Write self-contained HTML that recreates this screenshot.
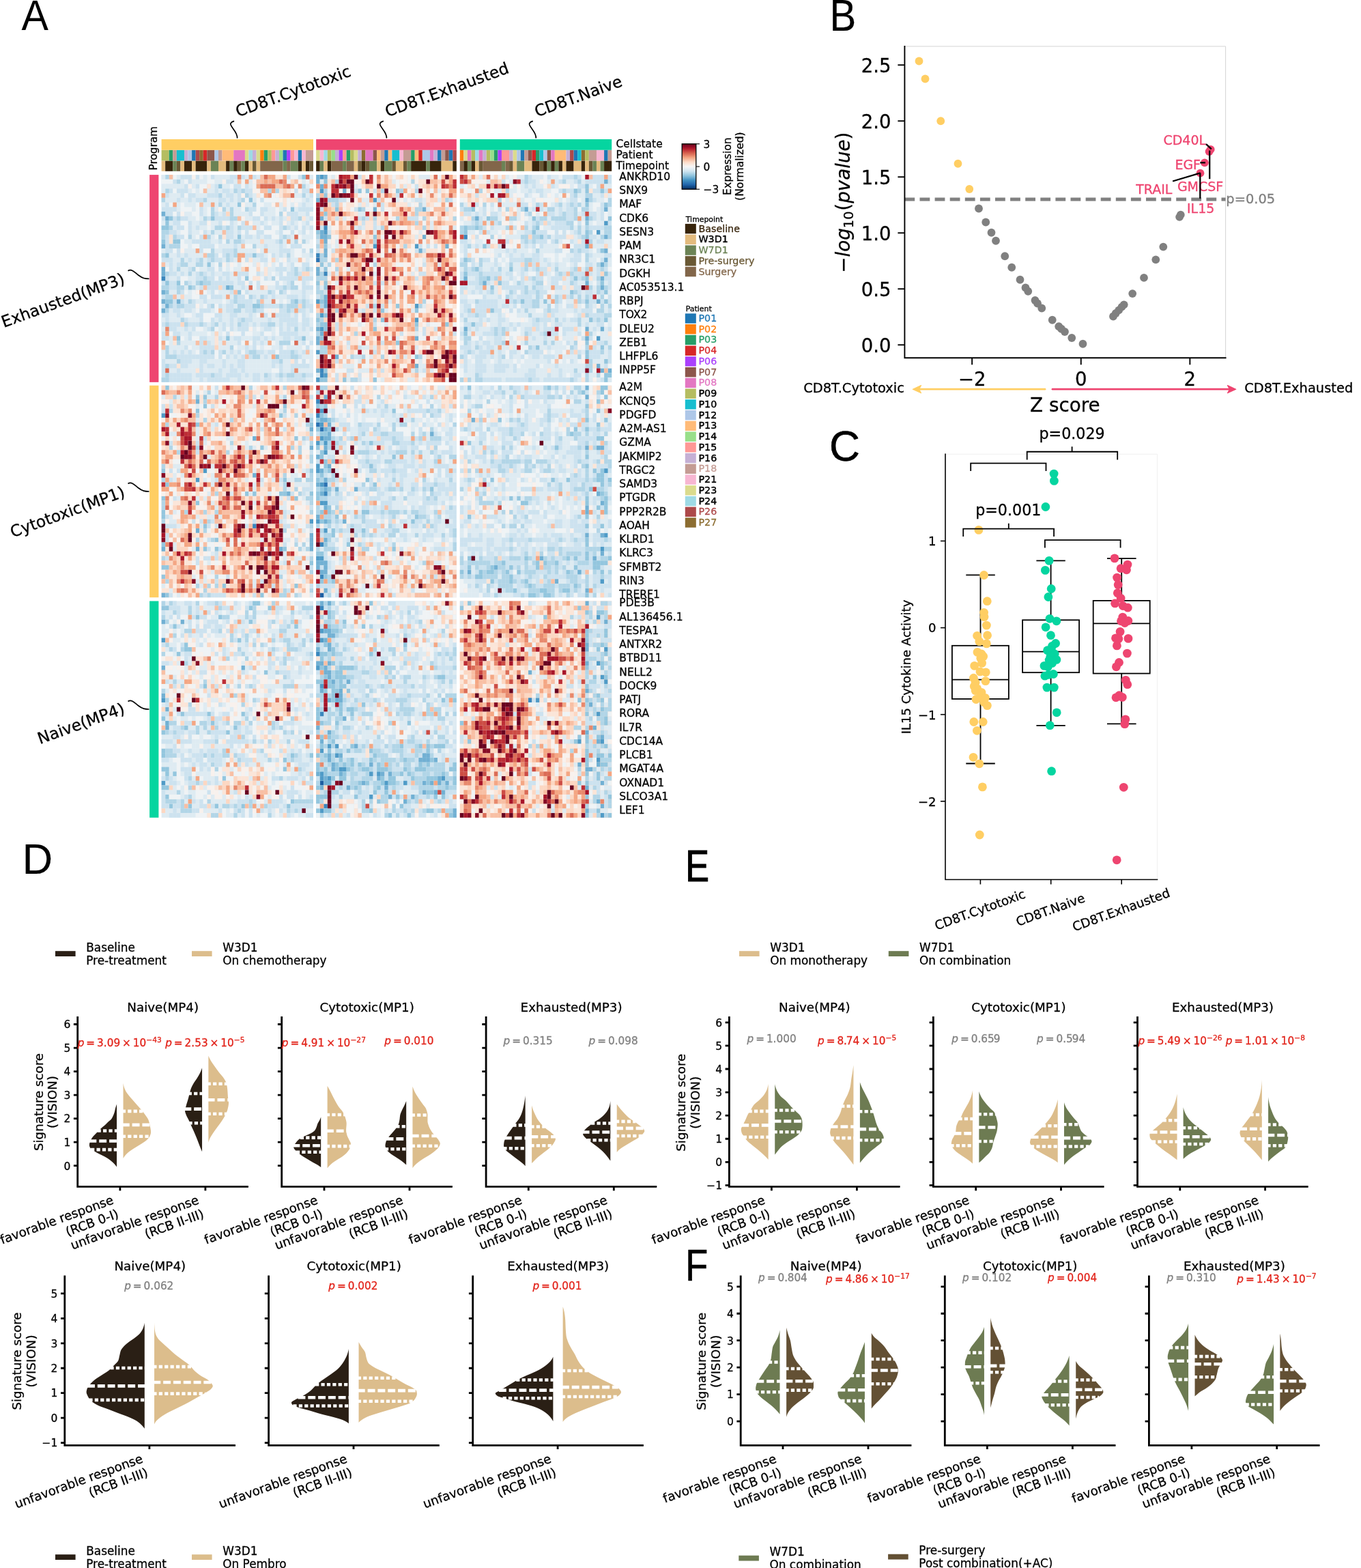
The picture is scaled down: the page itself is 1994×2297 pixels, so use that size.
<!DOCTYPE html>
<html lang="en">
<head>
<meta charset="utf-8">
<title>Figure</title>
<style>
html,body{margin:0;padding:0;background:#fff;}
body{width:1994px;height:2297px;overflow:hidden;}
svg{display:block;font-family:"DejaVu Sans","Liberation Sans",sans-serif;color:#000;}
text{fill:currentColor;stroke:currentColor;stroke-width:.3px;}
</style>
</head>
<body>
<svg xmlns="http://www.w3.org/2000/svg" width="1994" height="2297" viewBox="0 0 1994 2297">
<rect width="1994" height="2297" fill="#fff"/>
<g transform="translate(236.6 256.1) scale(5.56 6.75)">
<rect width="40" height="45" fill="#cce2ef"/>
<path fill="#3a87bd" d="M0 22h1v1h-1z"/>
<path fill="#71b0d3" d="M0 8h1v1h-1zM1 9h1v1h-1zM0 15h1v1h-1zM0 20h1v1h-1zM0 21h1v1h-1zM17 24h1v1h-1zM0 25h1v1h-1zM0 27h1v1h-1zM4 27h1v1h-1zM1 28h1v1h-1zM0 29h1v1h-1z"/>
<path fill="#93c6de" d="M37 0h1v1h-1zM15 2h1v1h-1zM23 5h1v1h-1zM20 6h1v1h-1zM34 7h1v1h-1zM2 9h1v1h-1zM13 9h1v1h-1zM1 10h1v1h-1zM0 11h2v1h-2zM20 13h1v1h-1zM0 14h1v1h-1zM3 14h2v1h-2zM1 17h1v1h-1zM24 17h1v1h-1zM12 19h1v1h-1zM22 22h1v1h-1zM1 23h1v1h-1zM4 23h1v1h-1zM10 23h1v1h-1zM7 24h1v1h-1zM18 24h1v1h-1zM1 25h1v1h-1zM20 25h1v1h-1zM1 27h2v1h-2zM35 27h1v1h-1zM24 28h2v1h-2zM4 35h1v1h-1zM17 35h1v1h-1zM37 35h1v1h-1zM30 39h1v1h-1z"/>
<path fill="#b1d5e7" d="M1 0h1v1h-1zM4 1h1v1h-1zM37 2h1v1h-1zM1 3h1v1h-1zM19 3h1v1h-1zM21 3h1v1h-1zM28 3h1v1h-1zM30 3h1v1h-1zM15 4h1v1h-1zM22 4h1v1h-1zM37 4h1v1h-1zM0 5h1v1h-1zM11 5h1v1h-1zM21 5h1v1h-1zM15 6h1v1h-1zM24 6h1v1h-1zM13 7h1v1h-1zM16 7h1v1h-1zM18 7h1v1h-1zM22 7h1v1h-1zM13 8h1v1h-1zM18 8h1v1h-1zM31 8h1v1h-1zM4 9h1v1h-1zM11 9h1v1h-1zM18 9h2v1h-2zM36 9h1v1h-1zM2 11h1v1h-1zM14 11h2v1h-2zM17 11h1v1h-1zM20 11h1v1h-1zM32 11h1v1h-1zM0 12h2v1h-2zM13 12h1v1h-1zM0 13h1v1h-1zM3 13h1v1h-1zM7 13h1v1h-1zM12 13h1v1h-1zM15 13h1v1h-1zM32 13h1v1h-1zM17 14h1v1h-1zM19 14h2v1h-2zM31 14h1v1h-1zM35 14h1v1h-1zM37 14h1v1h-1zM2 15h3v1h-3zM24 15h1v1h-1zM13 16h1v1h-1zM19 16h1v1h-1zM39 16h1v1h-1zM0 17h1v1h-1zM12 17h2v1h-2zM17 17h1v1h-1zM19 17h1v1h-1zM33 17h1v1h-1zM5 18h1v1h-1zM10 18h1v1h-1zM13 18h1v1h-1zM17 18h1v1h-1zM5 19h2v1h-2zM9 19h2v1h-2zM15 19h1v1h-1zM4 20h1v1h-1zM8 20h1v1h-1zM35 20h1v1h-1zM38 20h1v1h-1zM1 21h1v1h-1zM7 21h1v1h-1zM10 21h1v1h-1zM35 21h1v1h-1zM11 22h1v1h-1zM29 22h1v1h-1zM6 23h1v1h-1zM9 23h1v1h-1zM11 23h2v1h-2zM34 23h1v1h-1zM0 24h2v1h-2zM4 24h2v1h-2zM8 24h1v1h-1zM32 24h1v1h-1zM34 24h2v1h-2zM4 25h1v1h-1zM28 25h1v1h-1zM31 25h1v1h-1zM1 26h2v1h-2zM19 26h1v1h-1zM23 26h1v1h-1zM26 26h1v1h-1zM7 27h1v1h-1zM19 27h1v1h-1zM25 27h1v1h-1zM34 27h1v1h-1zM37 27h1v1h-1zM2 28h1v1h-1zM4 28h2v1h-2zM13 28h1v1h-1zM20 28h2v1h-2zM26 28h1v1h-1zM31 28h1v1h-1zM33 28h3v1h-3zM37 28h1v1h-1zM1 29h1v1h-1zM19 29h2v1h-2zM24 29h1v1h-1zM33 29h1v1h-1zM5 31h1v1h-1zM21 31h1v1h-1zM1 32h1v1h-1zM6 32h1v1h-1zM10 32h1v1h-1zM14 32h1v1h-1zM20 32h1v1h-1zM28 32h2v1h-2zM13 33h1v1h-1zM35 33h1v1h-1zM4 36h1v1h-1zM31 36h3v1h-3zM1 37h1v1h-1zM18 37h1v1h-1zM1 38h1v1h-1zM11 38h1v1h-1zM13 38h1v1h-1zM16 38h1v1h-1zM23 38h2v1h-2zM34 38h1v1h-1zM1 39h3v1h-3zM24 39h2v1h-2zM34 39h2v1h-2zM4 40h1v1h-1zM31 40h1v1h-1zM1 41h1v1h-1zM1 43h1v1h-1zM13 43h1v1h-1zM27 43h1v1h-1zM31 43h1v1h-1zM33 43h2v1h-2zM37 43h1v1h-1zM0 44h2v1h-2z"/>
<path fill="#deebf2" d="M0 0h1v1h-1zM4 0h1v1h-1zM11 0h1v1h-1zM14 0h4v1h-4zM22 0h1v1h-1zM25 0h1v1h-1zM39 0h1v1h-1zM5 1h1v1h-1zM8 1h4v1h-4zM14 1h2v1h-2zM19 1h1v1h-1zM23 1h1v1h-1zM37 1h1v1h-1zM0 2h6v1h-6zM8 2h1v1h-1zM13 2h1v1h-1zM16 2h2v1h-2zM23 2h1v1h-1zM38 2h1v1h-1zM0 3h1v1h-1zM7 3h1v1h-1zM9 3h1v1h-1zM12 3h2v1h-2zM15 3h1v1h-1zM18 3h1v1h-1zM2 4h3v1h-3zM9 4h3v1h-3zM16 4h1v1h-1zM19 4h1v1h-1zM24 4h1v1h-1zM35 4h2v1h-2zM38 4h1v1h-1zM1 5h3v1h-3zM5 5h2v1h-2zM8 5h1v1h-1zM12 5h3v1h-3zM17 5h1v1h-1zM19 5h1v1h-1zM24 5h1v1h-1zM37 5h1v1h-1zM39 5h1v1h-1zM0 6h1v1h-1zM4 6h1v1h-1zM6 6h3v1h-3zM11 6h2v1h-2zM14 6h1v1h-1zM16 6h1v1h-1zM18 6h2v1h-2zM22 6h2v1h-2zM27 6h2v1h-2zM31 6h1v1h-1zM34 6h1v1h-1zM36 6h1v1h-1zM38 6h2v1h-2zM4 7h1v1h-1zM8 7h1v1h-1zM11 7h1v1h-1zM14 7h1v1h-1zM17 7h1v1h-1zM19 7h2v1h-2zM28 7h2v1h-2zM31 7h1v1h-1zM35 7h1v1h-1zM6 8h2v1h-2zM11 8h1v1h-1zM15 8h1v1h-1zM19 8h4v1h-4zM27 8h3v1h-3zM36 8h2v1h-2zM7 9h2v1h-2zM10 9h1v1h-1zM22 9h2v1h-2zM28 9h1v1h-1zM30 9h1v1h-1zM32 9h1v1h-1zM38 9h1v1h-1zM0 10h1v1h-1zM2 10h1v1h-1zM8 10h2v1h-2zM13 10h2v1h-2zM19 10h1v1h-1zM24 10h2v1h-2zM27 10h1v1h-1zM29 10h2v1h-2zM33 10h1v1h-1zM35 10h1v1h-1zM37 10h1v1h-1zM3 11h1v1h-1zM8 11h1v1h-1zM10 11h2v1h-2zM13 11h1v1h-1zM19 11h1v1h-1zM25 11h1v1h-1zM34 11h1v1h-1zM38 11h1v1h-1zM4 12h1v1h-1zM8 12h2v1h-2zM12 12h1v1h-1zM14 12h2v1h-2zM19 12h1v1h-1zM30 12h1v1h-1zM36 12h1v1h-1zM39 12h1v1h-1zM8 13h1v1h-1zM13 13h1v1h-1zM19 13h1v1h-1zM21 13h1v1h-1zM24 13h1v1h-1zM26 13h1v1h-1zM34 13h1v1h-1zM37 13h3v1h-3zM6 14h2v1h-2zM13 14h2v1h-2zM18 14h1v1h-1zM22 14h4v1h-4zM27 14h3v1h-3zM32 14h1v1h-1zM34 14h1v1h-1zM38 14h1v1h-1zM7 15h1v1h-1zM15 15h4v1h-4zM20 15h1v1h-1zM25 15h2v1h-2zM28 15h3v1h-3zM32 15h1v1h-1zM0 16h1v1h-1zM6 16h3v1h-3zM14 16h2v1h-2zM20 16h5v1h-5zM26 16h1v1h-1zM28 16h3v1h-3zM34 16h1v1h-1zM2 17h2v1h-2zM5 17h1v1h-1zM7 17h4v1h-4zM27 17h1v1h-1zM30 17h1v1h-1zM32 17h1v1h-1zM34 17h1v1h-1zM37 17h2v1h-2zM3 18h2v1h-2zM6 18h1v1h-1zM8 18h1v1h-1zM11 18h1v1h-1zM16 18h1v1h-1zM19 18h1v1h-1zM24 18h2v1h-2zM30 18h1v1h-1zM34 18h2v1h-2zM38 18h1v1h-1zM1 19h1v1h-1zM3 19h1v1h-1zM7 19h2v1h-2zM11 19h1v1h-1zM13 19h1v1h-1zM17 19h1v1h-1zM20 19h1v1h-1zM24 19h1v1h-1zM27 19h1v1h-1zM29 19h1v1h-1zM33 19h1v1h-1zM3 20h1v1h-1zM5 20h2v1h-2zM10 20h2v1h-2zM17 20h1v1h-1zM19 20h2v1h-2zM28 20h2v1h-2zM33 20h1v1h-1zM36 20h1v1h-1zM4 21h1v1h-1zM6 21h1v1h-1zM8 21h1v1h-1zM12 21h1v1h-1zM14 21h2v1h-2zM18 21h1v1h-1zM26 21h1v1h-1zM28 21h1v1h-1zM30 21h1v1h-1zM39 21h1v1h-1zM2 22h2v1h-2zM7 22h2v1h-2zM16 22h1v1h-1zM18 22h2v1h-2zM28 22h1v1h-1zM8 23h1v1h-1zM19 23h1v1h-1zM32 23h1v1h-1zM38 23h1v1h-1zM6 24h1v1h-1zM9 24h1v1h-1zM19 24h2v1h-2zM22 24h1v1h-1zM28 24h2v1h-2zM2 25h2v1h-2zM7 25h1v1h-1zM12 25h1v1h-1zM15 25h3v1h-3zM23 25h5v1h-5zM34 25h3v1h-3zM38 25h2v1h-2zM4 26h1v1h-1zM6 26h2v1h-2zM16 26h1v1h-1zM18 26h1v1h-1zM25 26h1v1h-1zM28 26h1v1h-1zM30 26h3v1h-3zM36 26h1v1h-1zM38 26h1v1h-1zM6 27h1v1h-1zM9 27h2v1h-2zM12 27h4v1h-4zM17 27h1v1h-1zM24 27h1v1h-1zM27 27h2v1h-2zM31 27h1v1h-1zM33 27h1v1h-1zM39 27h1v1h-1zM10 28h1v1h-1zM16 28h1v1h-1zM19 28h1v1h-1zM2 29h1v1h-1zM5 29h1v1h-1zM8 29h1v1h-1zM13 29h1v1h-1zM16 29h1v1h-1zM21 29h1v1h-1zM38 29h1v1h-1zM2 30h2v1h-2zM5 30h1v1h-1zM8 30h1v1h-1zM16 30h2v1h-2zM20 30h3v1h-3zM24 30h1v1h-1zM34 30h1v1h-1zM38 30h1v1h-1zM0 31h1v1h-1zM2 31h3v1h-3zM7 31h3v1h-3zM14 31h1v1h-1zM16 31h2v1h-2zM19 31h1v1h-1zM24 31h4v1h-4zM29 31h2v1h-2zM39 31h1v1h-1zM12 32h1v1h-1zM15 32h1v1h-1zM17 32h1v1h-1zM19 32h1v1h-1zM23 32h1v1h-1zM25 32h1v1h-1zM30 32h1v1h-1zM32 32h1v1h-1zM36 32h1v1h-1zM39 32h1v1h-1zM0 33h1v1h-1zM4 33h2v1h-2zM7 33h1v1h-1zM11 33h1v1h-1zM15 33h1v1h-1zM19 33h1v1h-1zM24 33h1v1h-1zM26 33h1v1h-1zM29 33h1v1h-1zM32 33h1v1h-1zM34 33h1v1h-1zM36 33h1v1h-1zM38 33h1v1h-1zM5 34h2v1h-2zM8 34h4v1h-4zM13 34h1v1h-1zM15 34h1v1h-1zM24 34h2v1h-2zM29 34h1v1h-1zM36 34h3v1h-3zM2 35h1v1h-1zM6 35h1v1h-1zM12 35h2v1h-2zM16 35h1v1h-1zM18 35h1v1h-1zM21 35h3v1h-3zM26 35h1v1h-1zM28 35h1v1h-1zM30 35h2v1h-2zM34 35h1v1h-1zM38 35h2v1h-2zM2 36h1v1h-1zM5 36h4v1h-4zM13 36h1v1h-1zM15 36h1v1h-1zM17 36h3v1h-3zM25 36h1v1h-1zM27 36h1v1h-1zM30 36h1v1h-1zM36 36h1v1h-1zM2 37h4v1h-4zM8 37h2v1h-2zM15 37h3v1h-3zM20 37h2v1h-2zM23 37h1v1h-1zM26 37h1v1h-1zM29 37h2v1h-2zM33 37h4v1h-4zM0 38h1v1h-1zM2 38h1v1h-1zM4 38h1v1h-1zM6 38h1v1h-1zM8 38h1v1h-1zM17 38h1v1h-1zM19 38h1v1h-1zM27 38h1v1h-1zM36 38h1v1h-1zM39 38h1v1h-1zM0 39h1v1h-1zM18 39h1v1h-1zM20 39h1v1h-1zM26 39h1v1h-1zM28 39h1v1h-1zM37 39h3v1h-3zM1 40h3v1h-3zM8 40h2v1h-2zM12 40h4v1h-4zM17 40h3v1h-3zM22 40h7v1h-7zM32 40h2v1h-2zM39 40h1v1h-1zM7 41h3v1h-3zM11 41h1v1h-1zM14 41h2v1h-2zM17 41h1v1h-1zM19 41h1v1h-1zM22 41h7v1h-7zM30 41h1v1h-1zM32 41h2v1h-2zM39 41h1v1h-1zM2 42h2v1h-2zM5 42h4v1h-4zM11 42h4v1h-4zM16 42h2v1h-2zM20 42h1v1h-1zM22 42h7v1h-7zM32 42h2v1h-2zM36 42h4v1h-4zM8 43h1v1h-1zM16 43h1v1h-1zM21 43h1v1h-1zM23 43h1v1h-1zM26 43h1v1h-1zM29 43h1v1h-1zM8 44h2v1h-2zM11 44h1v1h-1zM18 44h2v1h-2zM21 44h3v1h-3zM26 44h1v1h-1zM29 44h2v1h-2zM32 44h1v1h-1zM38 44h2v1h-2z"/>
<path fill="#eff3f5" d="M3 0h1v1h-1zM10 0h1v1h-1zM12 0h1v1h-1zM34 0h2v1h-2zM0 1h3v1h-3zM6 1h1v1h-1zM12 1h2v1h-2zM21 1h1v1h-1zM33 1h1v1h-1zM38 1h1v1h-1zM10 2h2v1h-2zM18 2h1v1h-1zM21 2h1v1h-1zM24 2h1v1h-1zM35 2h1v1h-1zM39 2h1v1h-1zM3 3h1v1h-1zM8 3h1v1h-1zM10 3h1v1h-1zM6 4h1v1h-1zM26 4h1v1h-1zM29 4h1v1h-1zM22 5h1v1h-1zM25 5h1v1h-1zM27 5h4v1h-4zM33 5h1v1h-1zM35 5h2v1h-2zM2 6h1v1h-1zM5 6h1v1h-1zM9 6h1v1h-1zM25 6h2v1h-2zM33 6h1v1h-1zM5 7h3v1h-3zM9 7h1v1h-1zM12 7h1v1h-1zM21 7h1v1h-1zM25 7h1v1h-1zM30 7h1v1h-1zM33 7h1v1h-1zM3 8h1v1h-1zM8 8h2v1h-2zM12 8h1v1h-1zM24 8h2v1h-2zM30 8h1v1h-1zM39 8h1v1h-1zM9 9h1v1h-1zM26 9h1v1h-1zM5 10h2v1h-2zM17 10h1v1h-1zM20 10h1v1h-1zM28 10h1v1h-1zM36 10h1v1h-1zM39 10h1v1h-1zM6 11h1v1h-1zM12 11h1v1h-1zM26 11h1v1h-1zM29 11h2v1h-2zM36 11h1v1h-1zM5 12h2v1h-2zM10 12h1v1h-1zM21 12h1v1h-1zM23 12h2v1h-2zM27 12h3v1h-3zM32 12h2v1h-2zM35 12h1v1h-1zM38 12h1v1h-1zM6 13h1v1h-1zM9 13h1v1h-1zM14 13h1v1h-1zM29 13h2v1h-2zM36 13h1v1h-1zM5 14h1v1h-1zM16 14h1v1h-1zM39 14h1v1h-1zM5 15h2v1h-2zM8 15h2v1h-2zM14 15h1v1h-1zM22 15h2v1h-2zM33 15h1v1h-1zM37 15h3v1h-3zM3 16h1v1h-1zM11 16h2v1h-2zM35 16h2v1h-2zM38 16h1v1h-1zM15 17h1v1h-1zM28 17h1v1h-1zM35 17h2v1h-2zM28 18h1v1h-1zM31 18h1v1h-1zM39 18h1v1h-1zM14 19h1v1h-1zM19 19h1v1h-1zM21 19h1v1h-1zM23 19h1v1h-1zM26 19h1v1h-1zM30 19h1v1h-1zM32 19h1v1h-1zM35 19h2v1h-2zM39 19h1v1h-1zM1 20h1v1h-1zM9 20h1v1h-1zM14 20h1v1h-1zM16 20h1v1h-1zM18 20h1v1h-1zM23 20h2v1h-2zM26 20h1v1h-1zM23 21h2v1h-2zM29 21h1v1h-1zM32 21h1v1h-1zM5 22h2v1h-2zM14 22h1v1h-1zM21 22h1v1h-1zM23 22h1v1h-1zM26 22h1v1h-1zM30 22h1v1h-1zM5 23h1v1h-1zM24 23h1v1h-1zM26 23h4v1h-4zM31 23h1v1h-1zM35 23h2v1h-2zM39 23h1v1h-1zM24 24h1v1h-1zM36 24h1v1h-1zM6 25h1v1h-1zM8 25h1v1h-1zM11 25h1v1h-1zM14 25h1v1h-1zM21 25h1v1h-1zM30 25h1v1h-1zM33 25h1v1h-1zM8 26h2v1h-2zM12 26h1v1h-1zM22 26h1v1h-1zM39 26h1v1h-1zM16 27h1v1h-1zM30 27h1v1h-1zM32 27h1v1h-1zM11 28h1v1h-1zM14 28h1v1h-1zM9 29h1v1h-1zM14 29h1v1h-1zM27 29h1v1h-1zM29 29h1v1h-1zM6 30h2v1h-2zM11 30h3v1h-3zM25 30h1v1h-1zM28 30h1v1h-1zM36 30h1v1h-1zM39 30h1v1h-1zM11 31h2v1h-2zM36 31h1v1h-1zM9 33h2v1h-2zM14 33h1v1h-1zM17 33h1v1h-1zM25 33h1v1h-1zM30 33h1v1h-1zM2 34h1v1h-1zM12 34h1v1h-1zM16 34h1v1h-1zM19 34h2v1h-2zM22 34h2v1h-2zM27 34h2v1h-2zM30 34h1v1h-1zM39 34h1v1h-1zM5 35h1v1h-1zM8 35h2v1h-2zM1 36h1v1h-1zM21 36h1v1h-1zM23 36h1v1h-1zM29 36h1v1h-1zM34 36h1v1h-1zM38 36h1v1h-1zM7 37h1v1h-1zM19 37h1v1h-1zM25 37h1v1h-1zM27 37h2v1h-2zM32 37h1v1h-1zM37 37h1v1h-1zM39 37h1v1h-1zM9 38h1v1h-1zM14 38h1v1h-1zM21 38h1v1h-1zM30 38h1v1h-1zM14 39h1v1h-1zM16 39h1v1h-1zM36 40h1v1h-1zM38 40h1v1h-1zM29 42h2v1h-2z"/>
<path fill="#f8f1ed" d="M8 0h1v1h-1zM16 1h1v1h-1zM24 1h1v1h-1zM36 1h1v1h-1zM7 2h1v1h-1zM24 3h2v1h-2zM34 3h1v1h-1zM36 3h1v1h-1zM21 4h1v1h-1zM30 4h1v1h-1zM31 5h1v1h-1zM34 5h1v1h-1zM21 6h1v1h-1zM29 6h1v1h-1zM35 6h1v1h-1zM15 7h1v1h-1zM5 8h1v1h-1zM32 8h1v1h-1zM21 9h1v1h-1zM12 10h1v1h-1zM16 10h1v1h-1zM23 10h1v1h-1zM32 10h1v1h-1zM36 14h1v1h-1zM5 16h1v1h-1zM25 16h1v1h-1zM21 18h1v1h-1zM32 18h1v1h-1zM37 18h1v1h-1zM16 19h1v1h-1zM18 19h1v1h-1zM22 19h1v1h-1zM28 19h1v1h-1zM22 23h1v1h-1zM9 25h1v1h-1zM9 28h1v1h-1zM28 29h1v1h-1zM30 29h1v1h-1zM23 33h1v1h-1zM18 34h1v1h-1z"/>
<path fill="#fbe5d8" d="M30 0h2v1h-2zM12 2h1v1h-1zM31 3h1v1h-1zM33 3h1v1h-1zM25 4h1v1h-1zM31 4h1v1h-1zM32 5h1v1h-1zM32 6h1v1h-1zM33 9h1v1h-1zM37 9h1v1h-1zM2 13h1v1h-1zM16 13h1v1h-1zM2 14h1v1h-1zM23 18h1v1h-1zM25 19h1v1h-1zM27 20h1v1h-1zM27 21h1v1h-1zM24 22h2v1h-2zM27 24h1v1h-1zM14 35h1v1h-1zM3 36h1v1h-1zM14 36h1v1h-1zM34 40h1v1h-1zM4 41h1v1h-1zM9 42h1v1h-1z"/>
<path fill="#fcd7c2" d="M34 1h1v1h-1zM39 1h1v1h-1zM32 3h1v1h-1zM17 8h1v1h-1zM26 14h1v1h-1zM29 18h1v1h-1zM21 20h1v1h-1zM25 20h1v1h-1zM37 21h2v1h-2zM15 24h1v1h-1zM5 26h1v1h-1zM36 28h1v1h-1zM5 32h1v1h-1zM14 34h1v1h-1zM14 37h1v1h-1z"/>
<path fill="#f8bfa4" d="M2 0h1v1h-1zM26 0h1v1h-1zM20 1h1v1h-1zM25 1h2v1h-2zM28 1h1v1h-1zM35 1h1v1h-1zM30 2h2v1h-2zM11 3h1v1h-1zM26 3h2v1h-2zM32 4h2v1h-2zM10 6h1v1h-1zM30 6h1v1h-1zM20 9h1v1h-1zM22 10h1v1h-1zM24 11h1v1h-1zM16 12h1v1h-1zM21 15h1v1h-1zM11 17h1v1h-1zM36 18h1v1h-1zM0 19h1v1h-1zM36 22h1v1h-1zM11 24h1v1h-1zM26 24h1v1h-1zM19 25h1v1h-1zM3 26h1v1h-1zM26 27h1v1h-1zM15 29h1v1h-1zM3 35h1v1h-1zM9 36h1v1h-1zM11 36h1v1h-1zM16 36h1v1h-1zM0 37h1v1h-1zM38 38h1v1h-1zM22 39h1v1h-1z"/>
<path fill="#f4a683" d="M23 0h1v1h-1zM28 0h2v1h-2zM32 0h1v1h-1zM22 1h1v1h-1zM27 1h1v1h-1zM29 1h2v1h-2zM25 2h1v1h-1zM34 2h1v1h-1zM29 3h1v1h-1zM39 3h1v1h-1zM0 4h1v1h-1zM27 4h1v1h-1zM3 6h1v1h-1zM13 6h1v1h-1zM11 13h1v1h-1zM33 14h1v1h-1zM9 16h1v1h-1zM27 16h1v1h-1zM20 17h2v1h-2zM20 18h1v1h-1zM22 20h1v1h-1zM19 21h1v1h-1zM10 25h1v1h-1zM17 26h1v1h-1zM35 29h1v1h-1zM1 34h1v1h-1zM0 36h1v1h-1zM22 36h1v1h-1zM28 36h1v1h-1zM29 39h1v1h-1z"/>
<path fill="#e8896c" d="M20 0h1v1h-1zM32 1h1v1h-1zM32 2h1v1h-1zM36 2h1v1h-1zM28 4h1v1h-1zM29 27h1v1h-1zM26 30h1v1h-1zM29 30h1v1h-1zM1 33h1v1h-1zM35 42h1v1h-1z"/>
<path fill="#db6b55" d="M27 0h1v1h-1zM38 0h1v1h-1zM31 1h1v1h-1zM26 2h4v1h-4zM33 2h1v1h-1zM34 4h1v1h-1zM35 13h1v1h-1zM23 24h1v1h-1zM35 36h1v1h-1zM1 42h1v1h-1z"/>
</g>
<path d="M242.16 256.1v303.75M247.72 256.1v303.75M253.28 256.1v303.75M258.84 256.1v303.75M264.4 256.1v303.75M269.96 256.1v303.75M275.52 256.1v303.75M281.08 256.1v303.75M286.64 256.1v303.75M292.2 256.1v303.75M297.76 256.1v303.75M303.32 256.1v303.75M308.88 256.1v303.75M314.44 256.1v303.75M320 256.1v303.75M325.56 256.1v303.75M331.12 256.1v303.75M336.68 256.1v303.75M342.24 256.1v303.75M347.8 256.1v303.75M353.36 256.1v303.75M358.92 256.1v303.75M364.48 256.1v303.75M370.04 256.1v303.75M375.6 256.1v303.75M381.16 256.1v303.75M386.72 256.1v303.75M392.28 256.1v303.75M397.84 256.1v303.75M403.4 256.1v303.75M408.96 256.1v303.75M414.52 256.1v303.75M420.08 256.1v303.75M425.64 256.1v303.75M431.2 256.1v303.75M436.76 256.1v303.75M442.32 256.1v303.75M447.88 256.1v303.75M453.44 256.1v303.75M236.6 262.85h222.4M236.6 269.6h222.4M236.6 276.35h222.4M236.6 283.1h222.4M236.6 289.85h222.4M236.6 296.6h222.4M236.6 303.35h222.4M236.6 310.1h222.4M236.6 316.85h222.4M236.6 323.6h222.4M236.6 330.35h222.4M236.6 337.1h222.4M236.6 343.85h222.4M236.6 350.6h222.4M236.6 357.35h222.4M236.6 364.1h222.4M236.6 370.85h222.4M236.6 377.6h222.4M236.6 384.35h222.4M236.6 391.1h222.4M236.6 397.85h222.4M236.6 404.6h222.4M236.6 411.35h222.4M236.6 418.1h222.4M236.6 424.85h222.4M236.6 431.6h222.4M236.6 438.35h222.4M236.6 445.1h222.4M236.6 451.85h222.4M236.6 458.6h222.4M236.6 465.35h222.4M236.6 472.1h222.4M236.6 478.85h222.4M236.6 485.6h222.4M236.6 492.35h222.4M236.6 499.1h222.4M236.6 505.85h222.4M236.6 512.6h222.4M236.6 519.35h222.4M236.6 526.1h222.4M236.6 532.85h222.4M236.6 539.6h222.4M236.6 546.35h222.4M236.6 553.1h222.4" stroke="#fff" stroke-opacity=".16" stroke-width=".6" fill="none"/>
<g transform="translate(463.15 256.1) scale(5.56 6.75)">
<rect width="37" height="45" fill="#fcd7c2"/>
<path fill="#2b73b3" d="M0 18h1v1h-1z"/>
<path fill="#3a87bd" d="M2 11h1v1h-1zM0 17h1v1h-1zM2 21h1v1h-1zM1 42h1v1h-1zM1 43h1v1h-1z"/>
<path fill="#4f9bc7" d="M1 0h1v1h-1zM1 3h1v1h-1zM15 5h1v1h-1zM2 12h1v1h-1zM15 15h1v1h-1zM26 15h1v1h-1zM0 27h1v1h-1zM26 28h1v1h-1zM1 30h1v1h-1zM26 31h1v1h-1zM1 33h1v1h-1zM0 38h1v1h-1zM2 43h1v1h-1zM0 44h1v1h-1z"/>
<path fill="#71b0d3" d="M0 0h1v1h-1zM2 0h1v1h-1zM0 1h1v1h-1zM1 2h1v1h-1zM7 3h1v1h-1zM0 5h1v1h-1zM15 7h1v1h-1zM28 7h1v1h-1zM1 9h1v1h-1zM1 12h1v1h-1zM1 13h2v1h-2zM28 13h1v1h-1zM2 14h1v1h-1zM34 15h1v1h-1zM2 16h1v1h-1zM27 16h1v1h-1zM2 17h1v1h-1zM0 20h1v1h-1zM0 21h1v1h-1zM2 26h1v1h-1zM2 27h1v1h-1zM2 28h1v1h-1zM0 33h1v1h-1zM1 34h1v1h-1zM0 35h1v1h-1zM26 35h1v1h-1zM0 36h1v1h-1zM5 39h1v1h-1zM26 41h1v1h-1zM0 42h1v1h-1z"/>
<path fill="#93c6de" d="M2 1h1v1h-1zM11 3h1v1h-1zM13 3h1v1h-1zM21 3h1v1h-1zM2 4h1v1h-1zM5 7h1v1h-1zM11 7h1v1h-1zM2 8h1v1h-1zM0 12h1v1h-1zM3 13h1v1h-1zM15 13h1v1h-1zM2 15h1v1h-1zM1 19h1v1h-1zM2 20h1v1h-1zM0 23h1v1h-1zM2 23h1v1h-1zM2 24h1v1h-1zM1 27h1v1h-1zM21 28h1v1h-1zM17 29h1v1h-1zM26 29h1v1h-1zM2 30h1v1h-1zM0 31h1v1h-1zM17 31h1v1h-1zM1 32h2v1h-2zM26 32h1v1h-1zM34 32h1v1h-1zM2 33h1v1h-1zM15 33h1v1h-1zM1 35h1v1h-1zM21 36h1v1h-1zM26 39h1v1h-1zM2 42h1v1h-1zM1 44h2v1h-2zM7 44h1v1h-1zM15 44h1v1h-1z"/>
<path fill="#b1d5e7" d="M5 1h1v1h-1zM25 1h1v1h-1zM2 3h1v1h-1zM17 3h1v1h-1zM22 3h1v1h-1zM26 3h1v1h-1zM0 4h1v1h-1zM3 5h3v1h-3zM34 5h1v1h-1zM5 6h1v1h-1zM27 6h1v1h-1zM12 7h1v1h-1zM26 7h2v1h-2zM26 8h1v1h-1zM12 9h1v1h-1zM15 9h1v1h-1zM21 9h1v1h-1zM28 9h1v1h-1zM36 9h1v1h-1zM26 10h1v1h-1zM17 11h1v1h-1zM28 11h1v1h-1zM0 13h1v1h-1zM15 14h1v1h-1zM0 15h1v1h-1zM23 15h1v1h-1zM1 17h1v1h-1zM1 18h2v1h-2zM5 18h1v1h-1zM3 19h1v1h-1zM15 19h1v1h-1zM5 20h1v1h-1zM1 21h1v1h-1zM0 22h3v1h-3zM0 24h1v1h-1zM0 25h2v1h-2zM1 26h1v1h-1zM28 27h1v1h-1zM1 28h1v1h-1zM15 28h1v1h-1zM27 28h1v1h-1zM5 29h1v1h-1zM0 30h1v1h-1zM1 31h1v1h-1zM15 31h1v1h-1zM0 32h1v1h-1zM26 33h1v1h-1zM0 34h1v1h-1zM10 34h1v1h-1zM1 37h2v1h-2zM1 38h2v1h-2zM9 39h1v1h-1zM12 39h1v1h-1zM17 39h1v1h-1zM27 39h1v1h-1zM26 42h1v1h-1zM9 44h2v1h-2z"/>
<path fill="#cce2ef" d="M11 0h1v1h-1zM26 2h1v1h-1zM10 3h1v1h-1zM15 3h1v1h-1zM21 4h1v1h-1zM6 5h2v1h-2zM16 5h1v1h-1zM26 5h2v1h-2zM35 5h1v1h-1zM4 6h1v1h-1zM17 6h1v1h-1zM1 7h1v1h-1zM10 7h1v1h-1zM17 7h1v1h-1zM34 7h1v1h-1zM2 9h1v1h-1zM5 9h1v1h-1zM11 9h1v1h-1zM13 9h1v1h-1zM24 9h3v1h-3zM12 10h1v1h-1zM15 10h1v1h-1zM1 11h1v1h-1zM11 11h1v1h-1zM15 11h1v1h-1zM3 12h1v1h-1zM0 14h1v1h-1zM27 15h1v1h-1zM29 15h1v1h-1zM31 15h1v1h-1zM0 16h1v1h-1zM4 16h1v1h-1zM26 16h1v1h-1zM28 16h1v1h-1zM28 19h1v1h-1zM27 21h2v1h-2zM26 22h1v1h-1zM15 23h1v1h-1zM17 23h1v1h-1zM2 25h1v1h-1zM0 26h1v1h-1zM13 28h1v1h-1zM17 28h1v1h-1zM2 29h1v1h-1zM12 29h1v1h-1zM15 29h1v1h-1zM5 32h1v1h-1zM15 32h1v1h-1zM5 33h1v1h-1zM28 33h1v1h-1zM31 33h1v1h-1zM22 34h1v1h-1zM28 34h1v1h-1zM36 34h1v1h-1zM8 36h1v1h-1zM17 36h1v1h-1zM11 37h1v1h-1zM15 38h1v1h-1zM10 39h2v1h-2zM21 39h1v1h-1zM5 40h1v1h-1zM8 42h2v1h-2zM15 42h1v1h-1zM17 42h1v1h-1zM28 42h1v1h-1zM5 43h1v1h-1zM11 43h1v1h-1zM5 44h1v1h-1zM11 44h1v1h-1z"/>
<path fill="#deebf2" d="M4 0h1v1h-1zM27 0h3v1h-3zM1 1h1v1h-1zM20 1h1v1h-1zM10 2h1v1h-1zM23 2h1v1h-1zM32 3h1v1h-1zM12 5h2v1h-2zM21 5h1v1h-1zM23 5h1v1h-1zM25 5h1v1h-1zM28 5h1v1h-1zM32 5h1v1h-1zM11 6h1v1h-1zM13 6h1v1h-1zM15 6h1v1h-1zM24 6h1v1h-1zM28 6h1v1h-1zM29 7h1v1h-1zM11 8h2v1h-2zM7 9h1v1h-1zM30 10h1v1h-1zM3 11h1v1h-1zM10 11h1v1h-1zM12 11h1v1h-1zM16 11h1v1h-1zM30 11h1v1h-1zM36 11h1v1h-1zM15 12h1v1h-1zM27 12h1v1h-1zM26 13h1v1h-1zM5 14h1v1h-1zM3 15h1v1h-1zM5 15h1v1h-1zM12 15h1v1h-1zM15 18h1v1h-1zM28 18h1v1h-1zM2 19h1v1h-1zM32 19h1v1h-1zM1 20h1v1h-1zM8 20h1v1h-1zM26 20h1v1h-1zM3 21h1v1h-1zM5 21h1v1h-1zM15 21h1v1h-1zM25 21h1v1h-1zM5 23h1v1h-1zM21 23h1v1h-1zM33 23h1v1h-1zM1 24h1v1h-1zM15 27h1v1h-1zM19 27h1v1h-1zM28 28h1v1h-1zM11 29h1v1h-1zM18 29h1v1h-1zM25 29h1v1h-1zM7 32h1v1h-1zM11 32h1v1h-1zM18 32h1v1h-1zM29 32h1v1h-1zM26 34h1v1h-1zM21 35h1v1h-1zM32 35h1v1h-1zM5 36h1v1h-1zM0 37h1v1h-1zM8 37h1v1h-1zM12 37h2v1h-2zM15 37h1v1h-1zM26 37h1v1h-1zM0 39h1v1h-1zM14 39h1v1h-1zM23 39h1v1h-1zM11 40h1v1h-1zM27 40h1v1h-1zM7 41h3v1h-3zM27 41h2v1h-2zM11 42h3v1h-3zM25 42h1v1h-1zM27 42h1v1h-1zM30 42h1v1h-1zM0 43h1v1h-1zM8 43h1v1h-1zM8 44h1v1h-1zM17 44h1v1h-1zM24 44h2v1h-2z"/>
<path fill="#eff3f5" d="M3 0h1v1h-1zM20 0h1v1h-1zM24 0h1v1h-1zM32 0h1v1h-1zM21 1h1v1h-1zM24 1h1v1h-1zM11 2h1v1h-1zM21 2h1v1h-1zM25 2h1v1h-1zM3 3h1v1h-1zM12 3h1v1h-1zM30 3h1v1h-1zM11 4h1v1h-1zM13 4h1v1h-1zM15 4h1v1h-1zM26 4h1v1h-1zM28 4h1v1h-1zM32 4h1v1h-1zM8 5h1v1h-1zM24 5h1v1h-1zM36 5h1v1h-1zM7 6h1v1h-1zM25 6h1v1h-1zM31 6h1v1h-1zM9 7h1v1h-1zM13 7h2v1h-2zM20 9h1v1h-1zM27 9h1v1h-1zM30 9h1v1h-1zM34 9h1v1h-1zM3 10h1v1h-1zM28 10h1v1h-1zM19 11h1v1h-1zM21 11h1v1h-1zM33 11h2v1h-2zM5 13h1v1h-1zM17 13h1v1h-1zM3 14h1v1h-1zM28 14h1v1h-1zM4 15h1v1h-1zM21 15h1v1h-1zM28 15h1v1h-1zM30 15h1v1h-1zM3 16h1v1h-1zM19 16h1v1h-1zM24 16h1v1h-1zM34 16h1v1h-1zM3 17h1v1h-1zM17 17h1v1h-1zM3 18h1v1h-1zM26 18h1v1h-1zM4 19h1v1h-1zM14 19h1v1h-1zM21 19h2v1h-2zM26 19h1v1h-1zM3 20h1v1h-1zM15 20h1v1h-1zM23 21h1v1h-1zM15 22h1v1h-1zM27 23h1v1h-1zM17 24h1v1h-1zM5 25h1v1h-1zM21 25h1v1h-1zM24 25h1v1h-1zM26 26h1v1h-1zM30 27h1v1h-1zM19 28h1v1h-1zM24 28h1v1h-1zM27 29h2v1h-2zM12 32h1v1h-1zM17 32h1v1h-1zM30 32h2v1h-2zM36 32h1v1h-1zM7 34h1v1h-1zM27 34h1v1h-1zM34 34h1v1h-1zM6 35h1v1h-1zM12 35h1v1h-1zM17 35h1v1h-1zM27 35h2v1h-2zM31 35h1v1h-1zM11 36h1v1h-1zM21 37h1v1h-1zM12 38h1v1h-1zM17 38h1v1h-1zM26 38h1v1h-1zM3 39h1v1h-1zM6 39h1v1h-1zM8 39h1v1h-1zM13 39h1v1h-1zM19 39h1v1h-1zM25 39h1v1h-1zM28 39h1v1h-1zM7 40h1v1h-1zM10 40h1v1h-1zM13 40h1v1h-1zM10 41h1v1h-1zM12 41h2v1h-2zM5 42h3v1h-3zM15 43h1v1h-1zM27 43h2v1h-2zM12 44h2v1h-2zM16 44h1v1h-1zM34 44h1v1h-1z"/>
<path fill="#f8f1ed" d="M5 0h1v1h-1zM13 0h1v1h-1zM15 0h1v1h-1zM23 0h1v1h-1zM26 0h1v1h-1zM10 1h2v1h-2zM15 1h1v1h-1zM22 1h2v1h-2zM26 1h1v1h-1zM15 2h1v1h-1zM6 3h1v1h-1zM8 3h1v1h-1zM20 3h1v1h-1zM24 3h1v1h-1zM28 3h1v1h-1zM34 3h1v1h-1zM12 4h1v1h-1zM23 4h1v1h-1zM10 5h1v1h-1zM18 5h2v1h-2zM22 5h1v1h-1zM10 6h1v1h-1zM14 6h1v1h-1zM26 6h1v1h-1zM32 6h1v1h-1zM34 6h1v1h-1zM36 6h1v1h-1zM7 7h1v1h-1zM16 7h1v1h-1zM18 7h2v1h-2zM30 7h1v1h-1zM19 8h1v1h-1zM36 8h1v1h-1zM8 9h1v1h-1zM19 9h1v1h-1zM31 9h1v1h-1zM5 10h1v1h-1zM4 11h2v1h-2zM20 11h1v1h-1zM22 11h2v1h-2zM25 11h1v1h-1zM12 12h1v1h-1zM25 12h2v1h-2zM28 12h1v1h-1zM4 13h1v1h-1zM19 13h1v1h-1zM4 14h1v1h-1zM11 14h1v1h-1zM26 14h1v1h-1zM30 14h1v1h-1zM7 15h1v1h-1zM25 15h1v1h-1zM32 15h1v1h-1zM35 15h1v1h-1zM15 16h1v1h-1zM17 16h1v1h-1zM25 16h1v1h-1zM32 16h1v1h-1zM25 17h1v1h-1zM27 18h1v1h-1zM23 19h2v1h-2zM27 19h1v1h-1zM4 20h1v1h-1zM7 20h1v1h-1zM17 20h1v1h-1zM23 20h1v1h-1zM25 20h1v1h-1zM28 20h1v1h-1zM9 21h1v1h-1zM13 21h1v1h-1zM17 21h1v1h-1zM21 21h1v1h-1zM26 21h1v1h-1zM31 21h1v1h-1zM3 22h1v1h-1zM4 23h1v1h-1zM22 23h1v1h-1zM26 23h1v1h-1zM21 24h1v1h-1zM34 24h1v1h-1zM19 25h1v1h-1zM23 25h1v1h-1zM15 26h1v1h-1zM21 26h1v1h-1zM23 26h1v1h-1zM21 27h1v1h-1zM23 27h1v1h-1zM26 27h1v1h-1zM29 27h1v1h-1zM34 27h1v1h-1zM23 28h1v1h-1zM34 28h2v1h-2zM19 29h1v1h-1zM21 29h1v1h-1zM36 29h1v1h-1zM15 30h1v1h-1zM26 30h1v1h-1zM11 31h1v1h-1zM24 31h1v1h-1zM27 31h1v1h-1zM9 32h2v1h-2zM16 32h1v1h-1zM19 32h1v1h-1zM28 32h1v1h-1zM32 32h1v1h-1zM11 33h1v1h-1zM27 33h1v1h-1zM5 34h1v1h-1zM8 34h1v1h-1zM13 34h1v1h-1zM23 34h1v1h-1zM32 34h1v1h-1zM11 35h1v1h-1zM15 35h1v1h-1zM19 35h1v1h-1zM22 35h1v1h-1zM30 35h1v1h-1zM7 36h1v1h-1zM13 36h1v1h-1zM19 37h1v1h-1zM27 37h1v1h-1zM29 37h1v1h-1zM34 37h1v1h-1zM10 38h1v1h-1zM13 38h1v1h-1zM31 39h1v1h-1zM19 40h1v1h-1zM26 40h1v1h-1zM28 40h1v1h-1zM5 41h1v1h-1zM15 41h1v1h-1zM18 41h1v1h-1zM22 41h2v1h-2zM10 42h1v1h-1zM31 42h1v1h-1zM35 42h1v1h-1zM4 43h1v1h-1zM9 43h1v1h-1zM12 43h2v1h-2zM19 43h1v1h-1zM21 44h1v1h-1zM27 44h1v1h-1z"/>
<path fill="#fbe5d8" d="M17 0h1v1h-1zM19 0h1v1h-1zM21 0h1v1h-1zM30 0h1v1h-1zM36 0h1v1h-1zM3 1h1v1h-1zM17 1h1v1h-1zM27 1h2v1h-2zM3 2h1v1h-1zM12 2h1v1h-1zM24 2h1v1h-1zM27 2h1v1h-1zM32 2h1v1h-1zM14 3h1v1h-1zM19 3h1v1h-1zM25 3h1v1h-1zM33 3h1v1h-1zM3 4h1v1h-1zM17 4h1v1h-1zM29 4h1v1h-1zM31 4h1v1h-1zM29 5h1v1h-1zM8 6h2v1h-2zM12 6h1v1h-1zM18 6h1v1h-1zM21 6h3v1h-3zM30 6h1v1h-1zM8 7h1v1h-1zM20 7h1v1h-1zM25 7h1v1h-1zM35 7h1v1h-1zM10 8h1v1h-1zM17 8h1v1h-1zM24 8h1v1h-1zM31 8h1v1h-1zM35 8h1v1h-1zM9 9h1v1h-1zM16 9h2v1h-2zM33 9h1v1h-1zM35 9h1v1h-1zM7 10h1v1h-1zM11 10h1v1h-1zM13 10h2v1h-2zM16 10h1v1h-1zM8 11h1v1h-1zM13 11h2v1h-2zM32 11h1v1h-1zM4 12h1v1h-1zM17 12h1v1h-1zM11 13h2v1h-2zM14 13h1v1h-1zM25 13h1v1h-1zM27 13h1v1h-1zM29 13h2v1h-2zM34 13h1v1h-1zM7 14h1v1h-1zM10 14h1v1h-1zM17 14h1v1h-1zM14 15h1v1h-1zM1 16h1v1h-1zM21 16h1v1h-1zM29 16h3v1h-3zM36 16h1v1h-1zM5 17h1v1h-1zM28 17h1v1h-1zM34 17h1v1h-1zM7 18h1v1h-1zM21 18h1v1h-1zM25 18h1v1h-1zM36 18h1v1h-1zM0 19h1v1h-1zM12 19h1v1h-1zM20 19h1v1h-1zM30 20h1v1h-1zM34 20h1v1h-1zM7 21h1v1h-1zM20 21h1v1h-1zM24 21h1v1h-1zM17 22h1v1h-1zM22 22h1v1h-1zM27 22h1v1h-1zM35 22h1v1h-1zM1 23h1v1h-1zM19 23h1v1h-1zM30 23h1v1h-1zM15 24h1v1h-1zM20 24h1v1h-1zM27 24h1v1h-1zM36 24h1v1h-1zM15 25h1v1h-1zM17 25h1v1h-1zM17 26h1v1h-1zM5 27h1v1h-1zM13 27h1v1h-1zM11 28h2v1h-2zM25 28h1v1h-1zM29 28h2v1h-2zM36 28h1v1h-1zM29 29h1v1h-1zM5 30h1v1h-1zM24 30h1v1h-1zM5 31h1v1h-1zM7 31h1v1h-1zM16 31h1v1h-1zM23 31h1v1h-1zM34 31h1v1h-1zM8 32h1v1h-1zM13 32h1v1h-1zM27 32h1v1h-1zM7 33h1v1h-1zM12 33h2v1h-2zM16 33h2v1h-2zM23 33h1v1h-1zM29 33h2v1h-2zM34 33h1v1h-1zM17 34h3v1h-3zM21 34h1v1h-1zM24 34h2v1h-2zM29 34h1v1h-1zM3 35h1v1h-1zM5 35h1v1h-1zM7 35h1v1h-1zM9 35h2v1h-2zM23 35h1v1h-1zM36 35h1v1h-1zM9 36h2v1h-2zM15 36h1v1h-1zM26 36h1v1h-1zM34 36h1v1h-1zM5 37h1v1h-1zM7 37h1v1h-1zM17 37h1v1h-1zM23 37h1v1h-1zM28 37h1v1h-1zM5 38h1v1h-1zM7 38h2v1h-2zM31 38h1v1h-1zM16 39h1v1h-1zM18 39h1v1h-1zM20 39h1v1h-1zM32 39h1v1h-1zM9 40h1v1h-1zM15 40h1v1h-1zM24 40h1v1h-1zM33 40h1v1h-1zM6 41h1v1h-1zM14 41h1v1h-1zM17 41h1v1h-1zM3 42h1v1h-1zM18 42h1v1h-1zM6 43h1v1h-1zM10 43h1v1h-1zM17 43h2v1h-2zM23 43h2v1h-2zM3 44h1v1h-1zM6 44h1v1h-1zM20 44h1v1h-1zM23 44h1v1h-1zM30 44h1v1h-1z"/>
<path fill="#f8bfa4" d="M18 0h1v1h-1zM33 0h1v1h-1zM4 1h1v1h-1zM12 1h1v1h-1zM18 1h1v1h-1zM30 1h2v1h-2zM13 2h2v1h-2zM29 2h1v1h-1zM16 3h1v1h-1zM31 3h1v1h-1zM1 4h1v1h-1zM33 4h1v1h-1zM36 4h1v1h-1zM11 5h1v1h-1zM17 5h1v1h-1zM19 6h1v1h-1zM3 7h1v1h-1zM6 7h1v1h-1zM23 7h1v1h-1zM31 7h3v1h-3zM3 8h1v1h-1zM5 8h1v1h-1zM8 8h1v1h-1zM20 8h2v1h-2zM25 8h1v1h-1zM29 8h1v1h-1zM3 9h1v1h-1zM18 9h1v1h-1zM22 9h1v1h-1zM32 9h1v1h-1zM1 10h1v1h-1zM17 10h1v1h-1zM21 10h1v1h-1zM25 10h1v1h-1zM27 10h1v1h-1zM29 10h1v1h-1zM33 10h1v1h-1zM6 11h1v1h-1zM11 12h1v1h-1zM13 12h1v1h-1zM21 12h1v1h-1zM6 13h1v1h-1zM16 13h1v1h-1zM33 13h1v1h-1zM35 13h1v1h-1zM23 14h2v1h-2zM29 14h1v1h-1zM32 14h1v1h-1zM35 14h1v1h-1zM1 15h1v1h-1zM33 15h1v1h-1zM5 16h1v1h-1zM8 16h1v1h-1zM33 16h1v1h-1zM15 17h1v1h-1zM26 17h1v1h-1zM36 17h1v1h-1zM4 18h1v1h-1zM10 18h2v1h-2zM17 18h1v1h-1zM29 18h1v1h-1zM9 19h1v1h-1zM19 19h1v1h-1zM36 19h1v1h-1zM6 20h1v1h-1zM9 20h2v1h-2zM13 20h1v1h-1zM19 20h1v1h-1zM27 20h1v1h-1zM4 21h1v1h-1zM36 21h1v1h-1zM5 22h1v1h-1zM19 22h1v1h-1zM25 22h1v1h-1zM31 22h2v1h-2zM7 23h1v1h-1zM10 23h1v1h-1zM12 23h1v1h-1zM23 23h2v1h-2zM31 23h1v1h-1zM34 23h1v1h-1zM6 24h1v1h-1zM12 24h1v1h-1zM18 24h1v1h-1zM25 24h1v1h-1zM35 24h1v1h-1zM4 25h1v1h-1zM18 25h1v1h-1zM31 25h1v1h-1zM33 25h1v1h-1zM12 26h1v1h-1zM20 26h1v1h-1zM27 26h1v1h-1zM30 26h1v1h-1zM32 26h1v1h-1zM14 27h1v1h-1zM20 27h1v1h-1zM22 27h1v1h-1zM27 27h1v1h-1zM33 27h1v1h-1zM35 27h1v1h-1zM9 28h1v1h-1zM22 28h1v1h-1zM32 28h2v1h-2zM4 29h1v1h-1zM32 29h1v1h-1zM35 29h1v1h-1zM17 30h1v1h-1zM19 30h1v1h-1zM25 30h1v1h-1zM29 30h1v1h-1zM14 31h1v1h-1zM21 31h1v1h-1zM28 31h1v1h-1zM30 31h1v1h-1zM32 31h1v1h-1zM6 32h1v1h-1zM21 32h3v1h-3zM25 32h1v1h-1zM35 32h1v1h-1zM4 33h1v1h-1zM6 33h1v1h-1zM19 33h2v1h-2zM24 33h1v1h-1zM6 34h1v1h-1zM14 34h1v1h-1zM30 34h1v1h-1zM8 35h1v1h-1zM13 35h1v1h-1zM33 35h1v1h-1zM35 35h1v1h-1zM14 36h1v1h-1zM20 36h1v1h-1zM24 36h2v1h-2zM28 36h2v1h-2zM32 36h1v1h-1zM6 37h1v1h-1zM9 37h1v1h-1zM16 37h1v1h-1zM32 37h1v1h-1zM4 38h1v1h-1zM16 38h1v1h-1zM24 38h1v1h-1zM30 39h1v1h-1zM0 40h1v1h-1zM4 40h1v1h-1zM6 40h1v1h-1zM8 40h1v1h-1zM14 40h1v1h-1zM16 40h1v1h-1zM21 40h2v1h-2zM30 40h1v1h-1zM0 41h1v1h-1zM14 42h1v1h-1zM21 42h1v1h-1zM29 42h1v1h-1zM36 42h1v1h-1zM7 43h1v1h-1zM26 43h1v1h-1zM29 44h1v1h-1z"/>
<path fill="#f4a683" d="M9 0h1v1h-1zM35 0h1v1h-1zM16 1h1v1h-1zM35 1h1v1h-1zM17 2h2v1h-2zM31 2h1v1h-1zM23 3h1v1h-1zM35 3h2v1h-2zM19 4h1v1h-1zM25 4h1v1h-1zM14 5h1v1h-1zM20 6h1v1h-1zM33 6h1v1h-1zM2 7h1v1h-1zM24 7h1v1h-1zM1 8h1v1h-1zM7 8h1v1h-1zM16 8h1v1h-1zM22 8h1v1h-1zM23 9h1v1h-1zM4 10h1v1h-1zM6 10h1v1h-1zM10 10h1v1h-1zM23 10h2v1h-2zM31 10h1v1h-1zM18 11h1v1h-1zM6 12h3v1h-3zM24 12h1v1h-1zM32 12h2v1h-2zM7 13h1v1h-1zM9 13h1v1h-1zM32 13h1v1h-1zM1 14h1v1h-1zM9 14h1v1h-1zM14 14h1v1h-1zM8 15h1v1h-1zM20 15h1v1h-1zM6 16h2v1h-2zM9 16h1v1h-1zM12 16h1v1h-1zM6 18h1v1h-1zM18 18h1v1h-1zM22 18h1v1h-1zM30 18h1v1h-1zM33 18h2v1h-2zM11 19h1v1h-1zM17 19h2v1h-2zM33 19h1v1h-1zM11 20h1v1h-1zM21 20h2v1h-2zM24 20h1v1h-1zM6 21h1v1h-1zM11 21h1v1h-1zM32 21h1v1h-1zM11 22h1v1h-1zM13 22h1v1h-1zM21 22h1v1h-1zM24 22h1v1h-1zM28 22h1v1h-1zM8 23h1v1h-1zM11 23h1v1h-1zM13 23h2v1h-2zM28 23h1v1h-1zM11 24h1v1h-1zM24 24h1v1h-1zM29 24h1v1h-1zM31 24h2v1h-2zM10 25h1v1h-1zM12 25h1v1h-1zM14 25h1v1h-1zM20 25h1v1h-1zM22 25h1v1h-1zM27 25h1v1h-1zM29 25h1v1h-1zM32 25h1v1h-1zM13 26h1v1h-1zM19 26h1v1h-1zM22 26h1v1h-1zM24 26h1v1h-1zM9 27h2v1h-2zM12 27h1v1h-1zM16 27h1v1h-1zM24 27h2v1h-2zM32 27h1v1h-1zM36 27h1v1h-1zM0 28h1v1h-1zM7 28h1v1h-1zM18 28h1v1h-1zM8 29h2v1h-2zM24 29h1v1h-1zM34 29h1v1h-1zM11 30h1v1h-1zM18 30h1v1h-1zM27 30h1v1h-1zM6 31h1v1h-1zM9 31h1v1h-1zM20 31h1v1h-1zM25 31h1v1h-1zM31 31h1v1h-1zM33 31h1v1h-1zM36 31h1v1h-1zM14 32h1v1h-1zM24 32h1v1h-1zM8 33h1v1h-1zM14 33h1v1h-1zM25 33h1v1h-1zM33 33h1v1h-1zM15 34h2v1h-2zM35 34h1v1h-1zM24 35h1v1h-1zM4 36h1v1h-1zM18 36h2v1h-2zM10 37h1v1h-1zM30 37h1v1h-1zM35 37h2v1h-2zM3 38h1v1h-1zM22 39h1v1h-1zM12 40h1v1h-1zM20 40h1v1h-1zM32 40h1v1h-1zM11 41h1v1h-1zM16 41h1v1h-1zM21 41h1v1h-1zM24 41h1v1h-1zM24 42h1v1h-1zM21 43h2v1h-2zM29 43h2v1h-2zM34 43h1v1h-1z"/>
<path fill="#e8896c" d="M16 0h1v1h-1zM0 2h1v1h-1zM2 2h1v1h-1zM35 2h1v1h-1zM16 4h1v1h-1zM30 4h1v1h-1zM16 6h1v1h-1zM4 8h1v1h-1zM30 8h1v1h-1zM8 10h1v1h-1zM20 10h1v1h-1zM22 10h1v1h-1zM32 10h1v1h-1zM35 11h1v1h-1zM14 12h1v1h-1zM22 13h1v1h-1zM19 14h3v1h-3zM27 14h1v1h-1zM34 14h1v1h-1zM14 16h1v1h-1zM18 16h1v1h-1zM22 16h1v1h-1zM35 16h1v1h-1zM6 17h1v1h-1zM8 17h1v1h-1zM11 17h1v1h-1zM20 17h1v1h-1zM22 17h1v1h-1zM24 17h1v1h-1zM31 17h1v1h-1zM9 18h1v1h-1zM20 18h1v1h-1zM24 18h1v1h-1zM10 19h1v1h-1zM31 19h1v1h-1zM14 20h1v1h-1zM18 20h1v1h-1zM31 20h1v1h-1zM33 20h1v1h-1zM8 21h1v1h-1zM12 21h1v1h-1zM18 21h1v1h-1zM33 21h1v1h-1zM14 22h1v1h-1zM29 22h1v1h-1zM18 23h1v1h-1zM20 23h1v1h-1zM29 23h1v1h-1zM28 24h1v1h-1zM33 24h1v1h-1zM25 26h1v1h-1zM31 26h1v1h-1zM33 26h1v1h-1zM7 27h1v1h-1zM18 27h1v1h-1zM1 29h1v1h-1zM16 29h1v1h-1zM22 29h1v1h-1zM9 30h1v1h-1zM13 30h1v1h-1zM33 30h1v1h-1zM33 32h1v1h-1zM21 33h2v1h-2zM32 33h1v1h-1zM20 34h1v1h-1zM33 34h1v1h-1zM18 35h1v1h-1zM25 35h1v1h-1zM1 36h1v1h-1zM16 36h1v1h-1zM23 36h1v1h-1zM35 36h2v1h-2zM3 37h1v1h-1zM31 37h1v1h-1zM33 37h1v1h-1zM6 38h1v1h-1zM22 38h2v1h-2zM18 40h1v1h-1zM29 40h1v1h-1zM35 40h1v1h-1zM4 41h1v1h-1zM25 41h1v1h-1zM20 42h1v1h-1zM32 42h1v1h-1zM31 44h2v1h-2z"/>
<path fill="#db6b55" d="M31 0h1v1h-1zM18 4h1v1h-1zM35 4h1v1h-1zM35 6h1v1h-1zM22 7h1v1h-1zM33 8h1v1h-1zM9 12h1v1h-1zM16 12h1v1h-1zM23 12h1v1h-1zM12 14h1v1h-1zM33 14h1v1h-1zM36 14h1v1h-1zM18 15h1v1h-1zM13 16h1v1h-1zM12 17h1v1h-1zM19 17h1v1h-1zM23 17h1v1h-1zM29 17h2v1h-2zM35 17h1v1h-1zM35 20h2v1h-2zM10 21h1v1h-1zM22 21h1v1h-1zM4 22h1v1h-1zM7 22h1v1h-1zM9 22h1v1h-1zM30 22h1v1h-1zM34 22h1v1h-1zM8 24h1v1h-1zM6 25h1v1h-1zM11 25h1v1h-1zM13 25h1v1h-1zM5 26h1v1h-1zM8 27h1v1h-1zM31 27h1v1h-1zM5 28h2v1h-2zM7 30h1v1h-1zM13 31h1v1h-1zM29 31h1v1h-1zM22 36h1v1h-1zM31 36h1v1h-1zM4 37h1v1h-1zM22 37h1v1h-1zM25 37h1v1h-1zM14 38h1v1h-1zM33 38h1v1h-1zM35 39h1v1h-1zM29 41h1v1h-1zM32 41h2v1h-2z"/>
<path fill="#cc4c44" d="M7 1h1v1h-1zM33 1h1v1h-1zM8 2h1v1h-1zM34 2h1v1h-1zM9 11h1v1h-1zM35 12h1v1h-1zM18 14h1v1h-1zM18 17h1v1h-1zM12 18h1v1h-1zM34 19h1v1h-1zM16 23h1v1h-1zM14 24h1v1h-1zM35 25h1v1h-1zM29 26h1v1h-1zM36 26h1v1h-1zM14 28h1v1h-1zM18 31h1v1h-1zM35 31h1v1h-1zM2 34h1v1h-1zM4 34h1v1h-1zM16 35h1v1h-1zM20 35h1v1h-1zM29 35h1v1h-1zM12 36h1v1h-1zM2 39h1v1h-1zM25 40h1v1h-1zM30 41h1v1h-1zM36 41h1v1h-1zM23 42h1v1h-1zM33 42h1v1h-1zM20 43h1v1h-1zM33 44h1v1h-1z"/>
<path fill="#bd2d35" d="M7 0h2v1h-2zM14 0h1v1h-1zM14 1h1v1h-1zM36 1h1v1h-1zM4 2h1v1h-1zM33 2h1v1h-1zM36 2h1v1h-1zM4 3h2v1h-2zM5 4h1v1h-1zM9 4h1v1h-1zM14 4h1v1h-1zM22 4h1v1h-1zM13 8h1v1h-1zM18 8h1v1h-1zM10 9h1v1h-1zM20 12h1v1h-1zM31 12h1v1h-1zM31 13h1v1h-1zM16 14h1v1h-1zM9 15h1v1h-1zM33 17h1v1h-1zM16 18h1v1h-1zM20 20h1v1h-1zM32 20h1v1h-1zM16 22h1v1h-1zM20 22h1v1h-1zM4 24h1v1h-1zM16 24h1v1h-1zM8 25h1v1h-1zM25 25h1v1h-1zM6 26h1v1h-1zM8 26h2v1h-2zM4 27h1v1h-1zM4 28h1v1h-1zM10 28h1v1h-1zM31 28h1v1h-1zM6 29h1v1h-1zM20 30h1v1h-1zM18 33h1v1h-1zM20 38h1v1h-1zM28 38h1v1h-1zM36 38h1v1h-1zM4 39h1v1h-1zM2 40h1v1h-1zM2 41h1v1h-1zM34 41h1v1h-1z"/>
<path fill="#a81529" d="M6 0h1v1h-1zM6 2h1v1h-1zM2 5h1v1h-1zM0 6h1v1h-1zM23 8h1v1h-1zM0 10h1v1h-1zM10 12h1v1h-1zM36 12h1v1h-1zM36 13h1v1h-1zM6 14h1v1h-1zM16 15h1v1h-1zM14 17h1v1h-1zM13 19h1v1h-1zM35 21h1v1h-1zM8 22h1v1h-1zM10 22h1v1h-1zM36 22h1v1h-1zM6 23h1v1h-1zM3 25h1v1h-1zM3 26h1v1h-1zM3 27h1v1h-1zM33 29h1v1h-1zM22 30h1v1h-1zM32 30h1v1h-1zM3 32h1v1h-1zM12 34h1v1h-1zM2 36h2v1h-2zM11 38h1v1h-1zM25 38h1v1h-1zM35 38h1v1h-1zM20 41h1v1h-1zM34 42h1v1h-1zM31 43h1v1h-1z"/>
<path fill="#870a24" d="M6 1h1v1h-1zM5 2h1v1h-1zM7 2h1v1h-1zM7 4h2v1h-2zM1 5h1v1h-1zM1 6h1v1h-1zM0 7h1v1h-1zM0 8h1v1h-1zM0 9h1v1h-1zM0 11h1v1h-1zM22 12h1v1h-1zM30 12h1v1h-1zM18 13h1v1h-1zM8 14h1v1h-1zM16 16h1v1h-1zM32 17h1v1h-1zM16 20h1v1h-1zM16 21h1v1h-1zM14 26h1v1h-1zM16 26h1v1h-1zM6 27h1v1h-1zM8 28h1v1h-1zM16 28h1v1h-1zM3 29h1v1h-1zM7 29h1v1h-1zM10 29h1v1h-1zM3 30h1v1h-1zM16 30h1v1h-1zM35 30h1v1h-1zM3 31h1v1h-1zM12 31h1v1h-1zM19 38h1v1h-1zM3 40h1v1h-1zM34 40h1v1h-1zM36 40h1v1h-1zM1 41h1v1h-1zM33 43h1v1h-1z"/>
<path fill="#67001f" d="M10 0h1v1h-1zM34 0h1v1h-1zM8 1h2v1h-2zM13 1h1v1h-1zM29 1h1v1h-1zM9 2h1v1h-1zM16 2h1v1h-1zM9 3h1v1h-1zM18 3h1v1h-1zM27 3h1v1h-1zM4 4h1v1h-1zM6 4h1v1h-1zM9 5h1v1h-1zM20 5h1v1h-1zM2 6h1v1h-1zM6 8h1v1h-1zM15 8h1v1h-1zM2 10h1v1h-1zM9 10h1v1h-1zM19 10h1v1h-1zM18 12h2v1h-2zM29 12h1v1h-1zM20 13h1v1h-1zM20 16h1v1h-1zM9 17h2v1h-2zM13 18h2v1h-2zM32 18h1v1h-1zM8 19h1v1h-1zM12 20h1v1h-1zM14 21h1v1h-1zM34 21h1v1h-1zM6 22h1v1h-1zM12 22h1v1h-1zM18 22h1v1h-1zM33 22h1v1h-1zM35 23h2v1h-2zM3 24h1v1h-1zM10 24h1v1h-1zM23 24h1v1h-1zM16 25h1v1h-1zM4 26h1v1h-1zM7 26h1v1h-1zM18 26h1v1h-1zM35 26h1v1h-1zM3 28h1v1h-1zM31 29h1v1h-1zM4 30h1v1h-1zM6 30h1v1h-1zM12 30h1v1h-1zM14 30h1v1h-1zM21 30h1v1h-1zM4 31h1v1h-1zM22 31h1v1h-1zM3 33h1v1h-1zM36 33h1v1h-1zM3 34h1v1h-1zM2 35h1v1h-1zM29 38h2v1h-2zM34 38h1v1h-1zM1 39h1v1h-1zM33 39h2v1h-2zM36 39h1v1h-1zM1 40h1v1h-1zM31 40h1v1h-1zM3 41h1v1h-1zM31 41h1v1h-1zM35 41h1v1h-1zM32 43h1v1h-1zM35 43h2v1h-2zM35 44h2v1h-2z"/>
</g>
<path d="M468.71 256.1v303.75M474.27 256.1v303.75M479.83 256.1v303.75M485.39 256.1v303.75M490.95 256.1v303.75M496.51 256.1v303.75M502.07 256.1v303.75M507.63 256.1v303.75M513.19 256.1v303.75M518.75 256.1v303.75M524.31 256.1v303.75M529.87 256.1v303.75M535.43 256.1v303.75M540.99 256.1v303.75M546.55 256.1v303.75M552.11 256.1v303.75M557.67 256.1v303.75M563.23 256.1v303.75M568.79 256.1v303.75M574.35 256.1v303.75M579.91 256.1v303.75M585.47 256.1v303.75M591.03 256.1v303.75M596.59 256.1v303.75M602.15 256.1v303.75M607.71 256.1v303.75M613.27 256.1v303.75M618.83 256.1v303.75M624.39 256.1v303.75M629.95 256.1v303.75M635.51 256.1v303.75M641.07 256.1v303.75M646.63 256.1v303.75M652.19 256.1v303.75M657.75 256.1v303.75M663.31 256.1v303.75M463.15 262.85h205.72M463.15 269.6h205.72M463.15 276.35h205.72M463.15 283.1h205.72M463.15 289.85h205.72M463.15 296.6h205.72M463.15 303.35h205.72M463.15 310.1h205.72M463.15 316.85h205.72M463.15 323.6h205.72M463.15 330.35h205.72M463.15 337.1h205.72M463.15 343.85h205.72M463.15 350.6h205.72M463.15 357.35h205.72M463.15 364.1h205.72M463.15 370.85h205.72M463.15 377.6h205.72M463.15 384.35h205.72M463.15 391.1h205.72M463.15 397.85h205.72M463.15 404.6h205.72M463.15 411.35h205.72M463.15 418.1h205.72M463.15 424.85h205.72M463.15 431.6h205.72M463.15 438.35h205.72M463.15 445.1h205.72M463.15 451.85h205.72M463.15 458.6h205.72M463.15 465.35h205.72M463.15 472.1h205.72M463.15 478.85h205.72M463.15 485.6h205.72M463.15 492.35h205.72M463.15 499.1h205.72M463.15 505.85h205.72M463.15 512.6h205.72M463.15 519.35h205.72M463.15 526.1h205.72M463.15 532.85h205.72M463.15 539.6h205.72M463.15 546.35h205.72M463.15 553.1h205.72" stroke="#fff" stroke-opacity=".16" stroke-width=".6" fill="none"/>
<g transform="translate(673.8 256.1) scale(5.56 6.75)">
<rect width="40" height="45" fill="#cce2ef"/>
<path fill="#3a87bd" d="M1 13h1v1h-1z"/>
<path fill="#4f9bc7" d="M38 10h1v1h-1zM36 12h1v1h-1zM36 35h1v1h-1z"/>
<path fill="#71b0d3" d="M38 1h1v1h-1zM33 5h1v1h-1zM17 7h1v1h-1zM38 7h1v1h-1zM4 9h1v1h-1zM33 9h1v1h-1zM38 13h1v1h-1zM33 15h1v1h-1zM38 16h1v1h-1zM38 18h1v1h-1zM37 19h1v1h-1zM1 22h1v1h-1zM37 22h1v1h-1zM6 23h1v1h-1zM33 23h1v1h-1zM37 24h1v1h-1zM36 27h1v1h-1zM1 33h1v1h-1zM33 33h1v1h-1zM37 33h1v1h-1zM33 35h1v1h-1zM36 41h1v1h-1zM37 42h1v1h-1zM39 42h1v1h-1z"/>
<path fill="#93c6de" d="M33 2h1v1h-1zM30 3h1v1h-1zM33 3h1v1h-1zM37 3h1v1h-1zM33 6h1v1h-1zM38 6h1v1h-1zM3 7h1v1h-1zM7 9h1v1h-1zM19 9h1v1h-1zM39 9h1v1h-1zM33 10h1v1h-1zM1 11h1v1h-1zM4 11h1v1h-1zM20 11h1v1h-1zM1 12h1v1h-1zM19 12h1v1h-1zM33 12h1v1h-1zM21 13h1v1h-1zM33 13h1v1h-1zM6 15h1v1h-1zM37 16h1v1h-1zM1 18h1v1h-1zM4 20h1v1h-1zM13 20h1v1h-1zM1 21h1v1h-1zM38 21h1v1h-1zM7 22h1v1h-1zM30 22h1v1h-1zM33 22h1v1h-1zM10 23h1v1h-1zM37 23h1v1h-1zM8 24h1v1h-1zM29 25h1v1h-1zM38 25h1v1h-1zM16 27h1v1h-1zM22 27h1v1h-1zM33 27h1v1h-1zM38 27h1v1h-1zM8 29h1v1h-1zM34 31h1v1h-1zM38 31h1v1h-1zM3 32h1v1h-1zM1 34h1v1h-1zM33 36h1v1h-1zM20 37h1v1h-1zM37 37h1v1h-1zM33 38h1v1h-1zM33 39h1v1h-1zM38 40h1v1h-1zM38 43h2v1h-2zM38 44h1v1h-1z"/>
<path fill="#b1d5e7" d="M17 0h1v1h-1zM30 0h1v1h-1zM17 1h1v1h-1zM27 1h1v1h-1zM31 1h1v1h-1zM5 3h1v1h-1zM12 3h1v1h-1zM27 3h1v1h-1zM31 3h1v1h-1zM30 4h1v1h-1zM33 4h2v1h-2zM10 5h1v1h-1zM34 5h1v1h-1zM39 5h1v1h-1zM0 6h1v1h-1zM6 6h1v1h-1zM20 6h1v1h-1zM26 6h1v1h-1zM29 6h1v1h-1zM31 6h1v1h-1zM39 6h1v1h-1zM1 7h2v1h-2zM12 7h1v1h-1zM16 7h1v1h-1zM23 7h2v1h-2zM30 7h1v1h-1zM32 7h2v1h-2zM18 8h1v1h-1zM27 8h1v1h-1zM30 8h1v1h-1zM3 9h1v1h-1zM8 9h2v1h-2zM13 9h2v1h-2zM21 9h2v1h-2zM24 9h4v1h-4zM30 9h1v1h-1zM34 9h1v1h-1zM4 10h1v1h-1zM10 10h1v1h-1zM20 10h1v1h-1zM28 10h2v1h-2zM0 11h1v1h-1zM2 11h2v1h-2zM5 11h1v1h-1zM12 11h1v1h-1zM17 11h1v1h-1zM19 11h1v1h-1zM29 11h1v1h-1zM31 11h1v1h-1zM33 11h1v1h-1zM38 11h2v1h-2zM0 12h1v1h-1zM31 12h1v1h-1zM34 12h1v1h-1zM38 12h2v1h-2zM8 13h1v1h-1zM16 13h2v1h-2zM19 13h2v1h-2zM23 13h1v1h-1zM32 13h1v1h-1zM37 13h1v1h-1zM39 13h1v1h-1zM17 14h1v1h-1zM19 14h1v1h-1zM25 14h1v1h-1zM34 14h1v1h-1zM2 15h1v1h-1zM20 16h1v1h-1zM29 16h1v1h-1zM31 16h1v1h-1zM33 17h1v1h-1zM2 18h1v1h-1zM5 18h1v1h-1zM17 18h2v1h-2zM33 18h1v1h-1zM0 19h2v1h-2zM5 19h1v1h-1zM13 19h1v1h-1zM17 19h1v1h-1zM36 19h1v1h-1zM38 19h1v1h-1zM1 20h1v1h-1zM3 20h1v1h-1zM10 20h1v1h-1zM17 20h1v1h-1zM20 20h1v1h-1zM25 20h1v1h-1zM30 20h1v1h-1zM33 20h1v1h-1zM37 20h1v1h-1zM5 21h1v1h-1zM26 21h1v1h-1zM29 21h1v1h-1zM5 22h2v1h-2zM9 22h1v1h-1zM19 22h1v1h-1zM32 22h1v1h-1zM36 22h1v1h-1zM5 23h1v1h-1zM15 23h1v1h-1zM20 23h2v1h-2zM29 23h1v1h-1zM17 24h1v1h-1zM19 24h1v1h-1zM34 24h1v1h-1zM36 24h1v1h-1zM38 24h1v1h-1zM8 25h1v1h-1zM13 25h1v1h-1zM17 25h1v1h-1zM20 25h1v1h-1zM30 25h1v1h-1zM36 25h1v1h-1zM12 26h1v1h-1zM20 26h1v1h-1zM25 26h1v1h-1zM29 26h1v1h-1zM31 26h1v1h-1zM33 26h1v1h-1zM37 26h1v1h-1zM4 27h1v1h-1zM14 27h1v1h-1zM19 27h2v1h-2zM25 27h1v1h-1zM31 27h1v1h-1zM19 28h2v1h-2zM23 28h1v1h-1zM33 28h1v1h-1zM37 28h1v1h-1zM39 28h1v1h-1zM2 29h1v1h-1zM17 29h1v1h-1zM23 29h1v1h-1zM36 29h2v1h-2zM4 30h1v1h-1zM18 30h1v1h-1zM33 30h1v1h-1zM38 30h2v1h-2zM1 31h1v1h-1zM20 31h1v1h-1zM25 31h1v1h-1zM31 31h1v1h-1zM36 31h1v1h-1zM31 32h1v1h-1zM9 33h1v1h-1zM11 33h1v1h-1zM9 34h1v1h-1zM11 34h1v1h-1zM17 34h1v1h-1zM22 34h1v1h-1zM34 34h1v1h-1zM1 35h2v1h-2zM1 36h1v1h-1zM11 36h1v1h-1zM17 36h1v1h-1zM22 36h1v1h-1zM24 36h1v1h-1zM30 36h1v1h-1zM38 36h1v1h-1zM4 37h1v1h-1zM18 37h1v1h-1zM29 37h1v1h-1zM33 37h1v1h-1zM39 37h1v1h-1zM2 38h1v1h-1zM17 38h1v1h-1zM37 38h1v1h-1zM0 39h1v1h-1zM11 39h1v1h-1zM31 39h1v1h-1zM34 40h1v1h-1zM33 41h2v1h-2zM30 42h1v1h-1zM34 42h1v1h-1zM4 43h1v1h-1zM33 43h1v1h-1zM36 43h1v1h-1zM0 44h1v1h-1zM2 44h1v1h-1zM4 44h2v1h-2zM18 44h1v1h-1zM29 44h1v1h-1zM33 44h1v1h-1z"/>
<path fill="#deebf2" d="M5 0h1v1h-1zM12 0h1v1h-1zM15 0h2v1h-2zM19 0h3v1h-3zM24 0h2v1h-2zM7 1h1v1h-1zM13 1h1v1h-1zM20 1h1v1h-1zM23 1h1v1h-1zM25 1h1v1h-1zM28 1h2v1h-2zM32 1h1v1h-1zM0 2h1v1h-1zM14 2h1v1h-1zM16 2h1v1h-1zM18 2h1v1h-1zM20 2h2v1h-2zM25 2h1v1h-1zM29 2h1v1h-1zM34 2h1v1h-1zM38 2h2v1h-2zM9 3h2v1h-2zM13 3h2v1h-2zM16 3h2v1h-2zM19 3h1v1h-1zM22 3h2v1h-2zM32 3h1v1h-1zM13 4h1v1h-1zM18 4h1v1h-1zM22 4h1v1h-1zM25 4h1v1h-1zM31 4h2v1h-2zM35 4h2v1h-2zM39 4h1v1h-1zM12 5h1v1h-1zM16 5h1v1h-1zM19 5h1v1h-1zM26 5h1v1h-1zM28 5h1v1h-1zM32 5h1v1h-1zM36 5h2v1h-2zM1 6h1v1h-1zM11 6h4v1h-4zM19 6h1v1h-1zM24 6h1v1h-1zM27 6h1v1h-1zM32 6h1v1h-1zM34 6h1v1h-1zM5 7h1v1h-1zM8 7h1v1h-1zM15 7h1v1h-1zM18 7h1v1h-1zM22 7h1v1h-1zM25 7h1v1h-1zM27 7h1v1h-1zM34 7h1v1h-1zM36 7h1v1h-1zM39 7h1v1h-1zM3 8h1v1h-1zM5 8h1v1h-1zM10 8h1v1h-1zM15 8h1v1h-1zM20 8h1v1h-1zM25 8h1v1h-1zM31 8h1v1h-1zM36 8h1v1h-1zM39 8h1v1h-1zM0 9h1v1h-1zM6 9h1v1h-1zM10 9h1v1h-1zM15 9h1v1h-1zM18 9h1v1h-1zM23 9h1v1h-1zM32 9h1v1h-1zM36 9h1v1h-1zM1 10h2v1h-2zM7 10h1v1h-1zM13 10h1v1h-1zM18 10h1v1h-1zM24 10h1v1h-1zM34 10h1v1h-1zM36 10h2v1h-2zM9 11h3v1h-3zM18 11h1v1h-1zM22 11h2v1h-2zM30 11h1v1h-1zM32 11h1v1h-1zM2 12h2v1h-2zM8 12h2v1h-2zM15 12h2v1h-2zM29 12h1v1h-1zM32 12h1v1h-1zM37 12h1v1h-1zM10 13h1v1h-1zM12 13h4v1h-4zM24 13h1v1h-1zM30 13h1v1h-1zM36 13h1v1h-1zM2 14h1v1h-1zM4 14h2v1h-2zM26 14h1v1h-1zM30 14h1v1h-1zM35 14h1v1h-1zM38 14h2v1h-2zM0 15h1v1h-1zM3 15h1v1h-1zM5 15h1v1h-1zM16 15h1v1h-1zM18 15h1v1h-1zM22 15h4v1h-4zM35 15h3v1h-3zM39 15h1v1h-1zM0 16h1v1h-1zM9 16h3v1h-3zM13 16h1v1h-1zM15 16h3v1h-3zM19 16h1v1h-1zM21 16h4v1h-4zM34 16h1v1h-1zM9 17h1v1h-1zM12 17h1v1h-1zM14 17h2v1h-2zM17 17h2v1h-2zM21 17h1v1h-1zM25 17h1v1h-1zM28 17h2v1h-2zM35 17h3v1h-3zM11 18h1v1h-1zM21 18h1v1h-1zM23 18h1v1h-1zM25 18h1v1h-1zM27 18h2v1h-2zM34 18h2v1h-2zM39 18h1v1h-1zM4 19h1v1h-1zM6 19h3v1h-3zM10 19h1v1h-1zM12 19h1v1h-1zM14 19h2v1h-2zM21 19h2v1h-2zM24 19h1v1h-1zM26 19h2v1h-2zM29 19h1v1h-1zM35 19h1v1h-1zM39 19h1v1h-1zM0 20h1v1h-1zM6 20h2v1h-2zM9 20h1v1h-1zM11 20h2v1h-2zM14 20h2v1h-2zM18 20h1v1h-1zM24 20h1v1h-1zM26 20h3v1h-3zM32 20h1v1h-1zM35 20h1v1h-1zM11 21h1v1h-1zM15 21h1v1h-1zM17 21h1v1h-1zM23 21h1v1h-1zM35 21h1v1h-1zM2 22h2v1h-2zM11 22h2v1h-2zM14 22h1v1h-1zM23 22h1v1h-1zM28 22h1v1h-1zM35 22h1v1h-1zM8 23h1v1h-1zM14 23h1v1h-1zM17 23h2v1h-2zM23 23h1v1h-1zM27 23h2v1h-2zM31 23h2v1h-2zM34 23h1v1h-1zM38 23h1v1h-1zM2 24h2v1h-2zM7 24h1v1h-1zM9 24h1v1h-1zM18 24h1v1h-1zM22 24h2v1h-2zM28 24h1v1h-1zM35 24h1v1h-1zM2 25h1v1h-1zM4 25h1v1h-1zM6 25h1v1h-1zM9 25h1v1h-1zM12 25h1v1h-1zM25 25h4v1h-4zM32 25h1v1h-1zM35 25h1v1h-1zM39 25h1v1h-1zM0 26h2v1h-2zM7 26h3v1h-3zM14 26h1v1h-1zM19 26h1v1h-1zM24 26h1v1h-1zM30 26h1v1h-1zM32 26h1v1h-1zM36 26h1v1h-1zM2 27h2v1h-2zM10 27h2v1h-2zM21 27h1v1h-1zM23 27h1v1h-1zM28 27h2v1h-2zM0 28h1v1h-1zM10 28h1v1h-1zM13 28h1v1h-1zM21 28h2v1h-2zM26 28h1v1h-1zM31 28h1v1h-1zM35 28h1v1h-1zM38 28h1v1h-1zM0 29h1v1h-1zM16 29h1v1h-1zM18 29h2v1h-2zM26 29h4v1h-4zM31 29h1v1h-1zM38 29h1v1h-1zM1 30h1v1h-1zM8 30h2v1h-2zM11 30h1v1h-1zM15 30h3v1h-3zM19 30h3v1h-3zM25 30h3v1h-3zM30 30h1v1h-1zM0 31h1v1h-1zM2 31h3v1h-3zM6 31h1v1h-1zM8 31h2v1h-2zM12 31h1v1h-1zM18 31h1v1h-1zM24 31h1v1h-1zM26 31h1v1h-1zM28 31h1v1h-1zM32 31h2v1h-2zM39 31h1v1h-1zM8 32h2v1h-2zM11 32h2v1h-2zM14 32h1v1h-1zM16 32h3v1h-3zM21 32h1v1h-1zM24 32h1v1h-1zM27 32h4v1h-4zM32 32h1v1h-1zM34 32h2v1h-2zM39 32h1v1h-1zM0 33h1v1h-1zM3 33h1v1h-1zM5 33h3v1h-3zM13 33h1v1h-1zM16 33h1v1h-1zM21 33h1v1h-1zM31 33h1v1h-1zM34 33h1v1h-1zM36 33h1v1h-1zM38 33h1v1h-1zM2 34h1v1h-1zM4 34h2v1h-2zM16 34h1v1h-1zM19 34h2v1h-2zM28 34h3v1h-3zM35 34h1v1h-1zM37 34h2v1h-2zM0 35h1v1h-1zM7 35h2v1h-2zM11 35h1v1h-1zM13 35h1v1h-1zM18 35h1v1h-1zM20 35h2v1h-2zM23 35h2v1h-2zM27 35h3v1h-3zM37 35h3v1h-3zM3 36h1v1h-1zM5 36h1v1h-1zM8 36h1v1h-1zM13 36h2v1h-2zM16 36h1v1h-1zM18 36h4v1h-4zM23 36h1v1h-1zM25 36h2v1h-2zM29 36h1v1h-1zM39 36h1v1h-1zM3 37h1v1h-1zM6 37h1v1h-1zM9 37h1v1h-1zM11 37h2v1h-2zM14 37h1v1h-1zM21 37h2v1h-2zM24 37h4v1h-4zM36 37h1v1h-1zM38 37h1v1h-1zM0 38h1v1h-1zM4 38h1v1h-1zM9 38h1v1h-1zM11 38h1v1h-1zM15 38h1v1h-1zM23 38h1v1h-1zM25 38h2v1h-2zM32 38h1v1h-1zM38 38h1v1h-1zM3 39h1v1h-1zM7 39h1v1h-1zM9 39h1v1h-1zM14 39h2v1h-2zM18 39h1v1h-1zM21 39h1v1h-1zM25 39h1v1h-1zM27 39h4v1h-4zM37 39h2v1h-2zM2 40h1v1h-1zM6 40h2v1h-2zM9 40h1v1h-1zM11 40h3v1h-3zM15 40h1v1h-1zM17 40h6v1h-6zM27 40h1v1h-1zM30 40h1v1h-1zM35 40h3v1h-3zM0 41h1v1h-1zM2 41h2v1h-2zM7 41h2v1h-2zM13 41h1v1h-1zM16 41h4v1h-4zM22 41h3v1h-3zM26 41h7v1h-7zM37 41h1v1h-1zM2 42h2v1h-2zM7 42h2v1h-2zM12 42h2v1h-2zM15 42h3v1h-3zM20 42h3v1h-3zM24 42h2v1h-2zM27 42h3v1h-3zM31 42h2v1h-2zM1 43h3v1h-3zM6 43h11v1h-11zM20 43h3v1h-3zM24 43h2v1h-2zM27 43h1v1h-1zM29 43h1v1h-1zM34 43h2v1h-2zM3 44h1v1h-1zM11 44h1v1h-1zM21 44h1v1h-1zM31 44h1v1h-1zM34 44h1v1h-1zM36 44h1v1h-1zM39 44h1v1h-1z"/>
<path fill="#eff3f5" d="M10 0h1v1h-1zM13 0h1v1h-1zM22 0h1v1h-1zM26 0h1v1h-1zM32 0h1v1h-1zM12 1h1v1h-1zM22 1h1v1h-1zM1 2h1v1h-1zM4 2h1v1h-1zM30 2h1v1h-1zM35 2h1v1h-1zM2 3h1v1h-1zM15 3h1v1h-1zM24 3h2v1h-2zM7 4h1v1h-1zM9 4h1v1h-1zM15 4h2v1h-2zM19 4h2v1h-2zM24 4h1v1h-1zM26 4h1v1h-1zM0 5h1v1h-1zM14 5h1v1h-1zM17 5h2v1h-2zM22 5h3v1h-3zM27 5h1v1h-1zM31 5h1v1h-1zM38 5h1v1h-1zM7 6h1v1h-1zM9 6h1v1h-1zM23 6h1v1h-1zM35 6h2v1h-2zM4 7h1v1h-1zM7 7h1v1h-1zM9 7h1v1h-1zM31 7h1v1h-1zM35 7h1v1h-1zM21 8h1v1h-1zM38 8h1v1h-1zM11 9h1v1h-1zM17 9h1v1h-1zM38 9h1v1h-1zM0 10h1v1h-1zM14 10h1v1h-1zM16 10h1v1h-1zM30 10h1v1h-1zM32 10h1v1h-1zM35 10h1v1h-1zM21 11h1v1h-1zM4 12h1v1h-1zM10 12h1v1h-1zM12 12h1v1h-1zM14 12h1v1h-1zM23 12h2v1h-2zM26 12h1v1h-1zM28 12h1v1h-1zM35 12h1v1h-1zM2 13h1v1h-1zM6 13h2v1h-2zM6 14h1v1h-1zM8 14h2v1h-2zM14 14h1v1h-1zM23 14h1v1h-1zM27 14h2v1h-2zM12 15h1v1h-1zM14 15h1v1h-1zM20 15h1v1h-1zM29 15h1v1h-1zM2 16h2v1h-2zM5 16h1v1h-1zM8 16h1v1h-1zM18 16h1v1h-1zM27 16h2v1h-2zM35 16h1v1h-1zM39 16h1v1h-1zM0 17h1v1h-1zM3 17h5v1h-5zM11 17h1v1h-1zM22 17h3v1h-3zM26 17h2v1h-2zM32 17h1v1h-1zM8 18h1v1h-1zM10 18h1v1h-1zM12 18h1v1h-1zM24 18h1v1h-1zM26 18h1v1h-1zM32 18h1v1h-1zM36 18h1v1h-1zM2 19h1v1h-1zM11 19h1v1h-1zM28 19h1v1h-1zM31 19h2v1h-2zM39 20h1v1h-1zM14 21h1v1h-1zM18 21h2v1h-2zM24 21h1v1h-1zM15 22h1v1h-1zM22 22h1v1h-1zM13 23h1v1h-1zM26 23h1v1h-1zM35 23h1v1h-1zM11 25h1v1h-1zM15 25h1v1h-1zM23 25h1v1h-1zM2 26h4v1h-4zM11 26h1v1h-1zM22 26h1v1h-1zM38 26h1v1h-1zM27 27h1v1h-1zM3 28h1v1h-1zM15 28h1v1h-1zM24 28h1v1h-1zM27 28h1v1h-1zM32 28h1v1h-1zM12 29h1v1h-1zM14 29h1v1h-1zM20 29h2v1h-2zM35 29h1v1h-1zM7 30h1v1h-1zM13 30h2v1h-2zM28 30h2v1h-2zM13 31h3v1h-3zM17 31h1v1h-1zM0 32h1v1h-1zM7 32h1v1h-1zM38 32h1v1h-1zM15 33h1v1h-1zM26 33h1v1h-1zM32 33h1v1h-1zM13 34h3v1h-3zM26 34h1v1h-1zM32 34h1v1h-1zM36 34h1v1h-1zM3 35h2v1h-2zM6 35h1v1h-1zM14 35h1v1h-1zM31 35h1v1h-1zM35 35h1v1h-1zM0 36h1v1h-1zM27 36h1v1h-1zM16 37h2v1h-2zM28 37h1v1h-1zM32 37h1v1h-1zM12 38h1v1h-1zM16 38h1v1h-1zM24 38h1v1h-1zM27 38h1v1h-1zM2 39h1v1h-1zM12 39h1v1h-1zM17 39h1v1h-1zM32 39h1v1h-1zM3 40h1v1h-1zM8 40h1v1h-1zM14 40h1v1h-1zM16 40h1v1h-1zM24 40h1v1h-1zM26 40h1v1h-1zM28 40h1v1h-1zM31 40h1v1h-1zM15 41h1v1h-1zM21 41h1v1h-1zM39 41h1v1h-1zM0 42h1v1h-1zM35 42h1v1h-1zM0 43h1v1h-1zM28 43h1v1h-1zM32 43h1v1h-1zM37 43h1v1h-1z"/>
<path fill="#f8f1ed" d="M8 0h1v1h-1zM14 0h1v1h-1zM3 1h4v1h-4zM21 1h1v1h-1zM13 2h1v1h-1zM15 2h1v1h-1zM22 2h1v1h-1zM26 2h3v1h-3zM1 3h1v1h-1zM3 3h1v1h-1zM6 3h1v1h-1zM8 3h1v1h-1zM14 4h1v1h-1zM23 4h1v1h-1zM28 4h1v1h-1zM1 5h1v1h-1zM5 5h1v1h-1zM11 5h1v1h-1zM20 5h2v1h-2zM5 6h1v1h-1zM18 6h1v1h-1zM11 7h1v1h-1zM14 7h1v1h-1zM7 8h1v1h-1zM12 8h1v1h-1zM16 8h1v1h-1zM19 8h1v1h-1zM1 9h1v1h-1zM16 9h1v1h-1zM11 10h2v1h-2zM15 10h1v1h-1zM7 11h1v1h-1zM15 11h1v1h-1zM5 13h1v1h-1zM9 13h1v1h-1zM11 13h1v1h-1zM3 14h1v1h-1zM15 14h1v1h-1zM13 15h1v1h-1zM26 15h1v1h-1zM7 16h1v1h-1zM8 17h1v1h-1zM4 18h1v1h-1zM22 23h1v1h-1zM24 25h1v1h-1zM36 28h1v1h-1zM11 29h1v1h-1zM12 30h1v1h-1zM16 31h1v1h-1zM23 32h1v1h-1zM12 35h1v1h-1zM26 35h1v1h-1zM15 36h1v1h-1zM31 36h2v1h-2zM34 36h1v1h-1zM31 37h1v1h-1zM22 38h1v1h-1zM32 40h1v1h-1zM35 44h1v1h-1z"/>
<path fill="#fbe5d8" d="M2 0h1v1h-1zM4 0h1v1h-1zM2 2h1v1h-1zM34 3h1v1h-1zM0 4h2v1h-2zM3 4h1v1h-1zM5 4h2v1h-2zM38 4h1v1h-1zM3 5h1v1h-1zM6 5h1v1h-1zM13 5h1v1h-1zM25 5h1v1h-1zM2 6h1v1h-1zM11 8h1v1h-1zM13 8h1v1h-1zM2 9h1v1h-1zM11 12h1v1h-1zM3 13h1v1h-1zM28 13h2v1h-2zM13 14h1v1h-1zM31 14h1v1h-1zM9 15h1v1h-1zM6 16h1v1h-1zM23 20h1v1h-1zM34 22h1v1h-1zM10 24h1v1h-1zM27 24h1v1h-1zM29 24h1v1h-1zM1 25h1v1h-1zM10 25h1v1h-1zM6 32h1v1h-1zM39 34h1v1h-1zM15 35h2v1h-2zM30 35h1v1h-1zM13 37h1v1h-1zM0 40h1v1h-1zM35 41h1v1h-1zM23 42h1v1h-1zM32 44h1v1h-1z"/>
<path fill="#fcd7c2" d="M6 0h1v1h-1zM9 0h1v1h-1zM11 0h1v1h-1zM10 1h1v1h-1zM3 2h1v1h-1zM5 2h2v1h-2zM23 2h1v1h-1zM7 3h1v1h-1zM11 3h1v1h-1zM2 5h1v1h-1zM4 5h1v1h-1zM7 5h3v1h-3zM15 5h1v1h-1zM13 7h1v1h-1zM0 8h1v1h-1zM22 10h1v1h-1zM13 12h1v1h-1zM18 13h1v1h-1zM8 15h1v1h-1zM38 15h1v1h-1zM2 17h1v1h-1zM16 19h1v1h-1zM37 21h1v1h-1zM17 22h1v1h-1zM27 22h1v1h-1zM9 23h1v1h-1zM30 28h1v1h-1zM23 30h1v1h-1zM32 30h1v1h-1zM19 33h1v1h-1zM30 33h1v1h-1zM35 36h1v1h-1zM30 38h1v1h-1zM1 44h1v1h-1z"/>
<path fill="#f8bfa4" d="M34 0h1v1h-1zM8 1h2v1h-2zM8 2h1v1h-1zM0 3h1v1h-1zM2 4h1v1h-1zM14 8h1v1h-1zM16 11h1v1h-1zM4 16h1v1h-1zM18 19h1v1h-1zM20 19h1v1h-1zM31 20h1v1h-1zM21 21h1v1h-1zM28 21h1v1h-1zM10 22h1v1h-1zM27 26h1v1h-1zM30 27h1v1h-1zM3 29h1v1h-1zM7 29h1v1h-1zM3 34h1v1h-1zM12 34h1v1h-1zM17 35h1v1h-1zM25 35h1v1h-1zM28 38h1v1h-1zM25 40h1v1h-1zM38 42h1v1h-1z"/>
<path fill="#f4a683" d="M3 0h1v1h-1zM38 0h1v1h-1zM24 1h1v1h-1zM37 2h1v1h-1zM39 3h1v1h-1zM12 4h1v1h-1zM27 4h1v1h-1zM22 6h1v1h-1zM22 8h1v1h-1zM12 9h1v1h-1zM31 9h1v1h-1zM6 10h1v1h-1zM8 10h1v1h-1zM13 11h1v1h-1zM6 12h1v1h-1zM15 15h1v1h-1zM27 15h1v1h-1zM34 15h1v1h-1zM34 20h1v1h-1zM6 24h1v1h-1zM24 24h1v1h-1zM23 26h1v1h-1zM24 27h1v1h-1zM33 34h1v1h-1zM10 37h1v1h-1zM34 37h1v1h-1zM8 38h1v1h-1zM26 39h1v1h-1z"/>
<path fill="#e8896c" d="M2 1h1v1h-1zM4 3h1v1h-1z"/>
<path fill="#db6b55" d="M1 0h1v1h-1zM7 0h1v1h-1zM10 2h1v1h-1zM10 6h1v1h-1zM15 6h1v1h-1zM12 36h1v1h-1z"/>
<path fill="#cc4c44" d="M0 1h1v1h-1zM33 8h1v1h-1zM0 13h1v1h-1zM28 15h1v1h-1zM33 21h1v1h-1zM33 24h1v1h-1zM33 40h1v1h-1z"/>
<path fill="#bd2d35" d="M0 0h1v1h-1zM1 1h1v1h-1zM15 1h1v1h-1zM12 2h1v1h-1zM20 7h1v1h-1zM7 14h1v1h-1zM10 14h2v1h-2zM35 26h1v1h-1zM12 27h1v1h-1zM25 33h1v1h-1zM15 37h1v1h-1z"/>
<path fill="#a81529" d="M33 0h1v1h-1zM7 2h1v1h-1zM9 2h1v1h-1zM8 4h1v1h-1zM10 4h2v1h-2zM3 6h1v1h-1zM33 14h1v1h-1zM0 23h2v1h-2zM36 42h1v1h-1z"/>
<path fill="#870a24" d="M14 1h1v1h-1zM33 42h1v1h-1z"/>
<path fill="#67001f" d="M11 2h1v1h-1zM11 15h1v1h-1zM32 24h1v1h-1zM23 34h1v1h-1z"/>
</g>
<path d="M679.36 256.1v303.75M684.92 256.1v303.75M690.48 256.1v303.75M696.04 256.1v303.75M701.6 256.1v303.75M707.16 256.1v303.75M712.72 256.1v303.75M718.28 256.1v303.75M723.84 256.1v303.75M729.4 256.1v303.75M734.96 256.1v303.75M740.52 256.1v303.75M746.08 256.1v303.75M751.64 256.1v303.75M757.2 256.1v303.75M762.76 256.1v303.75M768.32 256.1v303.75M773.88 256.1v303.75M779.44 256.1v303.75M785 256.1v303.75M790.56 256.1v303.75M796.12 256.1v303.75M801.68 256.1v303.75M807.24 256.1v303.75M812.8 256.1v303.75M818.36 256.1v303.75M823.92 256.1v303.75M829.48 256.1v303.75M835.04 256.1v303.75M840.6 256.1v303.75M846.16 256.1v303.75M851.72 256.1v303.75M857.28 256.1v303.75M862.84 256.1v303.75M868.4 256.1v303.75M873.96 256.1v303.75M879.52 256.1v303.75M885.08 256.1v303.75M890.64 256.1v303.75M673.8 262.85h222.4M673.8 269.6h222.4M673.8 276.35h222.4M673.8 283.1h222.4M673.8 289.85h222.4M673.8 296.6h222.4M673.8 303.35h222.4M673.8 310.1h222.4M673.8 316.85h222.4M673.8 323.6h222.4M673.8 330.35h222.4M673.8 337.1h222.4M673.8 343.85h222.4M673.8 350.6h222.4M673.8 357.35h222.4M673.8 364.1h222.4M673.8 370.85h222.4M673.8 377.6h222.4M673.8 384.35h222.4M673.8 391.1h222.4M673.8 397.85h222.4M673.8 404.6h222.4M673.8 411.35h222.4M673.8 418.1h222.4M673.8 424.85h222.4M673.8 431.6h222.4M673.8 438.35h222.4M673.8 445.1h222.4M673.8 451.85h222.4M673.8 458.6h222.4M673.8 465.35h222.4M673.8 472.1h222.4M673.8 478.85h222.4M673.8 485.6h222.4M673.8 492.35h222.4M673.8 499.1h222.4M673.8 505.85h222.4M673.8 512.6h222.4M673.8 519.35h222.4M673.8 526.1h222.4M673.8 532.85h222.4M673.8 539.6h222.4M673.8 546.35h222.4M673.8 553.1h222.4" stroke="#fff" stroke-opacity=".16" stroke-width=".6" fill="none"/>
<g transform="translate(236.6 564.7) scale(5.56 6.75)">
<rect width="40" height="46" fill="#fbe5d8"/>
<path fill="#3a87bd" d="M24 30h1v1h-1z"/>
<path fill="#4f9bc7" d="M0 6h1v1h-1zM11 18h1v1h-1zM9 20h1v1h-1zM39 29h1v1h-1z"/>
<path fill="#71b0d3" d="M9 3h1v1h-1zM39 9h1v1h-1zM24 11h1v1h-1zM39 13h1v1h-1zM24 19h1v1h-1zM33 23h1v1h-1zM9 31h1v1h-1zM39 32h1v1h-1zM39 33h1v1h-1zM39 34h1v1h-1zM0 35h1v1h-1zM9 35h1v1h-1zM31 35h1v1h-1zM39 35h1v1h-1zM0 45h1v1h-1z"/>
<path fill="#93c6de" d="M1 0h1v1h-1zM9 2h1v1h-1zM11 2h1v1h-1zM11 4h1v1h-1zM32 4h1v1h-1zM9 5h1v1h-1zM31 6h1v1h-1zM9 8h1v1h-1zM39 8h1v1h-1zM35 11h1v1h-1zM26 13h1v1h-1zM0 18h1v1h-1zM39 18h1v1h-1zM32 20h1v1h-1zM1 21h1v1h-1zM22 23h1v1h-1zM24 23h1v1h-1zM31 23h2v1h-2zM39 23h1v1h-1zM0 24h1v1h-1zM35 24h1v1h-1zM9 25h1v1h-1zM0 27h1v1h-1zM0 28h1v1h-1zM11 30h1v1h-1zM14 33h1v1h-1zM0 34h1v1h-1zM11 35h1v1h-1zM14 35h1v1h-1zM32 35h1v1h-1zM39 38h1v1h-1zM0 39h2v1h-2zM0 41h1v1h-1zM16 43h1v1h-1zM35 43h1v1h-1zM1 45h1v1h-1zM26 45h1v1h-1z"/>
<path fill="#b1d5e7" d="M23 0h1v1h-1zM32 0h1v1h-1zM12 1h1v1h-1zM3 2h1v1h-1zM14 2h1v1h-1zM32 2h1v1h-1zM11 3h1v1h-1zM2 5h1v1h-1zM32 5h1v1h-1zM9 6h1v1h-1zM35 6h1v1h-1zM11 7h1v1h-1zM18 7h1v1h-1zM39 7h1v1h-1zM1 8h1v1h-1zM38 8h1v1h-1zM39 10h1v1h-1zM37 11h1v1h-1zM18 12h1v1h-1zM39 12h1v1h-1zM2 13h1v1h-1zM9 13h1v1h-1zM23 13h1v1h-1zM34 13h1v1h-1zM36 13h1v1h-1zM4 14h1v1h-1zM17 14h1v1h-1zM36 14h1v1h-1zM39 15h1v1h-1zM39 16h1v1h-1zM0 17h1v1h-1zM32 19h1v1h-1zM39 19h1v1h-1zM0 20h1v1h-1zM35 20h2v1h-2zM38 20h2v1h-2zM32 21h1v1h-1zM32 22h1v1h-1zM35 22h1v1h-1zM14 23h1v1h-1zM36 23h1v1h-1zM38 24h2v1h-2zM0 25h1v1h-1zM39 25h1v1h-1zM0 26h1v1h-1zM6 27h1v1h-1zM11 27h1v1h-1zM14 27h1v1h-1zM39 27h1v1h-1zM0 29h1v1h-1zM12 29h1v1h-1zM39 30h1v1h-1zM11 31h1v1h-1zM32 31h1v1h-1zM9 33h1v1h-1zM13 33h1v1h-1zM35 34h1v1h-1zM37 34h1v1h-1zM36 35h1v1h-1zM38 35h1v1h-1zM0 37h1v1h-1zM39 37h1v1h-1zM39 40h1v1h-1zM14 41h1v1h-1zM31 41h1v1h-1zM1 42h1v1h-1zM9 43h1v1h-1zM12 43h1v1h-1zM14 43h1v1h-1zM11 44h1v1h-1zM32 44h1v1h-1zM39 44h1v1h-1zM10 45h1v1h-1zM12 45h1v1h-1zM31 45h2v1h-2zM35 45h1v1h-1z"/>
<path fill="#cce2ef" d="M14 0h1v1h-1zM22 2h1v1h-1zM24 2h1v1h-1zM26 2h1v1h-1zM39 2h1v1h-1zM0 4h1v1h-1zM2 4h1v1h-1zM13 4h1v1h-1zM0 5h1v1h-1zM32 6h1v1h-1zM39 6h1v1h-1zM14 8h1v1h-1zM26 9h1v1h-1zM32 9h1v1h-1zM11 11h1v1h-1zM38 11h1v1h-1zM2 12h1v1h-1zM9 12h1v1h-1zM9 14h1v1h-1zM39 14h1v1h-1zM35 17h1v1h-1zM2 18h1v1h-1zM4 18h1v1h-1zM38 18h1v1h-1zM2 20h1v1h-1zM14 20h1v1h-1zM26 20h1v1h-1zM31 20h1v1h-1zM39 21h1v1h-1zM37 22h3v1h-3zM34 23h1v1h-1zM37 23h1v1h-1zM3 24h1v1h-1zM33 24h1v1h-1zM39 26h1v1h-1zM32 27h1v1h-1zM1 28h1v1h-1zM32 28h1v1h-1zM8 29h1v1h-1zM10 29h1v1h-1zM13 29h1v1h-1zM24 29h1v1h-1zM31 29h1v1h-1zM1 30h3v1h-3zM12 30h1v1h-1zM14 30h1v1h-1zM22 30h1v1h-1zM32 30h2v1h-2zM38 30h1v1h-1zM39 31h1v1h-1zM1 32h1v1h-1zM1 33h1v1h-1zM12 33h1v1h-1zM35 33h1v1h-1zM32 34h1v1h-1zM12 35h1v1h-1zM15 35h1v1h-1zM14 36h1v1h-1zM1 37h1v1h-1zM9 37h1v1h-1zM11 37h2v1h-2zM14 37h1v1h-1zM9 38h1v1h-1zM32 38h1v1h-1zM39 39h1v1h-1zM35 40h1v1h-1zM17 41h1v1h-1zM14 42h1v1h-1zM26 42h1v1h-1zM29 43h1v1h-1zM39 43h1v1h-1zM33 44h1v1h-1zM2 45h1v1h-1zM11 45h1v1h-1zM13 45h4v1h-4zM24 45h1v1h-1zM36 45h1v1h-1z"/>
<path fill="#deebf2" d="M9 1h1v1h-1zM11 1h1v1h-1zM14 1h1v1h-1zM0 2h1v1h-1zM4 2h1v1h-1zM6 2h1v1h-1zM12 2h2v1h-2zM31 2h1v1h-1zM2 3h1v1h-1zM9 4h1v1h-1zM24 4h1v1h-1zM31 5h1v1h-1zM37 5h1v1h-1zM38 6h1v1h-1zM9 7h1v1h-1zM26 7h1v1h-1zM13 8h1v1h-1zM35 8h1v1h-1zM9 9h1v1h-1zM13 9h1v1h-1zM38 9h1v1h-1zM2 10h2v1h-2zM9 10h1v1h-1zM9 11h1v1h-1zM17 11h2v1h-2zM11 12h1v1h-1zM22 12h1v1h-1zM37 12h1v1h-1zM18 13h1v1h-1zM22 13h1v1h-1zM24 13h1v1h-1zM27 13h1v1h-1zM12 15h1v1h-1zM22 15h1v1h-1zM3 17h2v1h-2zM13 17h1v1h-1zM39 17h1v1h-1zM24 18h1v1h-1zM37 18h1v1h-1zM3 19h1v1h-1zM5 19h1v1h-1zM13 19h1v1h-1zM34 19h2v1h-2zM38 19h1v1h-1zM3 20h1v1h-1zM11 20h1v1h-1zM13 20h1v1h-1zM22 20h1v1h-1zM29 20h1v1h-1zM33 20h2v1h-2zM13 21h1v1h-1zM24 21h1v1h-1zM26 21h1v1h-1zM31 21h1v1h-1zM35 21h4v1h-4zM24 22h1v1h-1zM33 22h1v1h-1zM12 23h1v1h-1zM18 23h1v1h-1zM23 23h1v1h-1zM28 23h1v1h-1zM38 23h1v1h-1zM4 24h1v1h-1zM9 24h1v1h-1zM11 24h1v1h-1zM31 24h1v1h-1zM37 24h1v1h-1zM13 25h1v1h-1zM24 25h1v1h-1zM32 25h1v1h-1zM38 25h1v1h-1zM14 26h1v1h-1zM31 26h2v1h-2zM3 27h1v1h-1zM33 27h1v1h-1zM2 28h1v1h-1zM9 28h1v1h-1zM12 28h2v1h-2zM15 28h1v1h-1zM2 29h2v1h-2zM32 29h1v1h-1zM4 30h1v1h-1zM10 30h1v1h-1zM35 30h1v1h-1zM35 31h1v1h-1zM37 31h1v1h-1zM26 33h1v1h-1zM32 33h2v1h-2zM38 33h1v1h-1zM3 34h1v1h-1zM3 35h1v1h-1zM8 35h1v1h-1zM37 35h1v1h-1zM13 36h1v1h-1zM32 36h1v1h-1zM39 36h1v1h-1zM32 37h1v1h-1zM35 37h2v1h-2zM38 37h1v1h-1zM12 38h1v1h-1zM31 38h1v1h-1zM35 38h1v1h-1zM13 40h1v1h-1zM31 40h2v1h-2zM8 41h1v1h-1zM11 41h1v1h-1zM36 41h1v1h-1zM9 42h1v1h-1zM11 42h1v1h-1zM24 42h1v1h-1zM32 42h1v1h-1zM37 42h1v1h-1zM0 43h1v1h-1zM10 43h1v1h-1zM24 43h1v1h-1zM32 43h1v1h-1zM2 44h1v1h-1zM4 45h1v1h-1zM39 45h1v1h-1z"/>
<path fill="#eff3f5" d="M8 0h2v1h-2zM13 0h1v1h-1zM24 0h1v1h-1zM13 1h1v1h-1zM26 1h1v1h-1zM29 1h1v1h-1zM35 1h1v1h-1zM8 2h1v1h-1zM16 2h1v1h-1zM37 3h1v1h-1zM10 4h1v1h-1zM12 4h1v1h-1zM15 4h2v1h-2zM34 4h2v1h-2zM10 5h1v1h-1zM23 5h2v1h-2zM36 5h1v1h-1zM2 6h2v1h-2zM13 6h1v1h-1zM22 6h2v1h-2zM33 6h1v1h-1zM22 7h1v1h-1zM25 7h1v1h-1zM31 7h1v1h-1zM35 7h1v1h-1zM26 8h1v1h-1zM32 8h1v1h-1zM37 8h1v1h-1zM31 9h1v1h-1zM35 9h1v1h-1zM24 10h1v1h-1zM26 10h1v1h-1zM35 10h1v1h-1zM0 11h1v1h-1zM2 11h1v1h-1zM4 11h1v1h-1zM13 11h1v1h-1zM15 11h1v1h-1zM23 11h1v1h-1zM26 11h1v1h-1zM31 11h1v1h-1zM36 11h1v1h-1zM17 12h1v1h-1zM21 12h1v1h-1zM23 12h1v1h-1zM25 12h1v1h-1zM32 12h1v1h-1zM35 12h1v1h-1zM38 12h1v1h-1zM3 13h1v1h-1zM13 13h1v1h-1zM19 13h1v1h-1zM31 13h1v1h-1zM37 13h2v1h-2zM18 14h1v1h-1zM26 14h1v1h-1zM32 14h1v1h-1zM35 14h1v1h-1zM35 15h1v1h-1zM3 16h2v1h-2zM11 16h1v1h-1zM38 16h1v1h-1zM37 17h1v1h-1zM3 18h1v1h-1zM9 18h1v1h-1zM12 18h2v1h-2zM26 18h1v1h-1zM35 18h1v1h-1zM11 19h1v1h-1zM26 19h1v1h-1zM28 19h1v1h-1zM36 19h1v1h-1zM5 20h1v1h-1zM12 20h1v1h-1zM37 20h1v1h-1zM5 21h1v1h-1zM9 21h1v1h-1zM2 22h1v1h-1zM11 22h1v1h-1zM3 23h1v1h-1zM5 23h1v1h-1zM21 23h1v1h-1zM30 23h1v1h-1zM26 24h1v1h-1zM36 24h1v1h-1zM2 25h1v1h-1zM37 25h1v1h-1zM35 26h1v1h-1zM4 27h1v1h-1zM35 27h1v1h-1zM38 27h1v1h-1zM22 28h1v1h-1zM24 28h1v1h-1zM16 29h1v1h-1zM22 29h1v1h-1zM27 29h1v1h-1zM33 29h1v1h-1zM35 29h1v1h-1zM37 29h1v1h-1zM36 30h2v1h-2zM12 31h1v1h-1zM34 31h1v1h-1zM38 31h1v1h-1zM14 32h1v1h-1zM32 32h2v1h-2zM35 32h1v1h-1zM11 33h1v1h-1zM18 33h1v1h-1zM20 33h1v1h-1zM10 34h1v1h-1zM12 34h2v1h-2zM15 34h2v1h-2zM18 34h1v1h-1zM33 34h1v1h-1zM36 34h1v1h-1zM38 34h1v1h-1zM13 35h1v1h-1zM27 35h1v1h-1zM9 36h1v1h-1zM12 36h1v1h-1zM37 36h1v1h-1zM28 37h1v1h-1zM8 38h1v1h-1zM11 38h1v1h-1zM14 38h1v1h-1zM34 38h1v1h-1zM37 38h1v1h-1zM9 39h1v1h-1zM37 39h1v1h-1zM26 40h1v1h-1zM38 40h1v1h-1zM9 41h1v1h-1zM12 41h2v1h-2zM15 41h2v1h-2zM32 41h1v1h-1zM35 41h1v1h-1zM33 43h1v1h-1zM3 45h1v1h-1zM22 45h1v1h-1z"/>
<path fill="#f8f1ed" d="M3 0h1v1h-1zM11 0h1v1h-1zM15 0h1v1h-1zM8 1h1v1h-1zM10 1h1v1h-1zM28 1h1v1h-1zM32 1h1v1h-1zM39 1h1v1h-1zM17 2h1v1h-1zM19 2h1v1h-1zM25 2h1v1h-1zM33 2h1v1h-1zM0 3h2v1h-2zM17 3h1v1h-1zM19 3h1v1h-1zM22 3h1v1h-1zM24 3h1v1h-1zM28 3h1v1h-1zM7 4h2v1h-2zM27 4h1v1h-1zM31 4h1v1h-1zM36 4h1v1h-1zM8 5h1v1h-1zM11 5h1v1h-1zM14 5h1v1h-1zM22 5h1v1h-1zM30 5h1v1h-1zM33 5h1v1h-1zM4 6h1v1h-1zM11 6h1v1h-1zM17 6h1v1h-1zM24 6h1v1h-1zM36 6h1v1h-1zM0 7h1v1h-1zM23 7h1v1h-1zM30 7h1v1h-1zM15 8h1v1h-1zM22 8h1v1h-1zM24 8h1v1h-1zM28 8h1v1h-1zM2 9h1v1h-1zM15 9h1v1h-1zM17 9h1v1h-1zM29 9h1v1h-1zM36 9h2v1h-2zM14 11h1v1h-1zM16 11h1v1h-1zM30 11h1v1h-1zM12 12h1v1h-1zM24 12h1v1h-1zM11 13h1v1h-1zM17 13h1v1h-1zM25 13h1v1h-1zM28 13h1v1h-1zM32 13h1v1h-1zM27 14h2v1h-2zM34 14h1v1h-1zM37 14h2v1h-2zM37 15h1v1h-1zM22 16h1v1h-1zM34 16h2v1h-2zM37 16h1v1h-1zM25 17h1v1h-1zM32 17h1v1h-1zM1 18h1v1h-1zM22 18h1v1h-1zM4 19h1v1h-1zM18 19h1v1h-1zM33 19h1v1h-1zM23 20h2v1h-2zM27 20h1v1h-1zM3 22h1v1h-1zM12 22h1v1h-1zM15 22h1v1h-1zM29 22h1v1h-1zM36 22h1v1h-1zM0 23h1v1h-1zM8 23h1v1h-1zM10 23h2v1h-2zM29 23h1v1h-1zM35 23h1v1h-1zM2 24h1v1h-1zM13 24h2v1h-2zM10 25h1v1h-1zM33 25h2v1h-2zM2 26h1v1h-1zM9 26h3v1h-3zM24 26h1v1h-1zM33 26h1v1h-1zM36 26h2v1h-2zM1 27h1v1h-1zM8 27h1v1h-1zM34 27h1v1h-1zM36 27h2v1h-2zM3 28h2v1h-2zM35 28h1v1h-1zM37 28h1v1h-1zM1 29h1v1h-1zM7 29h1v1h-1zM9 29h1v1h-1zM21 29h1v1h-1zM34 29h1v1h-1zM36 29h1v1h-1zM6 30h1v1h-1zM13 30h1v1h-1zM18 30h1v1h-1zM2 31h1v1h-1zM8 31h1v1h-1zM17 31h2v1h-2zM26 31h1v1h-1zM33 31h1v1h-1zM3 32h1v1h-1zM13 32h1v1h-1zM38 32h1v1h-1zM2 33h1v1h-1zM4 33h1v1h-1zM8 33h1v1h-1zM34 33h1v1h-1zM37 33h1v1h-1zM14 34h1v1h-1zM34 34h1v1h-1zM7 35h1v1h-1zM25 35h1v1h-1zM33 35h1v1h-1zM35 35h1v1h-1zM2 36h1v1h-1zM11 36h1v1h-1zM36 36h1v1h-1zM38 36h1v1h-1zM10 37h1v1h-1zM17 37h1v1h-1zM31 37h1v1h-1zM13 38h1v1h-1zM15 38h1v1h-1zM17 38h1v1h-1zM38 38h1v1h-1zM18 39h1v1h-1zM0 40h1v1h-1zM8 40h1v1h-1zM11 40h1v1h-1zM24 40h1v1h-1zM18 41h1v1h-1zM24 41h2v1h-2zM34 41h1v1h-1zM35 42h2v1h-2zM1 43h1v1h-1zM3 43h1v1h-1zM5 43h1v1h-1zM8 43h1v1h-1zM13 43h1v1h-1zM38 43h1v1h-1zM10 44h1v1h-1zM28 44h1v1h-1zM35 44h1v1h-1zM38 44h1v1h-1zM6 45h1v1h-1zM20 45h1v1h-1zM27 45h1v1h-1zM34 45h1v1h-1zM37 45h2v1h-2z"/>
<path fill="#fcd7c2" d="M0 0h1v1h-1zM4 0h1v1h-1zM6 0h1v1h-1zM10 0h1v1h-1zM22 0h1v1h-1zM35 0h1v1h-1zM30 1h1v1h-1zM33 1h1v1h-1zM1 2h2v1h-2zM5 2h1v1h-1zM27 2h1v1h-1zM3 3h1v1h-1zM13 3h1v1h-1zM18 3h1v1h-1zM33 3h1v1h-1zM1 4h1v1h-1zM6 4h1v1h-1zM17 4h1v1h-1zM21 4h1v1h-1zM26 4h1v1h-1zM15 5h2v1h-2zM18 5h2v1h-2zM21 5h1v1h-1zM39 5h1v1h-1zM15 6h1v1h-1zM19 6h1v1h-1zM28 6h1v1h-1zM30 6h1v1h-1zM4 7h1v1h-1zM16 7h1v1h-1zM24 7h1v1h-1zM32 7h1v1h-1zM2 8h2v1h-2zM19 8h1v1h-1zM3 9h1v1h-1zM12 9h1v1h-1zM14 9h1v1h-1zM21 9h1v1h-1zM33 9h1v1h-1zM19 10h1v1h-1zM21 10h1v1h-1zM23 10h1v1h-1zM34 10h1v1h-1zM38 10h1v1h-1zM1 11h1v1h-1zM12 11h1v1h-1zM27 11h1v1h-1zM33 11h1v1h-1zM3 12h1v1h-1zM19 12h1v1h-1zM27 12h1v1h-1zM31 12h1v1h-1zM36 12h1v1h-1zM1 13h1v1h-1zM14 13h2v1h-2zM2 14h1v1h-1zM14 14h1v1h-1zM22 14h1v1h-1zM0 15h1v1h-1zM13 15h1v1h-1zM24 15h1v1h-1zM33 15h1v1h-1zM9 16h1v1h-1zM17 16h1v1h-1zM24 16h1v1h-1zM30 16h1v1h-1zM32 16h1v1h-1zM2 17h1v1h-1zM9 17h1v1h-1zM29 17h1v1h-1zM31 17h1v1h-1zM36 17h1v1h-1zM31 18h1v1h-1zM9 19h1v1h-1zM8 20h1v1h-1zM28 20h1v1h-1zM10 21h1v1h-1zM18 21h1v1h-1zM22 21h1v1h-1zM27 21h1v1h-1zM29 21h2v1h-2zM14 22h1v1h-1zM30 22h1v1h-1zM6 23h1v1h-1zM9 23h1v1h-1zM7 24h1v1h-1zM10 24h1v1h-1zM14 25h1v1h-1zM20 25h1v1h-1zM31 25h1v1h-1zM3 26h1v1h-1zM5 26h2v1h-2zM18 26h1v1h-1zM26 26h1v1h-1zM9 27h1v1h-1zM12 27h1v1h-1zM24 27h1v1h-1zM19 28h1v1h-1zM31 28h1v1h-1zM36 28h1v1h-1zM38 28h1v1h-1zM4 29h1v1h-1zM17 29h2v1h-2zM25 29h1v1h-1zM38 29h1v1h-1zM28 30h2v1h-2zM34 30h1v1h-1zM3 31h1v1h-1zM5 31h1v1h-1zM22 31h1v1h-1zM4 32h1v1h-1zM8 32h1v1h-1zM15 32h1v1h-1zM22 32h1v1h-1zM34 32h1v1h-1zM21 33h1v1h-1zM23 33h3v1h-3zM28 33h1v1h-1zM4 34h1v1h-1zM22 34h1v1h-1zM4 35h3v1h-3zM24 35h1v1h-1zM17 36h1v1h-1zM22 36h1v1h-1zM4 37h1v1h-1zM15 37h1v1h-1zM19 37h1v1h-1zM22 37h1v1h-1zM24 37h1v1h-1zM34 37h1v1h-1zM1 38h2v1h-2zM4 38h1v1h-1zM10 38h1v1h-1zM18 38h3v1h-3zM23 38h1v1h-1zM3 39h1v1h-1zM10 39h1v1h-1zM15 39h1v1h-1zM17 39h1v1h-1zM24 39h1v1h-1zM31 39h1v1h-1zM34 39h3v1h-3zM2 40h1v1h-1zM20 40h1v1h-1zM33 40h1v1h-1zM23 41h1v1h-1zM26 41h2v1h-2zM10 42h1v1h-1zM15 42h2v1h-2zM33 42h1v1h-1zM38 42h1v1h-1zM4 43h1v1h-1zM7 43h1v1h-1zM15 43h1v1h-1zM18 43h2v1h-2zM22 43h1v1h-1zM34 43h1v1h-1zM3 44h1v1h-1zM7 44h1v1h-1zM13 44h2v1h-2zM31 44h1v1h-1zM18 45h2v1h-2z"/>
<path fill="#f8bfa4" d="M5 0h1v1h-1zM12 0h1v1h-1zM19 0h2v1h-2zM26 0h2v1h-2zM33 0h2v1h-2zM39 0h1v1h-1zM2 1h2v1h-2zM5 1h1v1h-1zM15 1h2v1h-2zM18 1h1v1h-1zM21 1h1v1h-1zM23 1h1v1h-1zM36 1h1v1h-1zM7 2h1v1h-1zM23 2h1v1h-1zM35 2h2v1h-2zM5 3h1v1h-1zM8 3h1v1h-1zM12 3h1v1h-1zM14 3h1v1h-1zM4 4h2v1h-2zM25 4h1v1h-1zM6 5h1v1h-1zM13 5h1v1h-1zM25 5h2v1h-2zM34 5h1v1h-1zM18 6h1v1h-1zM21 6h1v1h-1zM29 6h1v1h-1zM7 7h2v1h-2zM13 7h1v1h-1zM19 7h1v1h-1zM21 7h1v1h-1zM27 7h1v1h-1zM12 8h1v1h-1zM18 8h1v1h-1zM23 8h1v1h-1zM29 8h1v1h-1zM8 9h1v1h-1zM16 9h1v1h-1zM25 9h1v1h-1zM27 9h1v1h-1zM14 10h2v1h-2zM18 10h1v1h-1zM22 10h1v1h-1zM25 10h1v1h-1zM27 10h1v1h-1zM31 10h1v1h-1zM33 10h1v1h-1zM20 11h2v1h-2zM28 11h1v1h-1zM39 11h1v1h-1zM4 12h1v1h-1zM8 12h1v1h-1zM13 12h2v1h-2zM28 12h1v1h-1zM34 12h1v1h-1zM6 13h1v1h-1zM16 13h1v1h-1zM21 13h1v1h-1zM1 14h1v1h-1zM11 14h1v1h-1zM16 14h1v1h-1zM19 14h1v1h-1zM21 14h1v1h-1zM31 14h1v1h-1zM14 15h1v1h-1zM18 15h1v1h-1zM25 15h1v1h-1zM32 15h1v1h-1zM6 16h1v1h-1zM13 16h1v1h-1zM33 16h1v1h-1zM18 17h1v1h-1zM22 17h1v1h-1zM26 17h2v1h-2zM34 17h1v1h-1zM10 18h1v1h-1zM17 18h1v1h-1zM21 18h1v1h-1zM25 18h1v1h-1zM28 18h2v1h-2zM32 18h1v1h-1zM22 19h1v1h-1zM29 19h1v1h-1zM4 20h1v1h-1zM17 20h2v1h-2zM20 20h1v1h-1zM21 21h1v1h-1zM28 21h1v1h-1zM4 22h1v1h-1zM9 22h1v1h-1zM20 22h1v1h-1zM13 23h1v1h-1zM15 23h1v1h-1zM20 23h1v1h-1zM12 24h1v1h-1zM15 24h1v1h-1zM21 24h1v1h-1zM23 24h1v1h-1zM25 24h1v1h-1zM5 25h2v1h-2zM8 25h1v1h-1zM22 25h1v1h-1zM4 26h1v1h-1zM12 26h1v1h-1zM15 26h1v1h-1zM22 26h1v1h-1zM2 27h1v1h-1zM10 27h1v1h-1zM16 27h5v1h-5zM22 27h1v1h-1zM25 27h1v1h-1zM27 27h1v1h-1zM7 28h1v1h-1zM20 28h1v1h-1zM23 28h1v1h-1zM6 29h1v1h-1zM14 29h2v1h-2zM23 30h1v1h-1zM31 30h1v1h-1zM1 31h1v1h-1zM6 31h1v1h-1zM36 31h1v1h-1zM2 32h1v1h-1zM5 32h1v1h-1zM17 32h1v1h-1zM24 32h2v1h-2zM3 33h1v1h-1zM16 33h1v1h-1zM11 34h1v1h-1zM21 35h2v1h-2zM1 36h1v1h-1zM8 36h1v1h-1zM21 36h1v1h-1zM3 37h1v1h-1zM13 37h1v1h-1zM16 37h1v1h-1zM18 37h1v1h-1zM20 37h1v1h-1zM23 37h1v1h-1zM29 37h1v1h-1zM0 38h1v1h-1zM26 38h1v1h-1zM28 38h1v1h-1zM30 38h1v1h-1zM2 39h1v1h-1zM4 39h1v1h-1zM6 39h1v1h-1zM12 39h1v1h-1zM19 39h1v1h-1zM33 39h1v1h-1zM1 40h1v1h-1zM4 40h1v1h-1zM14 40h2v1h-2zM21 40h1v1h-1zM23 40h1v1h-1zM30 40h1v1h-1zM36 40h2v1h-2zM1 41h1v1h-1zM4 41h1v1h-1zM6 41h2v1h-2zM21 41h2v1h-2zM29 41h1v1h-1zM38 41h2v1h-2zM0 42h1v1h-1zM2 42h1v1h-1zM13 42h1v1h-1zM2 43h1v1h-1zM6 43h1v1h-1zM11 43h1v1h-1zM36 43h1v1h-1zM24 44h1v1h-1zM37 44h1v1h-1zM7 45h1v1h-1zM21 45h1v1h-1zM25 45h1v1h-1zM29 45h2v1h-2zM33 45h1v1h-1z"/>
<path fill="#f4a683" d="M16 0h1v1h-1zM18 0h1v1h-1zM29 0h1v1h-1zM1 1h1v1h-1zM7 1h1v1h-1zM17 1h1v1h-1zM20 2h2v1h-2zM30 2h1v1h-1zM34 2h1v1h-1zM7 3h1v1h-1zM21 3h1v1h-1zM27 3h1v1h-1zM30 3h1v1h-1zM34 3h1v1h-1zM38 4h1v1h-1zM27 5h1v1h-1zM29 5h1v1h-1zM8 6h1v1h-1zM14 6h1v1h-1zM16 6h1v1h-1zM25 6h1v1h-1zM37 6h1v1h-1zM1 7h1v1h-1zM3 7h1v1h-1zM5 7h1v1h-1zM15 7h1v1h-1zM28 7h1v1h-1zM0 8h1v1h-1zM10 8h1v1h-1zM16 8h1v1h-1zM20 8h1v1h-1zM25 8h1v1h-1zM31 8h1v1h-1zM33 8h1v1h-1zM6 9h1v1h-1zM11 9h1v1h-1zM19 9h1v1h-1zM34 9h1v1h-1zM0 10h1v1h-1zM11 10h1v1h-1zM16 10h1v1h-1zM28 10h2v1h-2zM0 12h1v1h-1zM15 12h1v1h-1zM33 13h1v1h-1zM3 14h1v1h-1zM8 14h1v1h-1zM12 14h1v1h-1zM25 14h1v1h-1zM33 14h1v1h-1zM1 15h2v1h-2zM36 15h1v1h-1zM0 16h1v1h-1zM8 16h1v1h-1zM14 16h1v1h-1zM20 16h1v1h-1zM29 16h1v1h-1zM23 17h1v1h-1zM30 17h1v1h-1zM33 17h1v1h-1zM5 18h2v1h-2zM18 18h1v1h-1zM23 18h1v1h-1zM27 18h1v1h-1zM8 19h1v1h-1zM27 19h1v1h-1zM1 20h1v1h-1zM2 21h2v1h-2zM8 21h1v1h-1zM12 21h1v1h-1zM16 21h1v1h-1zM0 22h2v1h-2zM5 22h1v1h-1zM13 22h1v1h-1zM16 22h2v1h-2zM21 22h1v1h-1zM25 22h1v1h-1zM28 22h1v1h-1zM2 23h1v1h-1zM18 24h1v1h-1zM27 24h1v1h-1zM29 24h1v1h-1zM34 24h1v1h-1zM1 25h1v1h-1zM19 25h1v1h-1zM8 26h1v1h-1zM13 26h1v1h-1zM25 26h1v1h-1zM34 26h1v1h-1zM5 27h1v1h-1zM15 27h1v1h-1zM26 27h1v1h-1zM30 27h1v1h-1zM5 28h2v1h-2zM8 28h1v1h-1zM16 28h2v1h-2zM5 29h1v1h-1zM11 29h1v1h-1zM7 30h1v1h-1zM9 30h1v1h-1zM16 30h1v1h-1zM7 31h1v1h-1zM14 31h1v1h-1zM21 31h1v1h-1zM24 31h1v1h-1zM30 31h1v1h-1zM6 32h1v1h-1zM10 32h1v1h-1zM18 32h1v1h-1zM21 32h1v1h-1zM6 33h1v1h-1zM6 34h2v1h-2zM9 34h1v1h-1zM23 34h2v1h-2zM27 34h1v1h-1zM19 35h1v1h-1zM3 36h1v1h-1zM5 36h1v1h-1zM19 36h1v1h-1zM7 37h1v1h-1zM25 37h1v1h-1zM37 37h1v1h-1zM3 38h1v1h-1zM16 38h1v1h-1zM25 38h1v1h-1zM36 38h1v1h-1zM7 39h2v1h-2zM20 39h1v1h-1zM28 39h1v1h-1zM3 40h1v1h-1zM19 40h1v1h-1zM28 40h1v1h-1zM34 40h1v1h-1zM5 41h1v1h-1zM10 41h1v1h-1zM19 41h1v1h-1zM7 42h1v1h-1zM23 42h1v1h-1zM25 42h1v1h-1zM29 42h1v1h-1zM39 42h1v1h-1zM27 43h1v1h-1zM8 44h1v1h-1zM16 44h1v1h-1zM19 44h1v1h-1zM22 44h1v1h-1zM34 44h1v1h-1zM9 45h1v1h-1z"/>
<path fill="#e8896c" d="M7 0h1v1h-1zM4 1h1v1h-1zM19 1h1v1h-1zM38 1h1v1h-1zM20 3h1v1h-1zM23 3h1v1h-1zM31 3h1v1h-1zM38 3h1v1h-1zM19 4h2v1h-2zM5 5h1v1h-1zM7 5h1v1h-1zM28 5h1v1h-1zM6 7h1v1h-1zM27 8h1v1h-1zM30 8h1v1h-1zM18 9h1v1h-1zM22 9h1v1h-1zM28 9h1v1h-1zM4 10h1v1h-1zM8 10h1v1h-1zM12 10h1v1h-1zM29 12h1v1h-1zM5 13h1v1h-1zM0 14h1v1h-1zM10 14h1v1h-1zM15 14h1v1h-1zM20 14h1v1h-1zM23 14h1v1h-1zM10 15h1v1h-1zM15 15h1v1h-1zM34 15h1v1h-1zM28 17h1v1h-1zM16 18h1v1h-1zM20 18h1v1h-1zM30 18h1v1h-1zM6 19h1v1h-1zM14 19h2v1h-2zM15 20h2v1h-2zM4 21h1v1h-1zM19 21h1v1h-1zM19 23h1v1h-1zM1 24h1v1h-1zM5 24h1v1h-1zM12 25h1v1h-1zM16 25h1v1h-1zM27 25h1v1h-1zM29 25h1v1h-1zM23 27h1v1h-1zM14 28h1v1h-1zM19 29h1v1h-1zM16 32h1v1h-1zM29 33h1v1h-1zM1 34h1v1h-1zM17 34h1v1h-1zM25 34h1v1h-1zM29 34h1v1h-1zM20 35h1v1h-1zM2 37h1v1h-1zM26 37h1v1h-1zM5 39h1v1h-1zM13 39h1v1h-1zM16 40h2v1h-2zM4 42h1v1h-1zM6 42h1v1h-1zM18 42h1v1h-1zM20 43h1v1h-1zM23 43h1v1h-1zM28 43h1v1h-1zM30 43h1v1h-1zM4 44h1v1h-1zM6 44h1v1h-1zM27 44h1v1h-1z"/>
<path fill="#db6b55" d="M36 0h1v1h-1zM0 1h1v1h-1zM20 1h1v1h-1zM37 1h1v1h-1zM38 2h1v1h-1zM20 5h1v1h-1zM20 6h1v1h-1zM29 7h1v1h-1zM30 9h1v1h-1zM30 10h1v1h-1zM25 11h1v1h-1zM10 12h1v1h-1zM29 14h2v1h-2zM8 15h1v1h-1zM19 15h1v1h-1zM21 15h1v1h-1zM23 15h1v1h-1zM27 15h1v1h-1zM1 16h1v1h-1zM7 16h1v1h-1zM10 16h1v1h-1zM12 16h1v1h-1zM16 16h1v1h-1zM18 16h1v1h-1zM21 16h1v1h-1zM6 17h1v1h-1zM8 17h1v1h-1zM17 17h1v1h-1zM20 19h2v1h-2zM30 20h1v1h-1zM14 21h1v1h-1zM25 21h1v1h-1zM10 22h1v1h-1zM23 22h1v1h-1zM6 24h1v1h-1zM16 24h1v1h-1zM17 25h1v1h-1zM1 26h1v1h-1zM17 26h1v1h-1zM19 26h2v1h-2zM31 27h1v1h-1zM27 28h1v1h-1zM29 31h1v1h-1zM5 33h1v1h-1zM19 33h1v1h-1zM19 34h1v1h-1zM28 35h1v1h-1zM18 36h1v1h-1zM20 36h1v1h-1zM26 36h1v1h-1zM33 36h1v1h-1zM5 38h1v1h-1zM22 38h1v1h-1zM29 38h1v1h-1zM33 38h1v1h-1zM20 42h1v1h-1zM28 42h1v1h-1zM30 42h1v1h-1zM25 43h1v1h-1zM5 44h1v1h-1zM18 44h1v1h-1zM23 44h1v1h-1z"/>
<path fill="#cc4c44" d="M27 1h1v1h-1zM37 2h1v1h-1zM27 6h1v1h-1zM8 8h1v1h-1zM23 9h1v1h-1zM5 11h1v1h-1zM5 12h1v1h-1zM8 13h1v1h-1zM29 13h1v1h-1zM13 14h1v1h-1zM16 15h1v1h-1zM31 15h1v1h-1zM15 16h1v1h-1zM19 16h1v1h-1zM25 16h1v1h-1zM8 18h1v1h-1zM19 19h1v1h-1zM30 19h1v1h-1zM37 19h1v1h-1zM6 21h1v1h-1zM6 22h2v1h-2zM19 22h1v1h-1zM19 24h2v1h-2zM15 25h1v1h-1zM7 26h1v1h-1zM27 26h2v1h-2zM26 28h1v1h-1zM30 28h1v1h-1zM19 30h1v1h-1zM23 31h1v1h-1zM20 32h1v1h-1zM30 32h1v1h-1zM17 33h1v1h-1zM7 36h1v1h-1zM27 38h1v1h-1zM21 39h1v1h-1zM5 40h2v1h-2zM10 40h1v1h-1zM29 40h1v1h-1zM21 42h1v1h-1zM17 44h1v1h-1zM20 44h1v1h-1zM30 44h1v1h-1z"/>
<path fill="#bd2d35" d="M17 0h1v1h-1zM30 0h1v1h-1zM25 3h1v1h-1zM1 5h1v1h-1zM7 8h1v1h-1zM1 9h1v1h-1zM7 9h1v1h-1zM6 10h2v1h-2zM10 11h1v1h-1zM7 14h1v1h-1zM5 16h1v1h-1zM27 16h1v1h-1zM14 17h2v1h-2zM19 17h1v1h-1zM21 17h1v1h-1zM17 19h1v1h-1zM25 19h1v1h-1zM0 21h1v1h-1zM11 21h1v1h-1zM8 22h1v1h-1zM8 24h1v1h-1zM17 24h1v1h-1zM25 25h1v1h-1zM16 26h1v1h-1zM7 27h1v1h-1zM28 28h2v1h-2zM30 30h1v1h-1zM19 31h1v1h-1zM25 31h1v1h-1zM19 32h1v1h-1zM23 32h1v1h-1zM27 32h1v1h-1zM21 34h1v1h-1zM28 34h1v1h-1zM30 34h1v1h-1zM30 35h1v1h-1zM6 36h1v1h-1zM27 36h1v1h-1zM30 36h1v1h-1zM34 36h1v1h-1zM27 39h1v1h-1zM30 41h1v1h-1zM5 42h1v1h-1z"/>
<path fill="#a81529" d="M16 3h1v1h-1zM37 4h1v1h-1zM4 8h1v1h-1zM0 9h1v1h-1zM5 9h1v1h-1zM1 10h1v1h-1zM5 10h1v1h-1zM6 11h2v1h-2zM6 12h1v1h-1zM30 12h1v1h-1zM5 14h1v1h-1zM20 15h1v1h-1zM30 15h1v1h-1zM23 16h1v1h-1zM7 17h1v1h-1zM11 17h1v1h-1zM7 19h1v1h-1zM25 20h1v1h-1zM7 21h1v1h-1zM17 21h1v1h-1zM23 21h1v1h-1zM23 25h1v1h-1zM29 27h1v1h-1zM21 28h1v1h-1zM25 28h1v1h-1zM29 29h2v1h-2zM27 30h1v1h-1zM27 31h1v1h-1zM0 32h1v1h-1zM26 32h1v1h-1zM30 33h2v1h-2zM2 34h1v1h-1zM26 34h1v1h-1zM4 36h1v1h-1zM16 36h1v1h-1zM29 36h1v1h-1zM5 37h1v1h-1zM30 37h1v1h-1zM16 39h1v1h-1zM29 39h2v1h-2z"/>
<path fill="#870a24" d="M38 0h1v1h-1zM1 6h1v1h-1zM7 6h1v1h-1zM26 6h1v1h-1zM1 12h1v1h-1zM10 13h1v1h-1zM20 13h1v1h-1zM30 13h1v1h-1zM6 15h2v1h-2zM29 15h1v1h-1zM10 17h1v1h-1zM12 17h1v1h-1zM15 18h1v1h-1zM0 19h1v1h-1zM28 24h1v1h-1zM7 25h1v1h-1zM29 26h1v1h-1zM21 27h1v1h-1zM20 30h1v1h-1zM25 30h1v1h-1zM28 31h1v1h-1zM29 32h1v1h-1zM31 32h1v1h-1zM0 33h1v1h-1zM27 33h1v1h-1zM26 35h1v1h-1zM23 36h1v1h-1zM25 36h1v1h-1zM28 41h1v1h-1zM8 42h1v1h-1zM26 43h1v1h-1z"/>
<path fill="#67001f" d="M21 0h1v1h-1zM37 0h1v1h-1zM34 1h1v1h-1zM32 3h1v1h-1zM28 4h3v1h-3zM38 7h1v1h-1zM17 8h1v1h-1zM17 10h1v1h-1zM7 12h1v1h-1zM7 13h1v1h-1zM6 14h1v1h-1zM24 14h1v1h-1zM5 15h1v1h-1zM11 15h1v1h-1zM28 15h1v1h-1zM26 16h1v1h-1zM16 17h1v1h-1zM20 17h1v1h-1zM19 18h1v1h-1zM34 18h1v1h-1zM15 21h1v1h-1zM33 21h1v1h-1zM17 23h1v1h-1zM30 24h1v1h-1zM21 25h1v1h-1zM30 25h1v1h-1zM23 26h1v1h-1zM30 26h1v1h-1zM28 27h1v1h-1zM34 28h1v1h-1zM28 29h1v1h-1zM0 30h1v1h-1zM15 30h1v1h-1zM21 30h1v1h-1zM26 30h1v1h-1zM0 31h1v1h-1zM20 31h1v1h-1zM31 31h1v1h-1zM7 32h1v1h-1zM7 33h1v1h-1zM2 35h1v1h-1zM24 36h1v1h-1zM28 36h1v1h-1zM31 36h1v1h-1zM27 37h1v1h-1zM23 39h1v1h-1zM25 39h2v1h-2zM38 39h1v1h-1zM7 40h1v1h-1zM25 40h1v1h-1zM27 40h1v1h-1zM17 42h1v1h-1zM27 42h1v1h-1zM21 43h1v1h-1zM21 44h1v1h-1zM25 44h1v1h-1zM29 44h1v1h-1z"/>
</g>
<path d="M242.16 564.7v310.5M247.72 564.7v310.5M253.28 564.7v310.5M258.84 564.7v310.5M264.4 564.7v310.5M269.96 564.7v310.5M275.52 564.7v310.5M281.08 564.7v310.5M286.64 564.7v310.5M292.2 564.7v310.5M297.76 564.7v310.5M303.32 564.7v310.5M308.88 564.7v310.5M314.44 564.7v310.5M320 564.7v310.5M325.56 564.7v310.5M331.12 564.7v310.5M336.68 564.7v310.5M342.24 564.7v310.5M347.8 564.7v310.5M353.36 564.7v310.5M358.92 564.7v310.5M364.48 564.7v310.5M370.04 564.7v310.5M375.6 564.7v310.5M381.16 564.7v310.5M386.72 564.7v310.5M392.28 564.7v310.5M397.84 564.7v310.5M403.4 564.7v310.5M408.96 564.7v310.5M414.52 564.7v310.5M420.08 564.7v310.5M425.64 564.7v310.5M431.2 564.7v310.5M436.76 564.7v310.5M442.32 564.7v310.5M447.88 564.7v310.5M453.44 564.7v310.5M236.6 571.45h222.4M236.6 578.2h222.4M236.6 584.95h222.4M236.6 591.7h222.4M236.6 598.45h222.4M236.6 605.2h222.4M236.6 611.95h222.4M236.6 618.7h222.4M236.6 625.45h222.4M236.6 632.2h222.4M236.6 638.95h222.4M236.6 645.7h222.4M236.6 652.45h222.4M236.6 659.2h222.4M236.6 665.95h222.4M236.6 672.7h222.4M236.6 679.45h222.4M236.6 686.2h222.4M236.6 692.95h222.4M236.6 699.7h222.4M236.6 706.45h222.4M236.6 713.2h222.4M236.6 719.95h222.4M236.6 726.7h222.4M236.6 733.45h222.4M236.6 740.2h222.4M236.6 746.95h222.4M236.6 753.7h222.4M236.6 760.45h222.4M236.6 767.2h222.4M236.6 773.95h222.4M236.6 780.7h222.4M236.6 787.45h222.4M236.6 794.2h222.4M236.6 800.95h222.4M236.6 807.7h222.4M236.6 814.45h222.4M236.6 821.2h222.4M236.6 827.95h222.4M236.6 834.7h222.4M236.6 841.45h222.4M236.6 848.2h222.4M236.6 854.95h222.4M236.6 861.7h222.4M236.6 868.45h222.4" stroke="#fff" stroke-opacity=".16" stroke-width=".6" fill="none"/>
<g transform="translate(463.15 564.7) scale(5.56 6.75)">
<rect width="37" height="46" fill="#cce2ef"/>
<path fill="#1d5fa2" d="M1 45h1v1h-1z"/>
<path fill="#2b73b3" d="M0 8h1v1h-1zM1 9h1v1h-1zM2 21h1v1h-1z"/>
<path fill="#3a87bd" d="M0 3h1v1h-1zM0 6h1v1h-1zM2 23h1v1h-1zM1 34h1v1h-1zM1 41h1v1h-1z"/>
<path fill="#4f9bc7" d="M1 5h1v1h-1zM1 8h1v1h-1zM1 11h1v1h-1zM0 12h1v1h-1zM2 12h1v1h-1zM2 14h1v1h-1zM0 17h1v1h-1zM0 18h1v1h-1zM1 21h1v1h-1zM1 25h2v1h-2zM0 29h1v1h-1zM2 31h1v1h-1zM0 37h2v1h-2z"/>
<path fill="#71b0d3" d="M2 2h1v1h-1zM1 7h2v1h-2zM3 8h1v1h-1zM2 9h1v1h-1zM3 10h1v1h-1zM30 10h1v1h-1zM2 11h2v1h-2zM2 13h1v1h-1zM0 15h1v1h-1zM3 17h1v1h-1zM1 18h1v1h-1zM2 20h1v1h-1zM0 21h1v1h-1zM2 22h1v1h-1zM5 22h1v1h-1zM10 22h1v1h-1zM1 23h1v1h-1zM2 26h1v1h-1zM0 28h1v1h-1zM2 29h1v1h-1zM7 29h1v1h-1zM2 33h1v1h-1zM0 38h3v1h-3zM0 39h1v1h-1zM2 39h1v1h-1zM1 40h2v1h-2zM2 44h1v1h-1z"/>
<path fill="#93c6de" d="M0 4h1v1h-1zM2 4h1v1h-1zM20 5h1v1h-1zM1 6h1v1h-1zM0 7h1v1h-1zM3 7h1v1h-1zM0 9h1v1h-1zM3 9h1v1h-1zM1 10h2v1h-2zM14 12h1v1h-1zM0 13h1v1h-1zM1 14h1v1h-1zM1 15h1v1h-1zM20 15h1v1h-1zM2 16h1v1h-1zM4 16h1v1h-1zM2 17h1v1h-1zM14 17h1v1h-1zM3 18h1v1h-1zM1 19h1v1h-1zM0 20h1v1h-1zM13 20h1v1h-1zM15 21h1v1h-1zM1 22h1v1h-1zM3 22h1v1h-1zM30 22h1v1h-1zM0 23h1v1h-1zM0 24h1v1h-1zM3 26h1v1h-1zM1 27h1v1h-1zM3 27h1v1h-1zM12 27h2v1h-2zM5 28h1v1h-1zM26 28h1v1h-1zM1 29h1v1h-1zM3 29h1v1h-1zM25 29h1v1h-1zM4 31h1v1h-1zM12 31h1v1h-1zM4 32h1v1h-1zM2 34h1v1h-1zM8 34h1v1h-1zM20 35h1v1h-1zM0 36h2v1h-2zM2 41h1v1h-1zM1 42h1v1h-1zM4 42h1v1h-1z"/>
<path fill="#b1d5e7" d="M1 0h2v1h-2zM0 1h1v1h-1zM16 2h1v1h-1zM30 2h1v1h-1zM1 4h1v1h-1zM7 4h1v1h-1zM18 4h1v1h-1zM30 4h1v1h-1zM29 5h1v1h-1zM32 5h1v1h-1zM2 6h1v1h-1zM30 6h1v1h-1zM4 7h1v1h-1zM25 7h1v1h-1zM11 8h1v1h-1zM16 8h1v1h-1zM20 8h1v1h-1zM22 8h2v1h-2zM36 8h1v1h-1zM5 9h1v1h-1zM15 9h1v1h-1zM20 9h1v1h-1zM30 9h1v1h-1zM12 10h1v1h-1zM17 10h2v1h-2zM25 10h1v1h-1zM28 10h1v1h-1zM4 11h1v1h-1zM6 11h1v1h-1zM9 11h1v1h-1zM20 11h1v1h-1zM27 11h1v1h-1zM30 11h3v1h-3zM1 12h1v1h-1zM3 12h1v1h-1zM5 12h1v1h-1zM12 12h1v1h-1zM20 12h2v1h-2zM25 12h1v1h-1zM3 13h1v1h-1zM31 13h1v1h-1zM11 14h3v1h-3zM21 14h3v1h-3zM25 14h1v1h-1zM27 14h1v1h-1zM30 14h1v1h-1zM32 15h1v1h-1zM35 15h2v1h-2zM13 16h1v1h-1zM18 16h2v1h-2zM31 16h1v1h-1zM2 18h1v1h-1zM14 18h2v1h-2zM20 18h1v1h-1zM0 19h1v1h-1zM4 19h1v1h-1zM1 20h1v1h-1zM3 20h2v1h-2zM7 20h1v1h-1zM20 20h1v1h-1zM28 20h1v1h-1zM35 20h1v1h-1zM12 21h1v1h-1zM31 21h1v1h-1zM0 22h1v1h-1zM14 22h2v1h-2zM19 22h2v1h-2zM22 22h1v1h-1zM25 22h1v1h-1zM28 22h1v1h-1zM3 23h1v1h-1zM5 23h1v1h-1zM30 23h1v1h-1zM1 24h2v1h-2zM20 24h1v1h-1zM23 24h1v1h-1zM29 24h1v1h-1zM31 24h1v1h-1zM0 26h1v1h-1zM5 26h1v1h-1zM35 26h1v1h-1zM0 27h1v1h-1zM4 27h1v1h-1zM6 27h1v1h-1zM17 27h1v1h-1zM19 27h3v1h-3zM23 27h1v1h-1zM25 27h2v1h-2zM31 27h1v1h-1zM2 28h2v1h-2zM10 28h1v1h-1zM12 28h1v1h-1zM20 28h1v1h-1zM27 28h2v1h-2zM32 28h1v1h-1zM5 29h1v1h-1zM12 29h1v1h-1zM29 29h1v1h-1zM0 30h1v1h-1zM3 30h1v1h-1zM9 30h1v1h-1zM19 30h1v1h-1zM28 30h1v1h-1zM30 30h1v1h-1zM1 31h1v1h-1zM6 31h1v1h-1zM20 31h2v1h-2zM36 31h1v1h-1zM2 32h2v1h-2zM10 32h1v1h-1zM12 32h1v1h-1zM14 32h1v1h-1zM19 32h2v1h-2zM26 32h1v1h-1zM33 32h1v1h-1zM36 32h1v1h-1zM3 33h1v1h-1zM11 34h1v1h-1zM20 34h1v1h-1zM36 34h1v1h-1zM0 35h1v1h-1zM2 35h3v1h-3zM12 35h2v1h-2zM36 35h1v1h-1zM28 38h1v1h-1zM3 41h1v1h-1zM3 42h1v1h-1zM0 43h1v1h-1zM3 45h1v1h-1z"/>
<path fill="#deebf2" d="M24 0h1v1h-1zM28 0h1v1h-1zM32 0h2v1h-2zM20 1h1v1h-1zM23 1h1v1h-1zM31 1h1v1h-1zM18 2h1v1h-1zM24 2h2v1h-2zM29 2h1v1h-1zM13 3h1v1h-1zM16 3h1v1h-1zM26 3h1v1h-1zM31 3h2v1h-2zM17 4h1v1h-1zM19 4h2v1h-2zM23 4h1v1h-1zM32 4h1v1h-1zM3 5h1v1h-1zM8 5h1v1h-1zM10 5h2v1h-2zM14 5h1v1h-1zM16 5h1v1h-1zM19 5h1v1h-1zM23 5h1v1h-1zM33 5h1v1h-1zM6 6h1v1h-1zM10 6h1v1h-1zM12 6h5v1h-5zM18 6h2v1h-2zM21 6h1v1h-1zM24 6h1v1h-1zM34 6h1v1h-1zM36 6h1v1h-1zM6 7h2v1h-2zM10 7h1v1h-1zM12 7h1v1h-1zM16 7h1v1h-1zM18 7h3v1h-3zM23 7h2v1h-2zM26 7h2v1h-2zM29 7h1v1h-1zM31 7h1v1h-1zM34 7h1v1h-1zM4 8h1v1h-1zM10 8h1v1h-1zM15 8h1v1h-1zM19 8h1v1h-1zM21 8h1v1h-1zM25 8h2v1h-2zM29 8h2v1h-2zM34 8h1v1h-1zM6 9h1v1h-1zM9 9h2v1h-2zM17 9h2v1h-2zM25 9h1v1h-1zM31 9h1v1h-1zM33 9h2v1h-2zM36 9h1v1h-1zM4 10h1v1h-1zM9 10h2v1h-2zM13 10h1v1h-1zM29 10h1v1h-1zM32 10h1v1h-1zM36 10h1v1h-1zM12 11h4v1h-4zM23 11h2v1h-2zM29 11h1v1h-1zM33 11h2v1h-2zM11 12h1v1h-1zM18 12h2v1h-2zM26 12h1v1h-1zM28 12h1v1h-1zM35 12h2v1h-2zM7 13h1v1h-1zM11 13h2v1h-2zM14 13h1v1h-1zM18 13h1v1h-1zM21 13h1v1h-1zM24 13h1v1h-1zM36 13h1v1h-1zM0 14h1v1h-1zM3 14h2v1h-2zM16 14h1v1h-1zM18 14h1v1h-1zM24 14h1v1h-1zM26 14h1v1h-1zM28 14h2v1h-2zM32 14h1v1h-1zM36 14h1v1h-1zM2 15h1v1h-1zM12 15h1v1h-1zM14 15h1v1h-1zM17 15h3v1h-3zM21 15h1v1h-1zM23 15h2v1h-2zM28 15h2v1h-2zM33 15h1v1h-1zM17 16h1v1h-1zM24 16h1v1h-1zM26 16h1v1h-1zM29 16h2v1h-2zM33 16h1v1h-1zM35 16h1v1h-1zM11 17h1v1h-1zM16 17h1v1h-1zM18 17h1v1h-1zM21 17h2v1h-2zM26 17h1v1h-1zM29 17h2v1h-2zM35 17h2v1h-2zM5 18h1v1h-1zM13 18h1v1h-1zM16 18h1v1h-1zM25 18h1v1h-1zM28 18h2v1h-2zM3 19h1v1h-1zM7 19h1v1h-1zM13 19h2v1h-2zM16 19h1v1h-1zM19 19h1v1h-1zM21 19h1v1h-1zM24 19h3v1h-3zM31 19h1v1h-1zM36 19h1v1h-1zM17 20h3v1h-3zM21 20h1v1h-1zM23 20h3v1h-3zM29 20h1v1h-1zM32 20h3v1h-3zM36 20h1v1h-1zM5 21h1v1h-1zM10 21h2v1h-2zM17 21h2v1h-2zM20 21h1v1h-1zM23 21h2v1h-2zM34 21h1v1h-1zM6 22h2v1h-2zM17 22h1v1h-1zM23 22h2v1h-2zM27 22h1v1h-1zM31 22h1v1h-1zM4 23h1v1h-1zM9 23h1v1h-1zM12 23h1v1h-1zM18 23h2v1h-2zM22 23h1v1h-1zM26 23h1v1h-1zM33 23h1v1h-1zM7 24h1v1h-1zM11 24h1v1h-1zM13 24h1v1h-1zM17 24h2v1h-2zM21 24h2v1h-2zM24 24h4v1h-4zM32 24h3v1h-3zM36 24h1v1h-1zM20 25h3v1h-3zM24 25h3v1h-3zM32 25h1v1h-1zM35 25h1v1h-1zM1 26h1v1h-1zM14 26h1v1h-1zM16 26h1v1h-1zM20 26h4v1h-4zM26 26h1v1h-1zM29 26h1v1h-1zM31 26h1v1h-1zM34 26h1v1h-1zM7 27h1v1h-1zM9 27h1v1h-1zM11 27h1v1h-1zM24 27h1v1h-1zM29 27h2v1h-2zM33 27h1v1h-1zM9 28h1v1h-1zM13 28h1v1h-1zM15 28h2v1h-2zM18 28h1v1h-1zM21 28h1v1h-1zM25 28h1v1h-1zM34 28h1v1h-1zM9 29h3v1h-3zM17 29h1v1h-1zM24 29h1v1h-1zM28 29h1v1h-1zM30 29h1v1h-1zM33 29h1v1h-1zM35 29h1v1h-1zM4 30h1v1h-1zM6 30h1v1h-1zM12 30h1v1h-1zM21 30h2v1h-2zM24 30h1v1h-1zM27 30h1v1h-1zM32 30h2v1h-2zM3 31h1v1h-1zM16 31h2v1h-2zM22 31h2v1h-2zM25 31h3v1h-3zM30 31h1v1h-1zM32 31h2v1h-2zM7 32h2v1h-2zM11 32h1v1h-1zM16 32h1v1h-1zM18 32h1v1h-1zM24 32h2v1h-2zM27 32h1v1h-1zM31 32h2v1h-2zM34 32h1v1h-1zM4 33h1v1h-1zM7 33h1v1h-1zM12 33h1v1h-1zM14 33h1v1h-1zM19 33h1v1h-1zM21 33h2v1h-2zM24 33h1v1h-1zM27 33h1v1h-1zM29 33h2v1h-2zM34 33h1v1h-1zM7 34h1v1h-1zM10 34h1v1h-1zM15 34h1v1h-1zM17 34h1v1h-1zM19 34h1v1h-1zM27 34h1v1h-1zM31 34h2v1h-2zM35 34h1v1h-1zM1 35h1v1h-1zM7 35h1v1h-1zM26 35h1v1h-1zM30 35h1v1h-1zM34 35h2v1h-2zM10 36h1v1h-1zM20 36h1v1h-1zM26 36h1v1h-1zM3 37h1v1h-1zM22 37h1v1h-1zM4 38h1v1h-1zM6 38h1v1h-1zM20 38h2v1h-2zM24 38h1v1h-1zM27 38h1v1h-1zM31 38h2v1h-2zM4 39h1v1h-1zM12 39h1v1h-1zM15 39h1v1h-1zM17 39h1v1h-1zM26 39h1v1h-1zM34 39h1v1h-1zM3 40h1v1h-1zM29 41h1v1h-1zM18 42h1v1h-1zM12 43h1v1h-1zM14 43h1v1h-1zM24 43h1v1h-1zM5 44h1v1h-1zM11 44h2v1h-2zM19 44h1v1h-1zM32 44h1v1h-1z"/>
<path fill="#eff3f5" d="M16 0h1v1h-1zM21 0h1v1h-1zM25 0h2v1h-2zM9 1h1v1h-1zM12 1h1v1h-1zM19 1h1v1h-1zM27 1h1v1h-1zM29 1h1v1h-1zM4 2h1v1h-1zM15 2h1v1h-1zM20 2h1v1h-1zM26 2h1v1h-1zM32 2h1v1h-1zM15 3h1v1h-1zM20 3h2v1h-2zM23 3h2v1h-2zM27 3h2v1h-2zM30 3h1v1h-1zM5 4h2v1h-2zM11 4h1v1h-1zM13 4h3v1h-3zM25 4h2v1h-2zM29 4h1v1h-1zM31 4h1v1h-1zM5 5h2v1h-2zM21 5h2v1h-2zM36 5h1v1h-1zM5 6h1v1h-1zM7 6h1v1h-1zM9 6h1v1h-1zM11 6h1v1h-1zM26 6h1v1h-1zM29 6h1v1h-1zM9 7h1v1h-1zM11 7h1v1h-1zM13 7h3v1h-3zM28 7h1v1h-1zM30 7h1v1h-1zM32 7h2v1h-2zM36 7h1v1h-1zM9 8h1v1h-1zM17 8h2v1h-2zM31 8h1v1h-1zM35 8h1v1h-1zM14 9h1v1h-1zM19 9h1v1h-1zM21 9h4v1h-4zM26 9h1v1h-1zM28 9h1v1h-1zM32 9h1v1h-1zM5 10h2v1h-2zM8 10h1v1h-1zM23 10h2v1h-2zM26 10h1v1h-1zM33 10h1v1h-1zM8 12h1v1h-1zM33 12h1v1h-1zM8 13h1v1h-1zM20 13h1v1h-1zM27 13h2v1h-2zM32 13h3v1h-3zM6 14h1v1h-1zM8 14h1v1h-1zM9 15h1v1h-1zM11 15h1v1h-1zM15 15h1v1h-1zM30 15h1v1h-1zM34 15h1v1h-1zM9 16h2v1h-2zM34 16h1v1h-1zM1 17h1v1h-1zM7 17h1v1h-1zM17 17h1v1h-1zM7 18h1v1h-1zM12 18h1v1h-1zM24 18h1v1h-1zM31 18h1v1h-1zM33 18h1v1h-1zM8 19h1v1h-1zM11 19h1v1h-1zM29 19h2v1h-2zM33 19h1v1h-1zM8 20h2v1h-2zM27 20h1v1h-1zM30 20h1v1h-1zM6 21h1v1h-1zM8 21h1v1h-1zM13 21h1v1h-1zM10 23h1v1h-1zM15 23h1v1h-1zM20 23h2v1h-2zM23 23h1v1h-1zM27 23h1v1h-1zM29 23h1v1h-1zM8 24h2v1h-2zM12 24h1v1h-1zM8 25h1v1h-1zM11 25h1v1h-1zM16 25h1v1h-1zM27 25h1v1h-1zM34 25h1v1h-1zM36 25h1v1h-1zM4 26h1v1h-1zM7 26h1v1h-1zM9 26h1v1h-1zM11 26h1v1h-1zM24 26h1v1h-1zM30 26h1v1h-1zM32 26h1v1h-1zM6 28h1v1h-1zM8 28h1v1h-1zM14 28h1v1h-1zM23 28h1v1h-1zM30 28h1v1h-1zM33 28h1v1h-1zM16 29h1v1h-1zM21 29h1v1h-1zM18 30h1v1h-1zM24 31h1v1h-1zM28 31h1v1h-1zM34 31h1v1h-1zM5 32h1v1h-1zM21 32h1v1h-1zM13 33h1v1h-1zM15 33h3v1h-3zM20 33h1v1h-1zM25 33h2v1h-2zM31 33h2v1h-2zM35 33h1v1h-1zM5 34h1v1h-1zM18 34h1v1h-1zM22 34h3v1h-3zM28 34h3v1h-3zM6 35h1v1h-1zM14 35h2v1h-2zM23 35h1v1h-1zM27 35h1v1h-1zM29 35h1v1h-1zM14 36h2v1h-2zM18 36h1v1h-1zM31 36h1v1h-1zM36 36h1v1h-1zM4 37h1v1h-1zM16 37h1v1h-1zM20 37h1v1h-1zM24 37h1v1h-1zM26 37h1v1h-1zM34 37h1v1h-1zM5 38h1v1h-1zM11 38h1v1h-1zM14 38h1v1h-1zM25 38h2v1h-2zM34 38h1v1h-1zM14 39h1v1h-1zM27 39h1v1h-1zM18 40h1v1h-1zM8 41h1v1h-1zM13 41h1v1h-1zM20 41h1v1h-1zM24 41h1v1h-1zM34 41h1v1h-1zM19 42h1v1h-1zM25 42h1v1h-1zM13 44h3v1h-3zM20 44h1v1h-1zM26 44h2v1h-2zM4 45h1v1h-1zM12 45h1v1h-1zM33 45h1v1h-1z"/>
<path fill="#f8f1ed" d="M6 0h1v1h-1zM8 0h1v1h-1zM10 0h1v1h-1zM12 0h1v1h-1zM18 0h1v1h-1zM20 0h1v1h-1zM29 0h1v1h-1zM31 0h1v1h-1zM15 1h2v1h-2zM18 1h1v1h-1zM22 1h1v1h-1zM24 1h1v1h-1zM35 1h1v1h-1zM10 2h1v1h-1zM17 2h1v1h-1zM21 2h2v1h-2zM6 3h1v1h-1zM19 3h1v1h-1zM22 3h1v1h-1zM3 4h1v1h-1zM8 4h2v1h-2zM21 4h1v1h-1zM28 4h1v1h-1zM7 5h1v1h-1zM9 5h1v1h-1zM35 5h1v1h-1zM3 6h1v1h-1zM27 6h1v1h-1zM33 6h1v1h-1zM8 7h1v1h-1zM17 7h1v1h-1zM24 8h1v1h-1zM27 8h1v1h-1zM29 9h1v1h-1zM10 13h1v1h-1zM15 13h1v1h-1zM4 17h1v1h-1zM6 17h1v1h-1zM9 17h2v1h-2zM6 18h1v1h-1zM8 18h2v1h-2zM6 19h1v1h-1zM12 19h1v1h-1zM17 19h1v1h-1zM10 20h3v1h-3zM15 20h1v1h-1zM9 21h1v1h-1zM27 21h1v1h-1zM8 22h1v1h-1zM7 23h1v1h-1zM11 23h1v1h-1zM14 23h1v1h-1zM7 25h1v1h-1zM9 25h1v1h-1zM23 25h1v1h-1zM8 26h1v1h-1zM10 26h1v1h-1zM22 28h1v1h-1zM8 29h1v1h-1zM18 29h1v1h-1zM1 30h1v1h-1zM7 30h1v1h-1zM14 31h1v1h-1zM6 33h1v1h-1zM10 33h1v1h-1zM6 34h1v1h-1zM21 34h1v1h-1zM25 34h1v1h-1zM34 34h1v1h-1zM8 35h1v1h-1zM10 35h1v1h-1zM17 35h1v1h-1zM3 36h1v1h-1zM13 36h1v1h-1zM19 36h1v1h-1zM21 36h1v1h-1zM27 36h3v1h-3zM34 36h1v1h-1zM5 37h1v1h-1zM10 37h1v1h-1zM17 37h1v1h-1zM19 37h1v1h-1zM23 37h1v1h-1zM28 37h1v1h-1zM8 38h1v1h-1zM16 38h1v1h-1zM23 38h1v1h-1zM33 38h1v1h-1zM9 39h2v1h-2zM22 39h1v1h-1zM25 39h1v1h-1zM28 39h1v1h-1zM35 39h2v1h-2zM11 40h1v1h-1zM15 40h1v1h-1zM22 40h1v1h-1zM24 40h1v1h-1zM26 40h2v1h-2zM6 41h2v1h-2zM9 41h1v1h-1zM16 41h1v1h-1zM18 41h1v1h-1zM27 41h1v1h-1zM35 41h1v1h-1zM14 42h1v1h-1zM28 42h1v1h-1zM35 42h1v1h-1zM11 43h1v1h-1zM19 43h1v1h-1zM21 43h1v1h-1zM16 44h1v1h-1zM21 44h1v1h-1zM28 44h1v1h-1zM34 44h1v1h-1zM15 45h1v1h-1zM30 45h1v1h-1zM36 45h1v1h-1z"/>
<path fill="#fbe5d8" d="M7 0h1v1h-1zM11 0h1v1h-1zM14 0h1v1h-1zM19 0h1v1h-1zM23 0h1v1h-1zM27 0h1v1h-1zM34 0h1v1h-1zM2 1h1v1h-1zM5 1h1v1h-1zM8 1h1v1h-1zM11 1h1v1h-1zM13 1h2v1h-2zM28 1h1v1h-1zM30 1h1v1h-1zM33 1h1v1h-1zM9 2h1v1h-1zM14 2h1v1h-1zM34 2h1v1h-1zM5 3h1v1h-1zM9 3h1v1h-1zM12 3h1v1h-1zM18 3h1v1h-1zM25 3h1v1h-1zM33 3h2v1h-2zM36 3h1v1h-1zM4 4h1v1h-1zM34 4h1v1h-1zM34 5h1v1h-1zM25 6h1v1h-1zM5 8h1v1h-1zM33 8h1v1h-1zM7 11h1v1h-1zM36 11h1v1h-1zM9 12h1v1h-1zM1 13h1v1h-1zM30 13h1v1h-1zM5 15h2v1h-2zM8 15h1v1h-1zM27 16h1v1h-1zM5 17h1v1h-1zM8 17h1v1h-1zM27 18h1v1h-1zM9 19h1v1h-1zM15 19h1v1h-1zM7 21h1v1h-1zM16 21h1v1h-1zM9 22h1v1h-1zM35 23h1v1h-1zM10 24h1v1h-1zM6 25h1v1h-1zM33 26h1v1h-1zM11 33h1v1h-1zM9 34h1v1h-1zM26 34h1v1h-1zM21 35h1v1h-1zM24 35h2v1h-2zM6 36h1v1h-1zM8 36h1v1h-1zM13 37h1v1h-1zM18 37h1v1h-1zM21 37h1v1h-1zM27 37h1v1h-1zM30 37h2v1h-2zM33 37h1v1h-1zM9 38h1v1h-1zM12 38h2v1h-2zM15 38h1v1h-1zM35 38h1v1h-1zM5 39h2v1h-2zM8 39h1v1h-1zM13 39h1v1h-1zM18 39h3v1h-3zM30 39h1v1h-1zM7 40h1v1h-1zM10 40h1v1h-1zM28 40h2v1h-2zM34 40h1v1h-1zM0 41h1v1h-1zM5 41h1v1h-1zM11 41h1v1h-1zM14 41h1v1h-1zM21 41h1v1h-1zM11 42h1v1h-1zM13 42h1v1h-1zM20 42h2v1h-2zM24 42h1v1h-1zM29 42h1v1h-1zM5 43h1v1h-1zM10 43h1v1h-1zM17 43h2v1h-2zM20 43h1v1h-1zM26 43h1v1h-1zM31 43h1v1h-1zM33 43h1v1h-1zM1 44h1v1h-1zM4 44h1v1h-1zM23 44h2v1h-2zM33 44h1v1h-1zM7 45h1v1h-1zM14 45h1v1h-1zM18 45h1v1h-1zM21 45h3v1h-3zM25 45h1v1h-1z"/>
<path fill="#fcd7c2" d="M3 0h2v1h-2zM13 0h1v1h-1zM17 0h1v1h-1zM35 0h2v1h-2zM6 1h1v1h-1zM17 1h1v1h-1zM21 1h1v1h-1zM25 1h1v1h-1zM32 1h1v1h-1zM1 2h1v1h-1zM7 2h1v1h-1zM12 2h2v1h-2zM19 2h1v1h-1zM27 2h1v1h-1zM31 2h1v1h-1zM35 2h1v1h-1zM7 3h2v1h-2zM35 3h1v1h-1zM33 4h1v1h-1zM23 6h1v1h-1zM14 10h1v1h-1zM16 11h1v1h-1zM17 13h1v1h-1zM7 15h1v1h-1zM26 15h1v1h-1zM7 16h2v1h-2zM27 19h1v1h-1zM6 20h1v1h-1zM26 20h1v1h-1zM12 25h1v1h-1zM6 26h1v1h-1zM5 27h1v1h-1zM20 29h1v1h-1zM29 30h1v1h-1zM6 32h1v1h-1zM9 32h1v1h-1zM18 33h1v1h-1zM13 34h1v1h-1zM33 34h1v1h-1zM11 35h1v1h-1zM19 35h1v1h-1zM16 36h1v1h-1zM25 36h1v1h-1zM30 36h1v1h-1zM33 36h1v1h-1zM11 37h2v1h-2zM14 37h1v1h-1zM29 37h1v1h-1zM32 37h1v1h-1zM35 37h2v1h-2zM10 38h1v1h-1zM22 38h1v1h-1zM7 39h1v1h-1zM21 39h1v1h-1zM9 40h1v1h-1zM13 40h2v1h-2zM19 40h1v1h-1zM25 40h1v1h-1zM36 40h1v1h-1zM32 41h1v1h-1zM6 42h2v1h-2zM9 42h1v1h-1zM12 42h1v1h-1zM15 42h1v1h-1zM22 42h1v1h-1zM36 42h1v1h-1zM7 43h1v1h-1zM23 43h1v1h-1zM34 43h1v1h-1zM8 44h1v1h-1zM17 44h2v1h-2zM29 44h3v1h-3zM35 44h2v1h-2zM11 45h1v1h-1zM16 45h1v1h-1zM24 45h1v1h-1zM35 45h1v1h-1z"/>
<path fill="#f8bfa4" d="M22 0h1v1h-1zM30 0h1v1h-1zM10 1h1v1h-1zM26 1h1v1h-1zM5 2h1v1h-1zM33 2h1v1h-1zM22 4h1v1h-1zM24 4h1v1h-1zM36 4h1v1h-1zM2 8h1v1h-1zM7 9h1v1h-1zM28 11h1v1h-1zM6 13h1v1h-1zM3 16h1v1h-1zM4 21h1v1h-1zM21 21h1v1h-1zM14 25h1v1h-1zM18 26h1v1h-1zM32 27h1v1h-1zM17 30h1v1h-1zM15 31h1v1h-1zM1 33h1v1h-1zM14 34h1v1h-1zM28 35h1v1h-1zM5 36h1v1h-1zM11 36h1v1h-1zM23 36h1v1h-1zM32 36h1v1h-1zM7 37h1v1h-1zM7 38h1v1h-1zM19 38h1v1h-1zM30 38h1v1h-1zM36 38h1v1h-1zM16 39h1v1h-1zM23 39h2v1h-2zM29 39h1v1h-1zM12 40h1v1h-1zM17 40h1v1h-1zM30 40h2v1h-2zM10 41h1v1h-1zM12 41h1v1h-1zM22 41h1v1h-1zM26 41h1v1h-1zM28 41h1v1h-1zM26 42h1v1h-1zM30 42h1v1h-1zM34 42h1v1h-1zM9 43h1v1h-1zM15 43h1v1h-1zM29 43h2v1h-2zM35 43h1v1h-1zM7 44h1v1h-1zM22 44h1v1h-1zM10 45h1v1h-1zM13 45h1v1h-1zM26 45h4v1h-4zM31 45h1v1h-1z"/>
<path fill="#f4a683" d="M7 1h1v1h-1zM34 1h1v1h-1zM36 1h1v1h-1zM36 2h1v1h-1zM4 3h1v1h-1zM14 3h1v1h-1zM12 5h1v1h-1zM0 11h1v1h-1zM10 11h1v1h-1zM25 11h1v1h-1zM22 15h1v1h-1zM27 15h1v1h-1zM6 16h1v1h-1zM32 16h1v1h-1zM36 16h1v1h-1zM30 18h1v1h-1zM35 18h1v1h-1zM10 19h1v1h-1zM28 19h1v1h-1zM0 25h1v1h-1zM15 25h1v1h-1zM10 27h1v1h-1zM1 28h1v1h-1zM7 28h1v1h-1zM7 36h1v1h-1zM12 36h1v1h-1zM35 36h1v1h-1zM25 37h1v1h-1zM29 38h1v1h-1zM33 39h1v1h-1zM20 40h2v1h-2zM35 40h1v1h-1zM15 41h1v1h-1zM30 41h1v1h-1zM2 42h1v1h-1zM5 42h1v1h-1zM23 42h1v1h-1zM31 42h2v1h-2zM22 43h1v1h-1zM25 43h1v1h-1zM32 43h1v1h-1zM36 43h1v1h-1zM9 45h1v1h-1zM19 45h1v1h-1zM32 45h1v1h-1z"/>
<path fill="#e8896c" d="M8 2h1v1h-1zM2 27h1v1h-1zM24 36h1v1h-1zM17 38h1v1h-1zM11 39h1v1h-1zM23 40h1v1h-1zM25 41h1v1h-1zM33 41h1v1h-1zM36 41h1v1h-1zM8 42h1v1h-1zM10 42h1v1h-1zM17 42h1v1h-1zM6 43h1v1h-1zM8 43h1v1h-1zM28 43h1v1h-1zM10 44h1v1h-1zM34 45h1v1h-1z"/>
<path fill="#db6b55" d="M18 38h1v1h-1zM8 40h1v1h-1zM23 41h1v1h-1zM16 42h1v1h-1zM27 42h1v1h-1zM8 45h1v1h-1z"/>
<path fill="#cc4c44" d="M32 40h1v1h-1zM0 44h1v1h-1zM6 44h1v1h-1z"/>
<path fill="#bd2d35" d="M0 0h1v1h-1zM0 2h1v1h-1zM2 3h2v1h-2zM16 13h1v1h-1zM1 16h1v1h-1zM5 16h1v1h-1zM23 30h1v1h-1zM0 32h1v1h-1zM0 33h1v1h-1zM9 36h1v1h-1zM17 36h1v1h-1zM16 43h1v1h-1zM0 45h1v1h-1zM17 45h1v1h-1z"/>
<path fill="#a81529" d="M1 1h1v1h-1zM3 1h1v1h-1zM3 2h1v1h-1zM0 5h1v1h-1zM4 12h1v1h-1zM0 31h1v1h-1zM9 37h1v1h-1zM0 42h1v1h-1zM6 45h1v1h-1z"/>
<path fill="#870a24" d="M4 1h1v1h-1zM22 7h1v1h-1zM4 13h1v1h-1zM9 14h1v1h-1zM22 36h1v1h-1zM31 39h2v1h-2zM0 40h1v1h-1zM9 44h1v1h-1z"/>
<path fill="#67001f" d="M5 0h1v1h-1zM6 2h1v1h-1zM1 3h1v1h-1zM2 5h1v1h-1zM4 9h1v1h-1zM9 13h1v1h-1zM5 14h1v1h-1zM4 18h1v1h-1zM10 18h1v1h-1zM5 19h1v1h-1zM34 29h1v1h-1zM9 31h1v1h-1zM9 33h1v1h-1zM0 34h1v1h-1zM9 35h1v1h-1zM4 36h1v1h-1zM5 40h2v1h-2zM33 40h1v1h-1zM4 41h1v1h-1zM17 41h1v1h-1zM33 42h1v1h-1zM13 43h1v1h-1zM27 43h1v1h-1z"/>
</g>
<path d="M468.71 564.7v310.5M474.27 564.7v310.5M479.83 564.7v310.5M485.39 564.7v310.5M490.95 564.7v310.5M496.51 564.7v310.5M502.07 564.7v310.5M507.63 564.7v310.5M513.19 564.7v310.5M518.75 564.7v310.5M524.31 564.7v310.5M529.87 564.7v310.5M535.43 564.7v310.5M540.99 564.7v310.5M546.55 564.7v310.5M552.11 564.7v310.5M557.67 564.7v310.5M563.23 564.7v310.5M568.79 564.7v310.5M574.35 564.7v310.5M579.91 564.7v310.5M585.47 564.7v310.5M591.03 564.7v310.5M596.59 564.7v310.5M602.15 564.7v310.5M607.71 564.7v310.5M613.27 564.7v310.5M618.83 564.7v310.5M624.39 564.7v310.5M629.95 564.7v310.5M635.51 564.7v310.5M641.07 564.7v310.5M646.63 564.7v310.5M652.19 564.7v310.5M657.75 564.7v310.5M663.31 564.7v310.5M463.15 571.45h205.72M463.15 578.2h205.72M463.15 584.95h205.72M463.15 591.7h205.72M463.15 598.45h205.72M463.15 605.2h205.72M463.15 611.95h205.72M463.15 618.7h205.72M463.15 625.45h205.72M463.15 632.2h205.72M463.15 638.95h205.72M463.15 645.7h205.72M463.15 652.45h205.72M463.15 659.2h205.72M463.15 665.95h205.72M463.15 672.7h205.72M463.15 679.45h205.72M463.15 686.2h205.72M463.15 692.95h205.72M463.15 699.7h205.72M463.15 706.45h205.72M463.15 713.2h205.72M463.15 719.95h205.72M463.15 726.7h205.72M463.15 733.45h205.72M463.15 740.2h205.72M463.15 746.95h205.72M463.15 753.7h205.72M463.15 760.45h205.72M463.15 767.2h205.72M463.15 773.95h205.72M463.15 780.7h205.72M463.15 787.45h205.72M463.15 794.2h205.72M463.15 800.95h205.72M463.15 807.7h205.72M463.15 814.45h205.72M463.15 821.2h205.72M463.15 827.95h205.72M463.15 834.7h205.72M463.15 841.45h205.72M463.15 848.2h205.72M463.15 854.95h205.72M463.15 861.7h205.72M463.15 868.45h205.72" stroke="#fff" stroke-opacity=".16" stroke-width=".6" fill="none"/>
<g transform="translate(673.8 564.7) scale(5.56 6.75)">
<rect width="40" height="46" fill="#cce2ef"/>
<path fill="#4f9bc7" d="M38 18h1v1h-1zM38 32h1v1h-1zM37 35h1v1h-1zM37 42h1v1h-1z"/>
<path fill="#71b0d3" d="M33 0h1v1h-1zM33 2h1v1h-1zM3 7h1v1h-1zM33 13h1v1h-1zM36 13h2v1h-2zM36 23h1v1h-1zM37 25h1v1h-1zM33 26h1v1h-1zM33 27h1v1h-1zM33 32h1v1h-1zM37 32h1v1h-1zM37 36h1v1h-1zM21 37h1v1h-1zM35 37h1v1h-1zM9 39h1v1h-1zM2 40h1v1h-1zM31 40h1v1h-1zM25 42h1v1h-1zM33 44h1v1h-1z"/>
<path fill="#93c6de" d="M2 0h1v1h-1zM23 0h1v1h-1zM37 0h2v1h-2zM32 1h1v1h-1zM37 1h1v1h-1zM38 2h1v1h-1zM36 3h1v1h-1zM33 4h1v1h-1zM36 5h1v1h-1zM10 7h1v1h-1zM33 7h1v1h-1zM38 7h1v1h-1zM36 8h1v1h-1zM30 9h1v1h-1zM33 9h1v1h-1zM29 10h1v1h-1zM36 11h2v1h-2zM2 12h1v1h-1zM25 13h1v1h-1zM33 15h1v1h-1zM33 17h1v1h-1zM35 18h1v1h-1zM37 18h1v1h-1zM36 19h2v1h-2zM8 20h1v1h-1zM24 20h1v1h-1zM28 20h1v1h-1zM36 20h2v1h-2zM39 20h1v1h-1zM37 21h1v1h-1zM34 22h1v1h-1zM37 23h1v1h-1zM13 24h1v1h-1zM15 24h1v1h-1zM33 24h1v1h-1zM38 24h1v1h-1zM16 25h2v1h-2zM33 25h1v1h-1zM38 25h1v1h-1zM36 26h1v1h-1zM38 26h1v1h-1zM38 27h1v1h-1zM2 28h1v1h-1zM33 28h1v1h-1zM33 30h1v1h-1zM37 30h1v1h-1zM33 33h1v1h-1zM33 34h1v1h-1zM33 36h1v1h-1zM2 37h1v1h-1zM17 37h1v1h-1zM28 37h1v1h-1zM30 37h1v1h-1zM33 37h1v1h-1zM39 37h1v1h-1zM11 38h1v1h-1zM20 38h1v1h-1zM22 38h1v1h-1zM25 38h1v1h-1zM35 38h4v1h-4zM2 39h1v1h-1zM8 39h1v1h-1zM13 39h1v1h-1zM20 39h1v1h-1zM30 39h1v1h-1zM35 39h2v1h-2zM0 40h1v1h-1zM5 40h1v1h-1zM7 40h2v1h-2zM12 40h1v1h-1zM15 40h1v1h-1zM28 40h1v1h-1zM37 40h1v1h-1zM4 41h2v1h-2zM13 41h1v1h-1zM8 42h1v1h-1zM13 42h1v1h-1zM17 42h1v1h-1zM18 43h1v1h-1zM30 43h1v1h-1zM14 44h1v1h-1zM21 44h2v1h-2zM27 44h2v1h-2zM18 45h2v1h-2zM22 45h2v1h-2zM33 45h1v1h-1z"/>
<path fill="#b1d5e7" d="M10 0h1v1h-1zM13 0h1v1h-1zM22 0h1v1h-1zM25 0h1v1h-1zM30 0h2v1h-2zM11 1h1v1h-1zM14 1h1v1h-1zM29 1h1v1h-1zM31 1h1v1h-1zM36 1h1v1h-1zM1 2h2v1h-2zM13 2h1v1h-1zM16 2h1v1h-1zM23 2h2v1h-2zM26 2h1v1h-1zM7 3h1v1h-1zM30 3h2v1h-2zM4 4h2v1h-2zM2 5h1v1h-1zM23 5h1v1h-1zM33 5h1v1h-1zM23 6h1v1h-1zM33 6h1v1h-1zM5 7h1v1h-1zM13 7h1v1h-1zM15 7h1v1h-1zM23 7h1v1h-1zM16 8h1v1h-1zM1 9h1v1h-1zM7 9h1v1h-1zM13 9h1v1h-1zM28 9h1v1h-1zM36 9h1v1h-1zM13 10h1v1h-1zM16 10h1v1h-1zM21 10h1v1h-1zM28 10h1v1h-1zM30 10h2v1h-2zM33 10h1v1h-1zM38 10h1v1h-1zM14 11h1v1h-1zM26 11h1v1h-1zM30 11h1v1h-1zM5 12h1v1h-1zM33 12h1v1h-1zM38 12h1v1h-1zM11 13h1v1h-1zM13 13h1v1h-1zM31 13h1v1h-1zM35 13h1v1h-1zM6 14h1v1h-1zM8 14h1v1h-1zM33 14h1v1h-1zM12 15h1v1h-1zM38 15h1v1h-1zM2 16h1v1h-1zM8 16h1v1h-1zM11 16h5v1h-5zM17 16h2v1h-2zM20 16h3v1h-3zM31 16h1v1h-1zM36 16h1v1h-1zM38 16h2v1h-2zM10 17h1v1h-1zM13 17h1v1h-1zM17 17h1v1h-1zM19 17h1v1h-1zM23 17h1v1h-1zM32 17h1v1h-1zM39 17h1v1h-1zM2 18h1v1h-1zM4 18h1v1h-1zM10 18h2v1h-2zM17 18h2v1h-2zM22 18h2v1h-2zM33 18h1v1h-1zM30 19h1v1h-1zM33 19h1v1h-1zM2 20h1v1h-1zM6 20h1v1h-1zM33 20h1v1h-1zM35 20h1v1h-1zM23 21h1v1h-1zM26 21h1v1h-1zM32 21h1v1h-1zM39 21h1v1h-1zM0 22h1v1h-1zM4 22h1v1h-1zM26 22h1v1h-1zM30 22h3v1h-3zM36 22h2v1h-2zM6 23h1v1h-1zM33 23h1v1h-1zM38 23h1v1h-1zM5 24h1v1h-1zM17 24h2v1h-2zM37 24h1v1h-1zM5 25h4v1h-4zM10 25h1v1h-1zM11 27h1v1h-1zM13 27h1v1h-1zM14 28h1v1h-1zM17 28h1v1h-1zM31 28h1v1h-1zM36 28h1v1h-1zM11 30h1v1h-1zM13 30h2v1h-2zM16 30h1v1h-1zM36 31h1v1h-1zM13 33h1v1h-1zM18 33h1v1h-1zM26 33h1v1h-1zM30 33h1v1h-1zM38 33h1v1h-1zM13 35h1v1h-1zM23 35h2v1h-2zM26 35h1v1h-1zM33 35h4v1h-4zM38 35h2v1h-2zM17 36h1v1h-1zM21 36h1v1h-1zM26 36h1v1h-1zM28 36h4v1h-4zM35 36h1v1h-1zM0 37h1v1h-1zM5 37h1v1h-1zM9 37h1v1h-1zM13 37h3v1h-3zM18 37h1v1h-1zM22 37h1v1h-1zM24 37h1v1h-1zM27 37h1v1h-1zM37 37h2v1h-2zM0 38h1v1h-1zM2 38h6v1h-6zM9 38h2v1h-2zM17 38h1v1h-1zM19 38h1v1h-1zM23 38h2v1h-2zM31 38h3v1h-3zM4 39h1v1h-1zM7 39h1v1h-1zM10 39h2v1h-2zM15 39h1v1h-1zM17 39h1v1h-1zM22 39h2v1h-2zM25 39h1v1h-1zM27 39h1v1h-1zM6 40h1v1h-1zM9 40h1v1h-1zM11 40h1v1h-1zM17 40h3v1h-3zM23 40h1v1h-1zM25 40h1v1h-1zM29 40h1v1h-1zM35 40h1v1h-1zM39 40h1v1h-1zM0 41h1v1h-1zM2 41h1v1h-1zM6 41h4v1h-4zM11 41h2v1h-2zM18 41h1v1h-1zM22 41h1v1h-1zM28 41h3v1h-3zM33 41h1v1h-1zM37 41h1v1h-1zM10 42h3v1h-3zM14 42h1v1h-1zM16 42h1v1h-1zM23 42h1v1h-1zM29 42h2v1h-2zM33 42h1v1h-1zM4 43h1v1h-1zM7 43h1v1h-1zM10 43h4v1h-4zM17 43h1v1h-1zM19 43h1v1h-1zM22 43h3v1h-3zM26 43h3v1h-3zM31 43h1v1h-1zM33 43h1v1h-1zM35 43h1v1h-1zM7 44h1v1h-1zM12 44h2v1h-2zM18 44h3v1h-3zM23 44h2v1h-2zM26 44h1v1h-1zM30 44h1v1h-1zM9 45h1v1h-1zM16 45h1v1h-1zM20 45h1v1h-1zM24 45h1v1h-1zM28 45h1v1h-1zM35 45h1v1h-1z"/>
<path fill="#deebf2" d="M1 0h1v1h-1zM4 0h1v1h-1zM6 0h2v1h-2zM11 0h2v1h-2zM16 0h1v1h-1zM19 0h3v1h-3zM26 0h1v1h-1zM29 0h1v1h-1zM32 0h1v1h-1zM0 1h2v1h-2zM4 1h2v1h-2zM8 1h1v1h-1zM12 1h2v1h-2zM16 1h1v1h-1zM18 1h1v1h-1zM21 1h1v1h-1zM30 1h1v1h-1zM0 2h1v1h-1zM3 2h2v1h-2zM6 2h1v1h-1zM9 2h2v1h-2zM14 2h1v1h-1zM29 2h1v1h-1zM31 2h1v1h-1zM0 3h1v1h-1zM2 3h1v1h-1zM4 3h2v1h-2zM10 3h1v1h-1zM12 3h1v1h-1zM14 3h1v1h-1zM19 3h2v1h-2zM23 3h2v1h-2zM32 3h1v1h-1zM2 4h1v1h-1zM11 4h2v1h-2zM18 4h5v1h-5zM29 4h4v1h-4zM4 5h1v1h-1zM7 5h2v1h-2zM11 5h2v1h-2zM16 5h4v1h-4zM21 5h2v1h-2zM24 5h5v1h-5zM30 5h2v1h-2zM37 5h1v1h-1zM0 6h2v1h-2zM8 6h1v1h-1zM13 6h1v1h-1zM15 6h1v1h-1zM18 6h2v1h-2zM26 6h1v1h-1zM32 6h1v1h-1zM37 6h1v1h-1zM39 6h1v1h-1zM12 7h1v1h-1zM16 7h1v1h-1zM18 7h1v1h-1zM20 7h1v1h-1zM24 7h1v1h-1zM27 7h1v1h-1zM34 7h1v1h-1zM37 7h1v1h-1zM39 7h1v1h-1zM3 8h2v1h-2zM7 8h1v1h-1zM10 8h1v1h-1zM13 8h2v1h-2zM18 8h3v1h-3zM22 8h1v1h-1zM27 8h1v1h-1zM34 8h2v1h-2zM38 8h1v1h-1zM3 9h1v1h-1zM8 9h2v1h-2zM18 9h3v1h-3zM25 9h1v1h-1zM31 9h1v1h-1zM2 10h1v1h-1zM10 10h1v1h-1zM18 10h1v1h-1zM24 10h1v1h-1zM26 10h1v1h-1zM32 10h1v1h-1zM34 10h1v1h-1zM37 10h1v1h-1zM0 11h2v1h-2zM4 11h1v1h-1zM8 11h1v1h-1zM10 11h1v1h-1zM12 11h2v1h-2zM19 11h2v1h-2zM27 11h3v1h-3zM3 12h2v1h-2zM6 12h1v1h-1zM8 12h2v1h-2zM15 12h1v1h-1zM19 12h1v1h-1zM22 12h2v1h-2zM27 12h2v1h-2zM34 12h1v1h-1zM36 12h1v1h-1zM39 12h1v1h-1zM0 13h1v1h-1zM4 13h2v1h-2zM9 13h2v1h-2zM12 13h1v1h-1zM14 13h1v1h-1zM17 13h2v1h-2zM20 13h1v1h-1zM23 13h1v1h-1zM27 13h2v1h-2zM39 13h1v1h-1zM4 14h1v1h-1zM7 14h1v1h-1zM19 14h1v1h-1zM21 14h1v1h-1zM23 14h2v1h-2zM26 14h2v1h-2zM32 14h1v1h-1zM34 14h2v1h-2zM2 15h2v1h-2zM10 15h1v1h-1zM14 15h1v1h-1zM16 15h1v1h-1zM19 15h2v1h-2zM22 15h2v1h-2zM26 15h1v1h-1zM28 15h2v1h-2zM32 15h1v1h-1zM34 15h3v1h-3zM0 16h1v1h-1zM3 16h1v1h-1zM5 16h1v1h-1zM7 16h1v1h-1zM24 16h1v1h-1zM26 16h4v1h-4zM34 16h1v1h-1zM5 17h3v1h-3zM15 17h1v1h-1zM20 17h1v1h-1zM22 17h1v1h-1zM25 17h1v1h-1zM27 17h1v1h-1zM29 17h1v1h-1zM34 17h1v1h-1zM6 18h1v1h-1zM8 18h2v1h-2zM15 18h1v1h-1zM19 18h1v1h-1zM25 18h1v1h-1zM28 18h2v1h-2zM32 18h1v1h-1zM34 18h1v1h-1zM2 19h1v1h-1zM4 19h1v1h-1zM6 19h1v1h-1zM8 19h1v1h-1zM12 19h4v1h-4zM20 19h1v1h-1zM24 19h2v1h-2zM27 19h1v1h-1zM32 19h1v1h-1zM34 19h1v1h-1zM39 19h1v1h-1zM0 20h1v1h-1zM13 20h2v1h-2zM17 20h1v1h-1zM19 20h1v1h-1zM23 20h1v1h-1zM26 20h2v1h-2zM0 21h2v1h-2zM8 21h1v1h-1zM10 21h1v1h-1zM13 21h2v1h-2zM22 21h1v1h-1zM24 21h1v1h-1zM27 21h2v1h-2zM31 21h1v1h-1zM35 21h2v1h-2zM1 22h1v1h-1zM5 22h1v1h-1zM8 22h1v1h-1zM10 22h1v1h-1zM12 22h3v1h-3zM22 22h1v1h-1zM27 22h2v1h-2zM39 22h1v1h-1zM1 23h1v1h-1zM8 23h1v1h-1zM11 23h1v1h-1zM15 23h1v1h-1zM20 23h4v1h-4zM25 23h1v1h-1zM27 23h1v1h-1zM31 23h1v1h-1zM34 23h1v1h-1zM39 23h1v1h-1zM7 24h2v1h-2zM10 24h1v1h-1zM12 24h1v1h-1zM14 24h1v1h-1zM16 24h1v1h-1zM21 24h2v1h-2zM25 24h1v1h-1zM27 24h1v1h-1zM29 24h1v1h-1zM32 24h1v1h-1zM34 24h1v1h-1zM2 25h1v1h-1zM4 25h1v1h-1zM9 25h1v1h-1zM14 25h1v1h-1zM19 25h1v1h-1zM21 25h1v1h-1zM25 25h1v1h-1zM27 25h3v1h-3zM31 25h1v1h-1zM34 25h1v1h-1zM36 25h1v1h-1zM39 25h1v1h-1zM1 26h1v1h-1zM4 26h1v1h-1zM8 26h1v1h-1zM14 26h1v1h-1zM17 26h1v1h-1zM19 26h1v1h-1zM21 26h1v1h-1zM23 26h1v1h-1zM25 26h1v1h-1zM27 26h1v1h-1zM29 26h1v1h-1zM31 26h1v1h-1zM35 26h1v1h-1zM1 27h1v1h-1zM10 27h1v1h-1zM14 27h1v1h-1zM17 27h1v1h-1zM23 27h3v1h-3zM29 27h3v1h-3zM36 27h1v1h-1zM39 27h1v1h-1zM1 28h1v1h-1zM3 28h1v1h-1zM10 28h2v1h-2zM15 28h1v1h-1zM19 28h3v1h-3zM25 28h3v1h-3zM29 28h1v1h-1zM32 28h1v1h-1zM35 28h1v1h-1zM38 28h1v1h-1zM0 29h1v1h-1zM5 29h1v1h-1zM9 29h1v1h-1zM11 29h1v1h-1zM13 29h1v1h-1zM16 29h1v1h-1zM19 29h3v1h-3zM23 29h2v1h-2zM27 29h2v1h-2zM31 29h1v1h-1zM37 29h2v1h-2zM1 30h1v1h-1zM3 30h1v1h-1zM5 30h1v1h-1zM12 30h1v1h-1zM17 30h2v1h-2zM20 30h3v1h-3zM27 30h2v1h-2zM38 30h1v1h-1zM0 31h1v1h-1zM2 31h4v1h-4zM7 31h1v1h-1zM9 31h1v1h-1zM13 31h2v1h-2zM16 31h1v1h-1zM21 31h4v1h-4zM28 31h1v1h-1zM38 31h1v1h-1zM0 32h1v1h-1zM3 32h2v1h-2zM6 32h5v1h-5zM12 32h1v1h-1zM15 32h1v1h-1zM17 32h2v1h-2zM20 32h2v1h-2zM23 32h1v1h-1zM27 32h2v1h-2zM30 32h2v1h-2zM34 32h1v1h-1zM6 33h1v1h-1zM9 33h2v1h-2zM24 33h1v1h-1zM28 33h1v1h-1zM34 33h1v1h-1zM2 34h1v1h-1zM4 34h3v1h-3zM9 34h2v1h-2zM12 34h1v1h-1zM16 34h1v1h-1zM18 34h1v1h-1zM20 34h2v1h-2zM26 34h1v1h-1zM28 34h2v1h-2zM32 34h1v1h-1zM36 34h1v1h-1zM38 34h2v1h-2zM0 35h2v1h-2zM6 35h1v1h-1zM8 35h1v1h-1zM15 35h1v1h-1zM18 35h1v1h-1zM20 35h1v1h-1zM22 35h1v1h-1zM2 36h1v1h-1zM4 36h1v1h-1zM9 36h1v1h-1zM11 36h1v1h-1zM14 36h2v1h-2zM18 36h1v1h-1zM36 36h1v1h-1zM38 36h1v1h-1zM4 37h1v1h-1zM18 38h1v1h-1zM27 38h1v1h-1zM29 38h1v1h-1zM3 39h1v1h-1zM16 39h1v1h-1zM28 39h2v1h-2zM38 39h2v1h-2zM3 40h1v1h-1zM26 40h1v1h-1zM38 40h1v1h-1zM10 41h1v1h-1zM16 41h1v1h-1zM21 41h1v1h-1zM34 41h1v1h-1zM1 42h3v1h-3zM19 42h1v1h-1zM26 42h2v1h-2zM34 42h1v1h-1zM38 42h1v1h-1zM3 43h1v1h-1zM9 43h1v1h-1zM14 43h1v1h-1zM32 43h1v1h-1zM34 43h1v1h-1zM2 44h3v1h-3zM6 44h1v1h-1zM9 44h1v1h-1zM16 44h2v1h-2zM25 44h1v1h-1zM32 44h1v1h-1zM36 44h1v1h-1zM38 44h2v1h-2zM0 45h5v1h-5zM8 45h1v1h-1zM11 45h3v1h-3zM25 45h1v1h-1zM27 45h1v1h-1zM34 45h1v1h-1zM38 45h1v1h-1z"/>
<path fill="#eff3f5" d="M3 0h1v1h-1zM9 0h1v1h-1zM34 0h1v1h-1zM3 1h1v1h-1zM19 1h1v1h-1zM24 1h1v1h-1zM26 1h1v1h-1zM28 1h1v1h-1zM34 1h1v1h-1zM7 2h1v1h-1zM12 2h1v1h-1zM27 2h1v1h-1zM32 2h1v1h-1zM37 2h1v1h-1zM3 3h1v1h-1zM6 3h1v1h-1zM8 3h2v1h-2zM11 3h1v1h-1zM16 3h1v1h-1zM21 3h1v1h-1zM25 3h3v1h-3zM29 3h1v1h-1zM6 4h1v1h-1zM9 4h2v1h-2zM14 4h3v1h-3zM24 4h3v1h-3zM28 4h1v1h-1zM38 4h1v1h-1zM3 5h1v1h-1zM6 5h1v1h-1zM14 5h1v1h-1zM20 5h1v1h-1zM35 5h1v1h-1zM3 6h2v1h-2zM10 6h1v1h-1zM12 6h1v1h-1zM14 6h1v1h-1zM16 6h1v1h-1zM20 6h2v1h-2zM28 6h1v1h-1zM34 6h1v1h-1zM36 6h1v1h-1zM0 7h1v1h-1zM7 7h1v1h-1zM11 7h1v1h-1zM25 7h1v1h-1zM29 7h2v1h-2zM6 8h1v1h-1zM11 8h1v1h-1zM24 8h2v1h-2zM6 9h1v1h-1zM21 9h1v1h-1zM24 9h1v1h-1zM26 9h1v1h-1zM29 9h1v1h-1zM0 10h2v1h-2zM4 10h1v1h-1zM7 10h1v1h-1zM9 10h1v1h-1zM17 10h1v1h-1zM20 10h1v1h-1zM27 10h1v1h-1zM39 10h1v1h-1zM2 11h2v1h-2zM7 11h1v1h-1zM16 11h1v1h-1zM24 11h1v1h-1zM38 11h2v1h-2zM7 12h1v1h-1zM10 12h1v1h-1zM14 12h1v1h-1zM20 12h1v1h-1zM24 12h1v1h-1zM29 12h2v1h-2zM1 13h2v1h-2zM15 13h2v1h-2zM21 13h1v1h-1zM2 14h1v1h-1zM10 14h1v1h-1zM14 14h1v1h-1zM18 14h1v1h-1zM22 14h1v1h-1zM7 15h1v1h-1zM13 15h1v1h-1zM21 15h1v1h-1zM25 15h1v1h-1zM39 15h1v1h-1zM4 16h1v1h-1zM19 16h1v1h-1zM2 17h1v1h-1zM16 17h1v1h-1zM31 17h1v1h-1zM20 18h1v1h-1zM3 19h1v1h-1zM9 19h2v1h-2zM17 19h3v1h-3zM21 19h1v1h-1zM23 19h1v1h-1zM26 19h1v1h-1zM28 19h1v1h-1zM4 20h1v1h-1zM7 20h1v1h-1zM9 20h1v1h-1zM15 20h1v1h-1zM20 20h1v1h-1zM9 21h1v1h-1zM12 21h1v1h-1zM16 21h3v1h-3zM20 21h2v1h-2zM15 22h1v1h-1zM0 23h1v1h-1zM3 23h1v1h-1zM9 23h1v1h-1zM13 23h2v1h-2zM17 23h2v1h-2zM24 23h1v1h-1zM35 23h1v1h-1zM2 24h1v1h-1zM26 24h1v1h-1zM1 25h1v1h-1zM12 25h2v1h-2zM15 25h1v1h-1zM22 25h1v1h-1zM24 25h1v1h-1zM26 25h1v1h-1zM5 26h1v1h-1zM11 26h2v1h-2zM18 26h1v1h-1zM20 26h1v1h-1zM22 26h1v1h-1zM26 26h1v1h-1zM28 26h1v1h-1zM30 26h1v1h-1zM39 26h1v1h-1zM4 27h1v1h-1zM6 27h3v1h-3zM21 27h1v1h-1zM28 27h1v1h-1zM12 28h1v1h-1zM18 28h1v1h-1zM23 28h2v1h-2zM28 28h1v1h-1zM34 28h1v1h-1zM39 28h1v1h-1zM3 29h2v1h-2zM7 29h2v1h-2zM12 29h1v1h-1zM22 29h1v1h-1zM9 30h2v1h-2zM15 30h1v1h-1zM19 30h1v1h-1zM34 30h1v1h-1zM1 31h1v1h-1zM6 31h1v1h-1zM11 31h2v1h-2zM18 31h1v1h-1zM20 31h1v1h-1zM25 31h3v1h-3zM34 31h2v1h-2zM37 31h1v1h-1zM39 31h1v1h-1zM1 32h1v1h-1zM11 32h1v1h-1zM19 32h1v1h-1zM39 32h1v1h-1zM3 34h1v1h-1zM14 34h1v1h-1zM19 34h1v1h-1zM22 34h1v1h-1zM27 34h1v1h-1zM34 34h1v1h-1zM1 36h1v1h-1zM6 36h1v1h-1zM12 36h1v1h-1zM22 36h1v1h-1zM1 37h1v1h-1zM14 40h1v1h-1zM34 40h1v1h-1zM32 41h1v1h-1zM0 42h1v1h-1zM0 43h2v1h-2zM6 43h1v1h-1zM0 44h1v1h-1zM8 44h1v1h-1zM5 45h1v1h-1zM30 45h1v1h-1zM36 45h1v1h-1z"/>
<path fill="#f8f1ed" d="M38 1h1v1h-1zM34 2h2v1h-2zM39 2h1v1h-1zM1 3h1v1h-1zM15 3h1v1h-1zM18 3h1v1h-1zM35 3h1v1h-1zM38 3h1v1h-1zM1 4h1v1h-1zM7 4h2v1h-2zM27 4h1v1h-1zM35 4h1v1h-1zM37 4h1v1h-1zM39 4h1v1h-1zM0 5h2v1h-2zM5 5h1v1h-1zM9 5h1v1h-1zM34 5h1v1h-1zM6 6h1v1h-1zM11 6h1v1h-1zM19 7h1v1h-1zM36 7h1v1h-1zM1 8h1v1h-1zM12 8h1v1h-1zM27 9h1v1h-1zM17 11h2v1h-2zM18 12h1v1h-1zM0 14h1v1h-1zM15 14h1v1h-1zM17 14h1v1h-1zM0 17h1v1h-1zM24 17h1v1h-1zM28 17h1v1h-1zM3 18h1v1h-1zM0 19h1v1h-1zM16 19h1v1h-1zM22 19h1v1h-1zM18 20h1v1h-1zM3 21h2v1h-2zM15 21h1v1h-1zM19 21h1v1h-1zM3 22h1v1h-1zM2 23h1v1h-1zM7 23h1v1h-1zM12 23h1v1h-1zM16 23h1v1h-1zM1 24h1v1h-1zM3 24h1v1h-1zM6 24h1v1h-1zM0 25h1v1h-1zM3 25h1v1h-1zM11 25h1v1h-1zM3 26h1v1h-1zM13 26h1v1h-1zM32 26h1v1h-1zM34 26h1v1h-1zM12 27h1v1h-1zM27 27h1v1h-1zM5 28h1v1h-1zM13 28h1v1h-1zM6 29h1v1h-1zM34 29h1v1h-1zM8 31h1v1h-1zM10 31h1v1h-1zM19 31h1v1h-1zM29 31h1v1h-1zM1 44h1v1h-1z"/>
<path fill="#fbe5d8" d="M28 0h1v1h-1zM35 0h1v1h-1zM39 0h1v1h-1zM35 1h1v1h-1zM34 3h1v1h-1zM39 3h1v1h-1zM9 6h1v1h-1zM38 6h1v1h-1zM1 7h1v1h-1zM8 7h2v1h-2zM26 8h1v1h-1zM28 8h1v1h-1zM37 8h1v1h-1zM9 11h1v1h-1zM5 14h1v1h-1zM20 14h1v1h-1zM0 15h1v1h-1zM9 15h1v1h-1zM1 16h1v1h-1zM37 16h1v1h-1zM1 17h1v1h-1zM3 17h2v1h-2zM35 17h1v1h-1zM13 18h1v1h-1zM30 18h1v1h-1zM1 19h1v1h-1zM5 20h1v1h-1zM11 20h1v1h-1zM7 22h1v1h-1zM10 23h1v1h-1zM24 24h1v1h-1zM32 25h1v1h-1zM7 26h1v1h-1zM9 26h1v1h-1zM0 28h1v1h-1zM4 28h1v1h-1zM37 28h1v1h-1zM35 29h1v1h-1zM2 30h1v1h-1zM6 30h1v1h-1zM25 36h1v1h-1zM39 38h1v1h-1zM7 42h1v1h-1z"/>
<path fill="#fcd7c2" d="M36 0h1v1h-1zM15 2h1v1h-1zM34 4h1v1h-1zM36 4h1v1h-1zM27 6h1v1h-1zM2 7h1v1h-1zM4 7h1v1h-1zM0 8h1v1h-1zM1 12h1v1h-1zM34 13h1v1h-1zM1 18h1v1h-1zM10 20h1v1h-1zM2 22h1v1h-1zM19 23h1v1h-1zM28 23h1v1h-1zM30 24h1v1h-1zM16 26h1v1h-1zM2 27h2v1h-2zM20 36h1v1h-1zM10 37h1v1h-1zM21 38h1v1h-1zM21 42h1v1h-1zM37 45h1v1h-1z"/>
<path fill="#f8bfa4" d="M17 0h1v1h-1zM20 1h1v1h-1zM39 1h1v1h-1zM37 3h1v1h-1zM10 5h1v1h-1zM38 5h1v1h-1zM6 7h1v1h-1zM32 7h1v1h-1zM31 8h1v1h-1zM17 12h1v1h-1zM37 12h1v1h-1zM6 13h1v1h-1zM37 14h1v1h-1zM7 18h1v1h-1zM19 22h1v1h-1zM4 23h1v1h-1zM23 24h1v1h-1zM6 26h1v1h-1zM9 27h1v1h-1zM6 28h1v1h-1zM24 30h1v1h-1zM21 39h1v1h-1zM33 40h1v1h-1zM24 42h1v1h-1z"/>
<path fill="#f4a683" d="M28 3h1v1h-1zM15 5h1v1h-1zM2 6h1v1h-1zM3 10h1v1h-1zM16 12h1v1h-1zM5 18h1v1h-1zM5 21h1v1h-1zM26 23h1v1h-1zM32 27h1v1h-1zM34 27h1v1h-1zM37 27h1v1h-1zM20 37h1v1h-1zM34 44h1v1h-1z"/>
<path fill="#cc4c44" d="M35 22h1v1h-1zM10 26h1v1h-1z"/>
<path fill="#bd2d35" d="M0 12h1v1h-1z"/>
<path fill="#a81529" d="M6 21h1v1h-1z"/>
<path fill="#870a24" d="M39 5h1v1h-1z"/>
<path fill="#67001f" d="M21 12h1v1h-1zM3 37h1v1h-1zM10 44h1v1h-1z"/>
</g>
<path d="M679.36 564.7v310.5M684.92 564.7v310.5M690.48 564.7v310.5M696.04 564.7v310.5M701.6 564.7v310.5M707.16 564.7v310.5M712.72 564.7v310.5M718.28 564.7v310.5M723.84 564.7v310.5M729.4 564.7v310.5M734.96 564.7v310.5M740.52 564.7v310.5M746.08 564.7v310.5M751.64 564.7v310.5M757.2 564.7v310.5M762.76 564.7v310.5M768.32 564.7v310.5M773.88 564.7v310.5M779.44 564.7v310.5M785 564.7v310.5M790.56 564.7v310.5M796.12 564.7v310.5M801.68 564.7v310.5M807.24 564.7v310.5M812.8 564.7v310.5M818.36 564.7v310.5M823.92 564.7v310.5M829.48 564.7v310.5M835.04 564.7v310.5M840.6 564.7v310.5M846.16 564.7v310.5M851.72 564.7v310.5M857.28 564.7v310.5M862.84 564.7v310.5M868.4 564.7v310.5M873.96 564.7v310.5M879.52 564.7v310.5M885.08 564.7v310.5M890.64 564.7v310.5M673.8 571.45h222.4M673.8 578.2h222.4M673.8 584.95h222.4M673.8 591.7h222.4M673.8 598.45h222.4M673.8 605.2h222.4M673.8 611.95h222.4M673.8 618.7h222.4M673.8 625.45h222.4M673.8 632.2h222.4M673.8 638.95h222.4M673.8 645.7h222.4M673.8 652.45h222.4M673.8 659.2h222.4M673.8 665.95h222.4M673.8 672.7h222.4M673.8 679.45h222.4M673.8 686.2h222.4M673.8 692.95h222.4M673.8 699.7h222.4M673.8 706.45h222.4M673.8 713.2h222.4M673.8 719.95h222.4M673.8 726.7h222.4M673.8 733.45h222.4M673.8 740.2h222.4M673.8 746.95h222.4M673.8 753.7h222.4M673.8 760.45h222.4M673.8 767.2h222.4M673.8 773.95h222.4M673.8 780.7h222.4M673.8 787.45h222.4M673.8 794.2h222.4M673.8 800.95h222.4M673.8 807.7h222.4M673.8 814.45h222.4M673.8 821.2h222.4M673.8 827.95h222.4M673.8 834.7h222.4M673.8 841.45h222.4M673.8 848.2h222.4M673.8 854.95h222.4M673.8 861.7h222.4M673.8 868.45h222.4" stroke="#fff" stroke-opacity=".16" stroke-width=".6" fill="none"/>
<g transform="translate(236.6 880.5) scale(5.56 6.75)">
<rect width="40" height="47" fill="#deebf2"/>
<path fill="#4f9bc7" d="M0 8h1v1h-1zM0 21h1v1h-1zM0 39h1v1h-1z"/>
<path fill="#71b0d3" d="M0 4h1v1h-1zM5 4h1v1h-1zM0 14h1v1h-1zM21 14h1v1h-1zM0 20h1v1h-1zM1 23h1v1h-1zM1 26h1v1h-1zM1 27h1v1h-1z"/>
<path fill="#93c6de" d="M24 0h2v1h-2zM0 1h2v1h-2zM23 1h1v1h-1zM28 1h1v1h-1zM9 3h1v1h-1zM15 3h1v1h-1zM23 4h1v1h-1zM3 5h1v1h-1zM35 5h1v1h-1zM20 8h1v1h-1zM6 9h1v1h-1zM6 10h2v1h-2zM4 11h1v1h-1zM27 15h1v1h-1zM11 18h1v1h-1zM5 24h1v1h-1zM12 24h1v1h-1zM21 24h1v1h-1zM0 25h1v1h-1zM13 26h1v1h-1zM6 27h1v1h-1zM19 27h1v1h-1zM0 28h1v1h-1zM17 28h1v1h-1zM0 32h1v1h-1zM0 33h1v1h-1zM34 33h1v1h-1zM39 33h1v1h-1zM32 34h1v1h-1zM0 36h2v1h-2zM32 36h1v1h-1zM1 37h1v1h-1zM3 37h1v1h-1zM16 38h1v1h-1zM0 40h2v1h-2zM1 42h1v1h-1zM34 43h1v1h-1zM2 44h1v1h-1zM7 44h1v1h-1zM14 44h1v1h-1zM21 44h1v1h-1zM33 44h1v1h-1z"/>
<path fill="#b1d5e7" d="M0 0h1v1h-1zM2 0h1v1h-1zM9 0h1v1h-1zM14 0h1v1h-1zM29 0h1v1h-1zM7 1h1v1h-1zM15 1h1v1h-1zM24 1h1v1h-1zM37 1h3v1h-3zM3 2h1v1h-1zM7 2h1v1h-1zM22 2h1v1h-1zM24 2h1v1h-1zM34 2h1v1h-1zM0 3h1v1h-1zM16 3h2v1h-2zM22 3h1v1h-1zM24 3h1v1h-1zM39 3h1v1h-1zM1 4h1v1h-1zM29 4h1v1h-1zM34 4h1v1h-1zM33 5h1v1h-1zM6 6h2v1h-2zM15 6h1v1h-1zM31 6h2v1h-2zM3 7h1v1h-1zM18 7h1v1h-1zM22 7h1v1h-1zM18 8h1v1h-1zM22 8h1v1h-1zM29 8h1v1h-1zM32 8h2v1h-2zM37 8h1v1h-1zM39 8h1v1h-1zM1 9h1v1h-1zM24 9h1v1h-1zM26 9h1v1h-1zM33 9h1v1h-1zM37 9h1v1h-1zM2 10h1v1h-1zM5 10h1v1h-1zM20 10h1v1h-1zM29 10h1v1h-1zM33 10h3v1h-3zM0 11h1v1h-1zM21 11h1v1h-1zM39 11h1v1h-1zM17 12h1v1h-1zM22 12h1v1h-1zM32 12h1v1h-1zM6 13h1v1h-1zM32 13h1v1h-1zM30 15h1v1h-1zM32 16h1v1h-1zM3 17h1v1h-1zM11 17h1v1h-1zM5 18h1v1h-1zM17 18h1v1h-1zM20 18h1v1h-1zM23 18h1v1h-1zM32 18h3v1h-3zM0 19h1v1h-1zM19 20h1v1h-1zM1 21h1v1h-1zM24 21h1v1h-1zM7 22h1v1h-1zM21 22h1v1h-1zM22 25h1v1h-1zM34 25h1v1h-1zM2 26h2v1h-2zM10 26h2v1h-2zM17 26h1v1h-1zM19 26h2v1h-2zM23 26h1v1h-1zM29 26h1v1h-1zM5 27h1v1h-1zM9 27h1v1h-1zM11 27h1v1h-1zM14 27h1v1h-1zM29 27h1v1h-1zM31 27h1v1h-1zM1 28h1v1h-1zM3 28h1v1h-1zM9 28h1v1h-1zM12 28h1v1h-1zM32 28h1v1h-1zM34 28h1v1h-1zM21 29h1v1h-1zM14 30h1v1h-1zM24 30h1v1h-1zM28 30h1v1h-1zM33 30h1v1h-1zM1 32h2v1h-2zM16 32h1v1h-1zM26 32h1v1h-1zM1 33h3v1h-3zM11 33h1v1h-1zM13 33h1v1h-1zM16 33h2v1h-2zM19 33h1v1h-1zM35 33h1v1h-1zM20 34h1v1h-1zM28 34h1v1h-1zM34 34h1v1h-1zM13 35h1v1h-1zM14 36h1v1h-1zM36 36h1v1h-1zM1 38h1v1h-1zM7 38h1v1h-1zM31 38h1v1h-1zM39 38h1v1h-1zM9 39h1v1h-1zM7 40h1v1h-1zM4 41h1v1h-1zM7 42h1v1h-1zM1 43h3v1h-3zM5 43h1v1h-1zM12 43h1v1h-1zM23 43h1v1h-1zM35 43h5v1h-5zM5 44h1v1h-1zM16 44h2v1h-2zM19 44h1v1h-1zM23 44h1v1h-1zM27 44h1v1h-1zM5 45h3v1h-3zM20 45h1v1h-1zM33 45h1v1h-1zM35 45h1v1h-1zM13 46h2v1h-2zM19 46h1v1h-1zM28 46h1v1h-1z"/>
<path fill="#cce2ef" d="M3 0h1v1h-1zM6 0h2v1h-2zM12 0h2v1h-2zM15 0h1v1h-1zM19 0h1v1h-1zM23 0h1v1h-1zM2 1h3v1h-3zM9 1h1v1h-1zM16 1h2v1h-2zM22 1h1v1h-1zM30 1h2v1h-2zM0 2h1v1h-1zM4 2h1v1h-1zM9 2h1v1h-1zM12 2h1v1h-1zM14 2h1v1h-1zM18 2h1v1h-1zM27 2h1v1h-1zM30 2h1v1h-1zM36 2h1v1h-1zM38 2h1v1h-1zM2 3h1v1h-1zM4 3h1v1h-1zM8 3h1v1h-1zM10 3h2v1h-2zM23 3h1v1h-1zM34 3h1v1h-1zM7 4h1v1h-1zM12 4h3v1h-3zM17 4h1v1h-1zM19 4h1v1h-1zM21 4h1v1h-1zM24 4h1v1h-1zM28 4h1v1h-1zM32 4h1v1h-1zM36 4h1v1h-1zM2 5h1v1h-1zM4 5h1v1h-1zM7 5h1v1h-1zM9 5h1v1h-1zM11 5h2v1h-2zM14 5h2v1h-2zM28 5h1v1h-1zM31 5h2v1h-2zM9 6h3v1h-3zM13 6h2v1h-2zM17 6h1v1h-1zM19 6h1v1h-1zM21 6h1v1h-1zM23 6h2v1h-2zM5 7h1v1h-1zM7 7h1v1h-1zM10 7h1v1h-1zM21 7h1v1h-1zM25 7h1v1h-1zM29 7h1v1h-1zM32 7h1v1h-1zM38 7h2v1h-2zM19 8h1v1h-1zM24 8h1v1h-1zM31 8h1v1h-1zM0 9h1v1h-1zM5 9h1v1h-1zM10 9h1v1h-1zM22 9h1v1h-1zM27 9h1v1h-1zM34 9h1v1h-1zM36 9h1v1h-1zM3 10h1v1h-1zM16 10h1v1h-1zM28 10h1v1h-1zM30 10h1v1h-1zM36 10h1v1h-1zM6 11h2v1h-2zM14 11h1v1h-1zM16 11h1v1h-1zM19 11h2v1h-2zM29 11h1v1h-1zM32 11h1v1h-1zM38 11h1v1h-1zM6 12h1v1h-1zM28 12h1v1h-1zM30 12h1v1h-1zM33 12h2v1h-2zM39 12h1v1h-1zM0 13h2v1h-2zM28 13h2v1h-2zM31 13h1v1h-1zM23 14h1v1h-1zM28 14h1v1h-1zM36 14h1v1h-1zM10 15h2v1h-2zM21 15h1v1h-1zM31 15h3v1h-3zM36 15h1v1h-1zM24 16h1v1h-1zM33 16h1v1h-1zM1 17h1v1h-1zM34 17h1v1h-1zM3 18h1v1h-1zM10 18h1v1h-1zM14 18h1v1h-1zM22 18h1v1h-1zM24 18h1v1h-1zM38 18h2v1h-2zM28 19h1v1h-1zM32 19h1v1h-1zM12 20h1v1h-1zM39 20h1v1h-1zM25 21h1v1h-1zM1 22h1v1h-1zM15 22h1v1h-1zM39 22h1v1h-1zM7 23h2v1h-2zM23 23h1v1h-1zM35 23h1v1h-1zM0 24h2v1h-2zM4 24h1v1h-1zM6 24h6v1h-6zM13 24h1v1h-1zM16 24h2v1h-2zM22 24h1v1h-1zM27 24h1v1h-1zM38 24h1v1h-1zM12 25h1v1h-1zM14 25h2v1h-2zM24 25h1v1h-1zM6 26h2v1h-2zM12 26h1v1h-1zM14 26h1v1h-1zM16 26h1v1h-1zM30 26h1v1h-1zM32 26h3v1h-3zM3 27h2v1h-2zM20 27h1v1h-1zM22 27h1v1h-1zM30 27h1v1h-1zM2 28h1v1h-1zM4 28h2v1h-2zM7 28h2v1h-2zM13 28h4v1h-4zM19 28h2v1h-2zM22 28h2v1h-2zM28 28h1v1h-1zM33 28h1v1h-1zM36 28h1v1h-1zM39 28h1v1h-1zM3 29h2v1h-2zM7 29h1v1h-1zM14 29h1v1h-1zM18 29h2v1h-2zM24 29h1v1h-1zM0 30h3v1h-3zM5 30h3v1h-3zM11 30h3v1h-3zM17 30h6v1h-6zM26 30h1v1h-1zM36 30h3v1h-3zM3 31h1v1h-1zM18 31h1v1h-1zM28 31h1v1h-1zM3 32h2v1h-2zM7 32h1v1h-1zM10 32h1v1h-1zM12 32h3v1h-3zM25 32h1v1h-1zM31 32h1v1h-1zM34 32h1v1h-1zM36 32h1v1h-1zM5 33h1v1h-1zM8 33h3v1h-3zM12 33h1v1h-1zM14 33h2v1h-2zM20 33h2v1h-2zM27 33h1v1h-1zM33 33h1v1h-1zM36 33h1v1h-1zM38 33h1v1h-1zM0 34h2v1h-2zM5 34h3v1h-3zM9 34h2v1h-2zM12 34h4v1h-4zM21 34h3v1h-3zM30 34h1v1h-1zM33 34h1v1h-1zM35 34h2v1h-2zM39 34h1v1h-1zM8 35h1v1h-1zM10 35h2v1h-2zM14 35h2v1h-2zM20 35h1v1h-1zM22 35h1v1h-1zM36 35h3v1h-3zM5 36h3v1h-3zM10 36h1v1h-1zM12 36h1v1h-1zM37 36h1v1h-1zM6 37h2v1h-2zM36 37h1v1h-1zM38 37h1v1h-1zM0 38h1v1h-1zM2 38h1v1h-1zM6 38h1v1h-1zM14 38h1v1h-1zM29 38h2v1h-2zM33 38h3v1h-3zM37 38h1v1h-1zM2 39h2v1h-2zM7 39h2v1h-2zM10 39h1v1h-1zM12 39h1v1h-1zM14 39h1v1h-1zM38 39h2v1h-2zM34 40h1v1h-1zM0 41h1v1h-1zM12 41h1v1h-1zM19 41h1v1h-1zM33 41h3v1h-3zM0 42h1v1h-1zM6 42h1v1h-1zM22 42h1v1h-1zM31 42h1v1h-1zM33 42h2v1h-2zM36 42h1v1h-1zM39 42h1v1h-1zM0 43h1v1h-1zM4 43h1v1h-1zM8 43h1v1h-1zM10 43h1v1h-1zM20 43h3v1h-3zM24 43h1v1h-1zM29 43h3v1h-3zM0 44h2v1h-2zM3 44h2v1h-2zM10 44h2v1h-2zM13 44h1v1h-1zM18 44h1v1h-1zM20 44h1v1h-1zM28 44h3v1h-3zM32 44h1v1h-1zM34 44h6v1h-6zM3 45h1v1h-1zM8 45h2v1h-2zM15 45h1v1h-1zM19 45h1v1h-1zM21 45h1v1h-1zM23 45h1v1h-1zM26 45h1v1h-1zM28 45h1v1h-1zM31 45h1v1h-1zM34 45h1v1h-1zM36 45h1v1h-1zM2 46h3v1h-3zM21 46h1v1h-1zM23 46h1v1h-1zM33 46h1v1h-1zM38 46h2v1h-2z"/>
<path fill="#eff3f5" d="M10 0h1v1h-1zM17 0h1v1h-1zM21 0h1v1h-1zM31 0h2v1h-2zM34 0h1v1h-1zM38 0h1v1h-1zM26 1h2v1h-2zM35 1h1v1h-1zM16 2h1v1h-1zM23 2h1v1h-1zM32 2h2v1h-2zM3 3h1v1h-1zM5 3h2v1h-2zM12 3h1v1h-1zM18 3h2v1h-2zM25 3h3v1h-3zM31 3h1v1h-1zM35 3h2v1h-2zM2 4h1v1h-1zM8 4h1v1h-1zM15 4h1v1h-1zM37 4h2v1h-2zM1 5h1v1h-1zM6 5h1v1h-1zM8 5h1v1h-1zM26 5h1v1h-1zM30 5h1v1h-1zM37 5h2v1h-2zM4 6h1v1h-1zM12 6h1v1h-1zM39 6h1v1h-1zM1 7h1v1h-1zM4 7h1v1h-1zM13 7h1v1h-1zM24 7h1v1h-1zM26 7h1v1h-1zM28 7h1v1h-1zM37 7h1v1h-1zM5 8h1v1h-1zM7 8h1v1h-1zM10 8h1v1h-1zM13 8h3v1h-3zM17 8h1v1h-1zM23 8h1v1h-1zM4 9h1v1h-1zM11 9h1v1h-1zM14 9h1v1h-1zM17 9h1v1h-1zM28 9h1v1h-1zM30 9h2v1h-2zM38 9h1v1h-1zM4 10h1v1h-1zM9 10h4v1h-4zM18 10h1v1h-1zM23 10h1v1h-1zM25 10h1v1h-1zM27 10h1v1h-1zM1 11h2v1h-2zM9 11h1v1h-1zM11 11h2v1h-2zM15 11h1v1h-1zM27 11h1v1h-1zM30 11h2v1h-2zM34 11h1v1h-1zM3 12h1v1h-1zM5 12h1v1h-1zM13 12h2v1h-2zM18 12h1v1h-1zM21 12h1v1h-1zM23 12h1v1h-1zM25 12h1v1h-1zM36 12h1v1h-1zM14 13h3v1h-3zM18 13h2v1h-2zM30 13h1v1h-1zM33 13h1v1h-1zM3 14h1v1h-1zM9 14h1v1h-1zM20 14h1v1h-1zM25 14h3v1h-3zM35 14h1v1h-1zM38 14h1v1h-1zM1 15h4v1h-4zM14 15h1v1h-1zM17 15h1v1h-1zM23 15h2v1h-2zM26 15h1v1h-1zM6 16h1v1h-1zM9 16h1v1h-1zM15 16h2v1h-2zM19 16h1v1h-1zM21 16h1v1h-1zM30 16h1v1h-1zM37 16h1v1h-1zM39 16h1v1h-1zM10 17h1v1h-1zM19 17h1v1h-1zM22 17h2v1h-2zM28 17h1v1h-1zM35 17h5v1h-5zM0 18h2v1h-2zM8 18h1v1h-1zM16 18h1v1h-1zM4 19h1v1h-1zM10 19h1v1h-1zM15 19h1v1h-1zM20 19h1v1h-1zM22 19h1v1h-1zM25 19h1v1h-1zM30 19h2v1h-2zM34 19h1v1h-1zM38 19h2v1h-2zM3 20h1v1h-1zM7 20h1v1h-1zM10 20h2v1h-2zM23 20h4v1h-4zM29 20h1v1h-1zM35 20h4v1h-4zM2 21h1v1h-1zM6 21h1v1h-1zM18 21h2v1h-2zM23 21h1v1h-1zM28 21h2v1h-2zM37 21h1v1h-1zM39 21h1v1h-1zM3 22h1v1h-1zM10 22h1v1h-1zM13 22h1v1h-1zM17 22h1v1h-1zM20 22h1v1h-1zM35 22h1v1h-1zM38 22h1v1h-1zM10 23h1v1h-1zM12 23h1v1h-1zM14 23h2v1h-2zM17 23h1v1h-1zM20 23h1v1h-1zM24 23h1v1h-1zM28 23h1v1h-1zM3 24h1v1h-1zM14 24h1v1h-1zM18 24h1v1h-1zM20 24h1v1h-1zM4 25h1v1h-1zM7 25h1v1h-1zM9 25h2v1h-2zM19 25h2v1h-2zM23 25h1v1h-1zM28 25h1v1h-1zM33 25h1v1h-1zM37 25h1v1h-1zM4 26h1v1h-1zM9 26h1v1h-1zM24 26h1v1h-1zM27 26h1v1h-1zM31 26h1v1h-1zM37 26h3v1h-3zM17 27h1v1h-1zM24 27h1v1h-1zM33 27h1v1h-1zM35 27h1v1h-1zM24 28h1v1h-1zM30 28h2v1h-2zM37 28h1v1h-1zM8 29h2v1h-2zM11 29h2v1h-2zM17 29h1v1h-1zM23 29h1v1h-1zM25 29h1v1h-1zM31 29h1v1h-1zM39 29h1v1h-1zM15 30h1v1h-1zM39 30h1v1h-1zM0 31h1v1h-1zM6 31h2v1h-2zM19 31h1v1h-1zM21 31h1v1h-1zM26 31h1v1h-1zM30 31h1v1h-1zM36 31h1v1h-1zM20 32h1v1h-1zM22 32h1v1h-1zM29 32h2v1h-2zM37 32h1v1h-1zM6 33h1v1h-1zM30 33h1v1h-1zM3 34h2v1h-2zM11 34h1v1h-1zM17 34h1v1h-1zM4 35h1v1h-1zM6 35h1v1h-1zM27 35h3v1h-3zM31 35h1v1h-1zM34 35h1v1h-1zM4 36h1v1h-1zM9 36h1v1h-1zM15 36h1v1h-1zM19 36h1v1h-1zM27 36h1v1h-1zM31 36h1v1h-1zM4 37h1v1h-1zM14 37h1v1h-1zM19 37h2v1h-2zM22 37h1v1h-1zM28 37h1v1h-1zM30 37h4v1h-4zM4 38h2v1h-2zM10 38h1v1h-1zM17 38h2v1h-2zM28 38h1v1h-1zM38 38h1v1h-1zM5 39h1v1h-1zM28 39h1v1h-1zM30 39h1v1h-1zM32 39h2v1h-2zM35 39h1v1h-1zM4 40h1v1h-1zM29 40h2v1h-2zM33 40h1v1h-1zM35 40h3v1h-3zM6 41h1v1h-1zM9 41h3v1h-3zM15 41h1v1h-1zM37 41h1v1h-1zM2 42h3v1h-3zM9 42h2v1h-2zM19 42h1v1h-1zM21 42h1v1h-1zM32 42h1v1h-1zM35 42h1v1h-1zM37 42h1v1h-1zM11 43h1v1h-1zM25 43h1v1h-1zM33 43h1v1h-1zM16 45h1v1h-1zM18 45h1v1h-1zM22 45h1v1h-1zM9 46h3v1h-3zM16 46h1v1h-1zM22 46h1v1h-1zM24 46h1v1h-1zM26 46h2v1h-2zM30 46h1v1h-1zM35 46h1v1h-1z"/>
<path fill="#f8f1ed" d="M18 0h1v1h-1zM27 0h1v1h-1zM21 1h1v1h-1zM25 1h1v1h-1zM13 2h1v1h-1zM20 2h2v1h-2zM28 3h2v1h-2zM4 4h1v1h-1zM10 4h1v1h-1zM18 4h1v1h-1zM25 4h3v1h-3zM39 4h1v1h-1zM10 5h1v1h-1zM17 5h1v1h-1zM23 5h1v1h-1zM27 5h1v1h-1zM29 5h1v1h-1zM39 5h1v1h-1zM2 6h1v1h-1zM16 6h1v1h-1zM27 6h1v1h-1zM11 7h1v1h-1zM17 7h1v1h-1zM20 7h1v1h-1zM2 8h1v1h-1zM12 8h1v1h-1zM26 8h2v1h-2zM7 9h2v1h-2zM19 9h1v1h-1zM25 9h1v1h-1zM14 10h1v1h-1zM19 10h1v1h-1zM8 11h1v1h-1zM10 11h1v1h-1zM24 11h1v1h-1zM0 12h1v1h-1zM20 12h1v1h-1zM27 12h1v1h-1zM17 13h1v1h-1zM20 13h1v1h-1zM24 13h1v1h-1zM26 13h1v1h-1zM1 14h2v1h-2zM4 14h2v1h-2zM14 14h1v1h-1zM19 14h1v1h-1zM7 15h1v1h-1zM12 15h1v1h-1zM19 15h1v1h-1zM4 16h1v1h-1zM8 16h1v1h-1zM11 16h2v1h-2zM25 16h3v1h-3zM31 16h1v1h-1zM15 17h1v1h-1zM26 17h2v1h-2zM29 17h1v1h-1zM7 18h1v1h-1zM18 18h1v1h-1zM21 18h1v1h-1zM25 18h1v1h-1zM2 19h1v1h-1zM5 19h1v1h-1zM16 19h1v1h-1zM19 19h1v1h-1zM21 19h1v1h-1zM23 19h1v1h-1zM26 19h1v1h-1zM33 19h1v1h-1zM36 19h1v1h-1zM2 20h1v1h-1zM6 20h1v1h-1zM15 20h1v1h-1zM30 20h2v1h-2zM33 20h2v1h-2zM7 21h1v1h-1zM11 21h1v1h-1zM16 21h1v1h-1zM4 22h1v1h-1zM8 22h1v1h-1zM14 22h1v1h-1zM18 22h2v1h-2zM23 22h1v1h-1zM25 22h1v1h-1zM5 23h2v1h-2zM16 23h1v1h-1zM19 23h1v1h-1zM21 23h1v1h-1zM25 23h1v1h-1zM38 23h1v1h-1zM24 24h1v1h-1zM26 24h1v1h-1zM31 24h1v1h-1zM34 24h1v1h-1zM36 24h1v1h-1zM18 25h1v1h-1zM26 25h1v1h-1zM32 25h1v1h-1zM18 26h1v1h-1zM25 28h1v1h-1zM27 28h1v1h-1zM35 28h1v1h-1zM6 29h1v1h-1zM28 29h1v1h-1zM37 29h1v1h-1zM27 30h1v1h-1zM34 30h1v1h-1zM4 31h1v1h-1zM10 31h1v1h-1zM24 31h2v1h-2zM32 31h1v1h-1zM27 32h2v1h-2zM23 33h2v1h-2zM29 33h1v1h-1zM31 34h1v1h-1zM18 35h1v1h-1zM13 36h1v1h-1zM21 36h2v1h-2zM24 36h1v1h-1zM28 36h2v1h-2zM8 37h1v1h-1zM13 37h1v1h-1zM15 37h1v1h-1zM21 37h1v1h-1zM26 37h1v1h-1zM15 38h1v1h-1zM18 39h1v1h-1zM22 39h1v1h-1zM31 39h1v1h-1zM6 40h1v1h-1zM9 40h1v1h-1zM12 40h2v1h-2zM24 40h1v1h-1zM26 40h1v1h-1zM38 40h1v1h-1zM13 41h2v1h-2zM21 41h1v1h-1zM24 41h1v1h-1zM29 41h1v1h-1zM12 42h1v1h-1zM14 42h2v1h-2zM17 42h1v1h-1zM27 42h1v1h-1zM29 42h2v1h-2zM26 43h1v1h-1zM10 45h1v1h-1zM24 45h1v1h-1zM30 45h1v1h-1z"/>
<path fill="#fbe5d8" d="M28 0h1v1h-1zM31 4h1v1h-1zM24 5h2v1h-2zM22 6h1v1h-1zM26 6h1v1h-1zM6 7h1v1h-1zM6 8h1v1h-1zM8 8h1v1h-1zM16 8h1v1h-1zM25 8h1v1h-1zM13 9h1v1h-1zM18 9h1v1h-1zM23 9h1v1h-1zM0 10h1v1h-1zM15 10h1v1h-1zM32 10h1v1h-1zM13 11h1v1h-1zM1 12h2v1h-2zM4 12h1v1h-1zM9 12h2v1h-2zM15 12h1v1h-1zM29 12h1v1h-1zM3 13h1v1h-1zM10 13h1v1h-1zM12 13h1v1h-1zM22 13h1v1h-1zM27 13h1v1h-1zM12 14h1v1h-1zM17 14h1v1h-1zM30 14h1v1h-1zM33 14h1v1h-1zM5 15h1v1h-1zM9 15h1v1h-1zM13 15h1v1h-1zM16 15h1v1h-1zM0 16h2v1h-2zM14 16h1v1h-1zM18 16h1v1h-1zM23 16h1v1h-1zM8 17h2v1h-2zM12 17h1v1h-1zM14 17h1v1h-1zM17 17h1v1h-1zM21 17h1v1h-1zM4 18h1v1h-1zM6 18h1v1h-1zM9 18h1v1h-1zM12 18h1v1h-1zM26 18h1v1h-1zM3 19h1v1h-1zM6 19h3v1h-3zM18 19h1v1h-1zM27 19h1v1h-1zM35 19h1v1h-1zM1 20h1v1h-1zM9 20h1v1h-1zM13 20h2v1h-2zM3 21h1v1h-1zM5 21h1v1h-1zM10 21h1v1h-1zM12 21h1v1h-1zM15 21h1v1h-1zM17 21h1v1h-1zM20 21h1v1h-1zM26 21h1v1h-1zM31 21h1v1h-1zM33 21h1v1h-1zM35 21h1v1h-1zM5 22h2v1h-2zM9 22h1v1h-1zM12 22h1v1h-1zM22 22h1v1h-1zM2 23h1v1h-1zM9 23h1v1h-1zM26 23h1v1h-1zM19 24h1v1h-1zM29 25h1v1h-1zM36 25h1v1h-1zM25 27h3v1h-3zM26 29h1v1h-1zM29 29h2v1h-2zM16 30h1v1h-1zM30 30h1v1h-1zM23 31h1v1h-1zM27 31h1v1h-1zM29 31h1v1h-1zM31 31h1v1h-1zM34 31h1v1h-1zM18 33h1v1h-1zM28 33h1v1h-1zM31 33h1v1h-1zM21 35h1v1h-1zM30 35h1v1h-1zM16 36h2v1h-2zM25 36h1v1h-1zM17 37h1v1h-1zM23 37h2v1h-2zM20 38h3v1h-3zM27 38h1v1h-1zM23 39h1v1h-1zM27 39h1v1h-1zM10 40h1v1h-1zM14 40h1v1h-1zM18 40h1v1h-1zM23 40h1v1h-1zM31 40h1v1h-1zM16 41h1v1h-1zM23 41h1v1h-1zM28 41h1v1h-1zM18 42h1v1h-1zM12 46h1v1h-1z"/>
<path fill="#fcd7c2" d="M16 0h1v1h-1zM33 0h1v1h-1zM10 1h1v1h-1zM33 1h1v1h-1zM29 2h1v1h-1zM19 5h1v1h-1zM38 6h1v1h-1zM12 9h1v1h-1zM16 9h1v1h-1zM18 11h1v1h-1zM26 11h1v1h-1zM8 13h1v1h-1zM23 13h1v1h-1zM25 13h1v1h-1zM37 13h1v1h-1zM8 14h1v1h-1zM15 14h2v1h-2zM18 14h1v1h-1zM20 15h1v1h-1zM5 16h1v1h-1zM7 16h1v1h-1zM22 16h1v1h-1zM18 17h1v1h-1zM15 18h1v1h-1zM11 19h1v1h-1zM13 19h1v1h-1zM17 19h1v1h-1zM5 20h1v1h-1zM20 20h1v1h-1zM26 22h1v1h-1zM29 22h3v1h-3zM37 22h1v1h-1zM0 23h1v1h-1zM27 23h1v1h-1zM29 23h3v1h-3zM29 24h2v1h-2zM32 24h1v1h-1zM2 25h1v1h-1zM16 25h1v1h-1zM25 25h1v1h-1zM5 26h1v1h-1zM21 26h1v1h-1zM27 29h1v1h-1zM13 31h1v1h-1zM21 32h1v1h-1zM24 32h1v1h-1zM32 32h1v1h-1zM18 34h1v1h-1zM24 34h1v1h-1zM20 36h1v1h-1zM23 36h1v1h-1zM33 36h1v1h-1zM25 37h1v1h-1zM19 38h1v1h-1zM11 39h1v1h-1zM16 39h2v1h-2zM19 39h1v1h-1zM21 39h1v1h-1zM24 39h1v1h-1zM26 39h1v1h-1zM34 39h1v1h-1zM2 40h1v1h-1zM16 40h1v1h-1zM25 40h1v1h-1zM20 41h1v1h-1zM31 41h1v1h-1zM24 42h1v1h-1zM17 43h1v1h-1zM12 44h1v1h-1zM0 45h1v1h-1zM15 46h1v1h-1zM32 46h1v1h-1z"/>
<path fill="#f8bfa4" d="M30 0h1v1h-1zM14 1h1v1h-1zM18 1h1v1h-1zM18 5h1v1h-1zM8 6h1v1h-1zM18 6h1v1h-1zM2 7h1v1h-1zM31 7h1v1h-1zM1 8h1v1h-1zM28 8h1v1h-1zM8 10h1v1h-1zM25 11h1v1h-1zM33 11h1v1h-1zM11 12h1v1h-1zM16 12h1v1h-1zM38 13h1v1h-1zM7 14h1v1h-1zM13 14h1v1h-1zM24 14h1v1h-1zM0 15h1v1h-1zM20 16h1v1h-1zM30 17h1v1h-1zM2 18h1v1h-1zM13 18h1v1h-1zM35 18h1v1h-1zM24 19h1v1h-1zM8 20h1v1h-1zM21 21h1v1h-1zM27 21h1v1h-1zM2 22h1v1h-1zM32 22h1v1h-1zM32 23h1v1h-1zM28 24h1v1h-1zM13 25h1v1h-1zM17 25h1v1h-1zM27 25h1v1h-1zM35 25h1v1h-1zM0 27h1v1h-1zM13 27h1v1h-1zM20 29h1v1h-1zM4 30h1v1h-1zM22 31h1v1h-1zM25 35h1v1h-1zM26 36h1v1h-1zM18 37h1v1h-1zM39 37h1v1h-1zM24 38h1v1h-1zM37 39h1v1h-1zM8 40h1v1h-1zM15 40h1v1h-1zM20 40h2v1h-2zM27 40h1v1h-1zM25 41h3v1h-3zM28 43h1v1h-1zM6 44h1v1h-1zM22 44h1v1h-1zM26 44h1v1h-1z"/>
<path fill="#f4a683" d="M29 1h1v1h-1zM34 1h1v1h-1zM11 2h1v1h-1zM7 3h1v1h-1zM20 4h1v1h-1zM35 4h1v1h-1zM25 6h1v1h-1zM35 7h1v1h-1zM15 9h1v1h-1zM28 11h1v1h-1zM2 16h1v1h-1zM0 17h1v1h-1zM6 17h2v1h-2zM14 19h1v1h-1zM18 20h1v1h-1zM21 20h1v1h-1zM32 21h1v1h-1zM28 22h1v1h-1zM2 24h1v1h-1zM33 24h1v1h-1zM31 25h1v1h-1zM8 26h1v1h-1zM28 26h1v1h-1zM38 31h1v1h-1zM17 32h1v1h-1zM17 35h1v1h-1zM19 35h1v1h-1zM33 35h1v1h-1zM8 36h1v1h-1zM35 36h1v1h-1zM9 38h1v1h-1zM25 38h1v1h-1zM20 39h1v1h-1zM17 40h1v1h-1zM39 40h1v1h-1zM17 41h1v1h-1zM26 42h1v1h-1zM7 43h1v1h-1zM24 44h1v1h-1zM25 45h1v1h-1z"/>
<path fill="#e8896c" d="M12 12h1v1h-1zM19 40h1v1h-1z"/>
<path fill="#db6b55" d="M30 21h1v1h-1z"/>
<path fill="#cc4c44" d="M27 22h1v1h-1z"/>
<path fill="#bd2d35" d="M16 17h1v1h-1zM4 21h1v1h-1zM9 21h1v1h-1zM22 40h1v1h-1z"/>
<path fill="#a81529" d="M33 22h1v1h-1z"/>
<path fill="#870a24" d="M5 13h1v1h-1zM9 13h1v1h-1zM25 42h1v1h-1z"/>
<path fill="#67001f" d="M8 12h1v1h-1zM4 20h1v1h-1zM8 21h1v1h-1zM4 23h1v1h-1zM33 23h1v1h-1zM25 24h1v1h-1zM30 25h1v1h-1zM38 29h1v1h-1zM22 41h1v1h-1zM30 41h1v1h-1zM37 45h1v1h-1z"/>
</g>
<path d="M242.16 880.5v317.25M247.72 880.5v317.25M253.28 880.5v317.25M258.84 880.5v317.25M264.4 880.5v317.25M269.96 880.5v317.25M275.52 880.5v317.25M281.08 880.5v317.25M286.64 880.5v317.25M292.2 880.5v317.25M297.76 880.5v317.25M303.32 880.5v317.25M308.88 880.5v317.25M314.44 880.5v317.25M320 880.5v317.25M325.56 880.5v317.25M331.12 880.5v317.25M336.68 880.5v317.25M342.24 880.5v317.25M347.8 880.5v317.25M353.36 880.5v317.25M358.92 880.5v317.25M364.48 880.5v317.25M370.04 880.5v317.25M375.6 880.5v317.25M381.16 880.5v317.25M386.72 880.5v317.25M392.28 880.5v317.25M397.84 880.5v317.25M403.4 880.5v317.25M408.96 880.5v317.25M414.52 880.5v317.25M420.08 880.5v317.25M425.64 880.5v317.25M431.2 880.5v317.25M436.76 880.5v317.25M442.32 880.5v317.25M447.88 880.5v317.25M453.44 880.5v317.25M236.6 887.25h222.4M236.6 894h222.4M236.6 900.75h222.4M236.6 907.5h222.4M236.6 914.25h222.4M236.6 921h222.4M236.6 927.75h222.4M236.6 934.5h222.4M236.6 941.25h222.4M236.6 948h222.4M236.6 954.75h222.4M236.6 961.5h222.4M236.6 968.25h222.4M236.6 975h222.4M236.6 981.75h222.4M236.6 988.5h222.4M236.6 995.25h222.4M236.6 1002h222.4M236.6 1008.75h222.4M236.6 1015.5h222.4M236.6 1022.25h222.4M236.6 1029h222.4M236.6 1035.75h222.4M236.6 1042.5h222.4M236.6 1049.25h222.4M236.6 1056h222.4M236.6 1062.75h222.4M236.6 1069.5h222.4M236.6 1076.25h222.4M236.6 1083h222.4M236.6 1089.75h222.4M236.6 1096.5h222.4M236.6 1103.25h222.4M236.6 1110h222.4M236.6 1116.75h222.4M236.6 1123.5h222.4M236.6 1130.25h222.4M236.6 1137h222.4M236.6 1143.75h222.4M236.6 1150.5h222.4M236.6 1157.25h222.4M236.6 1164h222.4M236.6 1170.75h222.4M236.6 1177.5h222.4M236.6 1184.25h222.4M236.6 1191h222.4" stroke="#fff" stroke-opacity=".16" stroke-width=".6" fill="none"/>
<g transform="translate(463.15 880.5) scale(5.56 6.75)">
<rect width="37" height="47" fill="#cce2ef"/>
<path fill="#1d5fa2" d="M1 39h1v1h-1z"/>
<path fill="#3a87bd" d="M1 1h1v1h-1zM0 11h1v1h-1zM1 24h1v1h-1zM2 44h1v1h-1z"/>
<path fill="#4f9bc7" d="M1 6h1v1h-1zM1 8h1v1h-1zM0 14h1v1h-1zM1 18h1v1h-1zM3 31h1v1h-1zM5 31h1v1h-1zM1 32h1v1h-1zM5 33h1v1h-1zM6 36h2v1h-2zM1 37h1v1h-1zM14 37h1v1h-1zM16 37h1v1h-1zM1 38h1v1h-1zM3 38h1v1h-1zM33 38h1v1h-1zM18 39h1v1h-1zM23 39h1v1h-1zM14 42h1v1h-1zM1 45h1v1h-1z"/>
<path fill="#71b0d3" d="M1 0h1v1h-1zM3 0h1v1h-1zM2 6h2v1h-2zM3 7h2v1h-2zM2 8h1v1h-1zM3 9h1v1h-1zM0 10h1v1h-1zM3 10h1v1h-1zM0 13h2v1h-2zM3 13h1v1h-1zM2 14h1v1h-1zM2 15h2v1h-2zM3 16h1v1h-1zM4 17h1v1h-1zM8 17h1v1h-1zM1 19h1v1h-1zM6 19h1v1h-1zM6 20h1v1h-1zM3 21h1v1h-1zM5 21h2v1h-2zM7 25h1v1h-1zM0 27h1v1h-1zM3 28h1v1h-1zM1 30h1v1h-1zM10 31h1v1h-1zM3 33h1v1h-1zM6 33h1v1h-1zM28 33h2v1h-2zM3 34h1v1h-1zM27 34h3v1h-3zM31 34h1v1h-1zM4 35h1v1h-1zM14 35h1v1h-1zM4 36h1v1h-1zM0 37h1v1h-1zM6 37h1v1h-1zM17 37h1v1h-1zM19 37h1v1h-1zM2 38h1v1h-1zM16 38h1v1h-1zM32 38h1v1h-1zM2 39h2v1h-2zM12 39h1v1h-1zM28 39h1v1h-1zM30 39h1v1h-1zM32 39h1v1h-1zM34 39h1v1h-1zM1 40h1v1h-1zM8 40h1v1h-1zM18 40h1v1h-1zM28 41h1v1h-1zM31 41h1v1h-1zM33 41h1v1h-1zM19 42h1v1h-1zM25 42h1v1h-1zM23 43h1v1h-1zM36 45h1v1h-1zM36 46h1v1h-1z"/>
<path fill="#93c6de" d="M14 0h1v1h-1zM3 2h1v1h-1zM3 3h1v1h-1zM7 4h1v1h-1zM3 5h1v1h-1zM12 5h1v1h-1zM4 6h2v1h-2zM2 9h1v1h-1zM23 9h1v1h-1zM4 10h1v1h-1zM1 11h2v1h-2zM4 11h1v1h-1zM14 11h1v1h-1zM1 12h1v1h-1zM4 13h1v1h-1zM1 14h1v1h-1zM6 14h4v1h-4zM5 15h2v1h-2zM2 16h1v1h-1zM5 16h3v1h-3zM32 16h2v1h-2zM0 17h2v1h-2zM3 17h1v1h-1zM6 17h1v1h-1zM3 18h2v1h-2zM6 18h2v1h-2zM2 19h1v1h-1zM4 19h2v1h-2zM8 19h1v1h-1zM4 20h1v1h-1zM4 21h1v1h-1zM33 21h1v1h-1zM36 21h1v1h-1zM6 22h1v1h-1zM12 22h1v1h-1zM0 23h1v1h-1zM6 23h1v1h-1zM8 23h2v1h-2zM0 24h1v1h-1zM6 24h1v1h-1zM9 24h1v1h-1zM0 25h1v1h-1zM1 26h1v1h-1zM5 26h1v1h-1zM24 26h1v1h-1zM1 29h1v1h-1zM3 29h1v1h-1zM4 30h1v1h-1zM1 31h1v1h-1zM9 31h1v1h-1zM22 31h1v1h-1zM27 31h1v1h-1zM29 31h1v1h-1zM31 31h3v1h-3zM3 32h1v1h-1zM8 32h1v1h-1zM14 32h1v1h-1zM29 32h1v1h-1zM0 33h1v1h-1zM2 33h1v1h-1zM15 33h1v1h-1zM6 34h1v1h-1zM9 34h1v1h-1zM14 34h1v1h-1zM23 34h1v1h-1zM30 34h1v1h-1zM0 35h1v1h-1zM5 35h1v1h-1zM7 35h1v1h-1zM9 35h1v1h-1zM11 35h1v1h-1zM16 35h1v1h-1zM27 35h1v1h-1zM29 35h1v1h-1zM36 35h1v1h-1zM0 36h1v1h-1zM2 36h1v1h-1zM5 36h1v1h-1zM8 36h1v1h-1zM12 36h2v1h-2zM16 36h3v1h-3zM23 36h1v1h-1zM26 36h3v1h-3zM35 36h2v1h-2zM2 37h1v1h-1zM7 37h1v1h-1zM22 37h1v1h-1zM24 37h1v1h-1zM33 37h1v1h-1zM4 38h1v1h-1zM6 38h2v1h-2zM17 38h1v1h-1zM19 38h2v1h-2zM25 38h1v1h-1zM29 38h3v1h-3zM36 38h1v1h-1zM11 39h1v1h-1zM13 39h1v1h-1zM17 39h1v1h-1zM19 39h2v1h-2zM29 39h1v1h-1zM36 39h1v1h-1zM0 40h1v1h-1zM10 40h1v1h-1zM16 40h1v1h-1zM34 40h1v1h-1zM15 41h1v1h-1zM18 41h1v1h-1zM29 41h2v1h-2zM0 42h3v1h-3zM10 42h1v1h-1zM21 42h1v1h-1zM31 42h1v1h-1zM33 42h1v1h-1zM0 43h1v1h-1zM16 43h1v1h-1zM22 44h1v1h-1zM0 45h1v1h-1zM2 45h2v1h-2zM14 45h1v1h-1zM29 45h2v1h-2zM19 46h1v1h-1zM24 46h1v1h-1zM35 46h1v1h-1z"/>
<path fill="#b1d5e7" d="M0 0h1v1h-1zM2 0h1v1h-1zM4 0h1v1h-1zM7 0h1v1h-1zM3 1h1v1h-1zM4 2h1v1h-1zM24 2h1v1h-1zM1 3h1v1h-1zM4 3h1v1h-1zM16 3h1v1h-1zM2 4h2v1h-2zM27 4h1v1h-1zM4 5h2v1h-2zM7 5h1v1h-1zM14 5h1v1h-1zM6 6h1v1h-1zM33 6h1v1h-1zM5 7h1v1h-1zM23 7h1v1h-1zM15 8h1v1h-1zM0 9h1v1h-1zM5 9h1v1h-1zM7 10h1v1h-1zM15 10h1v1h-1zM19 10h2v1h-2zM23 10h1v1h-1zM36 10h1v1h-1zM3 11h1v1h-1zM5 11h2v1h-2zM20 11h1v1h-1zM32 11h1v1h-1zM34 11h1v1h-1zM36 11h1v1h-1zM3 12h1v1h-1zM9 12h1v1h-1zM35 12h1v1h-1zM6 13h1v1h-1zM23 13h1v1h-1zM30 13h1v1h-1zM3 14h1v1h-1zM5 14h1v1h-1zM10 14h1v1h-1zM18 14h3v1h-3zM31 14h1v1h-1zM36 14h1v1h-1zM4 15h1v1h-1zM12 15h2v1h-2zM19 15h1v1h-1zM1 16h1v1h-1zM4 16h1v1h-1zM8 16h2v1h-2zM18 16h1v1h-1zM20 16h1v1h-1zM23 16h2v1h-2zM28 16h1v1h-1zM31 16h1v1h-1zM5 17h1v1h-1zM23 17h1v1h-1zM33 17h1v1h-1zM35 17h1v1h-1zM5 18h1v1h-1zM13 18h1v1h-1zM17 18h1v1h-1zM25 18h1v1h-1zM14 19h1v1h-1zM0 20h2v1h-2zM3 20h1v1h-1zM13 20h1v1h-1zM24 20h1v1h-1zM29 20h1v1h-1zM32 20h1v1h-1zM34 20h3v1h-3zM1 21h1v1h-1zM7 21h1v1h-1zM10 21h1v1h-1zM15 21h1v1h-1zM21 21h3v1h-3zM28 21h1v1h-1zM22 22h1v1h-1zM29 22h1v1h-1zM1 23h1v1h-1zM3 23h1v1h-1zM5 23h1v1h-1zM10 23h1v1h-1zM22 23h4v1h-4zM29 23h1v1h-1zM31 23h2v1h-2zM3 24h2v1h-2zM12 24h3v1h-3zM21 24h1v1h-1zM23 24h2v1h-2zM29 24h2v1h-2zM32 24h1v1h-1zM34 24h1v1h-1zM36 24h1v1h-1zM3 25h1v1h-1zM5 25h2v1h-2zM9 25h1v1h-1zM32 25h2v1h-2zM2 26h2v1h-2zM19 26h1v1h-1zM5 27h1v1h-1zM7 27h2v1h-2zM13 27h1v1h-1zM0 28h1v1h-1zM4 28h1v1h-1zM31 28h1v1h-1zM4 29h2v1h-2zM16 29h1v1h-1zM25 29h1v1h-1zM32 29h2v1h-2zM3 30h1v1h-1zM24 30h2v1h-2zM29 30h1v1h-1zM34 30h1v1h-1zM2 31h1v1h-1zM4 31h1v1h-1zM12 31h1v1h-1zM18 31h1v1h-1zM20 31h2v1h-2zM26 31h1v1h-1zM30 31h1v1h-1zM5 32h2v1h-2zM10 32h2v1h-2zM15 32h2v1h-2zM20 32h3v1h-3zM26 32h2v1h-2zM32 32h1v1h-1zM1 33h1v1h-1zM4 33h1v1h-1zM16 33h3v1h-3zM22 33h1v1h-1zM26 33h1v1h-1zM30 33h1v1h-1zM1 34h2v1h-2zM4 34h1v1h-1zM8 34h1v1h-1zM15 34h1v1h-1zM17 34h4v1h-4zM22 34h1v1h-1zM24 34h2v1h-2zM3 35h1v1h-1zM6 35h1v1h-1zM8 35h1v1h-1zM12 35h1v1h-1zM17 35h1v1h-1zM19 35h1v1h-1zM21 35h1v1h-1zM23 35h2v1h-2zM28 35h1v1h-1zM31 35h3v1h-3zM1 36h1v1h-1zM9 36h1v1h-1zM11 36h1v1h-1zM14 36h1v1h-1zM19 36h1v1h-1zM24 36h1v1h-1zM29 36h5v1h-5zM3 37h3v1h-3zM9 37h2v1h-2zM13 37h1v1h-1zM20 37h2v1h-2zM25 37h1v1h-1zM28 37h2v1h-2zM31 37h2v1h-2zM34 37h1v1h-1zM36 37h1v1h-1zM9 38h1v1h-1zM12 38h3v1h-3zM26 38h3v1h-3zM34 38h2v1h-2zM0 39h1v1h-1zM9 39h2v1h-2zM15 39h2v1h-2zM21 39h1v1h-1zM26 39h2v1h-2zM33 39h1v1h-1zM6 40h1v1h-1zM9 40h1v1h-1zM11 40h1v1h-1zM15 40h1v1h-1zM20 40h1v1h-1zM27 40h4v1h-4zM32 40h2v1h-2zM35 40h2v1h-2zM2 41h1v1h-1zM4 41h2v1h-2zM11 41h1v1h-1zM27 41h1v1h-1zM6 42h1v1h-1zM17 42h2v1h-2zM26 42h1v1h-1zM29 42h1v1h-1zM1 43h1v1h-1zM12 43h1v1h-1zM14 43h1v1h-1zM17 43h2v1h-2zM24 43h1v1h-1zM26 43h1v1h-1zM32 43h1v1h-1zM12 44h1v1h-1zM20 44h1v1h-1zM12 45h2v1h-2zM20 45h1v1h-1zM23 45h1v1h-1zM25 45h1v1h-1zM28 45h1v1h-1zM32 45h1v1h-1zM34 45h2v1h-2zM1 46h1v1h-1zM18 46h1v1h-1zM21 46h1v1h-1z"/>
<path fill="#deebf2" d="M8 0h1v1h-1zM16 0h1v1h-1zM21 0h5v1h-5zM30 0h1v1h-1zM4 1h1v1h-1zM15 1h1v1h-1zM22 1h2v1h-2zM28 1h1v1h-1zM30 1h1v1h-1zM13 2h1v1h-1zM18 2h1v1h-1zM21 2h1v1h-1zM23 2h1v1h-1zM27 2h1v1h-1zM2 3h1v1h-1zM6 3h2v1h-2zM14 3h1v1h-1zM20 3h1v1h-1zM26 3h1v1h-1zM31 3h1v1h-1zM17 4h1v1h-1zM19 4h1v1h-1zM21 4h2v1h-2zM25 4h1v1h-1zM8 5h1v1h-1zM11 5h1v1h-1zM15 5h2v1h-2zM18 5h1v1h-1zM25 5h1v1h-1zM28 5h1v1h-1zM30 5h1v1h-1zM8 6h2v1h-2zM15 6h1v1h-1zM22 6h1v1h-1zM24 6h1v1h-1zM26 6h1v1h-1zM29 6h1v1h-1zM32 6h1v1h-1zM14 7h2v1h-2zM18 7h3v1h-3zM25 7h1v1h-1zM30 7h1v1h-1zM34 7h1v1h-1zM5 8h3v1h-3zM13 8h2v1h-2zM17 8h2v1h-2zM21 8h1v1h-1zM24 8h1v1h-1zM35 8h1v1h-1zM6 9h1v1h-1zM8 9h2v1h-2zM11 9h2v1h-2zM16 9h4v1h-4zM21 9h1v1h-1zM25 9h1v1h-1zM30 9h1v1h-1zM33 9h1v1h-1zM35 9h1v1h-1zM2 10h1v1h-1zM6 10h1v1h-1zM9 10h1v1h-1zM12 10h1v1h-1zM18 10h1v1h-1zM27 10h1v1h-1zM31 10h1v1h-1zM35 10h1v1h-1zM7 11h4v1h-4zM13 11h1v1h-1zM17 11h3v1h-3zM23 11h1v1h-1zM25 11h1v1h-1zM27 11h2v1h-2zM8 12h1v1h-1zM10 12h1v1h-1zM16 12h1v1h-1zM20 12h2v1h-2zM27 12h1v1h-1zM29 12h1v1h-1zM32 12h1v1h-1zM34 12h1v1h-1zM7 13h3v1h-3zM11 13h4v1h-4zM16 13h1v1h-1zM18 13h2v1h-2zM22 13h1v1h-1zM26 13h1v1h-1zM28 13h2v1h-2zM32 13h1v1h-1zM34 13h2v1h-2zM11 14h1v1h-1zM13 14h1v1h-1zM15 14h2v1h-2zM23 14h1v1h-1zM26 14h1v1h-1zM28 14h1v1h-1zM24 15h3v1h-3zM28 15h2v1h-2zM31 15h2v1h-2zM34 15h1v1h-1zM36 15h1v1h-1zM0 16h1v1h-1zM12 16h2v1h-2zM16 16h2v1h-2zM25 16h3v1h-3zM30 16h1v1h-1zM10 17h1v1h-1zM13 17h4v1h-4zM18 17h1v1h-1zM20 17h3v1h-3zM24 17h3v1h-3zM29 17h1v1h-1zM31 17h1v1h-1zM34 17h1v1h-1zM36 17h1v1h-1zM8 18h1v1h-1zM15 18h1v1h-1zM20 18h1v1h-1zM26 18h1v1h-1zM29 18h2v1h-2zM33 18h2v1h-2zM3 19h1v1h-1zM9 19h2v1h-2zM17 19h1v1h-1zM19 19h1v1h-1zM22 19h1v1h-1zM24 19h3v1h-3zM30 19h1v1h-1zM32 19h1v1h-1zM35 19h1v1h-1zM10 20h2v1h-2zM14 20h1v1h-1zM17 20h1v1h-1zM21 20h1v1h-1zM30 20h1v1h-1zM9 21h1v1h-1zM25 21h2v1h-2zM29 21h2v1h-2zM32 21h1v1h-1zM3 22h1v1h-1zM8 22h1v1h-1zM13 22h1v1h-1zM15 22h1v1h-1zM20 22h1v1h-1zM27 22h1v1h-1zM32 22h1v1h-1zM4 23h1v1h-1zM14 23h2v1h-2zM17 23h1v1h-1zM20 23h1v1h-1zM26 23h2v1h-2zM34 23h2v1h-2zM7 24h1v1h-1zM10 24h1v1h-1zM26 24h1v1h-1zM4 25h1v1h-1zM10 25h1v1h-1zM12 25h1v1h-1zM19 25h3v1h-3zM23 25h1v1h-1zM26 25h2v1h-2zM29 25h1v1h-1zM31 25h1v1h-1zM34 25h3v1h-3zM7 26h4v1h-4zM22 26h2v1h-2zM30 26h3v1h-3zM36 26h1v1h-1zM1 27h1v1h-1zM4 27h1v1h-1zM6 27h1v1h-1zM11 27h2v1h-2zM18 27h1v1h-1zM20 27h1v1h-1zM22 27h2v1h-2zM25 27h1v1h-1zM27 27h3v1h-3zM33 27h1v1h-1zM36 27h1v1h-1zM6 28h1v1h-1zM9 28h2v1h-2zM12 28h3v1h-3zM16 28h1v1h-1zM20 28h1v1h-1zM25 28h1v1h-1zM30 28h1v1h-1zM32 28h2v1h-2zM12 29h4v1h-4zM18 29h1v1h-1zM26 29h4v1h-4zM34 29h3v1h-3zM0 30h1v1h-1zM2 30h1v1h-1zM5 30h2v1h-2zM8 30h1v1h-1zM11 30h2v1h-2zM20 30h1v1h-1zM28 30h1v1h-1zM30 30h2v1h-2zM8 31h1v1h-1zM17 31h1v1h-1zM36 31h1v1h-1zM2 32h1v1h-1zM4 32h1v1h-1zM18 32h1v1h-1zM24 32h1v1h-1zM33 32h1v1h-1zM35 32h1v1h-1zM7 33h6v1h-6zM19 33h1v1h-1zM21 33h1v1h-1zM31 33h2v1h-2zM34 33h3v1h-3zM11 34h1v1h-1zM32 34h1v1h-1zM22 35h1v1h-1zM25 35h1v1h-1zM34 35h1v1h-1zM34 36h1v1h-1zM5 38h1v1h-1zM8 38h1v1h-1zM15 38h1v1h-1zM21 38h2v1h-2zM12 40h1v1h-1zM14 40h1v1h-1zM23 40h2v1h-2zM6 41h1v1h-1zM14 41h1v1h-1zM23 41h4v1h-4zM5 42h1v1h-1zM7 42h3v1h-3zM15 42h1v1h-1zM32 42h1v1h-1zM35 42h1v1h-1zM4 43h2v1h-2zM11 43h1v1h-1zM28 43h1v1h-1zM36 43h1v1h-1zM11 44h1v1h-1zM25 44h2v1h-2zM29 44h1v1h-1zM6 45h1v1h-1zM16 45h1v1h-1zM19 45h1v1h-1zM2 46h1v1h-1zM7 46h1v1h-1zM12 46h2v1h-2zM16 46h1v1h-1zM20 46h1v1h-1zM22 46h1v1h-1zM30 46h1v1h-1z"/>
<path fill="#eff3f5" d="M5 0h1v1h-1zM18 0h1v1h-1zM29 0h1v1h-1zM31 0h1v1h-1zM7 1h2v1h-2zM19 1h1v1h-1zM27 1h1v1h-1zM33 1h2v1h-2zM36 1h1v1h-1zM6 2h1v1h-1zM8 2h1v1h-1zM15 2h1v1h-1zM17 2h1v1h-1zM25 2h1v1h-1zM28 2h2v1h-2zM34 2h2v1h-2zM5 3h1v1h-1zM9 3h2v1h-2zM15 3h1v1h-1zM21 3h1v1h-1zM23 3h1v1h-1zM27 3h4v1h-4zM32 3h1v1h-1zM36 3h1v1h-1zM8 4h2v1h-2zM11 4h1v1h-1zM13 4h3v1h-3zM20 4h1v1h-1zM23 4h1v1h-1zM31 4h2v1h-2zM13 5h1v1h-1zM19 5h1v1h-1zM32 5h1v1h-1zM7 6h1v1h-1zM10 6h1v1h-1zM13 6h1v1h-1zM16 6h1v1h-1zM19 6h3v1h-3zM27 6h1v1h-1zM30 6h2v1h-2zM11 7h1v1h-1zM16 7h1v1h-1zM29 7h1v1h-1zM12 8h1v1h-1zM16 8h1v1h-1zM20 8h1v1h-1zM27 8h1v1h-1zM33 8h1v1h-1zM14 9h1v1h-1zM22 9h1v1h-1zM24 9h1v1h-1zM27 9h1v1h-1zM29 9h1v1h-1zM13 10h1v1h-1zM16 10h1v1h-1zM24 10h1v1h-1zM28 10h1v1h-1zM30 10h1v1h-1zM32 10h1v1h-1zM11 11h2v1h-2zM21 11h1v1h-1zM30 11h1v1h-1zM13 12h1v1h-1zM19 12h1v1h-1zM30 12h1v1h-1zM20 13h2v1h-2zM27 13h1v1h-1zM21 14h1v1h-1zM24 14h1v1h-1zM20 15h1v1h-1zM22 15h2v1h-2zM27 15h1v1h-1zM30 15h1v1h-1zM21 16h1v1h-1zM17 17h1v1h-1zM27 17h1v1h-1zM30 17h1v1h-1zM31 18h1v1h-1zM36 18h1v1h-1zM13 19h1v1h-1zM16 19h1v1h-1zM21 19h1v1h-1zM27 19h1v1h-1zM29 19h1v1h-1zM34 19h1v1h-1zM36 19h1v1h-1zM16 20h1v1h-1zM18 20h1v1h-1zM31 20h1v1h-1zM33 20h1v1h-1zM17 21h1v1h-1zM27 21h1v1h-1zM18 22h1v1h-1zM21 22h1v1h-1zM26 22h1v1h-1zM28 22h1v1h-1zM28 23h1v1h-1zM33 23h1v1h-1zM15 24h1v1h-1zM20 24h1v1h-1zM33 24h1v1h-1zM35 24h1v1h-1zM8 25h1v1h-1zM13 25h1v1h-1zM17 25h2v1h-2zM25 25h1v1h-1zM4 26h1v1h-1zM11 26h1v1h-1zM14 26h1v1h-1zM18 26h1v1h-1zM21 26h1v1h-1zM25 26h1v1h-1zM27 26h3v1h-3zM34 26h1v1h-1zM10 27h1v1h-1zM15 27h1v1h-1zM19 27h1v1h-1zM24 27h1v1h-1zM26 27h1v1h-1zM30 27h1v1h-1zM35 27h1v1h-1zM19 28h1v1h-1zM21 28h1v1h-1zM23 28h2v1h-2zM35 28h1v1h-1zM11 29h1v1h-1zM17 29h1v1h-1zM21 29h3v1h-3zM31 29h1v1h-1zM7 30h1v1h-1zM14 30h1v1h-1zM18 30h1v1h-1zM35 30h1v1h-1zM6 31h1v1h-1zM31 32h1v1h-1zM34 32h1v1h-1zM20 33h1v1h-1zM35 37h1v1h-1zM9 41h1v1h-1zM22 41h1v1h-1zM10 43h1v1h-1zM13 43h1v1h-1zM20 43h1v1h-1zM22 43h1v1h-1zM29 43h1v1h-1zM0 44h1v1h-1zM8 44h2v1h-2zM16 44h1v1h-1zM21 44h1v1h-1zM33 44h1v1h-1zM8 45h2v1h-2zM11 45h1v1h-1zM17 45h1v1h-1zM0 46h1v1h-1zM14 46h1v1h-1zM17 46h1v1h-1zM29 46h1v1h-1zM32 46h1v1h-1z"/>
<path fill="#f8f1ed" d="M12 0h1v1h-1zM17 0h1v1h-1zM26 0h2v1h-2zM32 0h1v1h-1zM6 1h1v1h-1zM9 1h1v1h-1zM14 1h1v1h-1zM16 1h1v1h-1zM9 2h1v1h-1zM14 2h1v1h-1zM16 2h1v1h-1zM20 2h1v1h-1zM30 2h1v1h-1zM36 2h1v1h-1zM8 3h1v1h-1zM12 3h1v1h-1zM16 4h1v1h-1zM28 4h1v1h-1zM34 4h1v1h-1zM20 5h2v1h-2zM26 5h1v1h-1zM31 5h1v1h-1zM33 5h1v1h-1zM36 5h1v1h-1zM11 6h2v1h-2zM34 6h1v1h-1zM22 7h1v1h-1zM26 7h2v1h-2zM10 8h2v1h-2zM30 8h1v1h-1zM32 8h1v1h-1zM34 8h1v1h-1zM36 8h1v1h-1zM13 9h1v1h-1zM20 9h1v1h-1zM28 9h1v1h-1zM34 9h1v1h-1zM10 10h1v1h-1zM22 10h1v1h-1zM25 10h2v1h-2zM29 10h1v1h-1zM28 12h1v1h-1zM29 14h1v1h-1zM15 20h1v1h-1zM25 22h1v1h-1zM31 22h1v1h-1zM13 23h1v1h-1zM16 23h1v1h-1zM16 24h2v1h-2zM15 25h1v1h-1zM13 26h1v1h-1zM17 26h1v1h-1zM17 27h1v1h-1zM21 27h1v1h-1zM18 28h1v1h-1zM27 28h1v1h-1zM7 43h1v1h-1zM15 43h1v1h-1zM19 43h1v1h-1zM10 44h1v1h-1zM15 44h1v1h-1zM17 44h1v1h-1zM19 44h1v1h-1zM28 44h1v1h-1zM30 44h3v1h-3zM34 44h1v1h-1zM9 46h1v1h-1zM26 46h1v1h-1z"/>
<path fill="#fbe5d8" d="M9 0h1v1h-1zM15 0h1v1h-1zM28 0h1v1h-1zM36 0h1v1h-1zM32 1h1v1h-1zM31 2h1v1h-1zM34 3h2v1h-2zM1 4h1v1h-1zM29 4h1v1h-1zM36 4h1v1h-1zM10 5h1v1h-1zM29 5h1v1h-1zM35 5h1v1h-1zM35 6h1v1h-1zM19 8h1v1h-1zM22 8h1v1h-1zM31 8h1v1h-1zM11 10h1v1h-1zM21 10h1v1h-1zM29 11h1v1h-1zM0 12h1v1h-1zM22 12h1v1h-1zM4 14h1v1h-1zM16 15h1v1h-1zM7 19h1v1h-1zM17 22h1v1h-1zM16 25h1v1h-1zM15 26h1v1h-1zM26 26h1v1h-1zM2 27h2v1h-2zM16 27h1v1h-1zM9 29h1v1h-1zM13 32h1v1h-1zM13 33h1v1h-1zM2 43h1v1h-1zM6 43h1v1h-1zM8 43h2v1h-2zM27 44h1v1h-1zM5 45h1v1h-1zM7 45h1v1h-1zM10 45h1v1h-1zM26 45h1v1h-1zM10 46h1v1h-1zM33 46h1v1h-1z"/>
<path fill="#fcd7c2" d="M10 0h1v1h-1zM13 0h1v1h-1zM33 0h1v1h-1zM11 1h2v1h-2zM21 1h1v1h-1zM35 1h1v1h-1zM1 2h1v1h-1zM33 3h1v1h-1zM12 4h1v1h-1zM33 4h1v1h-1zM14 6h1v1h-1zM36 6h1v1h-1zM12 7h1v1h-1zM32 7h1v1h-1zM36 7h1v1h-1zM25 8h2v1h-2zM24 11h1v1h-1zM4 12h1v1h-1zM11 12h1v1h-1zM24 13h1v1h-1zM17 14h1v1h-1zM7 15h1v1h-1zM18 15h1v1h-1zM8 20h1v1h-1zM0 21h1v1h-1zM11 22h1v1h-1zM35 22h1v1h-1zM11 25h1v1h-1zM32 27h1v1h-1zM1 28h1v1h-1zM15 28h1v1h-1zM7 29h1v1h-1zM9 30h1v1h-1zM0 34h1v1h-1zM2 40h1v1h-1zM0 41h1v1h-1zM16 42h1v1h-1zM30 43h1v1h-1zM34 43h1v1h-1zM7 44h1v1h-1zM15 45h1v1h-1zM4 46h1v1h-1zM6 46h1v1h-1z"/>
<path fill="#f8bfa4" d="M29 1h1v1h-1zM12 2h1v1h-1zM32 2h1v1h-1zM11 3h1v1h-1zM18 3h1v1h-1zM5 4h1v1h-1zM35 4h1v1h-1zM22 5h1v1h-1zM24 5h1v1h-1zM17 7h1v1h-1zM28 8h1v1h-1zM15 9h1v1h-1zM26 9h1v1h-1zM2 13h1v1h-1zM20 19h1v1h-1zM0 22h1v1h-1zM16 22h1v1h-1zM18 23h1v1h-1zM30 23h1v1h-1zM19 24h1v1h-1zM16 26h1v1h-1zM28 31h1v1h-1zM0 32h1v1h-1zM25 32h1v1h-1zM25 39h1v1h-1zM27 43h1v1h-1zM18 44h1v1h-1zM11 46h1v1h-1z"/>
<path fill="#f4a683" d="M35 0h1v1h-1zM31 1h1v1h-1zM10 4h1v1h-1zM30 4h1v1h-1zM28 6h1v1h-1zM35 7h1v1h-1zM3 8h1v1h-1zM9 8h1v1h-1zM31 9h1v1h-1zM14 10h1v1h-1zM27 14h1v1h-1zM30 14h1v1h-1zM1 15h1v1h-1zM19 17h1v1h-1zM35 21h1v1h-1zM28 24h1v1h-1zM31 24h1v1h-1zM20 26h1v1h-1zM22 28h1v1h-1zM2 29h1v1h-1zM22 30h1v1h-1zM14 31h1v1h-1zM34 34h1v1h-1zM18 35h1v1h-1zM31 39h1v1h-1zM20 41h1v1h-1zM23 42h1v1h-1zM36 42h1v1h-1zM1 44h1v1h-1zM6 44h1v1h-1zM33 45h1v1h-1zM34 46h1v1h-1z"/>
<path fill="#e8896c" d="M11 0h1v1h-1zM0 26h1v1h-1zM0 29h1v1h-1zM1 35h1v1h-1z"/>
<path fill="#cc4c44" d="M2 5h1v1h-1zM29 28h1v1h-1zM32 41h1v1h-1zM13 44h1v1h-1z"/>
<path fill="#bd2d35" d="M2 17h1v1h-1z"/>
<path fill="#a81529" d="M2 2h1v1h-1zM0 3h1v1h-1zM0 7h1v1h-1zM2 18h1v1h-1zM2 20h1v1h-1zM2 21h1v1h-1zM2 22h1v1h-1zM5 22h1v1h-1zM4 40h1v1h-1z"/>
<path fill="#870a24" d="M34 0h1v1h-1zM11 2h1v1h-1zM0 4h1v1h-1zM17 6h1v1h-1zM0 8h1v1h-1zM17 13h1v1h-1zM2 23h1v1h-1zM5 39h1v1h-1zM3 40h1v1h-1z"/>
<path fill="#67001f" d="M0 1h1v1h-1zM10 1h1v1h-1zM13 1h1v1h-1zM0 2h1v1h-1zM10 2h1v1h-1zM0 5h1v1h-1zM0 6h1v1h-1zM23 8h1v1h-1zM16 11h1v1h-1zM5 20h1v1h-1zM6 39h1v1h-1zM3 41h1v1h-1zM3 42h1v1h-1zM3 43h1v1h-1zM3 44h1v1h-1z"/>
</g>
<path d="M468.71 880.5v317.25M474.27 880.5v317.25M479.83 880.5v317.25M485.39 880.5v317.25M490.95 880.5v317.25M496.51 880.5v317.25M502.07 880.5v317.25M507.63 880.5v317.25M513.19 880.5v317.25M518.75 880.5v317.25M524.31 880.5v317.25M529.87 880.5v317.25M535.43 880.5v317.25M540.99 880.5v317.25M546.55 880.5v317.25M552.11 880.5v317.25M557.67 880.5v317.25M563.23 880.5v317.25M568.79 880.5v317.25M574.35 880.5v317.25M579.91 880.5v317.25M585.47 880.5v317.25M591.03 880.5v317.25M596.59 880.5v317.25M602.15 880.5v317.25M607.71 880.5v317.25M613.27 880.5v317.25M618.83 880.5v317.25M624.39 880.5v317.25M629.95 880.5v317.25M635.51 880.5v317.25M641.07 880.5v317.25M646.63 880.5v317.25M652.19 880.5v317.25M657.75 880.5v317.25M663.31 880.5v317.25M463.15 887.25h205.72M463.15 894h205.72M463.15 900.75h205.72M463.15 907.5h205.72M463.15 914.25h205.72M463.15 921h205.72M463.15 927.75h205.72M463.15 934.5h205.72M463.15 941.25h205.72M463.15 948h205.72M463.15 954.75h205.72M463.15 961.5h205.72M463.15 968.25h205.72M463.15 975h205.72M463.15 981.75h205.72M463.15 988.5h205.72M463.15 995.25h205.72M463.15 1002h205.72M463.15 1008.75h205.72M463.15 1015.5h205.72M463.15 1022.25h205.72M463.15 1029h205.72M463.15 1035.75h205.72M463.15 1042.5h205.72M463.15 1049.25h205.72M463.15 1056h205.72M463.15 1062.75h205.72M463.15 1069.5h205.72M463.15 1076.25h205.72M463.15 1083h205.72M463.15 1089.75h205.72M463.15 1096.5h205.72M463.15 1103.25h205.72M463.15 1110h205.72M463.15 1116.75h205.72M463.15 1123.5h205.72M463.15 1130.25h205.72M463.15 1137h205.72M463.15 1143.75h205.72M463.15 1150.5h205.72M463.15 1157.25h205.72M463.15 1164h205.72M463.15 1170.75h205.72M463.15 1177.5h205.72M463.15 1184.25h205.72M463.15 1191h205.72" stroke="#fff" stroke-opacity=".16" stroke-width=".6" fill="none"/>
<g transform="translate(673.8 880.5) scale(5.56 6.75)">
<rect width="40" height="47" fill="#fcd7c2"/>
<path fill="#3a87bd" d="M18 21h1v1h-1z"/>
<path fill="#4f9bc7" d="M36 3h1v1h-1zM38 10h1v1h-1zM36 13h1v1h-1zM37 16h1v1h-1zM38 17h1v1h-1zM20 21h1v1h-1zM36 24h1v1h-1zM31 30h1v1h-1zM37 30h1v1h-1zM36 34h1v1h-1zM37 46h1v1h-1z"/>
<path fill="#71b0d3" d="M33 0h1v1h-1zM38 4h1v1h-1zM33 9h1v1h-1zM33 10h1v1h-1zM33 13h1v1h-1zM18 15h1v1h-1zM33 19h1v1h-1zM34 22h1v1h-1zM35 27h1v1h-1zM33 28h1v1h-1zM37 29h1v1h-1zM36 30h1v1h-1zM31 35h1v1h-1zM36 35h1v1h-1zM33 36h2v1h-2zM37 39h1v1h-1zM33 40h1v1h-1zM36 43h1v1h-1zM37 44h1v1h-1zM33 45h1v1h-1z"/>
<path fill="#93c6de" d="M2 0h1v1h-1zM0 1h1v1h-1zM31 1h1v1h-1zM33 2h1v1h-1zM36 2h2v1h-2zM22 3h1v1h-1zM33 6h1v1h-1zM38 6h1v1h-1zM33 7h1v1h-1zM38 7h1v1h-1zM33 8h1v1h-1zM37 9h1v1h-1zM36 10h1v1h-1zM38 11h1v1h-1zM37 13h1v1h-1zM33 14h1v1h-1zM37 14h1v1h-1zM35 16h1v1h-1zM38 16h1v1h-1zM33 18h1v1h-1zM36 20h1v1h-1zM31 21h1v1h-1zM33 21h1v1h-1zM37 21h1v1h-1zM37 23h1v1h-1zM33 24h1v1h-1zM38 25h1v1h-1zM0 26h1v1h-1zM38 26h1v1h-1zM31 29h1v1h-1zM33 29h1v1h-1zM36 29h1v1h-1zM2 30h1v1h-1zM30 30h1v1h-1zM33 30h1v1h-1zM38 31h1v1h-1zM33 32h1v1h-1zM33 33h1v1h-1zM36 33h2v1h-2zM39 33h1v1h-1zM33 34h1v1h-1zM33 35h1v1h-1zM37 35h2v1h-2zM33 37h1v1h-1zM36 37h1v1h-1zM36 38h1v1h-1zM31 39h1v1h-1zM33 39h1v1h-1zM33 42h1v1h-1zM39 42h1v1h-1zM36 45h1v1h-1zM33 46h1v1h-1zM39 46h1v1h-1z"/>
<path fill="#b1d5e7" d="M37 0h2v1h-2zM34 2h1v1h-1zM38 2h1v1h-1zM29 3h1v1h-1zM34 3h1v1h-1zM38 3h1v1h-1zM33 4h1v1h-1zM35 4h1v1h-1zM34 6h1v1h-1zM36 7h1v1h-1zM35 9h2v1h-2zM38 9h1v1h-1zM33 11h1v1h-1zM37 11h1v1h-1zM33 12h3v1h-3zM37 12h1v1h-1zM39 12h1v1h-1zM38 13h1v1h-1zM39 14h1v1h-1zM33 15h1v1h-1zM38 15h1v1h-1zM33 16h1v1h-1zM34 17h2v1h-2zM38 18h1v1h-1zM34 19h1v1h-1zM39 19h1v1h-1zM20 20h1v1h-1zM35 20h1v1h-1zM34 21h1v1h-1zM36 21h1v1h-1zM39 21h1v1h-1zM33 22h1v1h-1zM37 22h1v1h-1zM39 22h1v1h-1zM33 23h1v1h-1zM35 23h1v1h-1zM38 23h2v1h-2zM35 24h1v1h-1zM37 24h2v1h-2zM34 25h1v1h-1zM36 25h2v1h-2zM37 26h1v1h-1zM30 27h2v1h-2zM33 27h1v1h-1zM37 28h1v1h-1zM18 31h1v1h-1zM20 31h1v1h-1zM33 31h1v1h-1zM35 31h1v1h-1zM37 31h1v1h-1zM29 32h1v1h-1zM36 32h1v1h-1zM37 34h3v1h-3zM31 36h1v1h-1zM35 36h1v1h-1zM37 36h1v1h-1zM39 36h1v1h-1zM33 38h1v1h-1zM38 38h2v1h-2zM35 40h1v1h-1zM38 41h1v1h-1zM35 42h2v1h-2zM35 43h1v1h-1zM39 43h1v1h-1zM33 44h1v1h-1zM39 44h1v1h-1zM36 46h1v1h-1zM38 46h1v1h-1z"/>
<path fill="#cce2ef" d="M0 0h1v1h-1zM18 0h1v1h-1zM35 0h1v1h-1zM39 0h1v1h-1zM34 1h1v1h-1zM36 1h2v1h-2zM8 3h1v1h-1zM18 3h1v1h-1zM31 3h1v1h-1zM33 3h1v1h-1zM37 3h1v1h-1zM37 4h1v1h-1zM39 4h1v1h-1zM38 5h2v1h-2zM35 6h3v1h-3zM18 7h1v1h-1zM34 7h2v1h-2zM37 7h1v1h-1zM34 8h1v1h-1zM37 8h3v1h-3zM12 9h1v1h-1zM34 9h1v1h-1zM39 10h1v1h-1zM34 11h3v1h-3zM39 11h1v1h-1zM36 12h1v1h-1zM34 13h1v1h-1zM39 13h1v1h-1zM34 14h2v1h-2zM39 15h1v1h-1zM39 16h1v1h-1zM19 17h1v1h-1zM31 17h1v1h-1zM33 17h1v1h-1zM37 17h1v1h-1zM28 18h2v1h-2zM34 18h3v1h-3zM39 18h1v1h-1zM35 19h1v1h-1zM38 19h1v1h-1zM28 20h1v1h-1zM33 20h1v1h-1zM37 20h3v1h-3zM19 21h1v1h-1zM22 21h1v1h-1zM35 21h1v1h-1zM35 22h1v1h-1zM34 23h1v1h-1zM36 23h1v1h-1zM14 24h1v1h-1zM20 24h2v1h-2zM3 25h1v1h-1zM33 25h1v1h-1zM33 26h2v1h-2zM39 26h1v1h-1zM37 27h1v1h-1zM35 28h2v1h-2zM38 28h1v1h-1zM0 29h1v1h-1zM24 29h1v1h-1zM38 29h2v1h-2zM0 30h1v1h-1zM19 30h1v1h-1zM29 30h1v1h-1zM34 30h1v1h-1zM34 31h1v1h-1zM36 31h1v1h-1zM34 32h2v1h-2zM39 32h1v1h-1zM18 33h1v1h-1zM35 33h1v1h-1zM38 33h1v1h-1zM34 34h1v1h-1zM39 35h1v1h-1zM18 36h1v1h-1zM38 36h1v1h-1zM18 37h1v1h-1zM31 37h1v1h-1zM35 37h1v1h-1zM37 37h1v1h-1zM35 38h1v1h-1zM18 39h2v1h-2zM34 39h3v1h-3zM38 39h1v1h-1zM9 40h1v1h-1zM18 40h1v1h-1zM36 40h1v1h-1zM36 41h1v1h-1zM39 41h1v1h-1zM8 42h1v1h-1zM38 42h1v1h-1zM38 43h1v1h-1zM38 44h1v1h-1zM19 45h1v1h-1zM24 45h1v1h-1zM34 45h2v1h-2z"/>
<path fill="#deebf2" d="M3 0h1v1h-1zM19 0h1v1h-1zM34 0h1v1h-1zM12 3h1v1h-1zM19 3h1v1h-1zM30 3h1v1h-1zM35 3h1v1h-1zM34 4h1v1h-1zM20 5h1v1h-1zM29 5h1v1h-1zM36 5h2v1h-2zM18 6h1v1h-1zM39 6h1v1h-1zM39 7h1v1h-1zM14 8h1v1h-1zM35 8h1v1h-1zM18 10h1v1h-1zM35 10h1v1h-1zM18 11h1v1h-1zM18 13h1v1h-1zM35 13h1v1h-1zM27 14h1v1h-1zM38 14h1v1h-1zM19 15h1v1h-1zM31 15h1v1h-1zM35 15h1v1h-1zM37 15h1v1h-1zM21 16h2v1h-2zM26 16h1v1h-1zM30 16h1v1h-1zM34 16h1v1h-1zM36 16h1v1h-1zM28 17h1v1h-1zM36 17h1v1h-1zM31 18h1v1h-1zM37 18h1v1h-1zM14 19h1v1h-1zM37 19h1v1h-1zM0 20h1v1h-1zM30 20h1v1h-1zM24 21h2v1h-2zM27 21h2v1h-2zM20 22h1v1h-1zM38 22h1v1h-1zM21 23h1v1h-1zM1 24h1v1h-1zM34 24h1v1h-1zM21 25h2v1h-2zM30 25h1v1h-1zM39 25h1v1h-1zM21 26h1v1h-1zM35 26h1v1h-1zM38 27h2v1h-2zM18 28h1v1h-1zM34 28h1v1h-1zM39 28h1v1h-1zM1 29h1v1h-1zM21 29h2v1h-2zM27 29h1v1h-1zM35 29h1v1h-1zM7 30h1v1h-1zM27 30h2v1h-2zM38 30h1v1h-1zM12 31h1v1h-1zM14 31h1v1h-1zM22 31h1v1h-1zM39 31h1v1h-1zM20 32h1v1h-1zM37 32h2v1h-2zM30 35h1v1h-1zM36 36h1v1h-1zM10 37h1v1h-1zM38 37h1v1h-1zM8 38h1v1h-1zM28 38h1v1h-1zM34 38h1v1h-1zM37 38h1v1h-1zM32 39h1v1h-1zM7 40h1v1h-1zM13 40h1v1h-1zM31 40h1v1h-1zM34 40h1v1h-1zM38 40h2v1h-2zM20 41h1v1h-1zM37 41h1v1h-1zM10 42h1v1h-1zM28 42h1v1h-1zM37 42h1v1h-1zM34 43h1v1h-1zM7 44h1v1h-1zM20 44h1v1h-1zM24 44h1v1h-1zM36 44h1v1h-1zM27 45h1v1h-1zM37 45h2v1h-2zM34 46h1v1h-1z"/>
<path fill="#eff3f5" d="M6 0h2v1h-2zM20 0h3v1h-3zM26 0h1v1h-1zM30 0h1v1h-1zM11 1h1v1h-1zM39 1h1v1h-1zM18 2h1v1h-1zM27 2h1v1h-1zM30 2h1v1h-1zM39 2h1v1h-1zM0 3h1v1h-1zM3 3h2v1h-2zM7 3h1v1h-1zM9 3h1v1h-1zM20 3h2v1h-2zM6 4h1v1h-1zM9 4h1v1h-1zM18 4h1v1h-1zM20 4h1v1h-1zM29 4h1v1h-1zM0 5h1v1h-1zM8 5h1v1h-1zM10 5h1v1h-1zM30 5h1v1h-1zM35 5h1v1h-1zM8 6h1v1h-1zM19 7h1v1h-1zM31 7h1v1h-1zM7 8h1v1h-1zM18 8h1v1h-1zM28 8h1v1h-1zM36 8h1v1h-1zM7 9h1v1h-1zM19 9h1v1h-1zM30 9h1v1h-1zM0 10h1v1h-1zM17 10h1v1h-1zM26 10h1v1h-1zM29 10h1v1h-1zM34 10h1v1h-1zM37 10h1v1h-1zM30 11h1v1h-1zM38 12h1v1h-1zM28 13h1v1h-1zM6 14h1v1h-1zM18 14h1v1h-1zM20 14h1v1h-1zM26 14h1v1h-1zM36 14h1v1h-1zM7 15h1v1h-1zM20 15h1v1h-1zM10 16h1v1h-1zM19 16h1v1h-1zM25 16h1v1h-1zM30 17h1v1h-1zM39 17h1v1h-1zM19 18h2v1h-2zM24 18h1v1h-1zM30 18h1v1h-1zM24 19h1v1h-1zM28 19h1v1h-1zM30 19h1v1h-1zM36 19h1v1h-1zM22 20h1v1h-1zM1 21h1v1h-1zM12 21h1v1h-1zM30 21h1v1h-1zM38 21h1v1h-1zM18 22h2v1h-2zM31 22h1v1h-1zM36 22h1v1h-1zM20 23h1v1h-1zM2 24h1v1h-1zM4 24h1v1h-1zM22 24h1v1h-1zM27 24h2v1h-2zM31 24h1v1h-1zM39 24h1v1h-1zM18 25h1v1h-1zM23 25h2v1h-2zM26 25h1v1h-1zM35 25h1v1h-1zM31 26h1v1h-1zM18 27h1v1h-1zM20 27h1v1h-1zM30 28h1v1h-1zM18 29h1v1h-1zM30 29h1v1h-1zM32 29h1v1h-1zM18 30h1v1h-1zM20 30h1v1h-1zM0 31h1v1h-1zM3 31h1v1h-1zM25 31h1v1h-1zM31 31h1v1h-1zM18 32h1v1h-1zM25 32h1v1h-1zM30 33h2v1h-2zM35 34h1v1h-1zM18 35h1v1h-1zM27 35h1v1h-1zM34 35h2v1h-2zM25 36h1v1h-1zM30 36h1v1h-1zM14 37h1v1h-1zM19 37h2v1h-2zM25 37h1v1h-1zM34 37h1v1h-1zM10 38h1v1h-1zM18 38h1v1h-1zM30 38h1v1h-1zM32 38h1v1h-1zM12 39h1v1h-1zM20 39h1v1h-1zM39 39h1v1h-1zM12 40h1v1h-1zM14 40h1v1h-1zM20 40h1v1h-1zM37 40h1v1h-1zM3 41h1v1h-1zM14 41h1v1h-1zM34 41h1v1h-1zM3 42h1v1h-1zM34 42h1v1h-1zM28 44h1v1h-1zM34 44h2v1h-2zM3 45h1v1h-1zM12 45h1v1h-1zM16 45h1v1h-1zM39 45h1v1h-1z"/>
<path fill="#f8f1ed" d="M4 0h1v1h-1zM8 0h1v1h-1zM10 0h1v1h-1zM16 0h2v1h-2zM36 0h1v1h-1zM1 1h2v1h-2zM16 1h1v1h-1zM19 1h1v1h-1zM27 1h1v1h-1zM35 1h1v1h-1zM25 2h1v1h-1zM35 2h1v1h-1zM1 3h1v1h-1zM26 3h1v1h-1zM16 4h2v1h-2zM21 4h1v1h-1zM30 4h1v1h-1zM16 5h1v1h-1zM25 5h1v1h-1zM34 5h1v1h-1zM19 6h1v1h-1zM9 8h1v1h-1zM0 9h1v1h-1zM15 9h1v1h-1zM11 10h1v1h-1zM7 11h1v1h-1zM7 12h1v1h-1zM30 13h1v1h-1zM1 14h1v1h-1zM11 14h1v1h-1zM0 15h1v1h-1zM8 15h1v1h-1zM16 15h1v1h-1zM30 15h1v1h-1zM36 15h1v1h-1zM1 16h1v1h-1zM12 16h1v1h-1zM17 16h1v1h-1zM27 16h1v1h-1zM3 17h1v1h-1zM10 17h1v1h-1zM18 17h1v1h-1zM25 17h1v1h-1zM1 18h1v1h-1zM6 18h1v1h-1zM8 18h1v1h-1zM10 18h2v1h-2zM3 19h1v1h-1zM5 19h1v1h-1zM8 19h1v1h-1zM20 19h1v1h-1zM31 19h1v1h-1zM1 20h1v1h-1zM19 20h1v1h-1zM24 20h1v1h-1zM27 20h1v1h-1zM34 20h1v1h-1zM3 21h1v1h-1zM6 21h1v1h-1zM8 21h1v1h-1zM10 21h1v1h-1zM14 21h1v1h-1zM23 21h1v1h-1zM21 22h2v1h-2zM28 22h1v1h-1zM2 23h1v1h-1zM22 23h1v1h-1zM30 23h1v1h-1zM9 24h1v1h-1zM0 25h1v1h-1zM19 25h1v1h-1zM14 26h1v1h-1zM20 26h1v1h-1zM21 27h2v1h-2zM24 27h1v1h-1zM27 27h1v1h-1zM31 28h1v1h-1zM20 29h1v1h-1zM29 29h1v1h-1zM14 30h1v1h-1zM24 30h1v1h-1zM32 30h1v1h-1zM39 30h1v1h-1zM7 31h1v1h-1zM17 31h1v1h-1zM24 31h1v1h-1zM27 31h1v1h-1zM31 32h1v1h-1zM9 33h1v1h-1zM27 33h2v1h-2zM27 34h1v1h-1zM20 35h1v1h-1zM25 35h1v1h-1zM28 35h1v1h-1zM8 36h1v1h-1zM12 36h1v1h-1zM2 37h1v1h-1zM29 37h2v1h-2zM20 38h1v1h-1zM29 38h1v1h-1zM15 39h1v1h-1zM21 39h1v1h-1zM16 40h1v1h-1zM27 40h2v1h-2zM7 41h2v1h-2zM18 41h1v1h-1zM18 42h1v1h-1zM27 42h1v1h-1zM0 43h1v1h-1zM27 43h1v1h-1zM9 44h2v1h-2zM21 44h1v1h-1zM30 44h1v1h-1zM8 45h1v1h-1zM18 45h1v1h-1zM20 45h1v1h-1z"/>
<path fill="#fbe5d8" d="M1 0h1v1h-1zM11 0h2v1h-2zM24 0h1v1h-1zM29 0h1v1h-1zM31 0h2v1h-2zM8 1h2v1h-2zM12 1h1v1h-1zM20 1h1v1h-1zM24 1h1v1h-1zM28 1h2v1h-2zM3 2h1v1h-1zM22 2h1v1h-1zM26 2h1v1h-1zM28 2h2v1h-2zM25 3h1v1h-1zM27 3h2v1h-2zM0 4h1v1h-1zM2 4h2v1h-2zM19 4h1v1h-1zM28 4h1v1h-1zM32 4h1v1h-1zM2 5h1v1h-1zM9 5h1v1h-1zM11 5h1v1h-1zM27 5h2v1h-2zM7 7h2v1h-2zM26 7h1v1h-1zM11 8h1v1h-1zM20 8h1v1h-1zM23 8h1v1h-1zM8 9h2v1h-2zM13 9h2v1h-2zM28 9h1v1h-1zM39 9h1v1h-1zM8 10h2v1h-2zM14 10h1v1h-1zM31 10h1v1h-1zM3 11h1v1h-1zM10 11h1v1h-1zM20 11h1v1h-1zM20 12h1v1h-1zM31 12h1v1h-1zM8 13h1v1h-1zM24 13h1v1h-1zM8 14h1v1h-1zM14 14h3v1h-3zM24 14h1v1h-1zM29 14h1v1h-1zM31 14h1v1h-1zM9 15h1v1h-1zM13 15h1v1h-1zM17 15h1v1h-1zM26 15h1v1h-1zM28 15h1v1h-1zM7 16h1v1h-1zM14 16h1v1h-1zM18 16h1v1h-1zM20 16h1v1h-1zM0 17h1v1h-1zM2 17h1v1h-1zM20 17h1v1h-1zM27 17h1v1h-1zM7 18h1v1h-1zM13 18h2v1h-2zM18 18h1v1h-1zM25 18h1v1h-1zM27 18h1v1h-1zM2 19h1v1h-1zM6 19h1v1h-1zM19 19h1v1h-1zM27 19h1v1h-1zM29 19h1v1h-1zM14 20h1v1h-1zM26 20h1v1h-1zM4 21h1v1h-1zM9 21h1v1h-1zM15 21h1v1h-1zM21 21h1v1h-1zM29 21h1v1h-1zM8 23h1v1h-1zM19 23h1v1h-1zM27 23h2v1h-2zM3 24h1v1h-1zM19 24h1v1h-1zM23 24h3v1h-3zM29 24h1v1h-1zM1 25h2v1h-2zM25 25h1v1h-1zM29 25h1v1h-1zM32 25h1v1h-1zM2 26h1v1h-1zM19 27h1v1h-1zM32 27h1v1h-1zM36 27h1v1h-1zM9 29h1v1h-1zM16 29h1v1h-1zM19 29h1v1h-1zM23 29h1v1h-1zM26 29h1v1h-1zM3 30h2v1h-2zM16 30h1v1h-1zM21 30h2v1h-2zM1 31h2v1h-2zM4 31h1v1h-1zM16 31h1v1h-1zM28 31h3v1h-3zM32 31h1v1h-1zM28 32h1v1h-1zM17 33h1v1h-1zM20 33h2v1h-2zM3 34h1v1h-1zM18 34h1v1h-1zM22 34h1v1h-1zM28 34h1v1h-1zM30 34h2v1h-2zM12 35h1v1h-1zM19 35h1v1h-1zM21 35h1v1h-1zM22 36h1v1h-1zM27 36h1v1h-1zM29 36h1v1h-1zM32 36h1v1h-1zM3 37h1v1h-1zM8 37h1v1h-1zM11 37h1v1h-1zM27 37h1v1h-1zM3 38h1v1h-1zM14 38h1v1h-1zM17 38h1v1h-1zM21 38h1v1h-1zM24 38h1v1h-1zM3 39h1v1h-1zM22 39h1v1h-1zM0 40h2v1h-2zM3 40h1v1h-1zM10 40h1v1h-1zM17 40h1v1h-1zM19 40h1v1h-1zM24 40h2v1h-2zM0 41h1v1h-1zM9 41h1v1h-1zM29 41h1v1h-1zM35 41h1v1h-1zM19 42h1v1h-1zM21 42h1v1h-1zM31 42h1v1h-1zM17 43h2v1h-2zM3 44h2v1h-2zM8 44h1v1h-1zM19 44h1v1h-1zM22 44h1v1h-1zM31 44h1v1h-1zM4 45h1v1h-1zM6 45h1v1h-1zM9 45h1v1h-1zM14 45h1v1h-1zM21 45h1v1h-1zM30 45h2v1h-2zM3 46h1v1h-1zM27 46h1v1h-1z"/>
<path fill="#f8bfa4" d="M5 0h1v1h-1zM23 0h1v1h-1zM25 0h1v1h-1zM27 0h1v1h-1zM7 1h1v1h-1zM10 1h1v1h-1zM22 1h1v1h-1zM25 1h1v1h-1zM30 1h1v1h-1zM32 1h2v1h-2zM0 2h1v1h-1zM8 2h2v1h-2zM12 2h2v1h-2zM21 2h1v1h-1zM11 3h1v1h-1zM16 3h1v1h-1zM11 4h1v1h-1zM14 4h1v1h-1zM22 4h2v1h-2zM31 4h1v1h-1zM1 5h1v1h-1zM3 5h2v1h-2zM13 5h2v1h-2zM18 5h1v1h-1zM31 5h2v1h-2zM4 6h1v1h-1zM9 6h1v1h-1zM14 6h1v1h-1zM12 7h1v1h-1zM28 7h1v1h-1zM2 8h1v1h-1zM15 8h2v1h-2zM24 8h1v1h-1zM26 8h1v1h-1zM31 8h1v1h-1zM4 9h2v1h-2zM20 9h1v1h-1zM24 9h1v1h-1zM3 10h2v1h-2zM6 10h1v1h-1zM10 10h1v1h-1zM15 10h1v1h-1zM22 10h1v1h-1zM30 10h1v1h-1zM0 11h1v1h-1zM2 11h1v1h-1zM6 11h1v1h-1zM24 11h1v1h-1zM27 11h2v1h-2zM0 12h2v1h-2zM8 12h1v1h-1zM12 12h1v1h-1zM18 12h2v1h-2zM7 13h1v1h-1zM12 13h1v1h-1zM16 13h2v1h-2zM29 13h1v1h-1zM10 14h1v1h-1zM12 14h1v1h-1zM19 14h1v1h-1zM22 14h1v1h-1zM25 14h1v1h-1zM3 15h1v1h-1zM25 15h1v1h-1zM29 15h1v1h-1zM34 15h1v1h-1zM0 16h1v1h-1zM3 16h1v1h-1zM11 16h1v1h-1zM23 16h1v1h-1zM28 16h1v1h-1zM1 17h1v1h-1zM5 17h2v1h-2zM8 17h1v1h-1zM24 17h1v1h-1zM29 17h1v1h-1zM5 18h1v1h-1zM15 18h3v1h-3zM16 19h3v1h-3zM23 19h1v1h-1zM2 20h1v1h-1zM5 20h2v1h-2zM10 20h2v1h-2zM16 20h1v1h-1zM25 20h1v1h-1zM7 21h1v1h-1zM17 21h1v1h-1zM2 22h1v1h-1zM6 22h1v1h-1zM8 22h1v1h-1zM14 22h1v1h-1zM29 22h1v1h-1zM14 23h1v1h-1zM18 23h1v1h-1zM29 23h1v1h-1zM31 23h1v1h-1zM5 24h1v1h-1zM10 24h1v1h-1zM26 24h1v1h-1zM4 25h1v1h-1zM14 25h1v1h-1zM17 25h1v1h-1zM8 26h1v1h-1zM17 26h1v1h-1zM26 26h1v1h-1zM29 26h1v1h-1zM32 26h1v1h-1zM0 27h1v1h-1zM2 27h1v1h-1zM14 27h1v1h-1zM16 27h2v1h-2zM3 28h1v1h-1zM22 28h1v1h-1zM28 28h1v1h-1zM3 29h1v1h-1zM10 29h1v1h-1zM35 30h1v1h-1zM2 32h1v1h-1zM5 32h1v1h-1zM27 32h1v1h-1zM10 33h1v1h-1zM9 34h1v1h-1zM19 34h1v1h-1zM13 35h1v1h-1zM22 35h1v1h-1zM4 36h1v1h-1zM11 36h1v1h-1zM14 36h1v1h-1zM16 36h1v1h-1zM21 36h1v1h-1zM26 36h1v1h-1zM32 37h1v1h-1zM6 38h1v1h-1zM9 38h1v1h-1zM13 38h1v1h-1zM16 38h1v1h-1zM19 38h1v1h-1zM22 38h1v1h-1zM0 39h1v1h-1zM7 39h1v1h-1zM10 39h2v1h-2zM28 39h1v1h-1zM6 40h1v1h-1zM23 40h1v1h-1zM26 40h1v1h-1zM30 40h1v1h-1zM2 41h1v1h-1zM5 41h2v1h-2zM15 41h2v1h-2zM22 41h1v1h-1zM28 41h1v1h-1zM7 42h1v1h-1zM15 42h1v1h-1zM17 42h1v1h-1zM20 42h1v1h-1zM24 42h1v1h-1zM6 43h1v1h-1zM10 43h2v1h-2zM15 43h1v1h-1zM21 43h1v1h-1zM29 43h1v1h-1zM31 43h1v1h-1zM6 44h1v1h-1zM12 44h3v1h-3zM16 44h2v1h-2zM26 44h1v1h-1zM23 45h1v1h-1zM25 45h1v1h-1zM8 46h3v1h-3z"/>
<path fill="#f4a683" d="M28 0h1v1h-1zM4 1h1v1h-1zM14 1h1v1h-1zM2 2h1v1h-1zM11 2h1v1h-1zM5 3h2v1h-2zM23 3h1v1h-1zM39 3h1v1h-1zM7 4h2v1h-2zM15 4h1v1h-1zM24 4h2v1h-2zM27 4h1v1h-1zM6 5h1v1h-1zM12 5h1v1h-1zM19 5h1v1h-1zM21 5h1v1h-1zM0 6h1v1h-1zM3 6h1v1h-1zM11 6h2v1h-2zM21 6h1v1h-1zM27 6h1v1h-1zM31 6h1v1h-1zM1 7h2v1h-2zM6 7h1v1h-1zM9 7h1v1h-1zM13 7h1v1h-1zM16 7h1v1h-1zM20 7h1v1h-1zM22 7h1v1h-1zM27 7h1v1h-1zM30 7h1v1h-1zM8 8h1v1h-1zM25 8h1v1h-1zM3 9h1v1h-1zM6 9h1v1h-1zM17 9h2v1h-2zM25 9h2v1h-2zM1 10h2v1h-2zM21 10h1v1h-1zM23 10h1v1h-1zM28 10h1v1h-1zM8 11h1v1h-1zM15 11h1v1h-1zM17 11h1v1h-1zM26 11h1v1h-1zM29 11h1v1h-1zM14 12h1v1h-1zM17 12h1v1h-1zM25 13h1v1h-1zM7 14h1v1h-1zM13 14h1v1h-1zM21 15h1v1h-1zM8 16h1v1h-1zM13 16h1v1h-1zM4 17h1v1h-1zM12 17h1v1h-1zM15 17h1v1h-1zM22 17h1v1h-1zM4 18h1v1h-1zM22 18h2v1h-2zM0 19h1v1h-1zM10 19h1v1h-1zM15 19h1v1h-1zM21 19h1v1h-1zM32 19h1v1h-1zM3 20h1v1h-1zM8 20h1v1h-1zM23 20h1v1h-1zM16 21h1v1h-1zM5 22h1v1h-1zM10 22h1v1h-1zM17 22h1v1h-1zM25 22h1v1h-1zM27 22h1v1h-1zM0 23h1v1h-1zM23 23h1v1h-1zM26 23h1v1h-1zM7 24h2v1h-2zM18 24h1v1h-1zM16 25h1v1h-1zM20 25h1v1h-1zM10 26h1v1h-1zM16 26h1v1h-1zM18 26h1v1h-1zM24 26h1v1h-1zM28 26h1v1h-1zM1 27h1v1h-1zM26 27h1v1h-1zM21 28h1v1h-1zM27 28h1v1h-1zM2 29h1v1h-1zM5 29h1v1h-1zM15 29h1v1h-1zM25 29h1v1h-1zM15 30h1v1h-1zM25 30h1v1h-1zM8 31h1v1h-1zM21 31h1v1h-1zM26 31h1v1h-1zM12 32h1v1h-1zM15 32h1v1h-1zM22 32h2v1h-2zM26 32h1v1h-1zM30 32h1v1h-1zM6 33h2v1h-2zM22 33h1v1h-1zM25 33h2v1h-2zM29 33h1v1h-1zM20 34h1v1h-1zM24 34h1v1h-1zM29 34h1v1h-1zM0 35h1v1h-1zM2 35h1v1h-1zM4 35h1v1h-1zM6 35h1v1h-1zM8 35h1v1h-1zM14 35h1v1h-1zM7 36h1v1h-1zM20 36h1v1h-1zM23 36h1v1h-1zM16 37h1v1h-1zM28 37h1v1h-1zM39 37h1v1h-1zM12 38h1v1h-1zM31 38h1v1h-1zM4 39h1v1h-1zM6 39h1v1h-1zM9 39h1v1h-1zM13 39h1v1h-1zM16 39h1v1h-1zM23 39h1v1h-1zM25 39h1v1h-1zM5 40h1v1h-1zM15 40h1v1h-1zM1 41h1v1h-1zM4 41h1v1h-1zM12 41h2v1h-2zM25 41h2v1h-2zM30 41h1v1h-1zM5 42h2v1h-2zM12 42h1v1h-1zM14 42h1v1h-1zM16 42h1v1h-1zM30 42h1v1h-1zM32 42h1v1h-1zM7 43h1v1h-1zM12 43h1v1h-1zM19 43h1v1h-1zM26 43h1v1h-1zM30 43h1v1h-1zM18 44h1v1h-1zM25 44h1v1h-1zM27 44h1v1h-1zM10 45h1v1h-1zM32 45h1v1h-1zM14 46h1v1h-1zM17 46h1v1h-1zM20 46h1v1h-1zM28 46h1v1h-1zM30 46h1v1h-1z"/>
<path fill="#e8896c" d="M14 0h2v1h-2zM13 3h1v1h-1zM1 4h1v1h-1zM13 4h1v1h-1zM6 6h2v1h-2zM10 6h1v1h-1zM26 6h1v1h-1zM29 6h1v1h-1zM14 7h1v1h-1zM21 7h1v1h-1zM32 7h1v1h-1zM0 8h1v1h-1zM17 8h1v1h-1zM21 8h2v1h-2zM1 9h1v1h-1zM29 9h1v1h-1zM5 10h1v1h-1zM7 10h1v1h-1zM4 11h1v1h-1zM12 11h2v1h-2zM28 12h1v1h-1zM9 13h1v1h-1zM20 13h1v1h-1zM4 14h2v1h-2zM23 14h1v1h-1zM30 14h1v1h-1zM32 14h1v1h-1zM4 15h1v1h-1zM6 15h1v1h-1zM15 15h1v1h-1zM22 15h1v1h-1zM4 16h1v1h-1zM6 16h1v1h-1zM16 16h1v1h-1zM9 19h1v1h-1zM11 19h2v1h-2zM26 19h1v1h-1zM7 20h1v1h-1zM9 20h1v1h-1zM12 20h2v1h-2zM29 20h1v1h-1zM32 20h1v1h-1zM13 21h1v1h-1zM15 22h1v1h-1zM23 22h1v1h-1zM32 22h1v1h-1zM3 23h1v1h-1zM10 23h1v1h-1zM16 24h2v1h-2zM7 25h1v1h-1zM1 26h1v1h-1zM3 26h1v1h-1zM13 26h1v1h-1zM3 27h1v1h-1zM34 27h1v1h-1zM16 28h1v1h-1zM13 29h1v1h-1zM0 32h1v1h-1zM3 32h1v1h-1zM5 33h1v1h-1zM24 33h1v1h-1zM34 33h1v1h-1zM23 34h1v1h-1zM25 34h1v1h-1zM16 35h1v1h-1zM5 36h1v1h-1zM17 36h1v1h-1zM4 37h1v1h-1zM21 37h1v1h-1zM1 39h2v1h-2zM4 40h1v1h-1zM31 41h2v1h-2zM25 42h1v1h-1zM5 43h1v1h-1zM9 43h1v1h-1zM37 43h1v1h-1zM1 44h2v1h-2zM2 45h1v1h-1zM25 46h1v1h-1z"/>
<path fill="#db6b55" d="M13 0h1v1h-1zM23 1h1v1h-1zM6 2h1v1h-1zM23 2h1v1h-1zM23 5h1v1h-1zM5 6h1v1h-1zM15 6h2v1h-2zM28 6h1v1h-1zM17 7h1v1h-1zM4 8h1v1h-1zM6 8h1v1h-1zM2 9h1v1h-1zM23 9h1v1h-1zM13 10h1v1h-1zM19 10h1v1h-1zM25 10h1v1h-1zM21 11h2v1h-2zM25 11h1v1h-1zM3 12h2v1h-2zM9 12h2v1h-2zM21 12h1v1h-1zM2 13h1v1h-1zM4 13h1v1h-1zM15 13h1v1h-1zM21 13h1v1h-1zM26 13h1v1h-1zM3 14h1v1h-1zM12 15h1v1h-1zM1 19h1v1h-1zM7 19h1v1h-1zM1 22h1v1h-1zM5 25h1v1h-1zM9 25h1v1h-1zM13 25h1v1h-1zM12 26h1v1h-1zM9 27h1v1h-1zM23 27h1v1h-1zM32 28h1v1h-1zM15 31h1v1h-1zM4 32h1v1h-1zM3 33h1v1h-1zM14 33h1v1h-1zM4 34h1v1h-1zM14 34h1v1h-1zM16 34h1v1h-1zM6 36h1v1h-1zM9 37h1v1h-1zM15 37h1v1h-1zM22 37h2v1h-2zM26 38h1v1h-1zM17 41h1v1h-1zM24 41h1v1h-1zM1 42h1v1h-1zM2 43h1v1h-1zM14 43h1v1h-1zM24 43h1v1h-1zM32 43h1v1h-1zM1 45h1v1h-1zM15 45h1v1h-1zM17 45h1v1h-1zM6 46h1v1h-1zM23 46h1v1h-1zM29 46h1v1h-1z"/>
<path fill="#cc4c44" d="M13 1h1v1h-1zM4 2h1v1h-1zM15 2h1v1h-1zM5 5h1v1h-1zM22 6h2v1h-2zM30 6h1v1h-1zM4 7h1v1h-1zM13 8h1v1h-1zM9 11h1v1h-1zM32 11h1v1h-1zM26 12h2v1h-2zM29 12h1v1h-1zM11 13h1v1h-1zM2 14h1v1h-1zM5 15h1v1h-1zM13 17h1v1h-1zM32 17h1v1h-1zM9 18h1v1h-1zM7 22h1v1h-1zM16 22h1v1h-1zM26 22h1v1h-1zM17 23h1v1h-1zM10 25h1v1h-1zM5 26h2v1h-2zM6 27h2v1h-2zM12 28h4v1h-4zM26 28h1v1h-1zM6 29h1v1h-1zM17 29h1v1h-1zM6 30h1v1h-1zM9 31h1v1h-1zM11 31h1v1h-1zM11 32h1v1h-1zM8 33h1v1h-1zM15 33h1v1h-1zM7 34h1v1h-1zM21 34h1v1h-1zM17 35h1v1h-1zM0 36h1v1h-1zM3 36h1v1h-1zM15 36h1v1h-1zM19 36h1v1h-1zM0 37h2v1h-2zM6 37h1v1h-1zM17 37h1v1h-1zM2 38h1v1h-1zM4 38h1v1h-1zM23 38h1v1h-1zM26 39h1v1h-1zM11 41h1v1h-1zM33 43h1v1h-1zM15 44h1v1h-1zM12 46h1v1h-1z"/>
<path fill="#bd2d35" d="M5 2h1v1h-1zM5 4h1v1h-1zM26 4h1v1h-1zM7 5h1v1h-1zM32 6h1v1h-1zM1 8h1v1h-1zM32 9h1v1h-1zM1 13h1v1h-1zM5 13h1v1h-1zM10 13h1v1h-1zM32 13h1v1h-1zM23 15h1v1h-1zM17 17h1v1h-1zM26 17h1v1h-1zM3 22h1v1h-1zM5 23h1v1h-1zM11 24h1v1h-1zM12 25h1v1h-1zM11 26h1v1h-1zM5 27h1v1h-1zM11 27h1v1h-1zM1 28h1v1h-1zM6 28h1v1h-1zM17 28h1v1h-1zM24 28h1v1h-1zM8 29h1v1h-1zM11 29h1v1h-1zM14 29h1v1h-1zM10 30h2v1h-2zM1 32h1v1h-1zM1 33h1v1h-1zM4 33h1v1h-1zM10 34h2v1h-2zM13 34h1v1h-1zM17 34h1v1h-1zM1 36h1v1h-1zM5 38h1v1h-1zM7 38h1v1h-1zM32 40h1v1h-1zM0 42h1v1h-1zM11 42h1v1h-1zM4 43h1v1h-1zM23 43h1v1h-1zM13 45h1v1h-1zM15 46h1v1h-1z"/>
<path fill="#a81529" d="M26 5h1v1h-1zM33 5h1v1h-1zM2 6h1v1h-1zM25 6h1v1h-1zM29 8h1v1h-1zM16 10h1v1h-1zM20 10h1v1h-1zM5 12h1v1h-1zM23 12h3v1h-3zM32 12h1v1h-1zM13 13h1v1h-1zM24 15h1v1h-1zM27 15h1v1h-1zM4 22h1v1h-1zM1 23h1v1h-1zM4 23h1v1h-1zM12 23h1v1h-1zM15 24h1v1h-1zM11 25h1v1h-1zM7 26h1v1h-1zM10 27h1v1h-1zM12 27h1v1h-1zM15 27h1v1h-1zM7 28h1v1h-1zM7 29h1v1h-1zM9 30h1v1h-1zM26 30h1v1h-1zM13 31h1v1h-1zM13 32h1v1h-1zM17 32h1v1h-1zM12 33h1v1h-1zM16 33h1v1h-1zM23 33h1v1h-1zM8 34h1v1h-1zM12 34h1v1h-1zM15 34h1v1h-1zM32 34h1v1h-1zM11 35h1v1h-1zM23 35h1v1h-1zM13 36h1v1h-1zM5 39h1v1h-1zM33 41h1v1h-1zM22 42h1v1h-1zM13 43h1v1h-1zM16 43h1v1h-1zM32 44h1v1h-1zM1 46h1v1h-1z"/>
<path fill="#870a24" d="M16 2h1v1h-1zM4 4h1v1h-1zM1 6h1v1h-1zM5 7h1v1h-1zM5 8h1v1h-1zM32 8h1v1h-1zM31 9h1v1h-1zM23 11h1v1h-1zM16 12h1v1h-1zM5 16h1v1h-1zM16 17h1v1h-1zM9 22h1v1h-1zM16 23h1v1h-1zM13 24h1v1h-1zM4 26h1v1h-1zM25 26h1v1h-1zM4 27h1v1h-1zM5 28h1v1h-1zM8 28h1v1h-1zM10 28h1v1h-1zM25 28h1v1h-1zM10 31h1v1h-1zM6 32h2v1h-2zM13 33h1v1h-1zM5 34h1v1h-1zM10 35h1v1h-1zM1 38h1v1h-1zM3 43h1v1h-1zM22 43h1v1h-1zM2 46h1v1h-1zM4 46h1v1h-1zM16 46h1v1h-1zM32 46h1v1h-1z"/>
<path fill="#67001f" d="M5 1h1v1h-1zM15 1h1v1h-1zM10 2h1v1h-1zM2 3h1v1h-1zM13 6h1v1h-1zM10 7h1v1h-1zM24 10h1v1h-1zM32 10h1v1h-1zM1 11h1v1h-1zM2 12h1v1h-1zM6 12h1v1h-1zM11 12h1v1h-1zM13 12h1v1h-1zM15 12h1v1h-1zM22 13h2v1h-2zM21 14h1v1h-1zM15 16h1v1h-1zM13 19h1v1h-1zM25 19h1v1h-1zM4 20h1v1h-1zM5 21h1v1h-1zM11 22h3v1h-3zM6 23h2v1h-2zM11 23h1v1h-1zM13 23h1v1h-1zM15 23h1v1h-1zM12 24h1v1h-1zM15 25h1v1h-1zM9 26h1v1h-1zM15 26h1v1h-1zM23 26h1v1h-1zM13 27h1v1h-1zM9 28h1v1h-1zM11 28h1v1h-1zM12 29h1v1h-1zM5 30h1v1h-1zM8 30h1v1h-1zM12 30h1v1h-1zM5 31h2v1h-2zM10 32h1v1h-1zM14 32h1v1h-1zM0 33h1v1h-1zM2 33h1v1h-1zM0 34h1v1h-1zM2 34h1v1h-1zM6 34h1v1h-1zM1 35h1v1h-1zM5 37h1v1h-1zM13 37h1v1h-1zM0 38h1v1h-1zM11 38h1v1h-1zM29 40h1v1h-1zM23 41h1v1h-1zM4 42h1v1h-1zM13 42h1v1h-1zM23 42h1v1h-1zM1 43h1v1h-1zM25 43h1v1h-1zM23 44h1v1h-1zM5 45h1v1h-1zM0 46h1v1h-1zM11 46h1v1h-1zM13 46h1v1h-1zM24 46h1v1h-1zM26 46h1v1h-1z"/>
</g>
<path d="M679.36 880.5v317.25M684.92 880.5v317.25M690.48 880.5v317.25M696.04 880.5v317.25M701.6 880.5v317.25M707.16 880.5v317.25M712.72 880.5v317.25M718.28 880.5v317.25M723.84 880.5v317.25M729.4 880.5v317.25M734.96 880.5v317.25M740.52 880.5v317.25M746.08 880.5v317.25M751.64 880.5v317.25M757.2 880.5v317.25M762.76 880.5v317.25M768.32 880.5v317.25M773.88 880.5v317.25M779.44 880.5v317.25M785 880.5v317.25M790.56 880.5v317.25M796.12 880.5v317.25M801.68 880.5v317.25M807.24 880.5v317.25M812.8 880.5v317.25M818.36 880.5v317.25M823.92 880.5v317.25M829.48 880.5v317.25M835.04 880.5v317.25M840.6 880.5v317.25M846.16 880.5v317.25M851.72 880.5v317.25M857.28 880.5v317.25M862.84 880.5v317.25M868.4 880.5v317.25M873.96 880.5v317.25M879.52 880.5v317.25M885.08 880.5v317.25M890.64 880.5v317.25M673.8 887.25h222.4M673.8 894h222.4M673.8 900.75h222.4M673.8 907.5h222.4M673.8 914.25h222.4M673.8 921h222.4M673.8 927.75h222.4M673.8 934.5h222.4M673.8 941.25h222.4M673.8 948h222.4M673.8 954.75h222.4M673.8 961.5h222.4M673.8 968.25h222.4M673.8 975h222.4M673.8 981.75h222.4M673.8 988.5h222.4M673.8 995.25h222.4M673.8 1002h222.4M673.8 1008.75h222.4M673.8 1015.5h222.4M673.8 1022.25h222.4M673.8 1029h222.4M673.8 1035.75h222.4M673.8 1042.5h222.4M673.8 1049.25h222.4M673.8 1056h222.4M673.8 1062.75h222.4M673.8 1069.5h222.4M673.8 1076.25h222.4M673.8 1083h222.4M673.8 1089.75h222.4M673.8 1096.5h222.4M673.8 1103.25h222.4M673.8 1110h222.4M673.8 1116.75h222.4M673.8 1123.5h222.4M673.8 1130.25h222.4M673.8 1137h222.4M673.8 1143.75h222.4M673.8 1150.5h222.4M673.8 1157.25h222.4M673.8 1164h222.4M673.8 1170.75h222.4M673.8 1177.5h222.4M673.8 1184.25h222.4M673.8 1191h222.4" stroke="#fff" stroke-opacity=".16" stroke-width=".6" fill="none"/>
<rect x="236.6" y="204" width="222.4" height="15.8" fill="#ffce63"/>
<rect x="236.6" y="219.9" width="11.12" height="15.7" fill="#b5bd61"/>
<rect x="247.72" y="219.9" width="5.56" height="15.7" fill="#279e68"/>
<rect x="253.28" y="219.9" width="5.56" height="15.7" fill="#c49c94"/>
<rect x="258.84" y="219.9" width="11.12" height="15.7" fill="#17becf"/>
<rect x="269.96" y="219.9" width="5.56" height="15.7" fill="#c5b0d5"/>
<rect x="275.52" y="219.9" width="5.56" height="15.7" fill="#aec7e8"/>
<rect x="281.08" y="219.9" width="5.56" height="15.7" fill="#1f77b4"/>
<rect x="286.64" y="219.9" width="5.56" height="15.7" fill="#ad494a"/>
<rect x="292.2" y="219.9" width="5.56" height="15.7" fill="#8c6d31"/>
<rect x="297.76" y="219.9" width="5.56" height="15.7" fill="#d62728"/>
<rect x="303.32" y="219.9" width="11.12" height="15.7" fill="#8c564b"/>
<rect x="314.44" y="219.9" width="5.56" height="15.7" fill="#aec7e8"/>
<rect x="320" y="219.9" width="5.56" height="15.7" fill="#c49c94"/>
<rect x="325.56" y="219.9" width="16.68" height="15.7" fill="#ffbb78"/>
<rect x="342.24" y="219.9" width="16.68" height="15.7" fill="#e377c2"/>
<rect x="358.92" y="219.9" width="5.56" height="15.7" fill="#dbdb8d"/>
<rect x="364.48" y="219.9" width="5.56" height="15.7" fill="#9edae5"/>
<rect x="370.04" y="219.9" width="5.56" height="15.7" fill="#c5b0d5"/>
<rect x="375.6" y="219.9" width="5.56" height="15.7" fill="#dbdb8d"/>
<rect x="381.16" y="219.9" width="5.56" height="15.7" fill="#ff7f0e"/>
<rect x="386.72" y="219.9" width="5.56" height="15.7" fill="#279e68"/>
<rect x="392.28" y="219.9" width="5.56" height="15.7" fill="#b5bd61"/>
<rect x="397.84" y="219.9" width="5.56" height="15.7" fill="#ff9896"/>
<rect x="403.4" y="219.9" width="5.56" height="15.7" fill="#c5b0d5"/>
<rect x="408.96" y="219.9" width="5.56" height="15.7" fill="#98df8a"/>
<rect x="414.52" y="219.9" width="5.56" height="15.7" fill="#1f77b4"/>
<rect x="420.08" y="219.9" width="5.56" height="15.7" fill="#aa40fc"/>
<rect x="425.64" y="219.9" width="5.56" height="15.7" fill="#ff9896"/>
<rect x="431.2" y="219.9" width="5.56" height="15.7" fill="#f7b6d2"/>
<rect x="436.76" y="219.9" width="5.56" height="15.7" fill="#1f77b4"/>
<rect x="442.32" y="219.9" width="5.56" height="15.7" fill="#f7b6d2"/>
<rect x="447.88" y="219.9" width="11.12" height="15.7" fill="#c49c94"/>
<rect x="236.6" y="235.7" width="5.56" height="15.1" fill="#e3bb7e"/>
<rect x="242.16" y="235.7" width="11.12" height="15.1" fill="#37240b"/>
<rect x="253.28" y="235.7" width="5.56" height="15.1" fill="#6b8355"/>
<rect x="258.84" y="235.7" width="5.56" height="15.1" fill="#695834"/>
<rect x="264.4" y="235.7" width="5.56" height="15.1" fill="#e3bb7e"/>
<rect x="269.96" y="235.7" width="11.12" height="15.1" fill="#37240b"/>
<rect x="281.08" y="235.7" width="5.56" height="15.1" fill="#e3bb7e"/>
<rect x="286.64" y="235.7" width="16.68" height="15.1" fill="#37240b"/>
<rect x="303.32" y="235.7" width="5.56" height="15.1" fill="#e3bb7e"/>
<rect x="308.88" y="235.7" width="11.12" height="15.1" fill="#6b8355"/>
<rect x="320" y="235.7" width="11.12" height="15.1" fill="#e3bb7e"/>
<rect x="331.12" y="235.7" width="5.56" height="15.1" fill="#37240b"/>
<rect x="336.68" y="235.7" width="5.56" height="15.1" fill="#6b8355"/>
<rect x="342.24" y="235.7" width="5.56" height="15.1" fill="#37240b"/>
<rect x="347.8" y="235.7" width="5.56" height="15.1" fill="#695834"/>
<rect x="353.36" y="235.7" width="5.56" height="15.1" fill="#6b8355"/>
<rect x="358.92" y="235.7" width="5.56" height="15.1" fill="#37240b"/>
<rect x="364.48" y="235.7" width="5.56" height="15.1" fill="#e3bb7e"/>
<rect x="370.04" y="235.7" width="5.56" height="15.1" fill="#695834"/>
<rect x="375.6" y="235.7" width="5.56" height="15.1" fill="#e3bb7e"/>
<rect x="381.16" y="235.7" width="33.36" height="15.1" fill="#82664a"/>
<rect x="414.52" y="235.7" width="5.56" height="15.1" fill="#6b8355"/>
<rect x="420.08" y="235.7" width="5.56" height="15.1" fill="#82664a"/>
<rect x="425.64" y="235.7" width="11.12" height="15.1" fill="#6b8355"/>
<rect x="436.76" y="235.7" width="5.56" height="15.1" fill="#37240b"/>
<rect x="442.32" y="235.7" width="5.56" height="15.1" fill="#e3bb7e"/>
<rect x="447.88" y="235.7" width="5.56" height="15.1" fill="#37240b"/>
<rect x="453.44" y="235.7" width="5.56" height="15.1" fill="#695834"/>
<rect x="463.15" y="204" width="205.72" height="15.8" fill="#ee4570"/>
<rect x="463.15" y="219.9" width="5.56" height="15.7" fill="#dbdb8d"/>
<rect x="468.71" y="219.9" width="5.56" height="15.7" fill="#f7b6d2"/>
<rect x="474.27" y="219.9" width="5.56" height="15.7" fill="#9edae5"/>
<rect x="479.83" y="219.9" width="5.56" height="15.7" fill="#b5bd61"/>
<rect x="485.39" y="219.9" width="5.56" height="15.7" fill="#98df8a"/>
<rect x="490.95" y="219.9" width="5.56" height="15.7" fill="#c5b0d5"/>
<rect x="496.51" y="219.9" width="5.56" height="15.7" fill="#aa40fc"/>
<rect x="502.07" y="219.9" width="5.56" height="15.7" fill="#ff9896"/>
<rect x="507.63" y="219.9" width="5.56" height="15.7" fill="#279e68"/>
<rect x="513.19" y="219.9" width="5.56" height="15.7" fill="#b5bd61"/>
<rect x="518.75" y="219.9" width="5.56" height="15.7" fill="#dbdb8d"/>
<rect x="524.31" y="219.9" width="5.56" height="15.7" fill="#c5b0d5"/>
<rect x="529.87" y="219.9" width="5.56" height="15.7" fill="#8c6d31"/>
<rect x="535.43" y="219.9" width="11.12" height="15.7" fill="#e377c2"/>
<rect x="546.55" y="219.9" width="5.56" height="15.7" fill="#8c564b"/>
<rect x="552.11" y="219.9" width="5.56" height="15.7" fill="#ffbb78"/>
<rect x="557.67" y="219.9" width="5.56" height="15.7" fill="#c49c94"/>
<rect x="563.23" y="219.9" width="5.56" height="15.7" fill="#1f77b4"/>
<rect x="568.79" y="219.9" width="5.56" height="15.7" fill="#ffbb78"/>
<rect x="574.35" y="219.9" width="11.12" height="15.7" fill="#17becf"/>
<rect x="585.47" y="219.9" width="5.56" height="15.7" fill="#f7b6d2"/>
<rect x="591.03" y="219.9" width="11.12" height="15.7" fill="#c49c94"/>
<rect x="602.15" y="219.9" width="5.56" height="15.7" fill="#279e68"/>
<rect x="607.71" y="219.9" width="5.56" height="15.7" fill="#ffbb78"/>
<rect x="613.27" y="219.9" width="5.56" height="15.7" fill="#d62728"/>
<rect x="618.83" y="219.9" width="11.12" height="15.7" fill="#aec7e8"/>
<rect x="629.95" y="219.9" width="5.56" height="15.7" fill="#e377c2"/>
<rect x="635.51" y="219.9" width="5.56" height="15.7" fill="#c5b0d5"/>
<rect x="641.07" y="219.9" width="5.56" height="15.7" fill="#1f77b4"/>
<rect x="646.63" y="219.9" width="5.56" height="15.7" fill="#c49c94"/>
<rect x="652.19" y="219.9" width="5.56" height="15.7" fill="#8c564b"/>
<rect x="657.75" y="219.9" width="5.56" height="15.7" fill="#1f77b4"/>
<rect x="663.31" y="219.9" width="5.56" height="15.7" fill="#ad494a"/>
<rect x="463.15" y="235.7" width="5.56" height="15.1" fill="#37240b"/>
<rect x="468.71" y="235.7" width="5.56" height="15.1" fill="#6b8355"/>
<rect x="474.27" y="235.7" width="5.56" height="15.1" fill="#e3bb7e"/>
<rect x="479.83" y="235.7" width="5.56" height="15.1" fill="#37240b"/>
<rect x="485.39" y="235.7" width="16.68" height="15.1" fill="#82664a"/>
<rect x="502.07" y="235.7" width="5.56" height="15.1" fill="#6b8355"/>
<rect x="507.63" y="235.7" width="11.12" height="15.1" fill="#82664a"/>
<rect x="518.75" y="235.7" width="5.56" height="15.1" fill="#e3bb7e"/>
<rect x="524.31" y="235.7" width="5.56" height="15.1" fill="#695834"/>
<rect x="529.87" y="235.7" width="5.56" height="15.1" fill="#37240b"/>
<rect x="535.43" y="235.7" width="5.56" height="15.1" fill="#695834"/>
<rect x="540.99" y="235.7" width="11.12" height="15.1" fill="#6b8355"/>
<rect x="552.11" y="235.7" width="5.56" height="15.1" fill="#e3bb7e"/>
<rect x="557.67" y="235.7" width="5.56" height="15.1" fill="#37240b"/>
<rect x="563.23" y="235.7" width="11.12" height="15.1" fill="#6b8355"/>
<rect x="574.35" y="235.7" width="5.56" height="15.1" fill="#695834"/>
<rect x="579.91" y="235.7" width="11.12" height="15.1" fill="#e3bb7e"/>
<rect x="591.03" y="235.7" width="5.56" height="15.1" fill="#695834"/>
<rect x="596.59" y="235.7" width="5.56" height="15.1" fill="#6b8355"/>
<rect x="602.15" y="235.7" width="22.24" height="15.1" fill="#37240b"/>
<rect x="624.39" y="235.7" width="5.56" height="15.1" fill="#6b8355"/>
<rect x="629.95" y="235.7" width="16.68" height="15.1" fill="#37240b"/>
<rect x="646.63" y="235.7" width="16.68" height="15.1" fill="#e3bb7e"/>
<rect x="663.31" y="235.7" width="5.56" height="15.1" fill="#37240b"/>
<rect x="673.8" y="204" width="222.4" height="15.8" fill="#05d5a0"/>
<rect x="673.8" y="219.9" width="5.56" height="15.7" fill="#ff7f0e"/>
<rect x="679.36" y="219.9" width="5.56" height="15.7" fill="#dbdb8d"/>
<rect x="684.92" y="219.9" width="5.56" height="15.7" fill="#e377c2"/>
<rect x="690.48" y="219.9" width="5.56" height="15.7" fill="#b5bd61"/>
<rect x="696.04" y="219.9" width="5.56" height="15.7" fill="#9edae5"/>
<rect x="701.6" y="219.9" width="5.56" height="15.7" fill="#e377c2"/>
<rect x="707.16" y="219.9" width="5.56" height="15.7" fill="#c5b0d5"/>
<rect x="712.72" y="219.9" width="5.56" height="15.7" fill="#b5bd61"/>
<rect x="718.28" y="219.9" width="5.56" height="15.7" fill="#98df8a"/>
<rect x="723.84" y="219.9" width="5.56" height="15.7" fill="#279e68"/>
<rect x="729.4" y="219.9" width="5.56" height="15.7" fill="#aa40fc"/>
<rect x="734.96" y="219.9" width="11.12" height="15.7" fill="#ff9896"/>
<rect x="746.08" y="219.9" width="5.56" height="15.7" fill="#c5b0d5"/>
<rect x="751.64" y="219.9" width="5.56" height="15.7" fill="#dbdb8d"/>
<rect x="757.2" y="219.9" width="5.56" height="15.7" fill="#aec7e8"/>
<rect x="762.76" y="219.9" width="5.56" height="15.7" fill="#1f77b4"/>
<rect x="768.32" y="219.9" width="5.56" height="15.7" fill="#c49c94"/>
<rect x="773.88" y="219.9" width="5.56" height="15.7" fill="#8c564b"/>
<rect x="779.44" y="219.9" width="5.56" height="15.7" fill="#d62728"/>
<rect x="785" y="219.9" width="5.56" height="15.7" fill="#279e68"/>
<rect x="790.56" y="219.9" width="5.56" height="15.7" fill="#17becf"/>
<rect x="796.12" y="219.9" width="5.56" height="15.7" fill="#aec7e8"/>
<rect x="801.68" y="219.9" width="5.56" height="15.7" fill="#8c564b"/>
<rect x="807.24" y="219.9" width="5.56" height="15.7" fill="#e377c2"/>
<rect x="812.8" y="219.9" width="16.68" height="15.7" fill="#ffbb78"/>
<rect x="829.48" y="219.9" width="5.56" height="15.7" fill="#c5b0d5"/>
<rect x="835.04" y="219.9" width="5.56" height="15.7" fill="#ad494a"/>
<rect x="840.6" y="219.9" width="5.56" height="15.7" fill="#1f77b4"/>
<rect x="846.16" y="219.9" width="5.56" height="15.7" fill="#17becf"/>
<rect x="851.72" y="219.9" width="5.56" height="15.7" fill="#8c6d31"/>
<rect x="857.28" y="219.9" width="5.56" height="15.7" fill="#b5bd61"/>
<rect x="862.84" y="219.9" width="11.12" height="15.7" fill="#c49c94"/>
<rect x="873.96" y="219.9" width="11.12" height="15.7" fill="#f7b6d2"/>
<rect x="885.08" y="219.9" width="5.56" height="15.7" fill="#1f77b4"/>
<rect x="890.64" y="219.9" width="5.56" height="15.7" fill="#c49c94"/>
<rect x="673.8" y="235.7" width="5.56" height="15.1" fill="#82664a"/>
<rect x="679.36" y="235.7" width="5.56" height="15.1" fill="#37240b"/>
<rect x="684.92" y="235.7" width="5.56" height="15.1" fill="#6b8355"/>
<rect x="690.48" y="235.7" width="5.56" height="15.1" fill="#37240b"/>
<rect x="696.04" y="235.7" width="5.56" height="15.1" fill="#e3bb7e"/>
<rect x="701.6" y="235.7" width="5.56" height="15.1" fill="#695834"/>
<rect x="707.16" y="235.7" width="27.8" height="15.1" fill="#82664a"/>
<rect x="734.96" y="235.7" width="5.56" height="15.1" fill="#6b8355"/>
<rect x="740.52" y="235.7" width="5.56" height="15.1" fill="#82664a"/>
<rect x="746.08" y="235.7" width="5.56" height="15.1" fill="#695834"/>
<rect x="751.64" y="235.7" width="5.56" height="15.1" fill="#e3bb7e"/>
<rect x="757.2" y="235.7" width="11.12" height="15.1" fill="#6b8355"/>
<rect x="768.32" y="235.7" width="11.12" height="15.1" fill="#e3bb7e"/>
<rect x="779.44" y="235.7" width="11.12" height="15.1" fill="#37240b"/>
<rect x="790.56" y="235.7" width="5.56" height="15.1" fill="#695834"/>
<rect x="796.12" y="235.7" width="5.56" height="15.1" fill="#37240b"/>
<rect x="801.68" y="235.7" width="5.56" height="15.1" fill="#6b8355"/>
<rect x="807.24" y="235.7" width="5.56" height="15.1" fill="#37240b"/>
<rect x="812.8" y="235.7" width="5.56" height="15.1" fill="#6b8355"/>
<rect x="818.36" y="235.7" width="5.56" height="15.1" fill="#37240b"/>
<rect x="823.92" y="235.7" width="5.56" height="15.1" fill="#e3bb7e"/>
<rect x="829.48" y="235.7" width="11.12" height="15.1" fill="#37240b"/>
<rect x="840.6" y="235.7" width="11.12" height="15.1" fill="#e3bb7e"/>
<rect x="851.72" y="235.7" width="5.56" height="15.1" fill="#37240b"/>
<rect x="857.28" y="235.7" width="5.56" height="15.1" fill="#e3bb7e"/>
<rect x="862.84" y="235.7" width="5.56" height="15.1" fill="#695834"/>
<rect x="868.4" y="235.7" width="5.56" height="15.1" fill="#6b8355"/>
<rect x="873.96" y="235.7" width="5.56" height="15.1" fill="#e3bb7e"/>
<rect x="879.52" y="235.7" width="5.56" height="15.1" fill="#6b8355"/>
<rect x="885.08" y="235.7" width="11.12" height="15.1" fill="#37240b"/>
<rect x="219.1" y="256.1" width="13.3" height="303.75" fill="#ee4570"/>
<rect x="219.1" y="564.7" width="13.3" height="310.5" fill="#ffce63"/>
<rect x="219.1" y="880.5" width="13.3" height="317.25" fill="#05d5a0"/>
<g font-size="15.5">
<text x="907.3" y="263.88">ANKRD10</text>
<text x="907.3" y="284.12">SNX9</text>
<text x="907.3" y="304.38">MAF</text>
<text x="907.3" y="324.62">CDK6</text>
<text x="907.3" y="344.88">SESN3</text>
<text x="907.3" y="365.12">PAM</text>
<text x="907.3" y="385.38">NR3C1</text>
<text x="907.3" y="405.62">DGKH</text>
<text x="907.3" y="425.88">AC053513.1</text>
<text x="907.3" y="446.12">RBPJ</text>
<text x="907.3" y="466.38">TOX2</text>
<text x="907.3" y="486.62">DLEU2</text>
<text x="907.3" y="506.88">ZEB1</text>
<text x="907.3" y="527.12">LHFPL6</text>
<text x="907.3" y="547.38">INPP5F</text>
<text x="907.3" y="572.48">A2M</text>
<text x="907.3" y="592.73">KCNQ5</text>
<text x="907.3" y="612.98">PDGFD</text>
<text x="907.3" y="633.23">A2M-AS1</text>
<text x="907.3" y="653.48">GZMA</text>
<text x="907.3" y="673.73">JAKMIP2</text>
<text x="907.3" y="693.98">TRGC2</text>
<text x="907.3" y="714.23">SAMD3</text>
<text x="907.3" y="734.48">PTGDR</text>
<text x="907.3" y="754.73">PPP2R2B</text>
<text x="907.3" y="774.98">AOAH</text>
<text x="907.3" y="795.23">KLRD1</text>
<text x="907.3" y="815.48">KLRC3</text>
<text x="907.3" y="835.73">SFMBT2</text>
<text x="907.3" y="855.98">RIN3</text>
<text x="907.3" y="876.23">TRERF1</text>
<text x="907.3" y="888.27">PDE3B</text>
<text x="907.3" y="908.52">AL136456.1</text>
<text x="907.3" y="928.77">TESPA1</text>
<text x="907.3" y="949.02">ANTXR2</text>
<text x="907.3" y="969.27">BTBD11</text>
<text x="907.3" y="989.52">NELL2</text>
<text x="907.3" y="1009.77">DOCK9</text>
<text x="907.3" y="1030.03">PATJ</text>
<text x="907.3" y="1050.28">RORA</text>
<text x="907.3" y="1070.53">IL7R</text>
<text x="907.3" y="1090.78">CDC14A</text>
<text x="907.3" y="1111.03">PLCB1</text>
<text x="907.3" y="1131.28">MGAT4A</text>
<text x="907.3" y="1151.53">OXNAD1</text>
<text x="907.3" y="1171.78">SLCO3A1</text>
<text x="907.3" y="1192.03">LEF1</text>
<text x="902.5" y="216.4">Cellstate</text>
<text x="902.5" y="232.2">Patient</text>
<text x="902.5" y="248">Timepoint</text>
</g>
<text transform="translate(229.6 249.5) rotate(-90)" font-size="15.28">Program</text>
<text transform="translate(348.8 171.5) rotate(-20)" font-size="23.35">CD8T.Cytotoxic</text>
<text transform="translate(567.8 171.5) rotate(-20)" font-size="23.35">CD8T.Exhausted</text>
<text transform="translate(786.8 171.5) rotate(-20)" font-size="23.35">CD8T.Naive</text>
<text transform="translate(5.6 480) rotate(-20)" font-size="23.35">Exhausted(MP3)</text>
<text transform="translate(18.6 787.6) rotate(-20)" font-size="23.35">Cytotoxic(MP1)</text>
<text transform="translate(58.6 1090.3) rotate(-20)" font-size="23.35">Naive(MP4)</text>
<path d="M343.1 177.4 C 339.6 178.5, 337.1 180, 338.1 183 C 340.6 189, 348.1 194, 347.6 202.5" fill="none" stroke="#000" stroke-width="1.7"/>
<path d="M561.9 177.4 C 558.4 178.5, 555.9 180, 556.9 183 C 559.4 189, 566.9 194, 566.4 202.5" fill="none" stroke="#000" stroke-width="1.7"/>
<path d="M780.8 177.4 C 777.3 178.5, 774.8 180, 775.8 183 C 778.3 189, 785.8 194, 785.3 202.5" fill="none" stroke="#000" stroke-width="1.7"/>
<path d="M187.5 396.8 C 193 393.3, 197 398.8, 203 403.3 S 212 408.3, 218.5 408.3" fill="none" stroke="#000" stroke-width="1.7"/>
<path d="M187.5 708.5 C 193 705, 197 710.5, 203 715 S 212 720, 218.5 720" fill="none" stroke="#000" stroke-width="1.7"/>
<path d="M187.5 1027.5 C 193 1024, 197 1029.5, 203 1034 S 212 1039, 218.5 1039" fill="none" stroke="#000" stroke-width="1.7"/>
<defs><linearGradient id="cb" x1="0" y1="1" x2="0" y2="0">
<stop offset="0" stop-color="#053061"/>
<stop offset="0.05" stop-color="#124984"/>
<stop offset="0.1" stop-color="#2065ab"/>
<stop offset="0.15" stop-color="#327cb7"/>
<stop offset="0.2" stop-color="#4393c3"/>
<stop offset="0.25" stop-color="#6bacd1"/>
<stop offset="0.3" stop-color="#90c4dd"/>
<stop offset="0.35" stop-color="#b1d5e7"/>
<stop offset="0.4" stop-color="#d1e5f0"/>
<stop offset="0.45" stop-color="#e4eef4"/>
<stop offset="0.5" stop-color="#f7f6f6"/>
<stop offset="0.55" stop-color="#fae9df"/>
<stop offset="0.6" stop-color="#fddbc7"/>
<stop offset="0.65" stop-color="#f8bfa4"/>
<stop offset="0.7" stop-color="#f3a481"/>
<stop offset="0.75" stop-color="#e48066"/>
<stop offset="0.8" stop-color="#d6604d"/>
<stop offset="0.85" stop-color="#c43b3c"/>
<stop offset="0.9" stop-color="#b1182b"/>
<stop offset="0.95" stop-color="#8a0b25"/>
<stop offset="1" stop-color="#67001f"/>
</linearGradient></defs>
<rect x="999.2" y="210.8" width="20.6" height="66.4" fill="url(#cb)" stroke="#000" stroke-width="1.3"/>
<line x1="1020.1" y1="210.8" x2="1025" y2="210.8" stroke="#000" stroke-width="1.1"/>
<text x="1030.5" y="217.1" font-size="15.4">3</text>
<line x1="1020.1" y1="244" x2="1025" y2="244" stroke="#000" stroke-width="1.1"/>
<text x="1030.5" y="249.7" font-size="15.4">0</text>
<line x1="1020.1" y1="277.2" x2="1025" y2="277.2" stroke="#000" stroke-width="1.1"/>
<text x="1030.5" y="283.1" font-size="15.4">−3</text>
<text transform="translate(1070.5 243.6) rotate(-90)" font-size="15.6" text-anchor="middle">Expression</text>
<text transform="translate(1088.6 243.6) rotate(-90)" font-size="15.6" text-anchor="middle">(Normalized)</text>
<text x="1004.8" y="325" font-size="10.9">Timepoint</text>
<rect x="1003.8" y="327.9" width="16" height="14.4" fill="#37240b"/>
<text x="1023.5" y="339.6" font-size="14.25" color="#37240b">Baseline</text>
<rect x="1003.8" y="343.64" width="16" height="14.4" fill="#e3bb7e"/>
<text x="1023.5" y="355.34" font-size="14.25" style="stroke-width:.45px">W3D1</text>
<rect x="1003.8" y="359.38" width="16" height="14.4" fill="#6b8355"/>
<text x="1023.5" y="371.08" font-size="14.25" color="#6b8355">W7D1</text>
<rect x="1003.8" y="375.12" width="16" height="14.4" fill="#695834"/>
<text x="1023.5" y="386.82" font-size="14.25" color="#695834">Pre-surgery</text>
<rect x="1003.8" y="390.86" width="16" height="14.4" fill="#82664a"/>
<text x="1023.5" y="402.56" font-size="14.25" color="#82664a">Surgery</text>
<text x="1004.8" y="456.2" font-size="10.9">Patient</text>
<rect x="1003.8" y="459.3" width="16" height="14.4" fill="#1f77b4"/>
<text x="1023.5" y="471" font-size="14.25" color="#1f77b4">P01</text>
<rect x="1003.8" y="475.04" width="16" height="14.4" fill="#ff7f0e"/>
<text x="1023.5" y="486.74" font-size="14.25" color="#ff7f0e">P02</text>
<rect x="1003.8" y="490.78" width="16" height="14.4" fill="#279e68"/>
<text x="1023.5" y="502.48" font-size="14.25" color="#279e68">P03</text>
<rect x="1003.8" y="506.52" width="16" height="14.4" fill="#d62728"/>
<text x="1023.5" y="518.22" font-size="14.25" color="#d62728">P04</text>
<rect x="1003.8" y="522.26" width="16" height="14.4" fill="#aa40fc"/>
<text x="1023.5" y="533.96" font-size="14.25" color="#aa40fc">P06</text>
<rect x="1003.8" y="538" width="16" height="14.4" fill="#8c564b"/>
<text x="1023.5" y="549.7" font-size="14.25" color="#8c564b">P07</text>
<rect x="1003.8" y="553.74" width="16" height="14.4" fill="#e377c2"/>
<text x="1023.5" y="565.44" font-size="14.25" color="#e377c2">P08</text>
<rect x="1003.8" y="569.48" width="16" height="14.4" fill="#b5bd61"/>
<text x="1023.5" y="581.18" font-size="14.25" style="stroke-width:.45px">P09</text>
<rect x="1003.8" y="585.22" width="16" height="14.4" fill="#17becf"/>
<text x="1023.5" y="596.92" font-size="14.25" style="stroke-width:.45px">P10</text>
<rect x="1003.8" y="600.96" width="16" height="14.4" fill="#aec7e8"/>
<text x="1023.5" y="612.66" font-size="14.25" style="stroke-width:.45px">P12</text>
<rect x="1003.8" y="616.7" width="16" height="14.4" fill="#ffbb78"/>
<text x="1023.5" y="628.4" font-size="14.25" style="stroke-width:.45px">P13</text>
<rect x="1003.8" y="632.44" width="16" height="14.4" fill="#98df8a"/>
<text x="1023.5" y="644.14" font-size="14.25" style="stroke-width:.45px">P14</text>
<rect x="1003.8" y="648.18" width="16" height="14.4" fill="#ff9896"/>
<text x="1023.5" y="659.88" font-size="14.25" style="stroke-width:.45px">P15</text>
<rect x="1003.8" y="663.92" width="16" height="14.4" fill="#c5b0d5"/>
<text x="1023.5" y="675.62" font-size="14.25" style="stroke-width:.45px">P16</text>
<rect x="1003.8" y="679.66" width="16" height="14.4" fill="#c49c94"/>
<text x="1023.5" y="691.36" font-size="14.25" color="#c49c94">P18</text>
<rect x="1003.8" y="695.4" width="16" height="14.4" fill="#f7b6d2"/>
<text x="1023.5" y="707.1" font-size="14.25" style="stroke-width:.45px">P21</text>
<rect x="1003.8" y="711.14" width="16" height="14.4" fill="#dbdb8d"/>
<text x="1023.5" y="722.84" font-size="14.25" style="stroke-width:.45px">P23</text>
<rect x="1003.8" y="726.88" width="16" height="14.4" fill="#9edae5"/>
<text x="1023.5" y="738.58" font-size="14.25" style="stroke-width:.45px">P24</text>
<rect x="1003.8" y="742.62" width="16" height="14.4" fill="#ad494a"/>
<text x="1023.5" y="754.32" font-size="14.25" color="#ad494a">P26</text>
<rect x="1003.8" y="758.36" width="16" height="14.4" fill="#8c6d31"/>
<text x="1023.5" y="770.06" font-size="14.25" color="#8c6d31">P27</text>
<path d="M1325.4 67.9 H1795.6 V524.3" fill="none" stroke="#d4d4d4" stroke-width="1"/>
<line x1="1325.4" y1="292" x2="1795.6" y2="292" stroke="#808080" stroke-width="4.8" stroke-dasharray="14.8 7.3"/>
<circle cx="1346.5" cy="89.5" r="5.9" fill="#ffce63"/>
<circle cx="1355.5" cy="115.5" r="5.9" fill="#ffce63"/>
<circle cx="1378.25" cy="177.25" r="5.9" fill="#ffce63"/>
<circle cx="1403.5" cy="239.75" r="5.9" fill="#ffce63"/>
<circle cx="1420.25" cy="277" r="5.9" fill="#ffce63"/>
<circle cx="1434" cy="305.5" r="5.9" fill="#808080"/>
<circle cx="1444.25" cy="325.5" r="5.9" fill="#808080"/>
<circle cx="1452.5" cy="340.75" r="5.9" fill="#808080"/>
<circle cx="1459" cy="352.75" r="5.9" fill="#808080"/>
<circle cx="1472.25" cy="375.25" r="5.9" fill="#808080"/>
<circle cx="1482.25" cy="391.75" r="5.9" fill="#808080"/>
<circle cx="1494.5" cy="409.75" r="5.9" fill="#808080"/>
<circle cx="1502.5" cy="421.5" r="5.9" fill="#808080"/>
<circle cx="1506.25" cy="426.75" r="5.9" fill="#808080"/>
<circle cx="1516.5" cy="440" r="5.9" fill="#808080"/>
<circle cx="1520" cy="444.5" r="5.9" fill="#808080"/>
<circle cx="1526.25" cy="451.5" r="5.9" fill="#808080"/>
<circle cx="1541.75" cy="468.75" r="5.9" fill="#808080"/>
<circle cx="1551.25" cy="478.25" r="5.9" fill="#808080"/>
<circle cx="1555" cy="481.75" r="5.9" fill="#808080"/>
<circle cx="1560" cy="486" r="5.9" fill="#808080"/>
<circle cx="1570.25" cy="495" r="5.9" fill="#808080"/>
<circle cx="1586.5" cy="503.75" r="5.9" fill="#808080"/>
<circle cx="1631" cy="463.5" r="5.9" fill="#808080"/>
<circle cx="1634.7" cy="459" r="5.9" fill="#808080"/>
<circle cx="1639.2" cy="454.3" r="5.9" fill="#808080"/>
<circle cx="1643.5" cy="449.6" r="5.9" fill="#808080"/>
<circle cx="1646.7" cy="446.3" r="5.9" fill="#808080"/>
<circle cx="1659.2" cy="430.1" r="5.9" fill="#808080"/>
<circle cx="1676" cy="406.9" r="5.9" fill="#808080"/>
<circle cx="1693.3" cy="380.3" r="5.9" fill="#808080"/>
<circle cx="1704.3" cy="361.6" r="5.9" fill="#808080"/>
<circle cx="1728.1" cy="317.8" r="5.9" fill="#808080"/>
<circle cx="1729.8" cy="314.7" r="5.9" fill="#808080"/>
<circle cx="1758.5" cy="253.7" r="5.9" fill="#ee4570"/>
<circle cx="1764.9" cy="238.3" r="5.9" fill="#ee4570"/>
<circle cx="1771.6" cy="222" r="5.9" fill="#ee4570"/>
<circle cx="1773.7" cy="218.9" r="5.9" fill="#ee4570"/>
<path d="M1325.4 67.9 V524.3 H1795.6" fill="none" stroke="#000" stroke-width="1.9" stroke-linecap="square"/>
<g stroke="#000" stroke-width="1.9">
<line x1="1315.4" y1="505.25" x2="1325.4" y2="505.25"/>
<line x1="1315.4" y1="423.25" x2="1325.4" y2="423.25"/>
<line x1="1315.4" y1="341.25" x2="1325.4" y2="341.25"/>
<line x1="1315.4" y1="259.25" x2="1325.4" y2="259.25"/>
<line x1="1315.4" y1="177.25" x2="1325.4" y2="177.25"/>
<line x1="1315.4" y1="95.25" x2="1325.4" y2="95.25"/>
<line x1="1424.15" y1="524.3" x2="1424.15" y2="534.3"/>
<line x1="1583.75" y1="524.3" x2="1583.75" y2="534.3"/>
<line x1="1743.35" y1="524.3" x2="1743.35" y2="534.3"/>
</g>
<g font-size="27.5">
<text x="1305.6" y="516.45" text-anchor="end">0.0</text>
<text x="1305.6" y="434.45" text-anchor="end">0.5</text>
<text x="1305.6" y="352.45" text-anchor="end">1.0</text>
<text x="1305.6" y="270.45" text-anchor="end">1.5</text>
<text x="1305.6" y="188.45" text-anchor="end">2.0</text>
<text x="1305.6" y="106.45" text-anchor="end">2.5</text>
<text x="1424.15" y="564.9" text-anchor="middle">−2</text>
<text x="1583.75" y="564.9" text-anchor="middle">0</text>
<text x="1743.35" y="564.9" text-anchor="middle">2</text>
</g>
<text x="1560.3" y="603" font-size="27.78" text-anchor="middle">Z score</text>
<text transform="translate(1246 296.2) rotate(-90)" font-size="27.78"><tspan x="-103.5" y="-0.72">−</tspan><tspan x="-80.25" y="-0.72" font-style="italic">log</tspan><tspan x="-37.95" y="3.88" font-size="19.45">10</tspan><tspan x="-12.46" y="-0.72">(</tspan><tspan x="-1.64" y="-0.72" font-style="italic">pvalue</tspan><tspan x="91.78" y="-0.72">)</tspan></text>
<g font-size="19" color="#ee4570">
<text x="1704.4" y="212.1">CD40L</text>
<text x="1721.4" y="247.5">EGF</text>
<text x="1664.2" y="283.8">TRAIL</text>
<text x="1724.9" y="280">GMCSF</text>
<text x="1739" y="311.7">IL15</text>
</g>
<g stroke="#000" stroke-width="2.3" fill="none">
<path d="M1767.1 211.2L1774.8 218.3"/>
<path d="M1772.2 220.5V262.2"/>
<path d="M1758.3 238.3H1766"/>
<path d="M1718.1 265.5L1758.7 253.4"/>
<path d="M1758.3 253.4V290.8"/>
</g>
<text x="1796.3" y="298.1" font-size="19.44" color="#808080">p=0.05</text>
<text x="1177.2" y="574.9" font-size="19.44">CD8T.Cytotoxic</text>
<text x="1823.2" y="574.9" font-size="19.44">CD8T.Exhausted</text>
<path d="M1531 570.2H1344" stroke="#ffce63" stroke-width="2.8" stroke-linecap="round"/>
<path d="M1337.3 570.2L1349.5 564.6L1346.5 570.2L1349.5 575.8Z" fill="#ffce63" stroke="#ffce63" stroke-width="1.2" stroke-linejoin="round"/>
<path d="M1542 570.2H1804" stroke="#ee4570" stroke-width="2.8" stroke-linecap="round"/>
<path d="M1810.7 570.2L1798.5 564.6L1801.5 570.2L1798.5 575.8Z" fill="#ee4570" stroke="#ee4570" stroke-width="1.2" stroke-linejoin="round"/>
<path d="M1385 665.3 H1695.5 V1288.5" fill="none" stroke="#f0f0f0" stroke-width="1"/>
<path d="M1385 665.3 V1288.5 H1695.5" fill="none" stroke="#000" stroke-width="1.6" stroke-linecap="square"/>
<g stroke="#000" stroke-width="1.6">
<line x1="1378" y1="792.5" x2="1385" y2="792.5"/>
<line x1="1378" y1="919.6" x2="1385" y2="919.6"/>
<line x1="1378" y1="1046.7" x2="1385" y2="1046.7"/>
<line x1="1378" y1="1173.8" x2="1385" y2="1173.8"/>
<line x1="1436.4" y1="1288.5" x2="1436.4" y2="1295.5"/>
<line x1="1539.7" y1="1288.5" x2="1539.7" y2="1295.5"/>
<line x1="1643.2" y1="1288.5" x2="1643.2" y2="1295.5"/>
</g>
<g font-size="18.06">
<text x="1371.5" y="799.3" text-anchor="end">1</text>
<text x="1371.5" y="926.4" text-anchor="end">0</text>
<text x="1371.5" y="1053.5" text-anchor="end">−1</text>
<text x="1371.5" y="1180.6" text-anchor="end">−2</text>
</g>
<text transform="translate(1333.5 977) rotate(-90)" font-size="18.06" text-anchor="middle">IL15 Cytokine Activity</text>
<g stroke="#000" stroke-width="1.8" fill="none">
<rect x="1394.9" y="945.8" width="83" height="78.1"/>
<path d="M1394.9 995.6H1477.9 M1436.5 945.8V842.4 M1436.5 1023.9V1118.5 M1415.3 842.4H1457.8 M1415.3 1118.5H1457.8"/>
<rect x="1498.1" y="908.3" width="83" height="76.9"/>
<path d="M1498.1 954.6H1581.1 M1539.6 908.3V821.3 M1539.6 985.2V1062.8 M1518.4 821.3H1560.8 M1518.4 1062.8H1560.8"/>
<rect x="1601.7" y="879.9" width="83" height="106.7"/>
<path d="M1601.7 913.3H1684.7 M1643.2 879.9V818.2 M1643.2 986.6V1060.4 M1622 818.2H1664.6 M1622 1060.4H1664.6"/>
</g>
<text x="1570.6" y="642.8" font-size="22.2" text-anchor="middle">p=0.029</text>
<text x="1477.3" y="755" font-size="22.2" text-anchor="middle">p=0.001</text>
<g fill="#ffce63">
<circle cx="1433.9" cy="776.4" r="6.4"/>
<circle cx="1441.6" cy="842.5" r="6.4"/>
<circle cx="1446.3" cy="880.7" r="6.4"/>
<circle cx="1441.6" cy="897.3" r="6.4"/>
<circle cx="1442" cy="903.6" r="6.4"/>
<circle cx="1445.4" cy="916.1" r="6.4"/>
<circle cx="1431.6" cy="931.3" r="6.4"/>
<circle cx="1446.6" cy="930.7" r="6.4"/>
<circle cx="1434.8" cy="939.6" r="6.4"/>
<circle cx="1445.4" cy="942.9" r="6.4"/>
<circle cx="1432" cy="955.4" r="6.4"/>
<circle cx="1438" cy="958" r="6.4"/>
<circle cx="1440.7" cy="961.6" r="6.4"/>
<circle cx="1436.8" cy="964.3" r="6.4"/>
<circle cx="1438.6" cy="971.4" r="6.4"/>
<circle cx="1427.7" cy="975.4" r="6.4"/>
<circle cx="1435.9" cy="983.9" r="6.4"/>
<circle cx="1444.3" cy="984.8" r="6.4"/>
<circle cx="1426.4" cy="993.2" r="6.4"/>
<circle cx="1443.9" cy="997.7" r="6.4"/>
<circle cx="1429.1" cy="1000" r="6.4"/>
<circle cx="1427.3" cy="1005.4" r="6.4"/>
<circle cx="1431.8" cy="1008.9" r="6.4"/>
<circle cx="1429.1" cy="1011.6" r="6.4"/>
<circle cx="1438" cy="1014.3" r="6.4"/>
<circle cx="1436.8" cy="1019.6" r="6.4"/>
<circle cx="1443.4" cy="1022.3" r="6.4"/>
<circle cx="1430" cy="1024.5" r="6.4"/>
<circle cx="1441.6" cy="1028.6" r="6.4"/>
<circle cx="1446.4" cy="1033.6" r="6.4"/>
<circle cx="1426.8" cy="1057.5" r="6.4"/>
<circle cx="1440.2" cy="1057.5" r="6.4"/>
<circle cx="1431.4" cy="1070.3" r="6.4"/>
<circle cx="1426" cy="1109.3" r="6.4"/>
<circle cx="1434.8" cy="1118.8" r="6.4"/>
<circle cx="1439.4" cy="1152.9" r="6.4"/>
<circle cx="1435.3" cy="1223" r="6.4"/>
</g>
<g fill="#05d5a0">
<circle cx="1544.1" cy="694.1" r="6.4"/>
<circle cx="1544.4" cy="704.4" r="6.4"/>
<circle cx="1531.9" cy="742.5" r="6.4"/>
<circle cx="1537.1" cy="821.4" r="6.4"/>
<circle cx="1531.4" cy="835.4" r="6.4"/>
<circle cx="1540.2" cy="862.5" r="6.4"/>
<circle cx="1535.9" cy="874.5" r="6.4"/>
<circle cx="1538" cy="906.3" r="6.4"/>
<circle cx="1547.9" cy="909.8" r="6.4"/>
<circle cx="1532.1" cy="918.8" r="6.4"/>
<circle cx="1539.5" cy="930.7" r="6.4"/>
<circle cx="1546.6" cy="942.5" r="6.4"/>
<circle cx="1541.6" cy="946.4" r="6.4"/>
<circle cx="1534.5" cy="952.7" r="6.4"/>
<circle cx="1540.7" cy="953.6" r="6.4"/>
<circle cx="1545.2" cy="958" r="6.4"/>
<circle cx="1538.9" cy="961.6" r="6.4"/>
<circle cx="1547.9" cy="966.4" r="6.4"/>
<circle cx="1537.1" cy="967" r="6.4"/>
<circle cx="1541.6" cy="971.4" r="6.4"/>
<circle cx="1530" cy="975.4" r="6.4"/>
<circle cx="1535.4" cy="976.8" r="6.4"/>
<circle cx="1543.4" cy="987.5" r="6.4"/>
<circle cx="1536.3" cy="988.4" r="6.4"/>
<circle cx="1530.9" cy="990.2" r="6.4"/>
<circle cx="1533.9" cy="1007.1" r="6.4"/>
<circle cx="1544.3" cy="1007.1" r="6.4"/>
<circle cx="1548.2" cy="1043.8" r="6.4"/>
<circle cx="1538.3" cy="1062.7" r="6.4"/>
<circle cx="1540.6" cy="1129.7" r="6.4"/>
</g>
<g fill="#ee4570">
<circle cx="1633" cy="817.9" r="6.4"/>
<circle cx="1652" cy="827.1" r="6.4"/>
<circle cx="1642.1" cy="832.7" r="6.4"/>
<circle cx="1650.5" cy="834.8" r="6.4"/>
<circle cx="1636.6" cy="846.1" r="6.4"/>
<circle cx="1638.2" cy="856.6" r="6.4"/>
<circle cx="1637.3" cy="868.75" r="6.4"/>
<circle cx="1642.1" cy="876.4" r="6.4"/>
<circle cx="1633.6" cy="883.9" r="6.4"/>
<circle cx="1645.2" cy="887.5" r="6.4"/>
<circle cx="1652.3" cy="890.2" r="6.4"/>
<circle cx="1644.8" cy="904.1" r="6.4"/>
<circle cx="1642.5" cy="909.8" r="6.4"/>
<circle cx="1652.9" cy="909.5" r="6.4"/>
<circle cx="1647.9" cy="912.5" r="6.4"/>
<circle cx="1641.1" cy="925.4" r="6.4"/>
<circle cx="1634.5" cy="934.8" r="6.4"/>
<circle cx="1638.9" cy="935.7" r="6.4"/>
<circle cx="1653" cy="935.4" r="6.4"/>
<circle cx="1636.4" cy="945.9" r="6.4"/>
<circle cx="1651.4" cy="957.1" r="6.4"/>
<circle cx="1639.5" cy="970.5" r="6.4"/>
<circle cx="1635.4" cy="976.8" r="6.4"/>
<circle cx="1649.3" cy="996.4" r="6.4"/>
<circle cx="1651.8" cy="1002.7" r="6.4"/>
<circle cx="1635" cy="1021.8" r="6.4"/>
<circle cx="1639.8" cy="1018.75" r="6.4"/>
<circle cx="1644.3" cy="1021.4" r="6.4"/>
<circle cx="1648.9" cy="1053.8" r="6.4"/>
<circle cx="1647.8" cy="1060.6" r="6.4"/>
<circle cx="1646.3" cy="1153.3" r="6.4"/>
<circle cx="1636.2" cy="1259.8" r="6.4"/>
</g>
<g stroke="#000" stroke-width="1.8" fill="none" transform="translate(0 0.5)">
<path d="M1504.7 673.1V661.25H1637.2V673.1 M1570.6 661.25V653.75"/>
<path d="M1422.2 689.4V678.1H1532.5V689.4"/>
<path d="M1411.25 785.6V774.1H1544.1V785.6 M1477.8 774.1V766.25"/>
<path d="M1530.9 801.9V790.6H1641.6V801.9"/>
</g>
<text transform="translate(1437.9 1338.8) rotate(-20)" font-size="18.4" text-anchor="middle">CD8T.Cytotoxic</text>
<text transform="translate(1541.2 1338.8) rotate(-20)" font-size="18.4" text-anchor="middle">CD8T.Naive</text>
<text transform="translate(1644.7 1338.8) rotate(-20)" font-size="18.4" text-anchor="middle">CD8T.Exhausted</text>
<path d="M171.07 1617.5L171.07 1617.5L170.71 1618.5L170.36 1619.5L170.02 1620.5L169.69 1621.5L169.39 1622.5L169.11 1623.5L168.86 1624.5L168.62 1625.5L168.4 1626.5L168.17 1627.5L167.92 1628.5L167.65 1629.5L167.34 1630.5L166.99 1631.5L166.61 1632.5L166.19 1633.5L165.75 1634.5L165.29 1635.5L164.81 1636.5L164.29 1637.5L163.71 1638.5L163.01 1639.5L162.06 1640.5L160.87 1641.5L159.61 1642.5L158.46 1643.5L157.44 1644.5L156.47 1645.5L155.51 1646.5L154.49 1647.5L153.38 1648.5L152.17 1649.5L150.91 1650.5L149.69 1651.5L148.56 1652.5L147.51 1653.5L146.52 1654.5L145.55 1655.5L144.57 1656.5L143.57 1657.5L142.55 1658.5L141.54 1659.5L140.55 1660.5L139.58 1661.5L138.6 1662.5L137.62 1663.5L136.7 1664.5L135.87 1665.5L135.16 1666.5L134.51 1667.5L133.91 1668.5L133.37 1669.5L132.88 1670.5L132.4 1671.5L131.94 1672.5L131.56 1673.5L131.28 1674.5L131.09 1675.5L130.94 1676.5L130.9 1677.5L131.01 1678.5L131.27 1679.5L131.63 1680.5L132.16 1681.5L133.19 1682.5L134.38 1683.5L135.59 1684.5L136.94 1685.5L138.41 1686.5L140.01 1687.5L141.73 1688.5L143.58 1689.5L145.59 1690.5L147.64 1691.5L149.68 1692.5L151.71 1693.5L153.6 1694.5L155.37 1695.5L157.03 1696.5L158.57 1697.5L159.99 1698.5L161.31 1699.5L162.56 1700.5L163.76 1701.5L164.91 1702.5L165.99 1703.5L166.99 1704.5L167.9 1705.5L168.75 1706.5L169.58 1707.5L170.36 1708.5L171.07 1709.46Z" fill="#2a1f15"/>
<line x1="142.64" y1="1656.43" x2="171.57" y2="1656.43" stroke="#fff" stroke-width="4.6" stroke-dasharray="5.2 3.2"/>
<line x1="130.43" y1="1671.43" x2="171.57" y2="1671.43" stroke="#fff" stroke-width="4.6" stroke-dasharray="10.9 3.9"/>
<line x1="133.1" y1="1684.11" x2="171.57" y2="1684.11" stroke="#fff" stroke-width="4.6" stroke-dasharray="5.2 3.2"/>
<path d="M180.54 1586.25L180.54 1586.25L180.65 1587.25L180.8 1588.25L180.99 1589.25L181.21 1590.25L181.45 1591.25L181.72 1592.25L182.01 1593.25L182.36 1594.25L182.76 1595.25L183.2 1596.25L183.69 1597.25L184.2 1598.25L184.74 1599.25L185.36 1600.25L186.05 1601.25L186.79 1602.25L187.56 1603.25L188.34 1604.25L189.12 1605.25L189.94 1606.25L190.78 1607.25L191.65 1608.25L192.53 1609.25L193.41 1610.25L194.29 1611.25L195.15 1612.25L196.03 1613.25L196.9 1614.25L197.78 1615.25L198.66 1616.25L199.53 1617.25L200.41 1618.25L201.29 1619.25L202.18 1620.25L203.07 1621.25L203.96 1622.25L204.84 1623.25L205.7 1624.25L206.55 1625.25L207.37 1626.25L208.19 1627.25L209 1628.25L209.8 1629.25L210.59 1630.25L211.35 1631.25L212.1 1632.25L212.81 1633.25L213.51 1634.25L214.23 1635.25L214.94 1636.25L215.62 1637.25L216.26 1638.25L216.83 1639.25L217.31 1640.25L217.7 1641.25L218.04 1642.25L218.35 1643.25L218.63 1644.25L218.89 1645.25L219.13 1646.25L219.34 1647.25L219.55 1648.25L219.74 1649.25L219.94 1650.25L220.14 1651.25L220.33 1652.25L220.52 1653.25L220.69 1654.25L220.83 1655.25L220.95 1656.25L221.03 1657.25L221.07 1658.25L221.04 1659.25L220.9 1660.25L220.65 1661.25L220.33 1662.25L219.95 1663.25L219.53 1664.25L219.08 1665.25L218.47 1666.25L217.69 1667.25L216.78 1668.25L215.79 1669.25L214.75 1670.25L213.55 1671.25L212.18 1672.25L210.69 1673.25L209.16 1674.25L207.65 1675.25L206.07 1676.25L204.45 1677.25L202.81 1678.25L201.2 1679.25L199.58 1680.25L197.94 1681.25L196.33 1682.25L194.77 1683.25L193.27 1684.25L191.78 1685.25L190.35 1686.25L189 1687.25L187.79 1688.25L186.67 1689.25L185.62 1690.25L184.66 1691.25L183.78 1692.25L182.98 1693.25L182.23 1694.25L181.54 1695.25L180.93 1696.25L180.54 1696.96Z" fill="#dcbd8c"/>
<line x1="178.84" y1="1627.86" x2="210.69" y2="1627.86" stroke="#fff" stroke-width="4.6" stroke-dasharray="5.2 3.2"/>
<line x1="178.84" y1="1647.86" x2="221.47" y2="1647.86" stroke="#fff" stroke-width="4.6" stroke-dasharray="10.9 3.9"/>
<line x1="178.84" y1="1664.82" x2="221.29" y2="1664.82" stroke="#fff" stroke-width="4.6" stroke-dasharray="5.2 3.2"/>
<path d="M296.07 1564.29L296.07 1564.29L295.74 1565.29L295.38 1566.29L295 1567.29L294.6 1568.29L294.19 1569.29L293.75 1570.29L293.29 1571.29L292.81 1572.29L292.3 1573.29L291.76 1574.29L291.2 1575.29L290.62 1576.29L290.03 1577.29L289.43 1578.29L288.82 1579.29L288.18 1580.29L287.5 1581.29L286.81 1582.29L286.1 1583.29L285.4 1584.29L284.72 1585.29L284.08 1586.29L283.49 1587.29L282.92 1588.29L282.37 1589.29L281.83 1590.29L281.32 1591.29L280.84 1592.29L280.4 1593.29L280 1594.29L279.64 1595.29L279.31 1596.29L279.01 1597.29L278.72 1598.29L278.44 1599.29L278.17 1600.29L277.9 1601.29L277.62 1602.29L277.36 1603.29L277.1 1604.29L276.85 1605.29L276.6 1606.29L276.35 1607.29L276.09 1608.29L275.83 1609.29L275.56 1610.29L275.27 1611.29L274.97 1612.29L274.66 1613.29L274.34 1614.29L274.02 1615.29L273.71 1616.29L273.41 1617.29L273.12 1618.29L272.86 1619.29L272.59 1620.29L272.29 1621.29L272 1622.29L271.71 1623.29L271.46 1624.29L271.26 1625.29L271.12 1626.29L271.07 1627.29L271.14 1628.29L271.34 1629.29L271.63 1630.29L271.98 1631.29L272.37 1632.29L272.75 1633.29L273.14 1634.29L273.59 1635.29L274.09 1636.29L274.62 1637.29L275.17 1638.29L275.71 1639.29L276.22 1640.29L276.7 1641.29L277.15 1642.29L277.6 1643.29L278.04 1644.29L278.48 1645.29L278.91 1646.29L279.35 1647.29L279.79 1648.29L280.24 1649.29L280.7 1650.29L281.15 1651.29L281.62 1652.29L282.08 1653.29L282.54 1654.29L283 1655.29L283.45 1656.29L283.9 1657.29L284.34 1658.29L284.77 1659.29L285.2 1660.29L285.63 1661.29L286.05 1662.29L286.47 1663.29L286.89 1664.29L287.3 1665.29L287.72 1666.29L288.12 1667.29L288.53 1668.29L288.93 1669.29L289.32 1670.29L289.71 1671.29L290.09 1672.29L290.47 1673.29L290.85 1674.29L291.22 1675.29L291.6 1676.29L291.98 1677.29L292.36 1678.29L292.75 1679.29L293.15 1680.29L293.55 1681.29L293.97 1682.29L294.39 1683.29L294.82 1684.29L295.25 1685.29L295.69 1686.29L296.07 1687.14Z" fill="#2a1f15"/>
<line x1="275.71" y1="1601.96" x2="296.57" y2="1601.96" stroke="#fff" stroke-width="4.6" stroke-dasharray="5.2 3.2"/>
<line x1="269.38" y1="1624.64" x2="296.57" y2="1624.64" stroke="#fff" stroke-width="4.6" stroke-dasharray="10.9 3.9"/>
<line x1="276.43" y1="1645.18" x2="296.57" y2="1645.18" stroke="#fff" stroke-width="4.6" stroke-dasharray="5.2 3.2"/>
<path d="M305.36 1546.43L305.36 1546.43L305.76 1547.43L306.18 1548.43L306.64 1549.43L307.12 1550.43L307.62 1551.43L308.14 1552.43L308.69 1553.43L309.28 1554.43L309.9 1555.43L310.56 1556.43L311.24 1557.43L311.94 1558.43L312.65 1559.43L313.35 1560.43L314.05 1561.43L314.75 1562.43L315.46 1563.43L316.17 1564.43L316.89 1565.43L317.61 1566.43L318.34 1567.43L319.08 1568.43L319.83 1569.43L320.58 1570.43L321.35 1571.43L322.15 1572.43L323 1573.43L323.86 1574.43L324.72 1575.43L325.57 1576.43L326.38 1577.43L327.15 1578.43L327.85 1579.43L328.48 1580.43L329.09 1581.43L329.68 1582.43L330.25 1583.43L330.76 1584.43L331.21 1585.43L331.58 1586.43L331.86 1587.43L332.08 1588.43L332.29 1589.43L332.48 1590.43L332.64 1591.43L332.79 1592.43L332.92 1593.43L333.04 1594.43L333.15 1595.43L333.25 1596.43L333.33 1597.43L333.4 1598.43L333.47 1599.43L333.53 1600.43L333.58 1601.43L333.64 1602.43L333.69 1603.43L333.75 1604.43L333.82 1605.43L333.9 1606.43L333.99 1607.43L334.12 1608.43L334.27 1609.43L334.43 1610.43L334.59 1611.43L334.74 1612.43L334.86 1613.43L334.95 1614.43L335 1615.43L334.99 1616.43L334.92 1617.43L334.82 1618.43L334.67 1619.43L334.49 1620.43L334.29 1621.43L334.08 1622.43L333.85 1623.43L333.62 1624.43L333.37 1625.43L333.08 1626.43L332.73 1627.43L332.35 1628.43L331.93 1629.43L331.49 1630.43L331.02 1631.43L330.55 1632.43L330.07 1633.43L329.57 1634.43L329.04 1635.43L328.48 1636.43L327.89 1637.43L327.28 1638.43L326.64 1639.43L326 1640.43L325.35 1641.43L324.69 1642.43L324.02 1643.43L323.32 1644.43L322.61 1645.43L321.87 1646.43L321.13 1647.43L320.38 1648.43L319.63 1649.43L318.88 1650.43L318.14 1651.43L317.42 1652.43L316.71 1653.43L315.98 1654.43L315.26 1655.43L314.54 1656.43L313.82 1657.43L313.12 1658.43L312.44 1659.43L311.78 1660.43L311.14 1661.43L310.5 1662.43L309.87 1663.43L309.25 1664.43L308.65 1665.43L308.09 1666.43L307.58 1667.43L307.13 1668.43L306.72 1669.43L306.35 1670.43L306.01 1671.43L305.7 1672.43L305.43 1673.43L305.36 1673.75Z" fill="#dcbd8c"/>
<line x1="303.66" y1="1587.68" x2="333.91" y2="1587.68" stroke="#fff" stroke-width="4.6" stroke-dasharray="5.2 3.2"/>
<line x1="303.66" y1="1611.25" x2="336.56" y2="1611.25" stroke="#fff" stroke-width="4.6" stroke-dasharray="10.9 3.9"/>
<line x1="303.66" y1="1631.79" x2="332.85" y2="1631.79" stroke="#fff" stroke-width="4.6" stroke-dasharray="5.2 3.2"/>
<g stroke="#000" stroke-width="2.8" fill="none">
<path d="M113.7 1490.3V1738.4H362.5" stroke-linecap="square"/>
<path d="M107.9 1707.7H113.7M107.9 1673.17H113.7M107.9 1638.64H113.7M107.9 1604.11H113.7M107.9 1569.58H113.7M107.9 1535.05H113.7M107.9 1500.52H113.7M175.9 1738.4V1744.2M300.9 1738.4V1744.2"/>
</g>
<g font-size="15.5" text-anchor="end">
<text x="103.3" y="1713.5">0</text>
<text x="103.3" y="1678.97">1</text>
<text x="103.3" y="1644.44">2</text>
<text x="103.3" y="1609.91">3</text>
<text x="103.3" y="1575.38">4</text>
<text x="103.3" y="1540.85">5</text>
<text x="103.3" y="1506.32">6</text>
</g>
<text x="238.7" y="1481.9" font-size="18.3" text-anchor="middle">Naive(MP4)</text>
<text transform="translate(175.7 1533.4)" font-size="15.28" color="#e2231a"><tspan x="-62" y="-0.46" font-style="italic">p</tspan><tspan x="-49.35" y="-0.46">=</tspan><tspan x="-33.6" y="-0.46">3.09</tspan><tspan x="3.33" y="-0.46">×</tspan><tspan x="19.08" y="-0.46">10</tspan><tspan x="38.62" y="-6.2" font-size="10.7">−</tspan><tspan x="47.57" y="-6.2" font-size="10.7">43</tspan></text>
<text transform="translate(300.7 1533.4)" font-size="15.28" color="#e2231a"><tspan x="-58.5" y="-0.6" font-style="italic">p</tspan><tspan x="-45.85" y="-0.6">=</tspan><tspan x="-30.1" y="-0.6">2.53</tspan><tspan x="6.83" y="-0.6">×</tspan><tspan x="22.58" y="-0.6">10</tspan><tspan x="42.12" y="-6.34" font-size="10.7">−</tspan><tspan x="51.07" y="-6.34" font-size="10.7">5</tspan></text>
<g transform="translate(167.6 1762.9) rotate(-20)" font-size="18.3" text-anchor="end"><text x="0" y="0">favorable response</text><text x="0" y="21.7">(RCB 0-I)</text></g>
<g transform="translate(292.6 1762.9) rotate(-20)" font-size="18.3" text-anchor="end"><text x="0" y="0">unfavorable response</text><text x="0" y="21.7">(RCB II-III)</text></g>
<path d="M470.18 1636.25L470.18 1636.25L469.84 1637.25L469.46 1638.25L469.05 1639.25L468.61 1640.25L468.13 1641.25L467.55 1642.25L466.93 1643.25L466.31 1644.25L465.75 1645.25L465.28 1646.25L464.92 1647.25L464.6 1648.25L464.31 1649.25L464 1650.25L463.64 1651.25L463.23 1652.25L462.79 1653.25L462.29 1654.25L461.7 1655.25L460.96 1656.25L459.92 1657.25L458.61 1658.25L457.12 1659.25L455.39 1660.25L453.29 1661.25L451.08 1662.25L448.85 1663.25L446.5 1664.25L444.29 1665.25L442.43 1666.25L440.72 1667.25L439.17 1668.25L437.81 1669.25L436.68 1670.25L435.71 1671.25L434.84 1672.25L434.05 1673.25L433.32 1674.25L432.58 1675.25L431.77 1676.25L431 1677.25L430.38 1678.25L430.03 1679.25L430.05 1680.25L430.31 1681.25L430.71 1682.25L431.22 1683.25L432.07 1684.25L433.16 1685.25L434.34 1686.25L435.47 1687.25L436.55 1688.25L437.65 1689.25L438.79 1690.25L439.99 1691.25L441.27 1692.25L442.67 1693.25L444.22 1694.25L445.87 1695.25L447.55 1696.25L449.23 1697.25L450.87 1698.25L452.51 1699.25L454.15 1700.25L455.82 1701.25L457.52 1702.25L459.27 1703.25L461.14 1704.25L463.04 1705.25L464.84 1706.25L466.43 1707.25L467.9 1708.25L469.25 1709.25L470.18 1710Z" fill="#2a1f15"/>
<line x1="439.81" y1="1666.61" x2="470.68" y2="1666.61" stroke="#fff" stroke-width="4.6" stroke-dasharray="5.2 3.2"/>
<line x1="428.39" y1="1678.21" x2="470.68" y2="1678.21" stroke="#fff" stroke-width="4.6" stroke-dasharray="10.9 3.9"/>
<line x1="433.93" y1="1687.68" x2="470.68" y2="1687.68" stroke="#fff" stroke-width="4.6" stroke-dasharray="5.2 3.2"/>
<path d="M479.64 1590.71L479.64 1590.71L480.21 1591.71L480.77 1592.71L481.33 1593.71L481.88 1594.71L482.43 1595.71L482.97 1596.71L483.5 1597.71L484.02 1598.71L484.52 1599.71L485.02 1600.71L485.51 1601.71L486 1602.71L486.48 1603.71L486.97 1604.71L487.46 1605.71L487.97 1606.71L488.48 1607.71L489 1608.71L489.54 1609.71L490.07 1610.71L490.6 1611.71L491.14 1612.71L491.68 1613.71L492.23 1614.71L492.79 1615.71L493.37 1616.71L493.96 1617.71L494.56 1618.71L495.19 1619.71L495.84 1620.71L496.52 1621.71L497.29 1622.71L498.12 1623.71L498.97 1624.71L499.83 1625.71L500.65 1626.71L501.42 1627.71L502.09 1628.71L502.66 1629.71L503.2 1630.71L503.72 1631.71L504.21 1632.71L504.66 1633.71L505.07 1634.71L505.44 1635.71L505.77 1636.71L506.05 1637.71L506.34 1638.71L506.61 1639.71L506.88 1640.71L507.12 1641.71L507.33 1642.71L507.5 1643.71L507.62 1644.71L507.67 1645.71L507.67 1646.71L507.63 1647.71L507.57 1648.71L507.48 1649.71L507.39 1650.71L507.31 1651.71L507.23 1652.71L507.17 1653.71L507.14 1654.71L507.16 1655.71L507.23 1656.71L507.35 1657.71L507.51 1658.71L507.69 1659.71L507.9 1660.71L508.12 1661.71L508.36 1662.71L508.69 1663.71L509.09 1664.71L509.55 1665.71L510.03 1666.71L510.53 1667.71L511 1668.71L511.44 1669.71L511.97 1670.71L512.54 1671.71L513.08 1672.71L513.54 1673.71L513.84 1674.71L513.93 1675.71L513.87 1676.71L513.74 1677.71L513.56 1678.71L513.33 1679.71L513.08 1680.71L512.78 1681.71L512.34 1682.71L511.78 1683.71L511.13 1684.71L510.41 1685.71L509.64 1686.71L508.83 1687.71L507.99 1688.71L507.02 1689.71L505.93 1690.71L504.75 1691.71L503.5 1692.71L502.19 1693.71L500.83 1694.71L499.29 1695.71L497.63 1696.71L495.95 1697.71L494.34 1698.71L492.79 1699.71L491.23 1700.71L489.71 1701.71L488.27 1702.71L486.97 1703.71L485.77 1704.71L484.66 1705.71L483.62 1706.71L482.64 1707.71L481.72 1708.71L480.86 1709.71L480.05 1710.71L479.64 1711.25Z" fill="#dcbd8c"/>
<line x1="477.94" y1="1633.04" x2="506.36" y2="1633.04" stroke="#fff" stroke-width="4.6" stroke-dasharray="5.2 3.2"/>
<line x1="477.94" y1="1656.79" x2="509.24" y2="1656.79" stroke="#fff" stroke-width="4.6" stroke-dasharray="10.9 3.9"/>
<line x1="477.94" y1="1679.11" x2="515.47" y2="1679.11" stroke="#fff" stroke-width="4.6" stroke-dasharray="5.2 3.2"/>
<path d="M595.18 1613.04L595.18 1613.04L594.78 1614.04L594.37 1615.04L593.94 1616.04L593.51 1617.04L593.07 1618.04L592.61 1619.04L592.14 1620.04L591.64 1621.04L591.12 1622.04L590.59 1623.04L590.07 1624.04L589.57 1625.04L589.1 1626.04L588.66 1627.04L588.22 1628.04L587.78 1629.04L587.36 1630.04L586.97 1631.04L586.63 1632.04L586.36 1633.04L586.17 1634.04L586.02 1635.04L585.9 1636.04L585.8 1637.04L585.7 1638.04L585.59 1639.04L585.46 1640.04L585.3 1641.04L585.12 1642.04L584.93 1643.04L584.71 1644.04L584.46 1645.04L584.18 1646.04L583.86 1647.04L583.5 1648.04L583.01 1649.04L582.38 1650.04L581.66 1651.04L580.9 1652.04L580.13 1653.04L579.37 1654.04L578.56 1655.04L577.72 1656.04L576.85 1657.04L575.99 1658.04L575.14 1659.04L574.26 1660.04L573.36 1661.04L572.46 1662.04L571.59 1663.04L570.77 1664.04L570.02 1665.04L569.28 1666.04L568.53 1667.04L567.81 1668.04L567.14 1669.04L566.55 1670.04L566.06 1671.04L565.69 1672.04L565.4 1673.04L565.12 1674.04L564.87 1675.04L564.67 1676.04L564.53 1677.04L564.47 1678.04L564.52 1679.04L564.71 1680.04L565.02 1681.04L565.42 1682.04L565.88 1683.04L566.39 1684.04L566.95 1685.04L567.73 1686.04L568.71 1687.04L569.83 1688.04L571.02 1689.04L572.23 1690.04L573.57 1691.04L575.06 1692.04L576.63 1693.04L578.23 1694.04L579.78 1695.04L581.3 1696.04L582.85 1697.04L584.39 1698.04L585.9 1699.04L587.35 1700.04L588.7 1701.04L589.98 1702.04L591.21 1703.04L592.41 1704.04L593.59 1705.04L594.74 1706.04L595.18 1706.43Z" fill="#2a1f15"/>
<line x1="580.29" y1="1650.18" x2="595.68" y2="1650.18" stroke="#fff" stroke-width="4.6" stroke-dasharray="5.2 3.2"/>
<line x1="565.57" y1="1668.39" x2="595.68" y2="1668.39" stroke="#fff" stroke-width="4.6" stroke-dasharray="10.9 3.9"/>
<line x1="563.97" y1="1683.21" x2="595.68" y2="1683.21" stroke="#fff" stroke-width="4.6" stroke-dasharray="5.2 3.2"/>
<path d="M604.46 1591.61L604.46 1591.61L604.78 1592.61L605.13 1593.61L605.5 1594.61L605.89 1595.61L606.3 1596.61L606.74 1597.61L607.19 1598.61L607.66 1599.61L608.16 1600.61L608.7 1601.61L609.27 1602.61L609.86 1603.61L610.48 1604.61L611.12 1605.61L611.76 1606.61L612.41 1607.61L613.06 1608.61L613.72 1609.61L614.4 1610.61L615.09 1611.61L615.8 1612.61L616.51 1613.61L617.23 1614.61L617.94 1615.61L618.66 1616.61L619.36 1617.61L620.11 1618.61L620.91 1619.61L621.72 1620.61L622.5 1621.61L623.21 1622.61L623.82 1623.61L624.27 1624.61L624.63 1625.61L624.99 1626.61L625.32 1627.61L625.62 1628.61L625.89 1629.61L626.12 1630.61L626.29 1631.61L626.39 1632.61L626.43 1633.61L626.43 1634.61L626.43 1635.61L626.43 1636.61L626.43 1637.61L626.43 1638.61L626.43 1639.61L626.43 1640.61L626.43 1641.61L626.43 1642.61L626.5 1643.61L626.66 1644.61L626.89 1645.61L627.19 1646.61L627.51 1647.61L627.86 1648.61L628.2 1649.61L628.56 1650.61L628.99 1651.61L629.46 1652.61L629.97 1653.61L630.51 1654.61L631.09 1655.61L631.68 1656.61L632.3 1657.61L632.98 1658.61L633.71 1659.61L634.48 1660.61L635.27 1661.61L636.08 1662.61L636.88 1663.61L637.71 1664.61L638.63 1665.61L639.58 1666.61L640.52 1667.61L641.39 1668.61L642.14 1669.61L642.75 1670.61L643.35 1671.61L643.91 1672.61L644.39 1673.61L644.71 1674.61L644.82 1675.61L644.68 1676.61L644.35 1677.61L643.86 1678.61L643.29 1679.61L642.67 1680.61L642.01 1681.61L641.15 1682.61L640.14 1683.61L639.04 1684.61L637.88 1685.61L636.73 1686.61L635.52 1687.61L634.23 1688.61L632.87 1689.61L631.46 1690.61L630 1691.61L628.44 1692.61L626.75 1693.61L625.02 1694.61L623.29 1695.61L621.63 1696.61L620.08 1697.61L618.56 1698.61L617.06 1699.61L615.61 1700.61L614.22 1701.61L612.9 1702.61L611.67 1703.61L610.49 1704.61L609.37 1705.61L608.31 1706.61L607.34 1707.61L606.45 1708.61L605.63 1709.61L604.9 1710.61L604.46 1711.25Z" fill="#dcbd8c"/>
<line x1="602.76" y1="1633.57" x2="628.43" y2="1633.57" stroke="#fff" stroke-width="4.6" stroke-dasharray="5.2 3.2"/>
<line x1="602.76" y1="1663.93" x2="639.14" y2="1663.93" stroke="#fff" stroke-width="4.6" stroke-dasharray="10.9 3.9"/>
<line x1="602.76" y1="1678.75" x2="645.78" y2="1678.75" stroke="#fff" stroke-width="4.6" stroke-dasharray="5.2 3.2"/>
<g stroke="#000" stroke-width="2.8" fill="none">
<path d="M412.7 1490.3V1738.4H661.5" stroke-linecap="square"/>
<path d="M406.9 1707.7H412.7M406.9 1673.17H412.7M406.9 1638.64H412.7M406.9 1604.11H412.7M406.9 1569.58H412.7M406.9 1535.05H412.7M406.9 1500.52H412.7M475 1738.4V1744.2M600 1738.4V1744.2"/>
</g>
<text x="537.7" y="1481.9" font-size="18.3" text-anchor="middle">Cytotoxic(MP1)</text>
<text transform="translate(474.8 1533.4)" font-size="15.28" color="#e2231a"><tspan x="-62" y="-0.46" font-style="italic">p</tspan><tspan x="-49.35" y="-0.46">=</tspan><tspan x="-33.6" y="-0.46">4.91</tspan><tspan x="3.33" y="-0.46">×</tspan><tspan x="19.08" y="-0.46">10</tspan><tspan x="38.62" y="-6.2" font-size="10.7">−</tspan><tspan x="47.57" y="-6.2" font-size="10.7">27</tspan></text>
<text transform="translate(599.8 1531.2)" font-size="15.28" color="#e2231a"><tspan x="-36.5" y="-0.86" font-style="italic">p</tspan><tspan x="-23.85" y="-0.86">=</tspan><tspan x="-8.1" y="-0.86">0.010</tspan></text>
<g transform="translate(466.7 1762.9) rotate(-20)" font-size="18.3" text-anchor="end"><text x="0" y="0">favorable response</text><text x="0" y="21.7">(RCB 0-I)</text></g>
<g transform="translate(591.7 1762.9) rotate(-20)" font-size="18.3" text-anchor="end"><text x="0" y="0">unfavorable response</text><text x="0" y="21.7">(RCB II-III)</text></g>
<path d="M769.64 1605L769.64 1605L769.53 1606L769.41 1607L769.28 1608L769.14 1609L769 1610L768.85 1611L768.7 1612L768.54 1613L768.38 1614L768.21 1615L768.04 1616L767.85 1617L767.66 1618L767.46 1619L767.25 1620L767.04 1621L766.81 1622L766.57 1623L766.33 1624L766.07 1625L765.8 1626L765.52 1627L765.22 1628L764.9 1629L764.57 1630L764.22 1631L763.85 1632L763.44 1633L763 1634L762.52 1635L762.01 1636L761.47 1637L760.9 1638L760.31 1639L759.67 1640L758.95 1641L758.19 1642L757.4 1643L756.6 1644L755.81 1645L755.05 1646L754.33 1647L753.61 1648L752.89 1649L752.18 1650L751.48 1651L750.77 1652L750.05 1653L749.32 1654L748.59 1655L747.87 1656L747.15 1657L746.46 1658L745.78 1659L745.11 1660L744.44 1661L743.79 1662L743.15 1663L742.55 1664L741.98 1665L741.46 1666L740.94 1667L740.42 1668L739.91 1669L739.45 1670L739.06 1671L738.75 1672L738.55 1673L738.4 1674L738.26 1675L738.15 1676L738.07 1677L738.04 1678L738.1 1679L738.34 1680L738.72 1681L739.22 1682L739.8 1683L740.42 1684L741.11 1685L742.07 1686L743.26 1687L744.58 1688L745.92 1689L747.18 1690L748.43 1691L749.69 1692L750.98 1693L752.29 1694L753.6 1695L754.91 1696L756.23 1697L757.58 1698L758.94 1699L760.29 1700L761.6 1701L762.87 1702L764.13 1703L765.36 1704L766.53 1705L767.61 1706L768.58 1707L769.46 1708L769.64 1708.21Z" fill="#2a1f15"/>
<line x1="751.33" y1="1648.39" x2="770.14" y2="1648.39" stroke="#fff" stroke-width="4.6" stroke-dasharray="5.2 3.2"/>
<line x1="738.86" y1="1667.14" x2="770.14" y2="1667.14" stroke="#fff" stroke-width="4.6" stroke-dasharray="10.9 3.9"/>
<line x1="737.4" y1="1682.32" x2="770.14" y2="1682.32" stroke="#fff" stroke-width="4.6" stroke-dasharray="5.2 3.2"/>
<path d="M779.11 1619.29L779.11 1619.29L779.33 1620.29L779.59 1621.29L779.86 1622.29L780.16 1623.29L780.48 1624.29L780.81 1625.29L781.16 1626.29L781.55 1627.29L781.98 1628.29L782.42 1629.29L782.88 1630.29L783.34 1631.29L783.8 1632.29L784.26 1633.29L784.72 1634.29L785.2 1635.29L785.69 1636.29L786.21 1637.29L786.77 1638.29L787.36 1639.29L788 1640.29L788.7 1641.29L789.43 1642.29L790.2 1643.29L791 1644.29L791.83 1645.29L792.68 1646.29L793.57 1647.29L794.49 1648.29L795.46 1649.29L796.46 1650.29L797.51 1651.29L798.59 1652.29L799.73 1653.29L800.98 1654.29L802.36 1655.29L803.78 1656.29L805.17 1657.29L806.45 1658.29L807.61 1659.29L808.78 1660.29L809.89 1661.29L810.89 1662.29L811.73 1663.29L812.35 1664.29L812.91 1665.29L813.41 1666.29L813.77 1667.29L813.93 1668.29L813.84 1669.29L813.57 1670.29L813.15 1671.29L812.63 1672.29L812.05 1673.29L811.46 1674.29L810.86 1675.29L810.15 1676.29L809.35 1677.29L808.47 1678.29L807.52 1679.29L806.53 1680.29L805.51 1681.29L804.47 1682.29L803.33 1683.29L802.11 1684.29L800.83 1685.29L799.51 1686.29L798.19 1687.29L796.89 1688.29L795.62 1689.29L794.34 1690.29L793.05 1691.29L791.75 1692.29L790.47 1693.29L789.23 1694.29L788.03 1695.29L786.91 1696.29L785.85 1697.29L784.85 1698.29L783.87 1699.29L782.91 1700.29L781.93 1701.29L780.93 1702.29L779.93 1703.29L779.11 1704.11Z" fill="#dcbd8c"/>
<line x1="777.41" y1="1650.54" x2="798.72" y2="1650.54" stroke="#fff" stroke-width="4.6" stroke-dasharray="5.2 3.2"/>
<line x1="777.41" y1="1665.18" x2="814.85" y2="1665.18" stroke="#fff" stroke-width="4.6" stroke-dasharray="10.9 3.9"/>
<line x1="777.41" y1="1678.21" x2="810.53" y2="1678.21" stroke="#fff" stroke-width="4.6" stroke-dasharray="5.2 3.2"/>
<path d="M894.29 1612.14L894.29 1612.14L894.23 1613.14L894.13 1614.14L893.99 1615.14L893.83 1616.14L893.64 1617.14L893.44 1618.14L893.22 1619.14L892.95 1620.14L892.62 1621.14L892.25 1622.14L891.83 1623.14L891.39 1624.14L890.91 1625.14L890.39 1626.14L889.8 1627.14L889.12 1628.14L888.37 1629.14L887.57 1630.14L886.73 1631.14L885.84 1632.14L884.93 1633.14L883.94 1634.14L882.87 1635.14L881.73 1636.14L880.52 1637.14L879.25 1638.14L877.92 1639.14L876.4 1640.14L874.74 1641.14L873.04 1642.14L871.44 1643.14L870 1644.14L868.61 1645.14L867.27 1646.14L865.97 1647.14L864.7 1648.14L863.43 1649.14L862.15 1650.14L860.88 1651.14L859.7 1652.14L858.64 1653.14L857.67 1654.14L856.73 1655.14L855.89 1656.14L855.24 1657.14L854.83 1658.14L854.48 1659.14L854.22 1660.14L854.11 1661.14L854.27 1662.14L854.77 1663.14L855.5 1664.14L856.32 1665.14L857.16 1666.14L858.22 1667.14L859.46 1668.14L860.79 1669.14L862.1 1670.14L863.38 1671.14L864.71 1672.14L866.05 1673.14L867.41 1674.14L868.76 1675.14L870.1 1676.14L871.46 1677.14L872.83 1678.14L874.17 1679.14L875.48 1680.14L876.74 1681.14L877.96 1682.14L879.16 1683.14L880.33 1684.14L881.46 1685.14L882.55 1686.14L883.57 1687.14L884.55 1688.14L885.48 1689.14L886.38 1690.14L887.25 1691.14L888.09 1692.14L888.91 1693.14L889.71 1694.14L890.49 1695.14L891.24 1696.14L891.97 1697.14L892.68 1698.14L893.37 1699.14L894.03 1700.14L894.29 1700.54Z" fill="#2a1f15"/>
<line x1="866.08" y1="1645.54" x2="894.79" y2="1645.54" stroke="#fff" stroke-width="4.6" stroke-dasharray="5.2 3.2"/>
<line x1="852.67" y1="1658.57" x2="894.79" y2="1658.57" stroke="#fff" stroke-width="4.6" stroke-dasharray="10.9 3.9"/>
<line x1="860.14" y1="1670.18" x2="894.79" y2="1670.18" stroke="#fff" stroke-width="4.6" stroke-dasharray="5.2 3.2"/>
<path d="M903.75 1617.5L903.75 1617.5L904.43 1618.5L905.14 1619.5L905.87 1620.5L906.62 1621.5L907.4 1622.5L908.2 1623.5L909.02 1624.5L909.87 1625.5L910.74 1626.5L911.63 1627.5L912.54 1628.5L913.46 1629.5L914.39 1630.5L915.32 1631.5L916.26 1632.5L917.21 1633.5L918.2 1634.5L919.23 1635.5L920.33 1636.5L921.5 1637.5L922.82 1638.5L924.24 1639.5L925.73 1640.5L927.24 1641.5L928.73 1642.5L930.15 1643.5L931.52 1644.5L932.88 1645.5L934.22 1646.5L935.54 1647.5L936.83 1648.5L938.13 1649.5L939.49 1650.5L940.8 1651.5L941.9 1652.5L942.7 1653.5L943.39 1654.5L943.96 1655.5L944.27 1656.5L944.18 1657.5L943.72 1658.5L943.03 1659.5L942.22 1660.5L941.4 1661.5L940.48 1662.5L939.38 1663.5L938.17 1664.5L936.86 1665.5L935.5 1666.5L934.05 1667.5L932.44 1668.5L930.72 1669.5L928.95 1670.5L927.21 1671.5L925.53 1672.5L923.86 1673.5L922.18 1674.5L920.51 1675.5L918.85 1676.5L917.21 1677.5L915.55 1678.5L913.89 1679.5L912.27 1680.5L910.76 1681.5L909.36 1682.5L908.02 1683.5L906.8 1684.5L905.76 1685.5L904.86 1686.5L904.1 1687.5L903.75 1688.04Z" fill="#dcbd8c"/>
<line x1="902.05" y1="1642.86" x2="931.25" y2="1642.86" stroke="#fff" stroke-width="4.6" stroke-dasharray="5.2 3.2"/>
<line x1="902.05" y1="1652.86" x2="944.23" y2="1652.86" stroke="#fff" stroke-width="4.6" stroke-dasharray="10.9 3.9"/>
<line x1="902.05" y1="1663.93" x2="940.88" y2="1663.93" stroke="#fff" stroke-width="4.6" stroke-dasharray="5.2 3.2"/>
<g stroke="#000" stroke-width="2.8" fill="none">
<path d="M712.1 1490.3V1738.4H960.9" stroke-linecap="square"/>
<path d="M706.3 1707.7H712.1M706.3 1673.17H712.1M706.3 1638.64H712.1M706.3 1604.11H712.1M706.3 1569.58H712.1M706.3 1535.05H712.1M706.3 1500.52H712.1M774.3 1738.4V1744.2M899.3 1738.4V1744.2"/>
</g>
<text x="837.1" y="1481.9" font-size="18.3" text-anchor="middle">Exhausted(MP3)</text>
<text transform="translate(774.1 1531.2)" font-size="15.28" color="#808080"><tspan x="-36.5" y="-0.86" font-style="italic">p</tspan><tspan x="-23.85" y="-0.86">=</tspan><tspan x="-8.1" y="-0.86">0.315</tspan></text>
<text transform="translate(899.1 1531.2)" font-size="15.28" color="#808080"><tspan x="-36.5" y="-0.86" font-style="italic">p</tspan><tspan x="-23.85" y="-0.86">=</tspan><tspan x="-8.1" y="-0.86">0.098</tspan></text>
<g transform="translate(766 1762.9) rotate(-20)" font-size="18.3" text-anchor="end"><text x="0" y="0">favorable response</text><text x="0" y="21.7">(RCB 0-I)</text></g>
<g transform="translate(891 1762.9) rotate(-20)" font-size="18.3" text-anchor="end"><text x="0" y="0">unfavorable response</text><text x="0" y="21.7">(RCB II-III)</text></g>
<text transform="translate(63 1614.5) rotate(-90)" font-size="18.3" text-anchor="middle">Signature score</text>
<text transform="translate(83.2 1614.5) rotate(-90)" font-size="18.3" text-anchor="middle">(VISION)</text>
<rect x="81" y="1393.2" width="29.6" height="7.8" fill="#2a1f15"/>
<text font-size="16.9"><tspan x="126.2" y="1393.9">Baseline</tspan><tspan x="126.2" y="1412.7">Pre-treatment</tspan></text>
<rect x="281" y="1393.2" width="29.6" height="7.8" fill="#dcbd8c"/>
<text font-size="16.9"><tspan x="326.2" y="1393.9">W3D1</tspan><tspan x="326.2" y="1412.7">On chemotherapy</tspan></text>
<path d="M211.79 1937.5L211.79 1937.5L211.65 1938.5L211.47 1939.5L211.25 1940.5L210.99 1941.5L210.7 1942.5L210.38 1943.5L210.05 1944.5L209.69 1945.5L209.27 1946.5L208.79 1947.5L208.27 1948.5L207.69 1949.5L207.06 1950.5L206.39 1951.5L205.67 1952.5L204.87 1953.5L203.91 1954.5L202.84 1955.5L201.68 1956.5L200.45 1957.5L199.18 1958.5L197.91 1959.5L196.61 1960.5L195.2 1961.5L193.71 1962.5L192.21 1963.5L190.73 1964.5L189.32 1965.5L188.03 1966.5L186.76 1967.5L185.53 1968.5L184.34 1969.5L183.22 1970.5L182.19 1971.5L181.27 1972.5L180.4 1973.5L179.55 1974.5L178.76 1975.5L178.05 1976.5L177.45 1977.5L176.99 1978.5L176.64 1979.5L176.35 1980.5L176.11 1981.5L175.88 1982.5L175.67 1983.5L175.46 1984.5L175.23 1985.5L174.99 1986.5L174.78 1987.5L174.57 1988.5L174.36 1989.5L174.13 1990.5L173.86 1991.5L173.53 1992.5L173.09 1993.5L172.45 1994.5L171.63 1995.5L170.68 1996.5L169.67 1997.5L168.63 1998.5L167.62 1999.5L166.68 2000.5L165.76 2001.5L164.83 2002.5L163.88 2003.5L162.89 2004.5L161.86 2005.5L160.75 2006.5L159.56 2007.5L158.23 2008.5L156.78 2009.5L155.25 2010.5L153.66 2011.5L152.06 2012.5L150.49 2013.5L148.96 2014.5L147.41 2015.5L145.82 2016.5L144.23 2017.5L142.66 2018.5L141.16 2019.5L139.75 2020.5L138.49 2021.5L137.31 2022.5L136.19 2023.5L135.13 2024.5L134.12 2025.5L133.17 2026.5L132.29 2027.5L131.48 2028.5L130.71 2029.5L129.95 2030.5L129.23 2031.5L128.58 2032.5L128.03 2033.5L127.6 2034.5L127.3 2035.5L127.02 2036.5L126.8 2037.5L126.65 2038.5L126.61 2039.5L126.73 2040.5L126.99 2041.5L127.35 2042.5L127.78 2043.5L128.26 2044.5L128.73 2045.5L129.24 2046.5L129.82 2047.5L130.49 2048.5L131.23 2049.5L132.05 2050.5L132.95 2051.5L133.93 2052.5L135.02 2053.5L136.31 2054.5L137.78 2055.5L139.42 2056.5L141.19 2057.5L143.08 2058.5L145.15 2059.5L147.6 2060.5L150.35 2061.5L153.22 2062.5L156.08 2063.5L158.77 2064.5L161.37 2065.5L163.93 2066.5L166.48 2067.5L169.03 2068.5L171.59 2069.5L174.19 2070.5L176.88 2071.5L179.66 2072.5L182.44 2073.5L185.13 2074.5L187.65 2075.5L189.96 2076.5L192.21 2077.5L194.39 2078.5L196.46 2079.5L198.37 2080.5L200.09 2081.5L201.58 2082.5L202.93 2083.5L204.17 2084.5L205.31 2085.5L206.37 2086.5L207.37 2087.5L208.31 2088.5L209.21 2089.5L210.05 2090.5L210.83 2091.5L211.55 2092.5L211.79 2092.86Z" fill="#2a1f15"/>
<line x1="161.46" y1="2003.93" x2="212.29" y2="2003.93" stroke="#fff" stroke-width="4.6" stroke-dasharray="5.2 3.2"/>
<line x1="128.06" y1="2030.36" x2="212.29" y2="2030.36" stroke="#fff" stroke-width="4.6" stroke-dasharray="10.9 3.9"/>
<line x1="130.4" y1="2050.89" x2="212.29" y2="2050.89" stroke="#fff" stroke-width="4.6" stroke-dasharray="5.2 3.2"/>
<path d="M226.07 1935.71L226.07 1935.71L226.08 1936.71L226.1 1937.71L226.13 1938.71L226.16 1939.71L226.21 1940.71L226.27 1941.71L226.33 1942.71L226.4 1943.71L226.47 1944.71L226.55 1945.71L226.63 1946.71L226.73 1947.71L226.87 1948.71L227.02 1949.71L227.21 1950.71L227.41 1951.71L227.64 1952.71L227.9 1953.71L228.21 1954.71L228.6 1955.71L229.06 1956.71L229.58 1957.71L230.16 1958.71L230.78 1959.71L231.43 1960.71L232.18 1961.71L233.06 1962.71L234.05 1963.71L235.12 1964.71L236.22 1965.71L237.34 1966.71L238.42 1967.71L239.48 1968.71L240.57 1969.71L241.68 1970.71L242.8 1971.71L243.92 1972.71L245.05 1973.71L246.18 1974.71L247.3 1975.71L248.41 1976.71L249.49 1977.71L250.57 1978.71L251.65 1979.71L252.74 1980.71L253.85 1981.71L254.99 1982.71L256.17 1983.71L257.4 1984.71L258.68 1985.71L260 1986.71L261.35 1987.71L262.71 1988.71L264.09 1989.71L265.46 1990.71L266.81 1991.71L268.16 1992.71L269.56 1993.71L270.97 1994.71L272.39 1995.71L273.78 1996.71L275.12 1997.71L276.38 1998.71L277.55 1999.71L278.59 2000.71L279.53 2001.71L280.39 2002.71L281.21 2003.71L282.02 2004.71L282.84 2005.71L283.72 2006.71L284.67 2007.71L285.72 2008.71L286.83 2009.71L288 2010.71L289.23 2011.71L290.52 2012.71L291.86 2013.71L293.26 2014.71L294.75 2015.71L296.46 2016.71L298.32 2017.71L300.21 2018.71L302.03 2019.71L303.66 2020.71L305 2021.71L306.2 2022.71L307.31 2023.71L308.32 2024.71L309.21 2025.71L309.95 2026.71L310.63 2027.71L311.27 2028.71L311.69 2029.71L311.76 2030.71L311.44 2031.71L310.83 2032.71L310.05 2033.71L309.2 2034.71L308.19 2035.71L306.83 2036.71L305.25 2037.71L303.54 2038.71L301.83 2039.71L300.2 2040.71L298.52 2041.71L296.79 2042.71L295.02 2043.71L293.23 2044.71L291.44 2045.71L289.65 2046.71L287.88 2047.71L286.13 2048.71L284.39 2049.71L282.64 2050.71L280.89 2051.71L279.12 2052.71L277.32 2053.71L275.49 2054.71L273.61 2055.71L271.68 2056.71L269.71 2057.71L267.71 2058.71L265.68 2059.71L263.64 2060.71L261.6 2061.71L259.58 2062.71L257.57 2063.71L255.51 2064.71L253.43 2065.71L251.34 2066.71L249.28 2067.71L247.28 2068.71L245.39 2069.71L243.62 2070.71L241.93 2071.71L240.29 2072.71L238.71 2073.71L237.19 2074.71L235.76 2075.71L234.41 2076.71L233.17 2077.71L232 2078.71L230.86 2079.71L229.81 2080.71L228.87 2081.71L228.08 2082.71L227.43 2083.71L226.86 2084.71L226.39 2085.71L226.07 2086.61Z" fill="#dcbd8c"/>
<line x1="224.37" y1="2002.14" x2="281.9" y2="2002.14" stroke="#fff" stroke-width="4.6" stroke-dasharray="5.2 3.2"/>
<line x1="224.37" y1="2025" x2="310.59" y2="2025" stroke="#fff" stroke-width="4.6" stroke-dasharray="10.9 3.9"/>
<line x1="224.37" y1="2041.61" x2="300.7" y2="2041.61" stroke="#fff" stroke-width="4.6" stroke-dasharray="5.2 3.2"/>
<g stroke="#000" stroke-width="2.8" fill="none">
<path d="M94.8 1869.8V2117.3H343.6" stroke-linecap="square"/>
<path d="M89 2113.53H94.8M89 2077.1H94.8M89 2040.67H94.8M89 2004.24H94.8M89 1967.81H94.8M89 1931.38H94.8M89 1894.95H94.8M218.9 2117.3V2123.1"/>
</g>
<g font-size="15.5" text-anchor="end">
<text x="84.4" y="2119.33">−1</text>
<text x="84.4" y="2082.9">0</text>
<text x="84.4" y="2046.47">1</text>
<text x="84.4" y="2010.04">2</text>
<text x="84.4" y="1973.61">3</text>
<text x="84.4" y="1937.18">4</text>
<text x="84.4" y="1900.75">5</text>
</g>
<text x="219.8" y="1860.5" font-size="18.3" text-anchor="middle">Naive(MP4)</text>
<text transform="translate(218.7 1889.5)" font-size="15.28" color="#808080"><tspan x="-36.5" y="-0.86" font-style="italic">p</tspan><tspan x="-23.85" y="-0.86">=</tspan><tspan x="-8.1" y="-0.86">0.062</tspan></text>
<g transform="translate(210.6 2141.8) rotate(-20)" font-size="18.3" text-anchor="end"><text x="0" y="0">unfavorable response</text><text x="0" y="21.7">(RCB II-III)</text></g>
<path d="M510.89 1975.89L510.89 1975.89L510.72 1976.89L510.52 1977.89L510.29 1978.89L510.03 1979.89L509.76 1980.89L509.46 1981.89L509.15 1982.89L508.82 1983.89L508.45 1984.89L508.04 1985.89L507.6 1986.89L507.13 1987.89L506.65 1988.89L506.14 1989.89L505.63 1990.89L505.1 1991.89L504.54 1992.89L503.95 1993.89L503.33 1994.89L502.69 1995.89L502.01 1996.89L501.3 1997.89L500.57 1998.89L499.8 1999.89L498.99 2000.89L498.14 2001.89L497.24 2002.89L496.3 2003.89L495.3 2004.89L494.24 2005.89L493.08 2006.89L491.82 2007.89L490.49 2008.89L489.13 2009.89L487.76 2010.89L486.4 2011.89L485.01 2012.89L483.59 2013.89L482.15 2014.89L480.7 2015.89L479.24 2016.89L477.81 2017.89L476.35 2018.89L474.88 2019.89L473.4 2020.89L471.95 2021.89L470.54 2022.89L469.2 2023.89L467.95 2024.89L466.74 2025.89L465.58 2026.89L464.46 2027.89L463.36 2028.89L462.28 2029.89L461.23 2030.89L460.24 2031.89L459.29 2032.89L458.37 2033.89L457.42 2034.89L456.42 2035.89L455.35 2036.89L454.16 2037.89L452.87 2038.89L451.49 2039.89L450.03 2040.89L448.48 2041.89L446.88 2042.89L445.21 2043.89L443.49 2044.89L441.55 2045.89L439.44 2046.89L437.29 2047.89L435.23 2048.89L433.39 2049.89L431.63 2050.89L429.77 2051.89L428.16 2052.89L427.14 2053.89L426.99 2054.89L427.26 2055.89L427.72 2056.89L428.54 2057.89L430.17 2058.89L432.39 2059.89L434.93 2060.89L437.56 2061.89L440.78 2062.89L444.53 2063.89L448.46 2064.89L452.23 2065.89L455.64 2066.89L458.91 2067.89L462.13 2068.89L465.39 2069.89L468.8 2070.89L472.46 2071.89L476.48 2072.89L480.67 2073.89L484.78 2074.89L488.57 2075.89L492.17 2076.89L495.71 2077.89L498.98 2078.89L501.78 2079.89L503.99 2080.89L506 2081.89L507.8 2082.89L509.32 2083.89L510.49 2084.89L510.89 2085.36Z" fill="#2a1f15"/>
<line x1="462.1" y1="2028.21" x2="511.39" y2="2028.21" stroke="#fff" stroke-width="4.6" stroke-dasharray="5.2 3.2"/>
<line x1="436.51" y1="2047.32" x2="511.39" y2="2047.32" stroke="#fff" stroke-width="4.6" stroke-dasharray="10.9 3.9"/>
<line x1="429.39" y1="2059.46" x2="511.39" y2="2059.46" stroke="#fff" stroke-width="4.6" stroke-dasharray="5.2 3.2"/>
<path d="M525.54 1966.07L525.54 1966.07L526.07 1967.07L526.62 1968.07L527.19 1969.07L527.76 1970.07L528.35 1971.07L528.95 1972.07L529.55 1973.07L530.21 1974.07L530.94 1975.07L531.71 1976.07L532.48 1977.07L533.23 1978.07L533.91 1979.07L534.49 1980.07L534.94 1981.07L535.25 1982.07L535.51 1983.07L535.72 1984.07L535.91 1985.07L536.09 1986.07L536.28 1987.07L536.48 1988.07L536.73 1989.07L537.01 1990.07L537.29 1991.07L537.59 1992.07L537.93 1993.07L538.31 1994.07L538.75 1995.07L539.26 1996.07L539.91 1997.07L540.86 1998.07L542.07 1999.07L543.46 2000.07L544.97 2001.07L546.54 2002.07L548.14 2003.07L549.92 2004.07L551.89 2005.07L553.98 2006.07L556.12 2007.07L558.24 2008.07L560.29 2009.07L562.31 2010.07L564.36 2011.07L566.41 2012.07L568.43 2013.07L570.4 2014.07L572.3 2015.07L574.12 2016.07L575.87 2017.07L577.57 2018.07L579.25 2019.07L580.92 2020.07L582.6 2021.07L584.31 2022.07L585.99 2023.07L587.66 2024.07L589.34 2025.07L591.05 2026.07L592.82 2027.07L594.68 2028.07L596.74 2029.07L598.91 2030.07L601.05 2031.07L603.02 2032.07L604.7 2033.07L606.22 2034.07L607.69 2035.07L608.94 2036.07L609.8 2037.07L610.19 2038.07L610.48 2039.07L610.71 2040.07L610.85 2041.07L610.89 2042.07L610.8 2043.07L610.58 2044.07L610.25 2045.07L609.83 2046.07L609.34 2047.07L608.8 2048.07L608.23 2049.07L607.57 2050.07L606.72 2051.07L605.68 2052.07L604.46 2053.07L603.08 2054.07L601.54 2055.07L599.67 2056.07L597.11 2057.07L594.1 2058.07L590.91 2059.07L587.81 2060.07L584.62 2061.07L581.3 2062.07L577.89 2063.07L574.46 2064.07L571.07 2065.07L567.71 2066.07L564.32 2067.07L560.93 2068.07L557.58 2069.07L554.33 2070.07L551.16 2071.07L547.94 2072.07L544.78 2073.07L541.83 2074.07L539.23 2075.07L537.03 2076.07L535.02 2077.07L533.2 2078.07L531.54 2079.07L530.04 2080.07L528.68 2081.07L527.45 2082.07L526.35 2083.07L525.54 2083.93Z" fill="#dcbd8c"/>
<line x1="523.84" y1="2018.75" x2="580.71" y2="2018.75" stroke="#fff" stroke-width="4.6" stroke-dasharray="5.2 3.2"/>
<line x1="523.84" y1="2037.14" x2="611.84" y2="2037.14" stroke="#fff" stroke-width="4.6" stroke-dasharray="10.9 3.9"/>
<line x1="523.84" y1="2052.68" x2="606.96" y2="2052.68" stroke="#fff" stroke-width="4.6" stroke-dasharray="5.2 3.2"/>
<g stroke="#000" stroke-width="2.8" fill="none">
<path d="M393.6 1869.8V2117.3H642.4" stroke-linecap="square"/>
<path d="M387.8 2113.53H393.6M387.8 2077.1H393.6M387.8 2040.67H393.6M387.8 2004.24H393.6M387.8 1967.81H393.6M387.8 1931.38H393.6M387.8 1894.95H393.6M518 2117.3V2123.1"/>
</g>
<text x="518.6" y="1860.5" font-size="18.3" text-anchor="middle">Cytotoxic(MP1)</text>
<text transform="translate(517.8 1889.5)" font-size="15.28" color="#e2231a"><tspan x="-36.5" y="-0.86" font-style="italic">p</tspan><tspan x="-23.85" y="-0.86">=</tspan><tspan x="-8.1" y="-0.86">0.002</tspan></text>
<g transform="translate(509.7 2141.8) rotate(-20)" font-size="18.3" text-anchor="end"><text x="0" y="0">unfavorable response</text><text x="0" y="21.7">(RCB II-III)</text></g>
<path d="M810.36 1987.5L810.36 1987.5L809.95 1988.5L809.45 1989.5L808.89 1990.5L808.26 1991.5L807.58 1992.5L806.83 1993.5L805.99 1994.5L805.04 1995.5L804.01 1996.5L802.92 1997.5L801.78 1998.5L800.6 1999.5L799.35 2000.5L798.02 2001.5L796.61 2002.5L795.12 2003.5L793.55 2004.5L791.9 2005.5L790.12 2006.5L788.19 2007.5L786.15 2008.5L784.04 2009.5L781.89 2010.5L779.68 2011.5L777.33 2012.5L774.92 2013.5L772.51 2014.5L770.19 2015.5L768.01 2016.5L765.9 2017.5L763.85 2018.5L761.86 2019.5L759.94 2020.5L758.08 2021.5L756.32 2022.5L754.64 2023.5L753.01 2024.5L751.39 2025.5L749.76 2026.5L748.1 2027.5L746.43 2028.5L744.76 2029.5L743.1 2030.5L741.43 2031.5L739.76 2032.5L738.09 2033.5L736.41 2034.5L734.73 2035.5L733.07 2036.5L731.43 2037.5L729.49 2038.5L727.43 2039.5L725.98 2040.5L725.76 2041.5L726.21 2042.5L727.04 2043.5L728.14 2044.5L729.63 2045.5L732.54 2046.5L736.14 2047.5L739.46 2048.5L742.54 2049.5L745.64 2050.5L748.84 2051.5L752.23 2052.5L755.95 2053.5L760.05 2054.5L764.26 2055.5L768.32 2056.5L771.98 2057.5L775.5 2058.5L778.87 2059.5L781.98 2060.5L784.73 2061.5L787.14 2062.5L789.35 2063.5L791.38 2064.5L793.25 2065.5L794.97 2066.5L796.54 2067.5L798.02 2068.5L799.4 2069.5L800.7 2070.5L801.9 2071.5L803.01 2072.5L804.03 2073.5L804.98 2074.5L805.86 2075.5L806.68 2076.5L807.45 2077.5L808.16 2078.5L808.83 2079.5L809.45 2080.5L810.02 2081.5L810.36 2082.14Z" fill="#2a1f15"/>
<line x1="756.21" y1="2021.43" x2="810.86" y2="2021.43" stroke="#fff" stroke-width="4.6" stroke-dasharray="5.2 3.2"/>
<line x1="730.89" y1="2036.61" x2="810.86" y2="2036.61" stroke="#fff" stroke-width="4.6" stroke-dasharray="10.9 3.9"/>
<line x1="736.57" y1="2048.21" x2="810.86" y2="2048.21" stroke="#fff" stroke-width="4.6" stroke-dasharray="5.2 3.2"/>
<path d="M824.64 1914.29L824.64 1914.29L824.96 1915.29L825.28 1916.29L825.57 1917.29L825.86 1918.29L826.13 1919.29L826.37 1920.29L826.6 1921.29L826.8 1922.29L826.98 1923.29L827.13 1924.29L827.29 1925.29L827.43 1926.29L827.56 1927.29L827.69 1928.29L827.8 1929.29L827.91 1930.29L828.01 1931.29L828.1 1932.29L828.17 1933.29L828.24 1934.29L828.29 1935.29L828.34 1936.29L828.39 1937.29L828.43 1938.29L828.46 1939.29L828.5 1940.29L828.53 1941.29L828.57 1942.29L828.6 1943.29L828.64 1944.29L828.69 1945.29L828.74 1946.29L828.8 1947.29L828.86 1948.29L828.92 1949.29L828.99 1950.29L829.06 1951.29L829.13 1952.29L829.22 1953.29L829.31 1954.29L829.42 1955.29L829.53 1956.29L829.66 1957.29L829.83 1958.29L830.05 1959.29L830.31 1960.29L830.61 1961.29L830.94 1962.29L831.29 1963.29L831.65 1964.29L832.03 1965.29L832.4 1966.29L832.81 1967.29L833.25 1968.29L833.73 1969.29L834.23 1970.29L834.76 1971.29L835.3 1972.29L835.84 1973.29L836.39 1974.29L836.94 1975.29L837.51 1976.29L838.11 1977.29L838.73 1978.29L839.35 1979.29L839.98 1980.29L840.6 1981.29L841.2 1982.29L841.78 1983.29L842.34 1984.29L842.85 1985.29L843.34 1986.29L843.82 1987.29L844.28 1988.29L844.75 1989.29L845.24 1990.29L845.74 1991.29L846.28 1992.29L846.86 1993.29L847.46 1994.29L848.08 1995.29L848.72 1996.29L849.4 1997.29L850.1 1998.29L850.84 1999.29L851.61 2000.29L852.43 2001.29L853.3 2002.29L854.22 2003.29L855.2 2004.29L856.25 2005.29L857.36 2006.29L858.53 2007.29L859.76 2008.29L861.06 2009.29L862.44 2010.29L863.96 2011.29L865.62 2012.29L867.39 2013.29L869.23 2014.29L871.11 2015.29L873.01 2016.29L874.89 2017.29L876.82 2018.29L878.81 2019.29L880.83 2020.29L882.87 2021.29L884.91 2022.29L886.93 2023.29L888.97 2024.29L891.06 2025.29L893.15 2026.29L895.2 2027.29L897.16 2028.29L898.98 2029.29L900.71 2030.29L902.45 2031.29L904.11 2032.29L905.59 2033.29L906.81 2034.29L907.72 2035.29L908.56 2036.29L909.29 2037.29L909.8 2038.29L910 2039.29L909.81 2040.29L909.31 2041.29L908.59 2042.29L907.74 2043.29L906.75 2044.29L905.27 2045.29L903.39 2046.29L901.29 2047.29L899.13 2048.29L896.78 2049.29L894.15 2050.29L891.36 2051.29L888.52 2052.29L885.76 2053.29L883.14 2054.29L880.55 2055.29L877.98 2056.29L875.42 2057.29L872.86 2058.29L870.3 2059.29L867.73 2060.29L865.12 2061.29L862.5 2062.29L859.89 2063.29L857.31 2064.29L854.79 2065.29L852.34 2066.29L849.91 2067.29L847.49 2068.29L845.11 2069.29L842.83 2070.29L840.66 2071.29L838.64 2072.29L836.73 2073.29L834.88 2074.29L833.14 2075.29L831.54 2076.29L830.13 2077.29L828.93 2078.29L827.81 2079.29L826.79 2080.29L825.88 2081.29L825.12 2082.29L824.64 2083.04Z" fill="#dcbd8c"/>
<line x1="822.94" y1="2008.04" x2="861.45" y2="2008.04" stroke="#fff" stroke-width="4.6" stroke-dasharray="5.2 3.2"/>
<line x1="822.94" y1="2032.14" x2="905.88" y2="2032.14" stroke="#fff" stroke-width="4.6" stroke-dasharray="10.9 3.9"/>
<line x1="822.94" y1="2046.07" x2="905.82" y2="2046.07" stroke="#fff" stroke-width="4.6" stroke-dasharray="5.2 3.2"/>
<g stroke="#000" stroke-width="2.8" fill="none">
<path d="M692.7 1869.8V2117.3H941.5" stroke-linecap="square"/>
<path d="M686.9 2113.53H692.7M686.9 2077.1H692.7M686.9 2040.67H692.7M686.9 2004.24H692.7M686.9 1967.81H692.7M686.9 1931.38H692.7M686.9 1894.95H692.7M817.1 2117.3V2123.1"/>
</g>
<text x="817.7" y="1860.5" font-size="18.3" text-anchor="middle">Exhausted(MP3)</text>
<text transform="translate(816.9 1889.5)" font-size="15.28" color="#e2231a"><tspan x="-36.5" y="-0.86" font-style="italic">p</tspan><tspan x="-23.85" y="-0.86">=</tspan><tspan x="-8.1" y="-0.86">0.001</tspan></text>
<g transform="translate(808.8 2141.8) rotate(-20)" font-size="18.3" text-anchor="end"><text x="0" y="0">unfavorable response</text><text x="0" y="21.7">(RCB II-III)</text></g>
<text transform="translate(30.8 1994) rotate(-90)" font-size="18.3" text-anchor="middle">Signature score</text>
<text transform="translate(51.7 1994) rotate(-90)" font-size="18.3" text-anchor="middle">(VISION)</text>
<rect x="81" y="2277.2" width="29.6" height="7.8" fill="#2a1f15"/>
<text font-size="16.9"><tspan x="126.2" y="2277.9">Baseline</tspan><tspan x="126.2" y="2296.7">Pre-treatment</tspan></text>
<rect x="281" y="2277.2" width="29.6" height="7.8" fill="#dcbd8c"/>
<text font-size="16.9"><tspan x="326.2" y="2277.9">W3D1</tspan><tspan x="326.2" y="2296.7">On Pembro</tspan></text>
<path d="M1125.61 1587.14L1125.61 1587.14L1125.52 1588.14L1125.38 1589.14L1125.2 1590.14L1124.99 1591.14L1124.75 1592.14L1124.49 1593.14L1124.22 1594.14L1123.91 1595.14L1123.55 1596.14L1123.13 1597.14L1122.66 1598.14L1122.14 1599.14L1121.59 1600.14L1121.01 1601.14L1120.39 1602.14L1119.76 1603.14L1119.08 1604.14L1118.31 1605.14L1117.47 1606.14L1116.58 1607.14L1115.64 1608.14L1114.67 1609.14L1113.68 1610.14L1112.68 1611.14L1111.62 1612.14L1110.46 1613.14L1109.23 1614.14L1107.99 1615.14L1106.79 1616.14L1105.69 1617.14L1104.74 1618.14L1103.96 1619.14L1103.26 1620.14L1102.63 1621.14L1102.04 1622.14L1101.47 1623.14L1100.9 1624.14L1100.31 1625.14L1099.69 1626.14L1099.04 1627.14L1098.38 1628.14L1097.72 1629.14L1097.08 1630.14L1096.47 1631.14L1095.89 1632.14L1095.37 1633.14L1094.89 1634.14L1094.43 1635.14L1094 1636.14L1093.58 1637.14L1093.17 1638.14L1092.74 1639.14L1092.3 1640.14L1091.83 1641.14L1091.34 1642.14L1090.83 1643.14L1090.31 1644.14L1089.8 1645.14L1089.29 1646.14L1088.8 1647.14L1088.33 1648.14L1087.8 1649.14L1087.23 1650.14L1086.68 1651.14L1086.22 1652.14L1085.9 1653.14L1085.79 1654.14L1085.83 1655.14L1085.95 1656.14L1086.12 1657.14L1086.34 1658.14L1086.59 1659.14L1086.92 1660.14L1087.47 1661.14L1088.18 1662.14L1088.97 1663.14L1089.76 1664.14L1090.47 1665.14L1091.14 1666.14L1091.8 1667.14L1092.47 1668.14L1093.17 1669.14L1093.94 1670.14L1094.78 1671.14L1095.74 1672.14L1096.81 1673.14L1097.98 1674.14L1099.19 1675.14L1100.42 1676.14L1101.64 1677.14L1102.85 1678.14L1104.1 1679.14L1105.37 1680.14L1106.65 1681.14L1107.92 1682.14L1109.18 1683.14L1110.4 1684.14L1111.59 1685.14L1112.75 1686.14L1113.9 1687.14L1115.04 1688.14L1116.16 1689.14L1117.25 1690.14L1118.33 1691.14L1119.39 1692.14L1120.44 1693.14L1121.48 1694.14L1122.48 1695.14L1123.44 1696.14L1124.33 1697.14L1125.14 1698.14L1125.61 1698.75Z" fill="#dcbd8c"/>
<line x1="1096.57" y1="1627.86" x2="1126.11" y2="1627.86" stroke="#fff" stroke-width="4.6" stroke-dasharray="5.2 3.2"/>
<line x1="1086.2" y1="1648.39" x2="1126.11" y2="1648.39" stroke="#fff" stroke-width="4.6" stroke-dasharray="10.9 3.9"/>
<line x1="1088.85" y1="1665.71" x2="1126.11" y2="1665.71" stroke="#fff" stroke-width="4.6" stroke-dasharray="5.2 3.2"/>
<path d="M1135.25 1588.04L1135.25 1588.04L1135.42 1589.04L1135.62 1590.04L1135.87 1591.04L1136.16 1592.04L1136.47 1593.04L1136.81 1594.04L1137.18 1595.04L1137.56 1596.04L1137.97 1597.04L1138.43 1598.04L1138.95 1599.04L1139.51 1600.04L1140.12 1601.04L1140.77 1602.04L1141.46 1603.04L1142.19 1604.04L1142.96 1605.04L1143.84 1606.04L1144.87 1607.04L1146 1608.04L1147.21 1609.04L1148.44 1610.04L1149.65 1611.04L1150.8 1612.04L1151.86 1613.04L1152.82 1614.04L1153.73 1615.04L1154.6 1616.04L1155.46 1617.04L1156.31 1618.04L1157.17 1619.04L1158.05 1620.04L1158.97 1621.04L1159.92 1622.04L1160.9 1623.04L1161.91 1624.04L1162.92 1625.04L1163.94 1626.04L1164.95 1627.04L1165.96 1628.04L1167 1629.04L1168.11 1630.04L1169.24 1631.04L1170.33 1632.04L1171.3 1633.04L1172.11 1634.04L1172.73 1635.04L1173.31 1636.04L1173.83 1637.04L1174.3 1638.04L1174.68 1639.04L1174.95 1640.04L1175.11 1641.04L1175.23 1642.04L1175.34 1643.04L1175.43 1644.04L1175.51 1645.04L1175.57 1646.04L1175.6 1647.04L1175.61 1648.04L1175.58 1649.04L1175.53 1650.04L1175.45 1651.04L1175.35 1652.04L1175.22 1653.04L1175.08 1654.04L1174.85 1655.04L1174.44 1656.04L1173.88 1657.04L1173.21 1658.04L1172.45 1659.04L1171.63 1660.04L1170.79 1661.04L1169.87 1662.04L1168.76 1663.04L1167.49 1664.04L1166.11 1665.04L1164.68 1666.04L1163.23 1667.04L1161.79 1668.04L1160.25 1669.04L1158.63 1670.04L1156.98 1671.04L1155.36 1672.04L1153.8 1673.04L1152.35 1674.04L1150.94 1675.04L1149.56 1676.04L1148.22 1677.04L1146.95 1678.04L1145.76 1679.04L1144.68 1680.04L1143.7 1681.04L1142.79 1682.04L1141.94 1683.04L1141.12 1684.04L1140.33 1685.04L1139.53 1686.04L1138.73 1687.04L1137.94 1688.04L1137.17 1689.04L1136.41 1690.04L1135.67 1691.04L1135.25 1691.61Z" fill="#6d7b52"/>
<line x1="1133.55" y1="1626.43" x2="1166.34" y2="1626.43" stroke="#fff" stroke-width="4.6" stroke-dasharray="5.2 3.2"/>
<line x1="1133.55" y1="1642.5" x2="1177.29" y2="1642.5" stroke="#fff" stroke-width="4.6" stroke-dasharray="10.9 3.9"/>
<line x1="1133.55" y1="1658.21" x2="1175.08" y2="1658.21" stroke="#fff" stroke-width="4.6" stroke-dasharray="5.2 3.2"/>
<path d="M1250.43 1560.36L1250.43 1560.36L1250.3 1561.36L1250.17 1562.36L1250.03 1563.36L1249.89 1564.36L1249.75 1565.36L1249.61 1566.36L1249.47 1567.36L1249.32 1568.36L1249.17 1569.36L1249.01 1570.36L1248.85 1571.36L1248.68 1572.36L1248.51 1573.36L1248.34 1574.36L1248.16 1575.36L1247.99 1576.36L1247.82 1577.36L1247.66 1578.36L1247.49 1579.36L1247.34 1580.36L1247.19 1581.36L1247.06 1582.36L1246.93 1583.36L1246.81 1584.36L1246.69 1585.36L1246.56 1586.36L1246.43 1587.36L1246.3 1588.36L1246.15 1589.36L1246 1590.36L1245.83 1591.36L1245.64 1592.36L1245.42 1593.36L1245.17 1594.36L1244.9 1595.36L1244.59 1596.36L1244.26 1597.36L1243.91 1598.36L1243.55 1599.36L1243.17 1600.36L1242.78 1601.36L1242.38 1602.36L1241.98 1603.36L1241.54 1604.36L1241.06 1605.36L1240.55 1606.36L1240.02 1607.36L1239.48 1608.36L1238.95 1609.36L1238.43 1610.36L1237.93 1611.36L1237.48 1612.36L1237.04 1613.36L1236.61 1614.36L1236.18 1615.36L1235.77 1616.36L1235.37 1617.36L1234.99 1618.36L1234.61 1619.36L1234.25 1620.36L1233.9 1621.36L1233.59 1622.36L1233.29 1623.36L1233.02 1624.36L1232.74 1625.36L1232.47 1626.36L1232.19 1627.36L1231.89 1628.36L1231.55 1629.36L1231.19 1630.36L1230.78 1631.36L1230.35 1632.36L1229.89 1633.36L1229.4 1634.36L1228.88 1635.36L1228.34 1636.36L1227.78 1637.36L1227.2 1638.36L1226.59 1639.36L1225.89 1640.36L1225.13 1641.36L1224.33 1642.36L1223.51 1643.36L1222.72 1644.36L1221.98 1645.36L1221.32 1646.36L1220.66 1647.36L1219.99 1648.36L1219.33 1649.36L1218.71 1650.36L1218.14 1651.36L1217.65 1652.36L1217.26 1653.36L1216.97 1654.36L1216.73 1655.36L1216.51 1656.36L1216.32 1657.36L1216.2 1658.36L1216.14 1659.36L1216.2 1660.36L1216.38 1661.36L1216.66 1662.36L1217 1663.36L1217.39 1664.36L1217.79 1665.36L1218.2 1666.36L1218.69 1667.36L1219.27 1668.36L1219.9 1669.36L1220.58 1670.36L1221.3 1671.36L1222.03 1672.36L1222.77 1673.36L1223.57 1674.36L1224.43 1675.36L1225.32 1676.36L1226.25 1677.36L1227.19 1678.36L1228.13 1679.36L1229.05 1680.36L1229.95 1681.36L1230.86 1682.36L1231.77 1683.36L1232.69 1684.36L1233.61 1685.36L1234.52 1686.36L1235.42 1687.36L1236.31 1688.36L1237.18 1689.36L1238.02 1690.36L1238.85 1691.36L1239.67 1692.36L1240.48 1693.36L1241.28 1694.36L1242.07 1695.36L1242.85 1696.36L1243.63 1697.36L1244.41 1698.36L1245.19 1699.36L1245.96 1700.36L1246.73 1701.36L1247.49 1702.36L1248.24 1703.36L1248.97 1704.36L1249.69 1705.36L1250.38 1706.36L1250.43 1706.43Z" fill="#dcbd8c"/>
<line x1="1232.19" y1="1620.54" x2="1250.93" y2="1620.54" stroke="#fff" stroke-width="4.6" stroke-dasharray="5.2 3.2"/>
<line x1="1216.61" y1="1650.54" x2="1250.93" y2="1650.54" stroke="#fff" stroke-width="4.6" stroke-dasharray="10.9 3.9"/>
<line x1="1216.58" y1="1667.14" x2="1250.93" y2="1667.14" stroke="#fff" stroke-width="4.6" stroke-dasharray="5.2 3.2"/>
<path d="M1259.89 1585.36L1259.89 1585.36L1260.22 1586.36L1260.56 1587.36L1260.92 1588.36L1261.3 1589.36L1261.69 1590.36L1262.09 1591.36L1262.51 1592.36L1262.95 1593.36L1263.41 1594.36L1263.9 1595.36L1264.41 1596.36L1264.93 1597.36L1265.45 1598.36L1265.97 1599.36L1266.49 1600.36L1267 1601.36L1267.5 1602.36L1268.02 1603.36L1268.53 1604.36L1269.05 1605.36L1269.57 1606.36L1270.08 1607.36L1270.59 1608.36L1271.09 1609.36L1271.57 1610.36L1272.04 1611.36L1272.49 1612.36L1272.92 1613.36L1273.34 1614.36L1273.75 1615.36L1274.14 1616.36L1274.53 1617.36L1274.92 1618.36L1275.3 1619.36L1275.69 1620.36L1276.07 1621.36L1276.46 1622.36L1276.85 1623.36L1277.24 1624.36L1277.62 1625.36L1277.99 1626.36L1278.35 1627.36L1278.69 1628.36L1279.02 1629.36L1279.33 1630.36L1279.63 1631.36L1279.93 1632.36L1280.22 1633.36L1280.51 1634.36L1280.8 1635.36L1281.09 1636.36L1281.39 1637.36L1281.68 1638.36L1281.96 1639.36L1282.24 1640.36L1282.52 1641.36L1282.81 1642.36L1283.11 1643.36L1283.42 1644.36L1283.75 1645.36L1284.1 1646.36L1284.47 1647.36L1284.86 1648.36L1285.27 1649.36L1285.7 1650.36L1286.16 1651.36L1286.64 1652.36L1287.16 1653.36L1287.72 1654.36L1288.4 1655.36L1289.2 1656.36L1290.07 1657.36L1290.93 1658.36L1291.74 1659.36L1292.44 1660.36L1292.98 1661.36L1293.44 1662.36L1293.89 1663.36L1294.28 1664.36L1294.57 1665.36L1294.71 1666.36L1294.66 1667.36L1294.42 1668.36L1294.03 1669.36L1293.53 1670.36L1292.96 1671.36L1292.34 1672.36L1291.7 1673.36L1290.84 1674.36L1289.8 1675.36L1288.61 1676.36L1287.35 1677.36L1286.05 1678.36L1284.78 1679.36L1283.57 1680.36L1282.33 1681.36L1281.05 1682.36L1279.75 1683.36L1278.46 1684.36L1277.19 1685.36L1275.97 1686.36L1274.83 1687.36L1273.75 1688.36L1272.69 1689.36L1271.66 1690.36L1270.66 1691.36L1269.69 1692.36L1268.73 1693.36L1267.8 1694.36L1266.87 1695.36L1265.97 1696.36L1265.1 1697.36L1264.25 1698.36L1263.41 1699.36L1262.58 1700.36L1261.74 1701.36L1260.9 1702.36L1260.07 1703.36L1259.89 1703.57Z" fill="#6d7b52"/>
<line x1="1258.19" y1="1628.21" x2="1280.64" y2="1628.21" stroke="#fff" stroke-width="4.6" stroke-dasharray="5.2 3.2"/>
<line x1="1258.19" y1="1654.11" x2="1289.57" y2="1654.11" stroke="#fff" stroke-width="4.6" stroke-dasharray="10.9 3.9"/>
<line x1="1258.19" y1="1670.18" x2="1295.63" y2="1670.18" stroke="#fff" stroke-width="4.6" stroke-dasharray="5.2 3.2"/>
<g stroke="#000" stroke-width="2.8" fill="none">
<path d="M1068.4 1490.3V1738.4H1317.2" stroke-linecap="square"/>
<path d="M1062.6 1736.37H1068.4M1062.6 1702.3H1068.4M1062.6 1668.23H1068.4M1062.6 1634.16H1068.4M1062.6 1600.09H1068.4M1062.6 1566.02H1068.4M1062.6 1531.95H1068.4M1062.6 1497.88H1068.4M1130.4 1738.4V1744.2M1255.4 1738.4V1744.2"/>
</g>
<g font-size="15.5" text-anchor="end">
<text x="1058" y="1742.17">−1</text>
<text x="1058" y="1708.1">0</text>
<text x="1058" y="1674.03">1</text>
<text x="1058" y="1639.96">2</text>
<text x="1058" y="1605.89">3</text>
<text x="1058" y="1571.82">4</text>
<text x="1058" y="1537.75">5</text>
<text x="1058" y="1503.68">6</text>
</g>
<text x="1193.4" y="1481.9" font-size="18.3" text-anchor="middle">Naive(MP4)</text>
<text transform="translate(1131 1528.2)" font-size="15.28" color="#808080"><tspan x="-36.5" y="-0.86" font-style="italic">p</tspan><tspan x="-23.85" y="-0.86">=</tspan><tspan x="-8.1" y="-0.86">1.000</tspan></text>
<text transform="translate(1256 1530.4)" font-size="15.28" color="#e2231a"><tspan x="-58" y="-0.6" font-style="italic">p</tspan><tspan x="-45.35" y="-0.6">=</tspan><tspan x="-29.6" y="-0.6">8.</tspan><tspan x="-16.17" y="-0.6">74</tspan><tspan x="6.2" y="-0.6">×</tspan><tspan x="21.95" y="-0.6">10</tspan><tspan x="41.5" y="-6.34" font-size="10.7">−</tspan><tspan x="50.44" y="-6.34" font-size="10.7">5</tspan></text>
<g transform="translate(1122.1 1762.9) rotate(-20)" font-size="18.3" text-anchor="end"><text x="0" y="0">favorable response</text><text x="0" y="21.7">(RCB 0-I)</text></g>
<g transform="translate(1247.1 1762.9) rotate(-20)" font-size="18.3" text-anchor="end"><text x="0" y="0">unfavorable response</text><text x="0" y="21.7">(RCB II-III)</text></g>
<path d="M1425.07 1596.96L1425.07 1596.96L1424.92 1597.96L1424.75 1598.96L1424.55 1599.96L1424.33 1600.96L1424.09 1601.96L1423.84 1602.96L1423.57 1603.96L1423.3 1604.96L1422.99 1605.96L1422.66 1606.96L1422.3 1607.96L1421.91 1608.96L1421.49 1609.96L1421.06 1610.96L1420.62 1611.96L1420.16 1612.96L1419.7 1613.96L1419.21 1614.96L1418.68 1615.96L1418.13 1616.96L1417.56 1617.96L1416.98 1618.96L1416.39 1619.96L1415.82 1620.96L1415.25 1621.96L1414.69 1622.96L1414.12 1623.96L1413.54 1624.96L1412.97 1625.96L1412.4 1626.96L1411.85 1627.96L1411.31 1628.96L1410.8 1629.96L1410.33 1630.96L1409.88 1631.96L1409.46 1632.96L1409.04 1633.96L1408.61 1634.96L1408.16 1635.96L1407.66 1636.96L1407.1 1637.96L1406.46 1638.96L1405.78 1639.96L1405.09 1640.96L1404.43 1641.96L1403.86 1642.96L1403.37 1643.96L1402.91 1644.96L1402.46 1645.96L1402.04 1646.96L1401.66 1647.96L1401.33 1648.96L1401.08 1649.96L1400.89 1650.96L1400.76 1651.96L1400.66 1652.96L1400.57 1653.96L1400.49 1654.96L1400.41 1655.96L1400.31 1656.96L1400.17 1657.96L1399.99 1658.96L1399.69 1659.96L1399.29 1660.96L1398.82 1661.96L1398.32 1662.96L1397.81 1663.96L1397.33 1664.96L1396.8 1665.96L1396.22 1666.96L1395.65 1667.96L1395.15 1668.96L1394.77 1669.96L1394.52 1670.96L1394.28 1671.96L1394.08 1672.96L1393.93 1673.96L1393.84 1674.96L1393.84 1675.96L1394 1676.96L1394.3 1677.96L1394.7 1678.96L1395.16 1679.96L1395.64 1680.96L1396.22 1681.96L1396.96 1682.96L1397.82 1683.96L1398.77 1684.96L1399.78 1685.96L1400.85 1686.96L1402.08 1687.96L1403.43 1688.96L1404.85 1689.96L1406.3 1690.96L1407.72 1691.96L1409.2 1692.96L1410.72 1693.96L1412.25 1694.96L1413.77 1695.96L1415.25 1696.96L1416.71 1697.96L1418.16 1698.96L1419.58 1699.96L1420.91 1700.96L1422.15 1701.96L1423.3 1702.96L1424.38 1703.96L1425.07 1704.64Z" fill="#dcbd8c"/>
<line x1="1404.49" y1="1638.93" x2="1425.57" y2="1638.93" stroke="#fff" stroke-width="4.6" stroke-dasharray="5.2 3.2"/>
<line x1="1397.54" y1="1660.36" x2="1425.57" y2="1660.36" stroke="#fff" stroke-width="4.6" stroke-dasharray="10.9 3.9"/>
<line x1="1392.4" y1="1678.21" x2="1425.57" y2="1678.21" stroke="#fff" stroke-width="4.6" stroke-dasharray="5.2 3.2"/>
<path d="M1434.36 1598.75L1434.36 1598.75L1434.64 1599.75L1434.96 1600.75L1435.31 1601.75L1435.71 1602.75L1436.13 1603.75L1436.58 1604.75L1437.06 1605.75L1437.55 1606.75L1438.09 1607.75L1438.69 1608.75L1439.33 1609.75L1440.03 1610.75L1440.75 1611.75L1441.51 1612.75L1442.28 1613.75L1443.06 1614.75L1443.85 1615.75L1444.65 1616.75L1445.49 1617.75L1446.36 1618.75L1447.25 1619.75L1448.16 1620.75L1449.09 1621.75L1450.02 1622.75L1450.96 1623.75L1451.99 1624.75L1453.12 1625.75L1454.28 1626.75L1455.39 1627.75L1456.34 1628.75L1457.08 1629.75L1457.58 1630.75L1458.01 1631.75L1458.39 1632.75L1458.73 1633.75L1459.03 1634.75L1459.31 1635.75L1459.57 1636.75L1459.82 1637.75L1460.08 1638.75L1460.35 1639.75L1460.62 1640.75L1460.88 1641.75L1461.12 1642.75L1461.34 1643.75L1461.51 1644.75L1461.62 1645.75L1461.68 1646.75L1461.67 1647.75L1461.63 1648.75L1461.56 1649.75L1461.47 1650.75L1461.36 1651.75L1461.24 1652.75L1461.1 1653.75L1460.96 1654.75L1460.81 1655.75L1460.63 1656.75L1460.41 1657.75L1460.14 1658.75L1459.83 1659.75L1459.5 1660.75L1459.15 1661.75L1458.8 1662.75L1458.46 1663.75L1458.13 1664.75L1457.8 1665.75L1457.46 1666.75L1457.11 1667.75L1456.75 1668.75L1456.4 1669.75L1456.06 1670.75L1455.75 1671.75L1455.46 1672.75L1455.21 1673.75L1454.99 1674.75L1454.79 1675.75L1454.6 1676.75L1454.41 1677.75L1454.2 1678.75L1453.96 1679.75L1453.69 1680.75L1453.36 1681.75L1452.97 1682.75L1452.53 1683.75L1452.03 1684.75L1451.49 1685.75L1450.9 1686.75L1450.26 1687.75L1449.54 1688.75L1448.65 1689.75L1447.64 1690.75L1446.56 1691.75L1445.45 1692.75L1444.37 1693.75L1443.36 1694.75L1442.38 1695.75L1441.42 1696.75L1440.45 1697.75L1439.45 1698.75L1438.42 1699.75L1437.33 1700.75L1436.17 1701.75L1434.94 1702.75L1434.36 1703.21Z" fill="#6d7b52"/>
<line x1="1432.66" y1="1632.32" x2="1460.24" y2="1632.32" stroke="#fff" stroke-width="4.6" stroke-dasharray="5.2 3.2"/>
<line x1="1432.66" y1="1651.43" x2="1463.4" y2="1651.43" stroke="#fff" stroke-width="4.6" stroke-dasharray="10.9 3.9"/>
<line x1="1432.66" y1="1671.96" x2="1457.68" y2="1671.96" stroke="#fff" stroke-width="4.6" stroke-dasharray="5.2 3.2"/>
<path d="M1549.71 1610.36L1549.71 1610.36L1549.51 1611.36L1549.3 1612.36L1549.06 1613.36L1548.81 1614.36L1548.55 1615.36L1548.27 1616.36L1547.98 1617.36L1547.68 1618.36L1547.37 1619.36L1547.04 1620.36L1546.69 1621.36L1546.31 1622.36L1545.91 1623.36L1545.5 1624.36L1545.08 1625.36L1544.64 1626.36L1544.2 1627.36L1543.76 1628.36L1543.31 1629.36L1542.85 1630.36L1542.38 1631.36L1541.89 1632.36L1541.38 1633.36L1540.83 1634.36L1540.25 1635.36L1539.62 1636.36L1538.93 1637.36L1538.19 1638.36L1537.42 1639.36L1536.63 1640.36L1535.82 1641.36L1535.01 1642.36L1534.19 1643.36L1533.36 1644.36L1532.5 1645.36L1531.63 1646.36L1530.74 1647.36L1529.83 1648.36L1528.91 1649.36L1527.97 1650.36L1526.99 1651.36L1526 1652.36L1524.99 1653.36L1523.96 1654.36L1522.94 1655.36L1521.93 1656.36L1520.92 1657.36L1519.9 1658.36L1518.87 1659.36L1517.84 1660.36L1516.83 1661.36L1515.84 1662.36L1514.88 1663.36L1513.96 1664.36L1512.97 1665.36L1511.97 1666.36L1511.06 1667.36L1510.33 1668.36L1509.87 1669.36L1509.57 1670.36L1509.31 1671.36L1509.11 1672.36L1509.01 1673.36L1509.05 1674.36L1509.34 1675.36L1509.83 1676.36L1510.45 1677.36L1511.15 1678.36L1511.86 1679.36L1512.75 1680.36L1513.84 1681.36L1515.08 1682.36L1516.41 1683.36L1517.78 1684.36L1519.22 1685.36L1520.82 1686.36L1522.51 1687.36L1524.27 1688.36L1526.04 1689.36L1527.8 1690.36L1529.61 1691.36L1531.46 1692.36L1533.32 1693.36L1535.17 1694.36L1537 1695.36L1538.86 1696.36L1540.74 1697.36L1542.56 1698.36L1544.26 1699.36L1545.81 1700.36L1547.27 1701.36L1548.63 1702.36L1549.71 1703.21Z" fill="#dcbd8c"/>
<line x1="1526.98" y1="1649.29" x2="1550.21" y2="1649.29" stroke="#fff" stroke-width="4.6" stroke-dasharray="5.2 3.2"/>
<line x1="1510.61" y1="1665.71" x2="1550.21" y2="1665.71" stroke="#fff" stroke-width="4.6" stroke-dasharray="10.9 3.9"/>
<line x1="1509.95" y1="1679.46" x2="1550.21" y2="1679.46" stroke="#fff" stroke-width="4.6" stroke-dasharray="5.2 3.2"/>
<path d="M1559 1614.82L1559 1614.82L1559.26 1615.82L1559.57 1616.82L1559.91 1617.82L1560.29 1618.82L1560.71 1619.82L1561.15 1620.82L1561.61 1621.82L1562.12 1622.82L1562.69 1623.82L1563.33 1624.82L1564 1625.82L1564.71 1626.82L1565.44 1627.82L1566.18 1628.82L1566.91 1629.82L1567.63 1630.82L1568.37 1631.82L1569.13 1632.82L1569.91 1633.82L1570.69 1634.82L1571.49 1635.82L1572.3 1636.82L1573.11 1637.82L1573.96 1638.82L1574.88 1639.82L1575.84 1640.82L1576.77 1641.82L1577.62 1642.82L1578.36 1643.82L1578.94 1644.82L1579.43 1645.82L1579.86 1646.82L1580.25 1647.82L1580.64 1648.82L1581.03 1649.82L1581.44 1650.82L1581.84 1651.82L1582.21 1652.82L1582.58 1653.82L1582.99 1654.82L1583.46 1655.82L1584.02 1656.82L1584.75 1657.82L1585.66 1658.82L1586.7 1659.82L1587.83 1660.82L1588.99 1661.82L1590.2 1662.82L1591.6 1663.82L1593.1 1664.82L1594.54 1665.82L1595.81 1666.82L1596.79 1667.82L1597.72 1668.82L1598.59 1669.82L1599.23 1670.82L1599.53 1671.82L1599.42 1672.82L1599.05 1673.82L1598.5 1674.82L1597.83 1675.82L1597.07 1676.82L1595.89 1677.82L1594.36 1678.82L1592.63 1679.82L1590.89 1680.82L1589.3 1681.82L1587.85 1682.82L1586.42 1683.82L1584.99 1684.82L1583.57 1685.82L1582.16 1686.82L1580.73 1687.82L1579.29 1688.82L1577.82 1689.82L1576.34 1690.82L1574.88 1691.82L1573.46 1692.82L1572.1 1693.82L1570.83 1694.82L1569.6 1695.82L1568.41 1696.82L1567.26 1697.82L1566.15 1698.82L1565.09 1699.82L1564.07 1700.82L1563.08 1701.82L1562.13 1702.82L1561.21 1703.82L1560.33 1704.82L1559.49 1705.82L1559 1706.43Z" fill="#6d7b52"/>
<line x1="1557.3" y1="1647.32" x2="1582.06" y2="1647.32" stroke="#fff" stroke-width="4.6" stroke-dasharray="5.2 3.2"/>
<line x1="1557.3" y1="1667.14" x2="1598.16" y2="1667.14" stroke="#fff" stroke-width="4.6" stroke-dasharray="10.9 3.9"/>
<line x1="1557.3" y1="1679.46" x2="1595.26" y2="1679.46" stroke="#fff" stroke-width="4.6" stroke-dasharray="5.2 3.2"/>
<g stroke="#000" stroke-width="2.8" fill="none">
<path d="M1367.4 1490.3V1738.4H1616.2" stroke-linecap="square"/>
<path d="M1361.6 1736.37H1367.4M1361.6 1702.3H1367.4M1361.6 1668.23H1367.4M1361.6 1634.16H1367.4M1361.6 1600.09H1367.4M1361.6 1566.02H1367.4M1361.6 1531.95H1367.4M1361.6 1497.88H1367.4M1429.7 1738.4V1744.2M1554.5 1738.4V1744.2"/>
</g>
<text x="1492.4" y="1481.9" font-size="18.3" text-anchor="middle">Cytotoxic(MP1)</text>
<text transform="translate(1430.3 1528.2)" font-size="15.28" color="#808080"><tspan x="-36" y="-0.86" font-style="italic">p</tspan><tspan x="-23.35" y="-0.86">=</tspan><tspan x="-7.6" y="-0.86">0.65</tspan><tspan x="25.48" y="-0.86">9</tspan></text>
<text transform="translate(1555.1 1528.2)" font-size="15.28" color="#808080"><tspan x="-36" y="-0.86" font-style="italic">p</tspan><tspan x="-23.35" y="-0.86">=</tspan><tspan x="-7.6" y="-0.86">0.5</tspan><tspan x="15.78" y="-0.86">94</tspan></text>
<g transform="translate(1421.4 1762.9) rotate(-20)" font-size="18.3" text-anchor="end"><text x="0" y="0">favorable response</text><text x="0" y="21.7">(RCB 0-I)</text></g>
<g transform="translate(1546.2 1762.9) rotate(-20)" font-size="18.3" text-anchor="end"><text x="0" y="0">unfavorable response</text><text x="0" y="21.7">(RCB II-III)</text></g>
<path d="M1724.54 1602.32L1724.54 1602.32L1724.38 1603.32L1724.21 1604.32L1724.02 1605.32L1723.82 1606.32L1723.6 1607.32L1723.37 1608.32L1723.13 1609.32L1722.88 1610.32L1722.61 1611.32L1722.34 1612.32L1722.06 1613.32L1721.75 1614.32L1721.42 1615.32L1721.08 1616.32L1720.72 1617.32L1720.34 1618.32L1719.94 1619.32L1719.53 1620.32L1719.1 1621.32L1718.66 1622.32L1718.19 1623.32L1717.69 1624.32L1717.15 1625.32L1716.6 1626.32L1716.01 1627.32L1715.41 1628.32L1714.79 1629.32L1714.15 1630.32L1713.47 1631.32L1712.76 1632.32L1712.02 1633.32L1711.25 1634.32L1710.46 1635.32L1709.66 1636.32L1708.86 1637.32L1708.04 1638.32L1707.22 1639.32L1706.38 1640.32L1705.51 1641.32L1704.62 1642.32L1703.69 1643.32L1702.71 1644.32L1701.67 1645.32L1700.56 1646.32L1699.4 1647.32L1698.21 1648.32L1697.02 1649.32L1695.85 1650.32L1694.69 1651.32L1693.48 1652.32L1692.27 1653.32L1691.07 1654.32L1689.94 1655.32L1688.9 1656.32L1687.95 1657.32L1686.93 1658.32L1685.93 1659.32L1685.09 1660.32L1684.52 1661.32L1684.36 1662.32L1684.4 1663.32L1684.5 1664.32L1684.65 1665.32L1684.84 1666.32L1685.14 1667.32L1685.78 1668.32L1686.65 1669.32L1687.67 1670.32L1688.72 1671.32L1689.71 1672.32L1690.74 1673.32L1691.86 1674.32L1693.02 1675.32L1694.22 1676.32L1695.43 1677.32L1696.63 1678.32L1697.83 1679.32L1699.04 1680.32L1700.26 1681.32L1701.51 1682.32L1702.77 1683.32L1704.06 1684.32L1705.38 1685.32L1706.75 1686.32L1708.17 1687.32L1709.62 1688.32L1711.09 1689.32L1712.54 1690.32L1713.96 1691.32L1715.33 1692.32L1716.68 1693.32L1718.02 1694.32L1719.34 1695.32L1720.65 1696.32L1721.97 1697.32L1723.28 1698.32L1724.54 1699.29Z" fill="#dcbd8c"/>
<line x1="1703.58" y1="1641.25" x2="1725.04" y2="1641.25" stroke="#fff" stroke-width="4.6" stroke-dasharray="5.2 3.2"/>
<line x1="1684.67" y1="1658.57" x2="1725.04" y2="1658.57" stroke="#fff" stroke-width="4.6" stroke-dasharray="10.9 3.9"/>
<line x1="1687.89" y1="1672.5" x2="1725.04" y2="1672.5" stroke="#fff" stroke-width="4.6" stroke-dasharray="5.2 3.2"/>
<path d="M1733.64 1621.96L1733.64 1621.96L1733.84 1622.96L1734.08 1623.96L1734.36 1624.96L1734.66 1625.96L1735 1626.96L1735.35 1627.96L1735.73 1628.96L1736.14 1629.96L1736.59 1630.96L1737.09 1631.96L1737.63 1632.96L1738.21 1633.96L1738.82 1634.96L1739.46 1635.96L1740.13 1636.96L1740.83 1637.96L1741.6 1638.96L1742.42 1639.96L1743.29 1640.96L1744.21 1641.96L1745.17 1642.96L1746.17 1643.96L1747.23 1644.96L1748.38 1645.96L1749.62 1646.96L1750.91 1647.96L1752.23 1648.96L1753.55 1649.96L1754.84 1650.96L1756.1 1651.96L1757.36 1652.96L1758.63 1653.96L1759.9 1654.96L1761.16 1655.96L1762.4 1656.96L1763.63 1657.96L1764.83 1658.96L1766.08 1659.96L1767.35 1660.96L1768.58 1661.96L1769.74 1662.96L1770.76 1663.96L1771.61 1664.96L1772.43 1665.96L1773.21 1666.96L1773.83 1667.96L1774.16 1668.96L1774.09 1669.96L1773.66 1670.96L1772.99 1671.96L1772.17 1672.96L1771.31 1673.96L1770.19 1674.96L1768.76 1675.96L1767.13 1676.96L1765.41 1677.96L1763.7 1678.96L1762 1679.96L1760.2 1680.96L1758.34 1681.96L1756.45 1682.96L1754.57 1683.96L1752.72 1684.96L1750.82 1685.96L1748.9 1686.96L1747.03 1687.96L1745.24 1688.96L1743.6 1689.96L1742.07 1690.96L1740.62 1691.96L1739.26 1692.96L1737.97 1693.96L1736.75 1694.96L1735.61 1695.96L1734.54 1696.96L1733.64 1697.86Z" fill="#6d7b52"/>
<line x1="1731.94" y1="1652.32" x2="1758.55" y2="1652.32" stroke="#fff" stroke-width="4.6" stroke-dasharray="5.2 3.2"/>
<line x1="1731.94" y1="1665.18" x2="1773.78" y2="1665.18" stroke="#fff" stroke-width="4.6" stroke-dasharray="10.9 3.9"/>
<line x1="1731.94" y1="1676.07" x2="1770.59" y2="1676.07" stroke="#fff" stroke-width="4.6" stroke-dasharray="5.2 3.2"/>
<path d="M1848.82 1580.89L1848.82 1580.89L1848.79 1581.89L1848.75 1582.89L1848.7 1583.89L1848.63 1584.89L1848.56 1585.89L1848.48 1586.89L1848.39 1587.89L1848.3 1588.89L1848.2 1589.89L1848.1 1590.89L1847.99 1591.89L1847.88 1592.89L1847.76 1593.89L1847.63 1594.89L1847.47 1595.89L1847.31 1596.89L1847.13 1597.89L1846.95 1598.89L1846.75 1599.89L1846.54 1600.89L1846.32 1601.89L1846.1 1602.89L1845.87 1603.89L1845.63 1604.89L1845.38 1605.89L1845.11 1606.89L1844.82 1607.89L1844.5 1608.89L1844.17 1609.89L1843.83 1610.89L1843.47 1611.89L1843.11 1612.89L1842.73 1613.89L1842.35 1614.89L1841.97 1615.89L1841.57 1616.89L1841.15 1617.89L1840.72 1618.89L1840.28 1619.89L1839.82 1620.89L1839.35 1621.89L1838.88 1622.89L1838.39 1623.89L1837.89 1624.89L1837.39 1625.89L1836.88 1626.89L1836.37 1627.89L1835.84 1628.89L1835.29 1629.89L1834.73 1630.89L1834.14 1631.89L1833.54 1632.89L1832.9 1633.89L1832.21 1634.89L1831.48 1635.89L1830.72 1636.89L1829.94 1637.89L1829.15 1638.89L1828.38 1639.89L1827.62 1640.89L1826.86 1641.89L1826.11 1642.89L1825.35 1643.89L1824.6 1644.89L1823.85 1645.89L1823.1 1646.89L1822.37 1647.89L1821.59 1648.89L1820.78 1649.89L1819.96 1650.89L1819.2 1651.89L1818.53 1652.89L1818.02 1653.89L1817.63 1654.89L1817.25 1655.89L1816.93 1656.89L1816.67 1657.89L1816.52 1658.89L1816.51 1659.89L1816.64 1660.89L1816.88 1661.89L1817.2 1662.89L1817.57 1663.89L1817.96 1664.89L1818.43 1665.89L1819.05 1666.89L1819.77 1667.89L1820.57 1668.89L1821.4 1669.89L1822.24 1670.89L1823.11 1671.89L1824.04 1672.89L1825.04 1673.89L1826.07 1674.89L1827.13 1675.89L1828.18 1676.89L1829.21 1677.89L1830.22 1678.89L1831.23 1679.89L1832.25 1680.89L1833.27 1681.89L1834.28 1682.89L1835.28 1683.89L1836.27 1684.89L1837.23 1685.89L1838.17 1686.89L1839.1 1687.89L1840 1688.89L1840.9 1689.89L1841.78 1690.89L1842.66 1691.89L1843.52 1692.89L1844.38 1693.89L1845.23 1694.89L1846.07 1695.89L1846.89 1696.89L1847.7 1697.89L1848.51 1698.89L1848.82 1699.29Z" fill="#dcbd8c"/>
<line x1="1831.45" y1="1633.04" x2="1849.32" y2="1633.04" stroke="#fff" stroke-width="4.6" stroke-dasharray="5.2 3.2"/>
<line x1="1816.08" y1="1653.75" x2="1849.32" y2="1653.75" stroke="#fff" stroke-width="4.6" stroke-dasharray="10.9 3.9"/>
<line x1="1818.16" y1="1668.39" x2="1849.32" y2="1668.39" stroke="#fff" stroke-width="4.6" stroke-dasharray="5.2 3.2"/>
<path d="M1858.11 1606.79L1858.11 1606.79L1858.2 1607.79L1858.31 1608.79L1858.44 1609.79L1858.59 1610.79L1858.75 1611.79L1858.93 1612.79L1859.12 1613.79L1859.31 1614.79L1859.52 1615.79L1859.74 1616.79L1859.96 1617.79L1860.2 1618.79L1860.48 1619.79L1860.78 1620.79L1861.1 1621.79L1861.44 1622.79L1861.79 1623.79L1862.16 1624.79L1862.53 1625.79L1862.91 1626.79L1863.3 1627.79L1863.69 1628.79L1864.08 1629.79L1864.47 1630.79L1864.89 1631.79L1865.31 1632.79L1865.75 1633.79L1866.22 1634.79L1866.71 1635.79L1867.23 1636.79L1867.78 1637.79L1868.38 1638.79L1869.03 1639.79L1869.73 1640.79L1870.49 1641.79L1871.29 1642.79L1872.13 1643.79L1873 1644.79L1873.91 1645.79L1874.9 1646.79L1876.04 1647.79L1877.27 1648.79L1878.53 1649.79L1879.74 1650.79L1880.82 1651.79L1881.73 1652.79L1882.61 1653.79L1883.46 1654.79L1884.25 1655.79L1884.93 1656.79L1885.48 1657.79L1885.85 1658.79L1886.16 1659.79L1886.45 1660.79L1886.7 1661.79L1886.91 1662.79L1887.08 1663.79L1887.18 1664.79L1887.21 1665.79L1887.19 1666.79L1887.12 1667.79L1887.01 1668.79L1886.88 1669.79L1886.71 1670.79L1886.53 1671.79L1886.34 1672.79L1886.14 1673.79L1885.9 1674.79L1885.6 1675.79L1885.24 1676.79L1884.81 1677.79L1884.33 1678.79L1883.78 1679.79L1883.18 1680.79L1882.38 1681.79L1881.26 1682.79L1879.92 1683.79L1878.46 1684.79L1876.96 1685.79L1875.54 1686.79L1874.24 1687.79L1872.94 1688.79L1871.63 1689.79L1870.33 1690.79L1869.05 1691.79L1867.78 1692.79L1866.55 1693.79L1865.32 1694.79L1864.1 1695.79L1862.91 1696.79L1861.79 1697.79L1860.75 1698.79L1859.8 1699.79L1858.92 1700.79L1858.11 1701.79Z" fill="#6d7b52"/>
<line x1="1856.41" y1="1647.5" x2="1877.7" y2="1647.5" stroke="#fff" stroke-width="4.6" stroke-dasharray="5.2 3.2"/>
<line x1="1856.41" y1="1663.04" x2="1888.96" y2="1663.04" stroke="#fff" stroke-width="4.6" stroke-dasharray="10.9 3.9"/>
<line x1="1856.41" y1="1678.21" x2="1886.61" y2="1678.21" stroke="#fff" stroke-width="4.6" stroke-dasharray="5.2 3.2"/>
<g stroke="#000" stroke-width="2.8" fill="none">
<path d="M1666.5 1490.3V1738.4H1915.3" stroke-linecap="square"/>
<path d="M1660.7 1736.37H1666.5M1660.7 1702.3H1666.5M1660.7 1668.23H1666.5M1660.7 1634.16H1666.5M1660.7 1600.09H1666.5M1660.7 1566.02H1666.5M1660.7 1531.95H1666.5M1660.7 1497.88H1666.5M1728.8 1738.4V1744.2M1853.6 1738.4V1744.2"/>
</g>
<text x="1791.5" y="1481.9" font-size="18.3" text-anchor="middle">Exhausted(MP3)</text>
<text transform="translate(1729.4 1530.4)" font-size="15.28" color="#e2231a"><tspan x="-62" y="-0.46" font-style="italic">p</tspan><tspan x="-49.35" y="-0.46">=</tspan><tspan x="-33.6" y="-0.46">5.49</tspan><tspan x="3.33" y="-0.46">×</tspan><tspan x="19.08" y="-0.46">10</tspan><tspan x="38.62" y="-6.2" font-size="10.7">−</tspan><tspan x="47.57" y="-6.2" font-size="10.7">26</tspan></text>
<text transform="translate(1854.2 1530.4)" font-size="15.28" color="#e2231a"><tspan x="-58.5" y="-0.46" font-style="italic">p</tspan><tspan x="-45.85" y="-0.46">=</tspan><tspan x="-30.1" y="-0.46">1.01</tspan><tspan x="6.83" y="-0.46">×</tspan><tspan x="22.58" y="-0.46">10</tspan><tspan x="42.12" y="-6.2" font-size="10.7">−</tspan><tspan x="51.07" y="-6.2" font-size="10.7">8</tspan></text>
<g transform="translate(1720.5 1762.9) rotate(-20)" font-size="18.3" text-anchor="end"><text x="0" y="0">favorable response</text><text x="0" y="21.7">(RCB 0-I)</text></g>
<g transform="translate(1845.3 1762.9) rotate(-20)" font-size="18.3" text-anchor="end"><text x="0" y="0">unfavorable response</text><text x="0" y="21.7">(RCB II-III)</text></g>
<text transform="translate(1004.2 1615.2) rotate(-90)" font-size="18.3" text-anchor="middle">Signature score</text>
<text transform="translate(1025 1615.2) rotate(-90)" font-size="18.3" text-anchor="middle">(VISION)</text>
<rect x="1083" y="1393.2" width="29.6" height="7.8" fill="#dcbd8c"/>
<text font-size="16.9"><tspan x="1128.2" y="1393.9">W3D1</tspan><tspan x="1128.2" y="1412.7">On monotherapy</tspan></text>
<rect x="1301.8" y="1393.2" width="29.6" height="7.8" fill="#6d7b52"/>
<text font-size="16.9"><tspan x="1347" y="1393.9">W7D1</tspan><tspan x="1347" y="1412.7">On combination</tspan></text>
<path d="M1142.5 1948.21L1142.5 1948.21L1142.34 1949.21L1142.15 1950.21L1141.93 1951.21L1141.69 1952.21L1141.42 1953.21L1141.13 1954.21L1140.82 1955.21L1140.49 1956.21L1140.15 1957.21L1139.77 1958.21L1139.34 1959.21L1138.85 1960.21L1138.33 1961.21L1137.79 1962.21L1137.24 1963.21L1136.69 1964.21L1136.15 1965.21L1135.64 1966.21L1135.1 1967.21L1134.53 1968.21L1133.95 1969.21L1133.39 1970.21L1132.88 1971.21L1132.46 1972.21L1132.14 1973.21L1131.91 1974.21L1131.71 1975.21L1131.54 1976.21L1131.39 1977.21L1131.25 1978.21L1131.11 1979.21L1130.98 1980.21L1130.85 1981.21L1130.7 1982.21L1130.56 1983.21L1130.44 1984.21L1130.32 1985.21L1130.2 1986.21L1130.08 1987.21L1129.95 1988.21L1129.8 1989.21L1129.63 1990.21L1129.43 1991.21L1129.19 1992.21L1128.88 1993.21L1128.53 1994.21L1128.14 1995.21L1127.71 1996.21L1127.26 1997.21L1126.79 1998.21L1126.26 1999.21L1125.67 2000.21L1125.01 2001.21L1124.31 2002.21L1123.59 2003.21L1122.86 2004.21L1122.14 2005.21L1121.45 2006.21L1120.78 2007.21L1120.11 2008.21L1119.44 2009.21L1118.76 2010.21L1118.09 2011.21L1117.43 2012.21L1116.77 2013.21L1116.12 2014.21L1115.47 2015.21L1114.82 2016.21L1114.17 2017.21L1113.53 2018.21L1112.91 2019.21L1112.3 2020.21L1111.73 2021.21L1111.16 2022.21L1110.57 2023.21L1109.99 2024.21L1109.43 2025.21L1108.91 2026.21L1108.47 2027.21L1108.13 2028.21L1107.88 2029.21L1107.64 2030.21L1107.43 2031.21L1107.27 2032.21L1107.17 2033.21L1107.15 2034.21L1107.25 2035.21L1107.46 2036.21L1107.75 2037.21L1108.11 2038.21L1108.52 2039.21L1108.94 2040.21L1109.49 2041.21L1110.21 2042.21L1111.07 2043.21L1112.03 2044.21L1113.04 2045.21L1114.07 2046.21L1115.12 2047.21L1116.28 2048.21L1117.52 2049.21L1118.82 2050.21L1120.14 2051.21L1121.47 2052.21L1122.76 2053.21L1124.03 2054.21L1125.31 2055.21L1126.6 2056.21L1127.89 2057.21L1129.16 2058.21L1130.4 2059.21L1131.58 2060.21L1132.69 2061.21L1133.77 2062.21L1134.82 2063.21L1135.84 2064.21L1136.83 2065.21L1137.78 2066.21L1138.71 2067.21L1139.6 2068.21L1140.46 2069.21L1141.28 2070.21L1142.06 2071.21L1142.5 2071.79Z" fill="#6d7b52"/>
<line x1="1126" y1="1995.54" x2="1143" y2="1995.54" stroke="#fff" stroke-width="4.6" stroke-dasharray="5.2 3.2"/>
<line x1="1108.36" y1="2023.57" x2="1143" y2="2023.57" stroke="#fff" stroke-width="4.6" stroke-dasharray="10.9 3.9"/>
<line x1="1106.55" y1="2039.29" x2="1143" y2="2039.29" stroke="#fff" stroke-width="4.6" stroke-dasharray="5.2 3.2"/>
<path d="M1152.14 1944.64L1152.14 1944.64L1152.37 1945.64L1152.61 1946.64L1152.86 1947.64L1153.11 1948.64L1153.37 1949.64L1153.64 1950.64L1153.92 1951.64L1154.2 1952.64L1154.49 1953.64L1154.8 1954.64L1155.13 1955.64L1155.49 1956.64L1155.86 1957.64L1156.24 1958.64L1156.61 1959.64L1156.96 1960.64L1157.3 1961.64L1157.61 1962.64L1157.88 1963.64L1158.11 1964.64L1158.32 1965.64L1158.5 1966.64L1158.67 1967.64L1158.83 1968.64L1158.98 1969.64L1159.13 1970.64L1159.28 1971.64L1159.43 1972.64L1159.59 1973.64L1159.76 1974.64L1159.94 1975.64L1160.11 1976.64L1160.28 1977.64L1160.45 1978.64L1160.63 1979.64L1160.82 1980.64L1161.03 1981.64L1161.27 1982.64L1161.53 1983.64L1161.83 1984.64L1162.19 1985.64L1162.62 1986.64L1163.09 1987.64L1163.6 1988.64L1164.15 1989.64L1164.73 1990.64L1165.33 1991.64L1165.94 1992.64L1166.58 1993.64L1167.28 1994.64L1168.03 1995.64L1168.83 1996.64L1169.66 1997.64L1170.51 1998.64L1171.37 1999.64L1172.24 2000.64L1173.09 2001.64L1173.94 2002.64L1174.81 2003.64L1175.7 2004.64L1176.59 2005.64L1177.5 2006.64L1178.4 2007.64L1179.3 2008.64L1180.2 2009.64L1181.1 2010.64L1182.04 2011.64L1183 2012.64L1183.95 2013.64L1184.88 2014.64L1185.77 2015.64L1186.6 2016.64L1187.35 2017.64L1188.06 2018.64L1188.8 2019.64L1189.55 2020.64L1190.26 2021.64L1190.9 2022.64L1191.42 2023.64L1191.79 2024.64L1191.96 2025.64L1191.96 2026.64L1191.96 2027.64L1191.96 2028.64L1191.96 2029.64L1191.96 2030.64L1191.96 2031.64L1191.93 2032.64L1191.65 2033.64L1191.16 2034.64L1190.49 2035.64L1189.72 2036.64L1188.87 2037.64L1188.03 2038.64L1187.21 2039.64L1186.31 2040.64L1185.3 2041.64L1184.21 2042.64L1183.06 2043.64L1181.86 2044.64L1180.63 2045.64L1179.4 2046.64L1178.18 2047.64L1176.9 2048.64L1175.56 2049.64L1174.18 2050.64L1172.79 2051.64L1171.41 2052.64L1170.05 2053.64L1168.74 2054.64L1167.51 2055.64L1166.29 2056.64L1165.07 2057.64L1163.87 2058.64L1162.7 2059.64L1161.59 2060.64L1160.55 2061.64L1159.58 2062.64L1158.72 2063.64L1157.91 2064.64L1157.12 2065.64L1156.38 2066.64L1155.68 2067.64L1155.03 2068.64L1154.44 2069.64L1153.92 2070.64L1153.48 2071.64L1153.09 2072.64L1152.74 2073.64L1152.44 2074.64L1152.19 2075.64L1152.14 2075.89Z" fill="#635034"/>
<line x1="1150.44" y1="2005" x2="1178.02" y2="2005" stroke="#fff" stroke-width="4.6" stroke-dasharray="5.2 3.2"/>
<line x1="1150.44" y1="2023.21" x2="1193.21" y2="2023.21" stroke="#fff" stroke-width="4.6" stroke-dasharray="10.9 3.9"/>
<line x1="1150.44" y1="2036.61" x2="1191.75" y2="2036.61" stroke="#fff" stroke-width="4.6" stroke-dasharray="5.2 3.2"/>
<path d="M1266.96 1966.07L1266.96 1966.07L1266.6 1967.07L1266.23 1968.07L1265.86 1969.07L1265.48 1970.07L1265.11 1971.07L1264.73 1972.07L1264.34 1973.07L1263.95 1974.07L1263.55 1975.07L1263.14 1976.07L1262.73 1977.07L1262.31 1978.07L1261.91 1979.07L1261.5 1980.07L1261.12 1981.07L1260.74 1982.07L1260.38 1983.07L1260.04 1984.07L1259.7 1985.07L1259.37 1986.07L1259.04 1987.07L1258.72 1988.07L1258.4 1989.07L1258.08 1990.07L1257.75 1991.07L1257.41 1992.07L1257.07 1993.07L1256.72 1994.07L1256.37 1995.07L1256.01 1996.07L1255.65 1997.07L1255.29 1998.07L1254.92 1999.07L1254.55 2000.07L1254.18 2001.07L1253.8 2002.07L1253.42 2003.07L1253.05 2004.07L1252.69 2005.07L1252.32 2006.07L1251.95 2007.07L1251.56 2008.07L1251.16 2009.07L1250.73 2010.07L1250.26 2011.07L1249.76 2012.07L1249.21 2013.07L1248.62 2014.07L1247.99 2015.07L1247.32 2016.07L1246.61 2017.07L1245.87 2018.07L1245.1 2019.07L1244.29 2020.07L1243.38 2021.07L1242.39 2022.07L1241.34 2023.07L1240.27 2024.07L1239.21 2025.07L1238.19 2026.07L1237.23 2027.07L1236.3 2028.07L1235.37 2029.07L1234.45 2030.07L1233.56 2031.07L1232.71 2032.07L1231.9 2033.07L1231.14 2034.07L1230.35 2035.07L1229.51 2036.07L1228.7 2037.07L1228.02 2038.07L1227.53 2039.07L1227.32 2040.07L1227.35 2041.07L1227.46 2042.07L1227.63 2043.07L1227.86 2044.07L1228.14 2045.07L1228.45 2046.07L1228.88 2047.07L1229.67 2048.07L1230.72 2049.07L1231.92 2050.07L1233.12 2051.07L1234.23 2052.07L1235.34 2053.07L1236.48 2054.07L1237.64 2055.07L1238.81 2056.07L1239.97 2057.07L1241.11 2058.07L1242.24 2059.07L1243.37 2060.07L1244.5 2061.07L1245.63 2062.07L1246.75 2063.07L1247.85 2064.07L1248.93 2065.07L1250 2066.07L1251.05 2067.07L1252.09 2068.07L1253.12 2069.07L1254.13 2070.07L1255.14 2071.07L1256.13 2072.07L1257.1 2073.07L1258.06 2074.07L1259 2075.07L1259.93 2076.07L1260.86 2077.07L1261.77 2078.07L1262.67 2079.07L1263.53 2080.07L1264.35 2081.07L1265.13 2082.07L1265.84 2083.07L1266.5 2084.07L1266.96 2084.82Z" fill="#6d7b52"/>
<line x1="1245.92" y1="2015.18" x2="1267.46" y2="2015.18" stroke="#fff" stroke-width="4.6" stroke-dasharray="5.2 3.2"/>
<line x1="1227.36" y1="2036.25" x2="1267.46" y2="2036.25" stroke="#fff" stroke-width="4.6" stroke-dasharray="10.9 3.9"/>
<line x1="1232.31" y1="2052.14" x2="1267.46" y2="2052.14" stroke="#fff" stroke-width="4.6" stroke-dasharray="5.2 3.2"/>
<path d="M1276.79 1952.68L1276.79 1952.68L1277.28 1953.68L1277.87 1954.68L1278.53 1955.68L1279.27 1956.68L1280.06 1957.68L1280.94 1958.68L1281.98 1959.68L1283.16 1960.68L1284.39 1961.68L1285.63 1962.68L1286.83 1963.68L1287.92 1964.68L1288.99 1965.68L1290.06 1966.68L1291.12 1967.68L1292.15 1968.68L1293.14 1969.68L1294.09 1970.68L1294.99 1971.68L1295.83 1972.68L1296.6 1973.68L1297.33 1974.68L1298.02 1975.68L1298.69 1976.68L1299.35 1977.68L1300 1978.68L1300.67 1979.68L1301.37 1980.68L1302.11 1981.68L1302.88 1982.68L1303.68 1983.68L1304.49 1984.68L1305.3 1985.68L1306.1 1986.68L1306.88 1987.68L1307.61 1988.68L1308.3 1989.68L1308.99 1990.68L1309.67 1991.68L1310.33 1992.68L1310.98 1993.68L1311.6 1994.68L1312.17 1995.68L1312.7 1996.68L1313.17 1997.68L1313.58 1998.68L1313.99 1999.68L1314.41 2000.68L1314.81 2001.68L1315.18 2002.68L1315.5 2003.68L1315.77 2004.68L1315.96 2005.68L1316.06 2006.68L1316.06 2007.68L1315.99 2008.68L1315.87 2009.68L1315.69 2010.68L1315.48 2011.68L1315.24 2012.68L1314.97 2013.68L1314.69 2014.68L1314.4 2015.68L1314.1 2016.68L1313.73 2017.68L1313.31 2018.68L1312.83 2019.68L1312.31 2020.68L1311.76 2021.68L1311.18 2022.68L1310.6 2023.68L1310.01 2024.68L1309.42 2025.68L1308.8 2026.68L1308.15 2027.68L1307.47 2028.68L1306.77 2029.68L1306.05 2030.68L1305.3 2031.68L1304.54 2032.68L1303.77 2033.68L1302.97 2034.68L1302.13 2035.68L1301.25 2036.68L1300.35 2037.68L1299.44 2038.68L1298.52 2039.68L1297.59 2040.68L1296.69 2041.68L1295.79 2042.68L1294.91 2043.68L1294.02 2044.68L1293.14 2045.68L1292.25 2046.68L1291.35 2047.68L1290.45 2048.68L1289.53 2049.68L1288.6 2050.68L1287.63 2051.68L1286.63 2052.68L1285.6 2053.68L1284.56 2054.68L1283.53 2055.68L1282.53 2056.68L1281.58 2057.68L1280.67 2058.68L1279.8 2059.68L1278.95 2060.68L1278.13 2061.68L1277.34 2062.68L1276.79 2063.39Z" fill="#635034"/>
<line x1="1275.09" y1="1991.07" x2="1311.25" y2="1991.07" stroke="#fff" stroke-width="4.6" stroke-dasharray="5.2 3.2"/>
<line x1="1275.09" y1="2007.5" x2="1318.07" y2="2007.5" stroke="#fff" stroke-width="4.6" stroke-dasharray="10.9 3.9"/>
<line x1="1275.09" y1="2027.32" x2="1310.38" y2="2027.32" stroke="#fff" stroke-width="4.6" stroke-dasharray="5.2 3.2"/>
<g stroke="#000" stroke-width="2.8" fill="none">
<path d="M1085.2 1869.8V2117.3H1334" stroke-linecap="square"/>
<path d="M1079.4 2082.1H1085.2M1079.4 2042.64H1085.2M1079.4 2003.18H1085.2M1079.4 1963.72H1085.2M1079.4 1924.26H1085.2M1079.4 1884.8H1085.2M1147 2117.3V2123.1M1272 2117.3V2123.1"/>
</g>
<g font-size="15.5" text-anchor="end">
<text x="1074.8" y="2087.9">0</text>
<text x="1074.8" y="2048.44">1</text>
<text x="1074.8" y="2008.98">2</text>
<text x="1074.8" y="1969.52">3</text>
<text x="1074.8" y="1930.06">4</text>
<text x="1074.8" y="1890.6">5</text>
</g>
<text x="1210.2" y="1860.5" font-size="18.3" text-anchor="middle">Naive(MP4)</text>
<text transform="translate(1147.1 1877.9)" font-size="15.28" color="#808080"><tspan x="-36" y="-0.86" font-style="italic">p</tspan><tspan x="-23.35" y="-0.86">=</tspan><tspan x="-7.6" y="-0.86">0.</tspan><tspan x="6.58" y="-0.86">804</tspan></text>
<text transform="translate(1272.1 1879.1)" font-size="15.28" color="#e2231a"><tspan x="-62" y="-0.6" font-style="italic">p</tspan><tspan x="-49.35" y="-0.6">=</tspan><tspan x="-33.6" y="-0.6">4.</tspan><tspan x="-19.42" y="-0.6">86</tspan><tspan x="2.95" y="-0.6">×</tspan><tspan x="18.7" y="-0.6">10</tspan><tspan x="38.25" y="-6.34" font-size="10.7">−</tspan><tspan x="47.19" y="-6.34" font-size="10.7">17</tspan></text>
<g transform="translate(1138.7 2141.8) rotate(-20)" font-size="18.3" text-anchor="end"><text x="0" y="0">favorable response</text><text x="0" y="21.7">(RCB 0-I)</text></g>
<g transform="translate(1263.7 2141.8) rotate(-20)" font-size="18.3" text-anchor="end"><text x="0" y="0">unfavorable response</text><text x="0" y="21.7">(RCB II-III)</text></g>
<path d="M1441.96 1943.75L1441.96 1943.75L1441.7 1944.75L1441.4 1945.75L1441.05 1946.75L1440.67 1947.75L1440.26 1948.75L1439.82 1949.75L1439.35 1950.75L1438.85 1951.75L1438.27 1952.75L1437.64 1953.75L1436.96 1954.75L1436.25 1955.75L1435.52 1956.75L1434.79 1957.75L1434.06 1958.75L1433.33 1959.75L1432.57 1960.75L1431.8 1961.75L1431.01 1962.75L1430.21 1963.75L1429.41 1964.75L1428.62 1965.75L1427.84 1966.75L1427.07 1967.75L1426.28 1968.75L1425.48 1969.75L1424.69 1970.75L1423.92 1971.75L1423.2 1972.75L1422.54 1973.75L1421.94 1974.75L1421.38 1975.75L1420.85 1976.75L1420.35 1977.75L1419.87 1978.75L1419.41 1979.75L1418.97 1980.75L1418.54 1981.75L1418.13 1982.75L1417.73 1983.75L1417.35 1984.75L1416.99 1985.75L1416.63 1986.75L1416.29 1987.75L1415.95 1988.75L1415.58 1989.75L1415.2 1990.75L1414.82 1991.75L1414.48 1992.75L1414.2 1993.75L1414.01 1994.75L1413.92 1995.75L1413.87 1996.75L1413.83 1997.75L1413.8 1998.75L1413.77 1999.75L1413.76 2000.75L1413.75 2001.75L1413.82 2002.75L1414.03 2003.75L1414.33 2004.75L1414.72 2005.75L1415.14 2006.75L1415.58 2007.75L1416 2008.75L1416.42 2009.75L1416.91 2010.75L1417.44 2011.75L1417.99 2012.75L1418.53 2013.75L1419.05 2014.75L1419.51 2015.75L1419.91 2016.75L1420.27 2017.75L1420.62 2018.75L1420.94 2019.75L1421.26 2020.75L1421.57 2021.75L1421.88 2022.75L1422.2 2023.75L1422.53 2024.75L1422.85 2025.75L1423.16 2026.75L1423.48 2027.75L1423.8 2028.75L1424.13 2029.75L1424.47 2030.75L1424.85 2031.75L1425.25 2032.75L1425.69 2033.75L1426.16 2034.75L1426.66 2035.75L1427.17 2036.75L1427.7 2037.75L1428.23 2038.75L1428.77 2039.75L1429.3 2040.75L1429.83 2041.75L1430.38 2042.75L1430.95 2043.75L1431.53 2044.75L1432.11 2045.75L1432.69 2046.75L1433.25 2047.75L1433.79 2048.75L1434.29 2049.75L1434.76 2050.75L1435.19 2051.75L1435.59 2052.75L1435.97 2053.75L1436.34 2054.75L1436.7 2055.75L1437.04 2056.75L1437.38 2057.75L1437.72 2058.75L1438.06 2059.75L1438.41 2060.75L1438.76 2061.75L1439.12 2062.75L1439.48 2063.75L1439.84 2064.75L1440.19 2065.75L1440.51 2066.75L1440.81 2067.75L1441.07 2068.75L1441.31 2069.75L1441.52 2070.75L1441.72 2071.75L1441.89 2072.75L1441.96 2073.21Z" fill="#6d7b52"/>
<line x1="1416.6" y1="1981.61" x2="1442.46" y2="1981.61" stroke="#fff" stroke-width="4.6" stroke-dasharray="5.2 3.2"/>
<line x1="1411.77" y1="2002.32" x2="1442.46" y2="2002.32" stroke="#fff" stroke-width="4.6" stroke-dasharray="10.9 3.9"/>
<line x1="1421.01" y1="2026.25" x2="1442.46" y2="2026.25" stroke="#fff" stroke-width="4.6" stroke-dasharray="5.2 3.2"/>
<path d="M1451.25 1930.36L1451.25 1930.36L1451.4 1931.36L1451.56 1932.36L1451.74 1933.36L1451.93 1934.36L1452.14 1935.36L1452.37 1936.36L1452.6 1937.36L1452.85 1938.36L1453.11 1939.36L1453.38 1940.36L1453.65 1941.36L1453.95 1942.36L1454.28 1943.36L1454.63 1944.36L1455 1945.36L1455.39 1946.36L1455.79 1947.36L1456.2 1948.36L1456.63 1949.36L1457.05 1950.36L1457.48 1951.36L1457.9 1952.36L1458.32 1953.36L1458.76 1954.36L1459.22 1955.36L1459.68 1956.36L1460.15 1957.36L1460.63 1958.36L1461.11 1959.36L1461.58 1960.36L1462.06 1961.36L1462.52 1962.36L1462.98 1963.36L1463.42 1964.36L1463.86 1965.36L1464.31 1966.36L1464.75 1967.36L1465.19 1968.36L1465.62 1969.36L1466.05 1970.36L1466.47 1971.36L1466.87 1972.36L1467.26 1973.36L1467.63 1974.36L1467.98 1975.36L1468.32 1976.36L1468.65 1977.36L1468.97 1978.36L1469.28 1979.36L1469.58 1980.36L1469.87 1981.36L1470.14 1982.36L1470.4 1983.36L1470.64 1984.36L1470.89 1985.36L1471.13 1986.36L1471.37 1987.36L1471.6 1988.36L1471.81 1989.36L1472 1990.36L1472.16 1991.36L1472.28 1992.36L1472.36 1993.36L1472.44 1994.36L1472.5 1995.36L1472.57 1996.36L1472.62 1997.36L1472.65 1998.36L1472.67 1999.36L1472.67 2000.36L1472.58 2001.36L1472.4 2002.36L1472.14 2003.36L1471.83 2004.36L1471.49 2005.36L1471.13 2006.36L1470.77 2007.36L1470.43 2008.36L1470.06 2009.36L1469.66 2010.36L1469.23 2011.36L1468.77 2012.36L1468.3 2013.36L1467.81 2014.36L1467.32 2015.36L1466.82 2016.36L1466.29 2017.36L1465.72 2018.36L1465.14 2019.36L1464.54 2020.36L1463.96 2021.36L1463.39 2022.36L1462.86 2023.36L1462.38 2024.36L1461.93 2025.36L1461.48 2026.36L1461.05 2027.36L1460.63 2028.36L1460.24 2029.36L1459.87 2030.36L1459.53 2031.36L1459.22 2032.36L1458.94 2033.36L1458.69 2034.36L1458.45 2035.36L1458.23 2036.36L1458.01 2037.36L1457.79 2038.36L1457.57 2039.36L1457.33 2040.36L1457.07 2041.36L1456.79 2042.36L1456.49 2043.36L1456.18 2044.36L1455.87 2045.36L1455.56 2046.36L1455.25 2047.36L1454.94 2048.36L1454.65 2049.36L1454.37 2050.36L1454.09 2051.36L1453.83 2052.36L1453.56 2053.36L1453.3 2054.36L1453.05 2055.36L1452.79 2056.36L1452.54 2057.36L1452.29 2058.36L1452.03 2059.36L1451.78 2060.36L1451.53 2061.36L1451.29 2062.36L1451.25 2062.5Z" fill="#635034"/>
<line x1="1449.55" y1="1975" x2="1469.86" y2="1975" stroke="#fff" stroke-width="4.6" stroke-dasharray="5.2 3.2"/>
<line x1="1449.55" y1="2000.89" x2="1474.63" y2="2000.89" stroke="#fff" stroke-width="4.6" stroke-dasharray="10.9 3.9"/>
<line x1="1449.55" y1="2010.18" x2="1471.73" y2="2010.18" stroke="#fff" stroke-width="4.6" stroke-dasharray="5.2 3.2"/>
<path d="M1566.61 1985.71L1566.61 1985.71L1566.32 1986.71L1566.02 1987.71L1565.69 1988.71L1565.35 1989.71L1564.98 1990.71L1564.6 1991.71L1564.2 1992.71L1563.79 1993.71L1563.36 1994.71L1562.91 1995.71L1562.43 1996.71L1561.93 1997.71L1561.4 1998.71L1560.85 1999.71L1560.28 2000.71L1559.7 2001.71L1559.1 2002.71L1558.49 2003.71L1557.88 2004.71L1557.25 2005.71L1556.59 2006.71L1555.91 2007.71L1555.21 2008.71L1554.5 2009.71L1553.77 2010.71L1553.03 2011.71L1552.29 2012.71L1551.54 2013.71L1550.78 2014.71L1550 2015.71L1549.2 2016.71L1548.39 2017.71L1547.57 2018.71L1546.76 2019.71L1545.94 2020.71L1545.13 2021.71L1544.33 2022.71L1543.54 2023.71L1542.75 2024.71L1541.96 2025.71L1541.18 2026.71L1540.38 2027.71L1539.58 2028.71L1538.77 2029.71L1537.95 2030.71L1537.1 2031.71L1536.21 2032.71L1535.29 2033.71L1534.36 2034.71L1533.42 2035.71L1532.5 2036.71L1531.63 2037.71L1530.8 2038.71L1530.02 2039.71L1529.17 2040.71L1528.3 2041.71L1527.48 2042.71L1526.81 2043.71L1526.37 2044.71L1526.25 2045.71L1526.38 2046.71L1526.66 2047.71L1527.05 2048.71L1527.52 2049.71L1528.03 2050.71L1528.54 2051.71L1529.08 2052.71L1529.71 2053.71L1530.43 2054.71L1531.21 2055.71L1532.04 2056.71L1532.89 2057.71L1533.75 2058.71L1534.61 2059.71L1535.53 2060.71L1536.48 2061.71L1537.47 2062.71L1538.49 2063.71L1539.53 2064.71L1540.6 2065.71L1541.69 2066.71L1542.8 2067.71L1543.97 2068.71L1545.17 2069.71L1546.4 2070.71L1547.66 2071.71L1548.92 2072.71L1550.18 2073.71L1551.43 2074.71L1552.68 2075.71L1553.97 2076.71L1555.28 2077.71L1556.58 2078.71L1557.86 2079.71L1559.09 2080.71L1560.25 2081.71L1561.32 2082.71L1562.35 2083.71L1563.34 2084.71L1564.29 2085.71L1565.2 2086.71L1566.05 2087.71L1566.61 2088.39Z" fill="#6d7b52"/>
<line x1="1541.65" y1="2023.57" x2="1567.11" y2="2023.57" stroke="#fff" stroke-width="4.6" stroke-dasharray="5.2 3.2"/>
<line x1="1525" y1="2043.39" x2="1567.11" y2="2043.39" stroke="#fff" stroke-width="4.6" stroke-dasharray="10.9 3.9"/>
<line x1="1531.32" y1="2058.21" x2="1567.11" y2="2058.21" stroke="#fff" stroke-width="4.6" stroke-dasharray="5.2 3.2"/>
<path d="M1576.25 1993.75L1576.25 1993.75L1576.71 1994.75L1577.26 1995.75L1577.89 1996.75L1578.59 1997.75L1579.35 1998.75L1580.15 1999.75L1581.04 2000.75L1582.08 2001.75L1583.24 2002.75L1584.47 2003.75L1585.71 2004.75L1586.92 2005.75L1588.07 2006.75L1589.21 2007.75L1590.36 2008.75L1591.5 2009.75L1592.64 2010.75L1593.75 2011.75L1594.85 2012.75L1595.91 2013.75L1596.96 2014.75L1597.99 2015.75L1599 2016.75L1600 2017.75L1600.98 2018.75L1601.94 2019.75L1602.88 2020.75L1603.79 2021.75L1604.68 2022.75L1605.56 2023.75L1606.42 2024.75L1607.27 2025.75L1608.13 2026.75L1608.99 2027.75L1609.9 2028.75L1610.86 2029.75L1611.81 2030.75L1612.72 2031.75L1613.52 2032.75L1614.19 2033.75L1614.74 2034.75L1615.29 2035.75L1615.78 2036.75L1616.17 2037.75L1616.39 2038.75L1616.38 2039.75L1615.98 2040.75L1615.27 2041.75L1614.37 2042.75L1613.39 2043.75L1612.14 2044.75L1610.43 2045.75L1608.45 2046.75L1606.34 2047.75L1604.27 2048.75L1602.31 2049.75L1600.23 2050.75L1598.08 2051.75L1595.96 2052.75L1593.93 2053.75L1592.08 2054.75L1590.46 2055.75L1588.93 2056.75L1587.46 2057.75L1586.09 2058.75L1584.86 2059.75L1583.79 2060.75L1582.92 2061.75L1582.18 2062.75L1581.5 2063.75L1580.88 2064.75L1580.32 2065.75L1579.81 2066.75L1579.34 2067.75L1578.92 2068.75L1578.53 2069.75L1578.18 2070.75L1577.86 2071.75L1577.57 2072.75L1577.3 2073.75L1577.05 2074.75L1576.82 2075.75L1576.6 2076.75L1576.4 2077.75L1576.25 2078.57Z" fill="#635034"/>
<line x1="1574.55" y1="2021.43" x2="1605.5" y2="2021.43" stroke="#fff" stroke-width="4.6" stroke-dasharray="5.2 3.2"/>
<line x1="1574.55" y1="2035.71" x2="1617.27" y2="2035.71" stroke="#fff" stroke-width="4.6" stroke-dasharray="10.9 3.9"/>
<line x1="1574.55" y1="2046.96" x2="1610" y2="2046.96" stroke="#fff" stroke-width="4.6" stroke-dasharray="5.2 3.2"/>
<g stroke="#000" stroke-width="2.8" fill="none">
<path d="M1384.3 1869.8V2117.3H1633.1" stroke-linecap="square"/>
<path d="M1378.5 2082.1H1384.3M1378.5 2042.64H1384.3M1378.5 2003.18H1384.3M1378.5 1963.72H1384.3M1378.5 1924.26H1384.3M1378.5 1884.8H1384.3M1446.4 2117.3V2123.1M1571.4 2117.3V2123.1"/>
</g>
<text x="1509.3" y="1860.5" font-size="18.3" text-anchor="middle">Cytotoxic(MP1)</text>
<text transform="translate(1446.5 1877.9)" font-size="15.28" color="#808080"><tspan x="-36.5" y="-0.86" font-style="italic">p</tspan><tspan x="-23.85" y="-0.86">=</tspan><tspan x="-8.1" y="-0.86">0.102</tspan></text>
<text transform="translate(1571.5 1877.9)" font-size="15.28" color="#e2231a"><tspan x="-36.5" y="-0.86" font-style="italic">p</tspan><tspan x="-23.85" y="-0.86">=</tspan><tspan x="-8.1" y="-0.86">0.004</tspan></text>
<g transform="translate(1438.1 2141.8) rotate(-20)" font-size="18.3" text-anchor="end"><text x="0" y="0">favorable response</text><text x="0" y="21.7">(RCB 0-I)</text></g>
<g transform="translate(1563.1 2141.8) rotate(-20)" font-size="18.3" text-anchor="end"><text x="0" y="0">unfavorable response</text><text x="0" y="21.7">(RCB II-III)</text></g>
<path d="M1741.07 1938.39L1741.07 1938.39L1740.88 1939.39L1740.64 1940.39L1740.36 1941.39L1740.03 1942.39L1739.66 1943.39L1739.27 1944.39L1738.85 1945.39L1738.41 1946.39L1737.92 1947.39L1737.36 1948.39L1736.73 1949.39L1736.05 1950.39L1735.32 1951.39L1734.55 1952.39L1733.75 1953.39L1732.94 1954.39L1732.11 1955.39L1731.24 1956.39L1730.28 1957.39L1729.27 1958.39L1728.22 1959.39L1727.16 1960.39L1726.11 1961.39L1725.08 1962.39L1724.11 1963.39L1723.16 1964.39L1722.19 1965.39L1721.23 1966.39L1720.29 1967.39L1719.38 1968.39L1718.52 1969.39L1717.72 1970.39L1716.99 1971.39L1716.31 1972.39L1715.64 1973.39L1715 1974.39L1714.4 1975.39L1713.83 1976.39L1713.33 1977.39L1712.89 1978.39L1712.52 1979.39L1712.2 1980.39L1711.89 1981.39L1711.59 1982.39L1711.31 1983.39L1711.07 1984.39L1710.89 1985.39L1710.76 1986.39L1710.71 1987.39L1710.73 1988.39L1710.78 1989.39L1710.87 1990.39L1710.98 1991.39L1711.11 1992.39L1711.26 1993.39L1711.42 1994.39L1711.58 1995.39L1711.78 1996.39L1712.04 1997.39L1712.36 1998.39L1712.72 1999.39L1713.1 2000.39L1713.49 2001.39L1713.87 2002.39L1714.23 2003.39L1714.56 2004.39L1714.89 2005.39L1715.23 2006.39L1715.56 2007.39L1715.89 2008.39L1716.23 2009.39L1716.56 2010.39L1716.89 2011.39L1717.22 2012.39L1717.54 2013.39L1717.86 2014.39L1718.18 2015.39L1718.5 2016.39L1718.84 2017.39L1719.18 2018.39L1719.55 2019.39L1719.93 2020.39L1720.34 2021.39L1720.76 2022.39L1721.2 2023.39L1721.65 2024.39L1722.12 2025.39L1722.59 2026.39L1723.08 2027.39L1723.57 2028.39L1724.09 2029.39L1724.63 2030.39L1725.18 2031.39L1725.74 2032.39L1726.31 2033.39L1726.87 2034.39L1727.43 2035.39L1727.98 2036.39L1728.52 2037.39L1729.04 2038.39L1729.55 2039.39L1730.07 2040.39L1730.57 2041.39L1731.08 2042.39L1731.58 2043.39L1732.08 2044.39L1732.57 2045.39L1733.05 2046.39L1733.54 2047.39L1734.01 2048.39L1734.5 2049.39L1734.98 2050.39L1735.47 2051.39L1735.95 2052.39L1736.43 2053.39L1736.89 2054.39L1737.34 2055.39L1737.76 2056.39L1738.15 2057.39L1738.52 2058.39L1738.87 2059.39L1739.21 2060.39L1739.54 2061.39L1739.85 2062.39L1740.15 2063.39L1740.43 2064.39L1740.69 2065.39L1740.94 2066.39L1741.07 2066.96Z" fill="#6d7b52"/>
<line x1="1713.18" y1="1974.11" x2="1741.57" y2="1974.11" stroke="#fff" stroke-width="4.6" stroke-dasharray="5.2 3.2"/>
<line x1="1709.31" y1="1993.75" x2="1741.57" y2="1993.75" stroke="#fff" stroke-width="4.6" stroke-dasharray="10.9 3.9"/>
<line x1="1718.13" y1="2020.89" x2="1741.57" y2="2020.89" stroke="#fff" stroke-width="4.6" stroke-dasharray="5.2 3.2"/>
<path d="M1750.54 1955.36L1750.54 1955.36L1750.95 1956.36L1751.42 1957.36L1751.93 1958.36L1752.49 1959.36L1753.08 1960.36L1753.71 1961.36L1754.37 1962.36L1755.06 1963.36L1755.82 1964.36L1756.62 1965.36L1757.48 1966.36L1758.39 1967.36L1759.35 1968.36L1760.36 1969.36L1761.41 1970.36L1762.54 1971.36L1763.76 1972.36L1765.08 1973.36L1766.47 1974.36L1767.92 1975.36L1769.42 1976.36L1770.94 1977.36L1772.51 1978.36L1774.21 1979.36L1776 1980.36L1777.81 1981.36L1779.59 1982.36L1781.26 1983.36L1782.79 1984.36L1784.35 1985.36L1785.88 1986.36L1787.28 1987.36L1788.47 1988.36L1789.34 1989.36L1790.04 1990.36L1790.65 1991.36L1791.02 1992.36L1791.03 1993.36L1790.71 1994.36L1790.18 1995.36L1789.53 1996.36L1788.88 1997.36L1788.32 1998.36L1787.8 1999.36L1787.25 2000.36L1786.69 2001.36L1786.15 2002.36L1785.65 2003.36L1785.2 2004.36L1784.82 2005.36L1784.51 2006.36L1784.24 2007.36L1783.99 2008.36L1783.76 2009.36L1783.53 2010.36L1783.31 2011.36L1783.07 2012.36L1782.83 2013.36L1782.62 2014.36L1782.41 2015.36L1782.19 2016.36L1781.95 2017.36L1781.68 2018.36L1781.35 2019.36L1780.94 2020.36L1780.39 2021.36L1779.73 2022.36L1778.96 2023.36L1778.12 2024.36L1777.22 2025.36L1776.29 2026.36L1775.34 2027.36L1774.28 2028.36L1773.12 2029.36L1771.88 2030.36L1770.56 2031.36L1769.19 2032.36L1767.78 2033.36L1766.32 2034.36L1764.68 2035.36L1762.91 2036.36L1761.13 2037.36L1759.44 2038.36L1757.94 2039.36L1756.63 2040.36L1755.44 2041.36L1754.29 2042.36L1753.14 2043.36L1751.95 2044.36L1750.75 2045.36L1750.54 2045.54Z" fill="#635034"/>
<line x1="1748.84" y1="1987.14" x2="1789" y2="1987.14" stroke="#fff" stroke-width="4.6" stroke-dasharray="5.2 3.2"/>
<line x1="1748.84" y1="1998.21" x2="1790.39" y2="1998.21" stroke="#fff" stroke-width="4.6" stroke-dasharray="10.9 3.9"/>
<line x1="1748.84" y1="2017.32" x2="1783.96" y2="2017.32" stroke="#fff" stroke-width="4.6" stroke-dasharray="5.2 3.2"/>
<path d="M1866.07 1968.75L1866.07 1968.75L1865.88 1969.75L1865.66 1970.75L1865.43 1971.75L1865.17 1972.75L1864.9 1973.75L1864.61 1974.75L1864.31 1975.75L1864 1976.75L1863.67 1977.75L1863.33 1978.75L1862.96 1979.75L1862.56 1980.75L1862.13 1981.75L1861.67 1982.75L1861.2 1983.75L1860.71 1984.75L1860.22 1985.75L1859.73 1986.75L1859.24 1987.75L1858.76 1988.75L1858.24 1989.75L1857.69 1990.75L1857.13 1991.75L1856.57 1992.75L1856.02 1993.75L1855.51 1994.75L1855.05 1995.75L1854.65 1996.75L1854.34 1997.75L1854.07 1998.75L1853.83 1999.75L1853.61 2000.75L1853.41 2001.75L1853.21 2002.75L1853.01 2003.75L1852.81 2004.75L1852.59 2005.75L1852.39 2006.75L1852.19 2007.75L1852 2008.75L1851.81 2009.75L1851.59 2010.75L1851.36 2011.75L1851.09 2012.75L1850.77 2013.75L1850.39 2014.75L1849.93 2015.75L1849.4 2016.75L1848.83 2017.75L1848.21 2018.75L1847.56 2019.75L1846.89 2020.75L1846.2 2021.75L1845.44 2022.75L1844.61 2023.75L1843.71 2024.75L1842.78 2025.75L1841.82 2026.75L1840.87 2027.75L1839.93 2028.75L1839.03 2029.75L1838.12 2030.75L1837.19 2031.75L1836.26 2032.75L1835.34 2033.75L1834.44 2034.75L1833.56 2035.75L1832.73 2036.75L1831.95 2037.75L1831.17 2038.75L1830.38 2039.75L1829.61 2040.75L1828.87 2041.75L1828.19 2042.75L1827.59 2043.75L1827.09 2044.75L1826.71 2045.75L1826.38 2046.75L1826.07 2047.75L1825.77 2048.75L1825.51 2049.75L1825.29 2050.75L1825.13 2051.75L1825.03 2052.75L1825 2053.75L1825.18 2054.75L1825.57 2055.75L1826.15 2056.75L1826.86 2057.75L1827.66 2058.75L1828.51 2059.75L1829.61 2060.75L1831.14 2061.75L1832.95 2062.75L1834.88 2063.75L1836.75 2064.75L1838.48 2065.75L1840.23 2066.75L1842 2067.75L1843.77 2068.75L1845.49 2069.75L1847.15 2070.75L1848.7 2071.75L1850.21 2072.75L1851.68 2073.75L1853.11 2074.75L1854.49 2075.75L1855.81 2076.75L1857.06 2077.75L1858.24 2078.75L1859.33 2079.75L1860.36 2080.75L1861.33 2081.75L1862.28 2082.75L1863.24 2083.75L1864.21 2084.75L1865.21 2085.75L1866.07 2086.61Z" fill="#6d7b52"/>
<line x1="1847.08" y1="2017.32" x2="1866.57" y2="2017.32" stroke="#fff" stroke-width="4.6" stroke-dasharray="5.2 3.2"/>
<line x1="1828.32" y1="2039.82" x2="1866.57" y2="2039.82" stroke="#fff" stroke-width="4.6" stroke-dasharray="10.9 3.9"/>
<line x1="1824.67" y1="2057.5" x2="1866.57" y2="2057.5" stroke="#fff" stroke-width="4.6" stroke-dasharray="5.2 3.2"/>
<path d="M1875.36 1953.57L1875.36 1953.57L1875.55 1954.57L1875.74 1955.57L1875.92 1956.57L1876.09 1957.57L1876.25 1958.57L1876.4 1959.57L1876.55 1960.57L1876.68 1961.57L1876.79 1962.57L1876.9 1963.57L1876.98 1964.57L1877.06 1965.57L1877.14 1966.57L1877.21 1967.57L1877.28 1968.57L1877.35 1969.57L1877.42 1970.57L1877.51 1971.57L1877.61 1972.57L1877.72 1973.57L1877.84 1974.57L1877.98 1975.57L1878.13 1976.57L1878.29 1977.57L1878.46 1978.57L1878.66 1979.57L1878.87 1980.57L1879.09 1981.57L1879.34 1982.57L1879.62 1983.57L1879.96 1984.57L1880.37 1985.57L1880.84 1986.57L1881.35 1987.57L1881.9 1988.57L1882.48 1989.57L1883.08 1990.57L1883.69 1991.57L1884.31 1992.57L1884.99 1993.57L1885.73 1994.57L1886.51 1995.57L1887.31 1996.57L1888.14 1997.57L1888.98 1998.57L1889.82 1999.57L1890.66 2000.57L1891.5 2001.57L1892.36 2002.57L1893.24 2003.57L1894.13 2004.57L1895.04 2005.57L1895.95 2006.57L1896.89 2007.57L1897.83 2008.57L1898.82 2009.57L1899.83 2010.57L1900.86 2011.57L1901.89 2012.57L1902.91 2013.57L1903.89 2014.57L1904.83 2015.57L1905.79 2016.57L1906.76 2017.57L1907.7 2018.57L1908.61 2019.57L1909.46 2020.57L1910.21 2021.57L1910.87 2022.57L1911.53 2023.57L1912.18 2024.57L1912.79 2025.57L1913.29 2026.57L1913.63 2027.57L1913.75 2028.57L1913.69 2029.57L1913.53 2030.57L1913.28 2031.57L1912.97 2032.57L1912.63 2033.57L1912.22 2034.57L1911.6 2035.57L1910.81 2036.57L1909.88 2037.57L1908.86 2038.57L1907.8 2039.57L1906.7 2040.57L1905.45 2041.57L1904.03 2042.57L1902.53 2043.57L1900.98 2044.57L1899.46 2045.57L1898.01 2046.57L1896.6 2047.57L1895.18 2048.57L1893.76 2049.57L1892.36 2050.57L1890.99 2051.57L1889.66 2052.57L1888.39 2053.57L1887.16 2054.57L1885.95 2055.57L1884.76 2056.57L1883.62 2057.57L1882.51 2058.57L1881.47 2059.57L1880.49 2060.57L1879.57 2061.57L1878.69 2062.57L1877.85 2063.57L1877.06 2064.57L1876.31 2065.57L1875.62 2066.57L1875.36 2066.96Z" fill="#635034"/>
<line x1="1873.66" y1="2006.25" x2="1897.66" y2="2006.25" stroke="#fff" stroke-width="4.6" stroke-dasharray="5.2 3.2"/>
<line x1="1873.66" y1="2023.21" x2="1913.29" y2="2023.21" stroke="#fff" stroke-width="4.6" stroke-dasharray="10.9 3.9"/>
<line x1="1873.66" y1="2037.5" x2="1911.95" y2="2037.5" stroke="#fff" stroke-width="4.6" stroke-dasharray="5.2 3.2"/>
<g stroke="#000" stroke-width="2.8" fill="none">
<path d="M1683.4 1869.8V2117.3H1932.2" stroke-linecap="square"/>
<path d="M1677.6 2082.1H1683.4M1677.6 2042.64H1683.4M1677.6 2003.18H1683.4M1677.6 1963.72H1683.4M1677.6 1924.26H1683.4M1677.6 1884.8H1683.4M1745.9 2117.3V2123.1M1870.7 2117.3V2123.1"/>
</g>
<text x="1808.4" y="1860.5" font-size="18.3" text-anchor="middle">Exhausted(MP3)</text>
<text transform="translate(1746 1877.9)" font-size="15.28" color="#808080"><tspan x="-36.5" y="-0.86" font-style="italic">p</tspan><tspan x="-23.85" y="-0.86">=</tspan><tspan x="-8.1" y="-0.86">0.310</tspan></text>
<text transform="translate(1870.8 1879.1)" font-size="15.28" color="#e2231a"><tspan x="-58.5" y="-0.6" font-style="italic">p</tspan><tspan x="-45.85" y="-0.6">=</tspan><tspan x="-30.1" y="-0.6">1.43</tspan><tspan x="6.83" y="-0.6">×</tspan><tspan x="22.58" y="-0.6">10</tspan><tspan x="42.12" y="-6.34" font-size="10.7">−</tspan><tspan x="51.07" y="-6.34" font-size="10.7">7</tspan></text>
<g transform="translate(1737.6 2141.8) rotate(-20)" font-size="18.3" text-anchor="end"><text x="0" y="0">favorable response</text><text x="0" y="21.7">(RCB 0-I)</text></g>
<g transform="translate(1862.4 2141.8) rotate(-20)" font-size="18.3" text-anchor="end"><text x="0" y="0">unfavorable response</text><text x="0" y="21.7">(RCB II-III)</text></g>
<text transform="translate(1034.1 1994.3) rotate(-90)" font-size="18.3" text-anchor="middle">Signature score</text>
<text transform="translate(1055 1994.3) rotate(-90)" font-size="18.3" text-anchor="middle">(VISION)</text>
<rect x="1082.3" y="2278.7" width="29.6" height="7.8" fill="#6d7b52"/>
<text font-size="16.9"><tspan x="1127.5" y="2279.4">W7D1</tspan><tspan x="1127.5" y="2298.2">On combination</tspan></text>
<rect x="1301.1" y="2276.7" width="29.6" height="7.8" fill="#635034"/>
<text font-size="16.9"><tspan x="1346.3" y="2277.4">Pre-surgery</tspan><tspan x="1346.3" y="2296.2">Post combination(+AC)</tspan></text>
<g font-family="'Liberation Sans', sans-serif" font-size="60"><text transform="translate(31.6 44) scale(0.985 1.06)" style="stroke-width:0px">A</text><text transform="translate(1215.6 44.5) scale(0.968 1.07)" style="stroke-width:0.2px">B</text><text transform="translate(1214.9 675.2) scale(1.036 1.054)" style="stroke-width:0.6px">C</text><text transform="translate(32.7 1280) scale(1.024 1.06)" style="stroke-width:0.2px">D</text><text transform="translate(1004.2 1291) scale(0.87 1.069)" style="stroke-width:1.0px">E</text><text transform="translate(1004.3 1875.8) scale(0.9 1.074)" style="stroke-width:0.6px">F</text></g>
</svg>
</body>
</html>
